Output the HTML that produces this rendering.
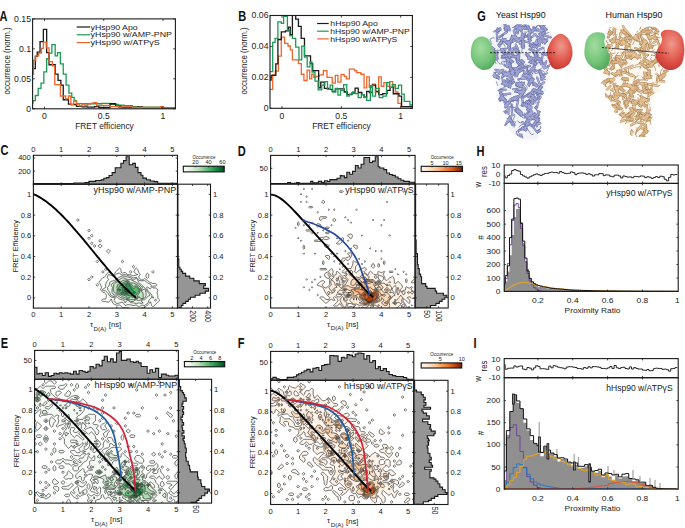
<!DOCTYPE html>
<html><head><meta charset="utf-8"><style>
html,body{margin:0;padding:0;background:#fff;width:685px;height:528px;overflow:hidden}
svg{display:block}
text{font-family:"Liberation Sans", sans-serif}
</style></head><body>
<svg width="685" height="528" viewBox="0 0 685 528">
<rect width="685" height="528" fill="#fff"/>
<text font-size="13.8" fill="#111" font-weight="bold" transform="translate(-0.5 20.8) scale(0.8 1)">A</text>
<text font-size="13.8" fill="#111" font-weight="bold" transform="translate(238.2 20.8) scale(0.8 1)">B</text>
<text font-size="13.8" fill="#111" font-weight="bold" transform="translate(0.6 155.4) scale(0.8 1)">C</text>
<text font-size="13.8" fill="#111" font-weight="bold" transform="translate(237.7 155.6) scale(0.8 1)">D</text>
<text font-size="13.8" fill="#111" font-weight="bold" transform="translate(0.7 347.6) scale(0.8 1)">E</text>
<text font-size="13.8" fill="#111" font-weight="bold" transform="translate(237.7 347.6) scale(0.8 1)">F</text>
<text font-size="13.8" fill="#111" font-weight="bold" transform="translate(477.3 21) scale(0.8 1)">G</text>
<text font-size="13.8" fill="#111" font-weight="bold" transform="translate(476.6 155.6) scale(0.8 1)">H</text>
<text font-size="13.8" fill="#111" font-weight="bold" transform="translate(473.4 347.7) scale(0.8 1)">I</text>
<clipPath id="clA"><rect x="32.6" y="18.9" width="142.8" height="89.9"/></clipPath>
<g clip-path="url(#clA)">
<path d="M32.6 103H32.95V100.72H35.31V95.51H38.16V88.41H41V83.2H43.84V71.84H46.67V58.76H49.03V53.08H51.87V44.56H55.19V55.92H57.55V52.6H60.39V63.96H63.25V74.2H66.09V85.09H68.93V93.14H71.77V97.41H74.14V100.72H76.51V103.56H82V103.74H101.62V103.31H110.03V104.3H118.44V105.14H124.05V105.7H132.46V106.54H138.06V107.1H160.49V107.94H175.9" fill="none" stroke="#1c9a55" stroke-width="1.3"/>
<path d="M33 74H33.4V68.7H35.31V56.39H37.2V52.13H40.04V41.72H43.36V29.42H46.67V52.6H49.05V64.73H55.2V74.2H58.04V80.36H60.88V85.09H63.25V99.77H68.46V104.03H70.83V104.51H76.51V106.4H82V106.82H87.61V107.1H94.61V106.54H98.82V107.52H110.03V103.74H115.64V106.12H121.24V107.52H138.06V106.82H142.27V107.94H175.9" fill="none" stroke="#1a1a1a" stroke-width="1.3"/>
<path d="M32 74.37H33.42V60.18H35.79V55.92H38.62V53.08H41.46V48.35H43.36V42.2H46.2V47.87H49.03V61.6H52.35V65.85H54.73V84.62H60.41V95.98H65.62V98.83H68.46V95.98H70.83V104.51H73.67V101.19H76.51V104.03H79.35V105.93H82V104.02H84.8V105.42H87.61V104.02H90.41V103.31H93.21V102.61H96.72V105.7H100.22V105.42H110.03V106.54H118.44V107.52H121.24V106.82H132.46V107.52H135.26V107.52H160.49V106.54H163.29V107.94H175.9" fill="none" stroke="#f0652a" stroke-width="1.3"/>
</g>
<line x1="44.5" y1="108.8" x2="44.5" y2="106.6" stroke="#1a1a1a" stroke-width="0.8"/>
<line x1="44.5" y1="18.9" x2="44.5" y2="21.1" stroke="#1a1a1a" stroke-width="0.8"/>
<text font-size="8.2" fill="#1a1a1a" text-anchor="middle" transform="translate(44.5 118.8) scale(1.06 1)">0</text>
<line x1="103.75" y1="108.8" x2="103.75" y2="106.6" stroke="#1a1a1a" stroke-width="0.8"/>
<line x1="103.75" y1="18.9" x2="103.75" y2="21.1" stroke="#1a1a1a" stroke-width="0.8"/>
<text font-size="8.2" fill="#1a1a1a" text-anchor="middle" transform="translate(103.75 118.8) scale(1.06 1)">0.5</text>
<line x1="163" y1="108.8" x2="163" y2="106.6" stroke="#1a1a1a" stroke-width="0.8"/>
<line x1="163" y1="18.9" x2="163" y2="21.1" stroke="#1a1a1a" stroke-width="0.8"/>
<text font-size="8.2" fill="#1a1a1a" text-anchor="middle" transform="translate(163 118.8) scale(1.06 1)">1</text>
<line x1="32.6" y1="108.8" x2="34.8" y2="108.8" stroke="#1a1a1a" stroke-width="0.8"/>
<line x1="175.4" y1="108.8" x2="173.2" y2="108.8" stroke="#1a1a1a" stroke-width="0.8"/>
<text font-size="8.2" fill="#1a1a1a" text-anchor="end" transform="translate(31 111.75) scale(1.06 1)">0</text>
<line x1="32.6" y1="78.8" x2="34.8" y2="78.8" stroke="#1a1a1a" stroke-width="0.8"/>
<line x1="175.4" y1="78.8" x2="173.2" y2="78.8" stroke="#1a1a1a" stroke-width="0.8"/>
<text font-size="8.2" fill="#1a1a1a" text-anchor="end" transform="translate(31 81.75) scale(1.06 1)">0.05</text>
<line x1="32.6" y1="48.8" x2="34.8" y2="48.8" stroke="#1a1a1a" stroke-width="0.8"/>
<line x1="175.4" y1="48.8" x2="173.2" y2="48.8" stroke="#1a1a1a" stroke-width="0.8"/>
<text font-size="8.2" fill="#1a1a1a" text-anchor="end" transform="translate(31 51.75) scale(1.06 1)">0.1</text>
<line x1="32.6" y1="18.8" x2="34.8" y2="18.8" stroke="#1a1a1a" stroke-width="0.8"/>
<line x1="175.4" y1="18.8" x2="173.2" y2="18.8" stroke="#1a1a1a" stroke-width="0.8"/>
<text font-size="8.2" fill="#1a1a1a" text-anchor="end" transform="translate(31 21.75) scale(1.06 1)">0.15</text>
<rect x="32.6" y="18.9" width="142.8" height="89.9" fill="none" stroke="#1a1a1a" stroke-width="1.1"/>
<text font-size="8.4" fill="#1a1a1a" text-anchor="middle" textLength="58.5" lengthAdjust="spacingAndGlyphs" transform="translate(104.5 128.6)">FRET efficiency</text>
<text font-size="8.2" fill="#1a1a1a" text-anchor="middle" textLength="67.2" lengthAdjust="spacingAndGlyphs" transform="translate(10.3 60.9) rotate(-90)">occurrence (norm.)</text>
<line x1="76.7" y1="27" x2="90" y2="27" stroke="#1a1a1a" stroke-width="1.2"/>
<line x1="76.7" y1="34.8" x2="90" y2="34.8" stroke="#1c9a55" stroke-width="1.2"/>
<line x1="76.7" y1="42.6" x2="90" y2="42.6" stroke="#f0652a" stroke-width="1.2"/>
<text font-size="7.4" fill="#1a1a1a" transform="translate(90.6 29.6) scale(1.18 1)">yHsp90 Apo</text>
<text font-size="7.4" fill="#1a1a1a" textLength="81.4" lengthAdjust="spacingAndGlyphs" transform="translate(90.6 37.4)">yHsp90 w/AMP-PNP</text>
<text font-size="7.4" fill="#1a1a1a" textLength="69" lengthAdjust="spacingAndGlyphs" transform="translate(90.6 45.2)">yHsp90 w/ATP&#947;S</text>
<clipPath id="clB"><rect x="270.0" y="15.5" width="142.39999999999998" height="92.8"/></clipPath>
<g clip-path="url(#clB)">
<path d="M270.08 89.38H272.69V74.79H275.29V71.15H278.42V56.04H281.3V37.1H284.6V43.3H288V46H290.3V49.9H292.4V59.8H298.44V63.65H301.33V74.27H303.94V80.52H307.06V70.1H309.67V78.96H311.75V74.27H313.83V77.4H315V76.88H316.56V76.35H319.17V74.79H323.33V70.62H326.98V77.4H332.19V83.12H335.31V75.31H337.92V82.08H341.04V74.58H344.17V76.35H346.25V78.96H349.38V69.06H354.58V70.62H356.67V72.71H360.83V74.27H362V74.27H364.08V87.81H366.69V76.88H369.29V87.29H372.42V84.17H375.54V91.98H378.67V76.88H381.27V86.25H383.88V82.6H387V86.25H389.6V81.56H392.73V86.25H395.33V91.98H397.94V103.44H401.06V106.56H412.21" fill="none" stroke="#f0652a" stroke-width="1.3"/>
<path d="M270 80H271.12V75.31H275.81V63.85H277.9V39.5H281.3V31.9H285.5V30.9H288.4V27.2H290.3V34.7H292.4V15.3H295.69V19.14H298.44V26.29H301.19V38.37H304.48V55.96H310.53V63.65H312.7V71.1H313.8V70.6H315V70.62H318.65V87.81H320.73V82.08H324.38V88.33H328.54V89.38H332.19V91.46H335.31V88.85H344.17V91.98H347.29V94.58H351.98V93.02H355.1V88.12H358.23V92.5H361.88V94.58H364.08V97.19H366.69V91.46H369.29V92.5H372.42V85.21H375.54V91.46H378.67V94.58H382.83V93.54H387V90.42H390.12V87.29H393.25V93.75H398.98V96.15H401.58V106.56H412" fill="none" stroke="#1a1a1a" stroke-width="1.3"/>
<path d="M270.08 71.67H272.7V42.3H275.1V38.3H277.9V21.9H281.3V23.4H283.6V16.3H287.4V30H289.65V35.63H292.4V38.37H295.69V47.16H298.99V59.8H301.74V46.07H304.48V57.05H307.23V66.95H310V62H312V72H315V81.04H318.12V89.9H321.77V85.21H324.9V81.56H327.5V89.38H330.1V85.21H332.71V91.98H335.83V88.33H337.92V95.1H340.52V90.42H343.65V84.69H346.77V96.15H349.38V94.06H352.5V91.98H355.1V93.54H358.23V97.71H361.35V94.58H362V94.58H363.96V97.71H364.08V97.19H366.69V100.31H370.33V85.73H372.42V96.15H375.54V88.33H379.19V97.71H382.83V96.15H386.48V82.6H389.6V87.29H392.21V84.69H395.33V88.33H398.46V85.21H401.58V94.06H404.19V101.35H409.92V105H412.21" fill="none" stroke="#1c9a55" stroke-width="1.3"/>
</g>
<line x1="282" y1="108.3" x2="282" y2="106.1" stroke="#1a1a1a" stroke-width="0.8"/>
<line x1="282" y1="15.5" x2="282" y2="17.7" stroke="#1a1a1a" stroke-width="0.8"/>
<text font-size="8.2" fill="#1a1a1a" text-anchor="middle" transform="translate(282 118.5) scale(1.06 1)">0</text>
<line x1="341.35" y1="108.3" x2="341.35" y2="106.1" stroke="#1a1a1a" stroke-width="0.8"/>
<line x1="341.35" y1="15.5" x2="341.35" y2="17.7" stroke="#1a1a1a" stroke-width="0.8"/>
<text font-size="8.2" fill="#1a1a1a" text-anchor="middle" transform="translate(341.35 118.5) scale(1.06 1)">0.5</text>
<line x1="400.7" y1="108.3" x2="400.7" y2="106.1" stroke="#1a1a1a" stroke-width="0.8"/>
<line x1="400.7" y1="15.5" x2="400.7" y2="17.7" stroke="#1a1a1a" stroke-width="0.8"/>
<text font-size="8.2" fill="#1a1a1a" text-anchor="middle" transform="translate(400.7 118.5) scale(1.06 1)">1</text>
<line x1="270" y1="108.3" x2="272.2" y2="108.3" stroke="#1a1a1a" stroke-width="0.8"/>
<line x1="412.4" y1="108.3" x2="410.2" y2="108.3" stroke="#1a1a1a" stroke-width="0.8"/>
<text font-size="8.2" fill="#1a1a1a" text-anchor="end" transform="translate(268.5 111.25) scale(1.06 1)">0</text>
<line x1="270" y1="77.37" x2="272.2" y2="77.37" stroke="#1a1a1a" stroke-width="0.8"/>
<line x1="412.4" y1="77.37" x2="410.2" y2="77.37" stroke="#1a1a1a" stroke-width="0.8"/>
<text font-size="8.2" fill="#1a1a1a" text-anchor="end" transform="translate(268.5 80.32) scale(1.06 1)">0.02</text>
<line x1="270" y1="46.43" x2="272.2" y2="46.43" stroke="#1a1a1a" stroke-width="0.8"/>
<line x1="412.4" y1="46.43" x2="410.2" y2="46.43" stroke="#1a1a1a" stroke-width="0.8"/>
<text font-size="8.2" fill="#1a1a1a" text-anchor="end" transform="translate(268.5 49.38) scale(1.06 1)">0.04</text>
<line x1="270" y1="15.5" x2="272.2" y2="15.5" stroke="#1a1a1a" stroke-width="0.8"/>
<line x1="412.4" y1="15.5" x2="410.2" y2="15.5" stroke="#1a1a1a" stroke-width="0.8"/>
<text font-size="8.2" fill="#1a1a1a" text-anchor="end" transform="translate(268.5 18.45) scale(1.06 1)">0.06</text>
<rect x="270" y="15.5" width="142.4" height="92.8" fill="none" stroke="#1a1a1a" stroke-width="1.1"/>
<text font-size="8.4" fill="#1a1a1a" text-anchor="middle" textLength="58.5" lengthAdjust="spacingAndGlyphs" transform="translate(341.5 128.6)">FRET efficiency</text>
<text font-size="8.2" fill="#1a1a1a" text-anchor="middle" textLength="67.2" lengthAdjust="spacingAndGlyphs" transform="translate(246.8 60.9) rotate(-90)">occurrence (norm.)</text>
<line x1="317.1" y1="23.5" x2="328.7" y2="23.5" stroke="#1a1a1a" stroke-width="1.2"/>
<line x1="317.1" y1="31.2" x2="328.7" y2="31.2" stroke="#1c9a55" stroke-width="1.2"/>
<line x1="317.1" y1="38.9" x2="328.7" y2="38.9" stroke="#f0652a" stroke-width="1.2"/>
<text font-size="7.4" fill="#1a1a1a" transform="translate(330.3 26.1) scale(1.18 1)">hHsp90 Apo</text>
<text font-size="7.4" fill="#1a1a1a" textLength="79.4" lengthAdjust="spacingAndGlyphs" transform="translate(330.3 33.8)">hHsp90 w/AMP-PNP</text>
<text font-size="7.4" fill="#1a1a1a" textLength="67" lengthAdjust="spacingAndGlyphs" transform="translate(330.3 41.5)">hHsp90 w/ATP&#947;S</text>
<clipPath id="clC"><rect x="33.4" y="184.2" width="144.1" height="123.9"/></clipPath>
<g clip-path="url(#clC)">
<path d="M122.4 307.5L125.1 307.7L127.9 307.5L129.3 308.1L130.7 308.1L133.5 308.1L136.3 308.1L139 308.1L141.1 308.1L141.8 307.5L144.6 307.7L146.9 305.5L147.4 305.2L149.8 302.9L150.2 301.6L150.9 302.9L151.6 305.5L152.9 306.8L154.3 305.5L155.7 304.2L157.1 302.9L158.5 301.6L159.9 300.3L158.5 299L157.8 297.8L157.8 295.2L157.1 292.6L158 290L155.7 287.8L152.9 288L152.7 287.4L152.9 286.1L155.7 286.1L157.1 284.8L155.7 283.5L152.9 283.5L150.2 282.5L149.5 282.2L147.4 280.3L146 279.6L144.6 278.3L143.2 279.6L141.8 279.9L141.1 279.6L139 277.7L138.6 277.1L139 275.8L140.4 274.5L139 273.2L138.6 271.9L137.7 269.3L136.3 268L134.9 269.3L133.9 271.9L136.3 274L137.7 274.5L136.3 274.9L133.5 275.8L130.7 274.8L127.9 274.6L127.5 274.5L125.1 272.3L122.4 273.2L121 271.9L121 269.3L119.6 268L118.2 269.3L116.8 270.6L115.4 271.9L114.4 274.5L114 274.8L112.6 274.5L111.2 273.2L108.5 272.3L106.1 274.5L105.7 275.8L104.3 277.1L102.9 277.7L100.8 279.6L100.1 280.9L98.7 282.2L100.1 283.5L100.6 284.8L101.5 287.4L100.5 290L102.9 292.3L104.3 292.6L105.7 293.9L106.4 295.2L106.1 297.8L105.7 299L102.9 299L101.5 300.3L102.9 301.6L105.7 301.6L108.5 302.3L110.5 300.3L111.2 299L111.7 300.3L112.6 302.9L114 304.2L116.8 305.2L119.6 305.1L120.3 305.5ZM137.2 305.5L136.3 305.1L133.5 305.5L130.7 304.9L127.9 304.7L125.1 305.5L122.9 302.9L122.4 302.1L119.6 302.9L119.6 302.9L116.8 303.6L115.9 302.9L114 300.3L115.4 297.8L114 297.5L111.2 297L108.9 295.2L108.5 293.9L107.5 292.6L105.7 290.9L102.9 290.6L102.2 290L102.9 289.1L105.7 287.4L105.7 287.4L105.7 284.8L106.4 282.2L108.5 279.6L108.5 279.6L108.5 279.6L107.1 277.1L108.5 274.5L111.2 275.3L114 276.4L116.1 274.5L116.8 273.6L119.6 273.2L121 274.5L122.4 275L125.1 274.5L127.9 275.6L130.7 276.4L131.6 277.1L133.5 278.1L136.3 277.1L138.7 279.6L139 280.3L141.8 280.9L144.6 280.5L146.8 282.2L147.4 282.7L150.2 284.2L151.1 284.8L151.3 287.4L150.2 289.1L148.3 287.4L147.4 286.9L146.7 287.4L147.4 290L147.4 290L149.8 292.6L150.2 293.1L152 295.2L151.3 297.8L150.2 299L148.8 300.3L148.1 302.9L147.4 303.6L144.6 305.5L141.8 305.1L140.9 305.5L139 307.2ZM154.3 300.3L155.7 299L156.6 300.3L155.7 301.2ZM152.7 297.8L152.9 296.5L153.6 297.8L152.9 298.4ZM97.3 286.1L98.7 284.8L97.3 283.5L96 284.8ZM89 280.9L90.4 279.6L89 278.3L87.6 279.6ZM91.8 278.3L93.2 277.1L91.8 275.8L90.4 277.1ZM147.4 278.3L148.8 277.1L148.8 274.5L147.4 273.2L146 274.5L146 277.1ZM102.9 273.2L104.3 271.9L102.9 270.6L101.5 271.9ZM130.7 273.2L132.1 271.9L130.7 270.6L129.3 271.9ZM152.9 273.2L154.3 271.9L152.9 270.6L151.6 271.9ZM105.7 270.6L107.1 269.3L105.7 268L104.3 269.3ZM133.5 268L134.9 266.7L133.5 265.4L132.1 266.7ZM97.3 262.8L98.7 261.5L97.3 260.2L96 261.5ZM122.4 262.8L123.8 261.5L122.4 260.2L121 261.5ZM108.5 253.1L110.5 251.2L108.5 249.2L106.4 251.2ZM94.6 247.3L96 246L94.6 244.7L93.2 246ZM100.1 247.9L102.2 246L100.1 244.1L98 246ZM91.8 244.7L93.2 243.4L91.8 242.1L90.4 243.4ZM100.1 242.1L101.5 240.8L100.1 239.5L98.7 240.8ZM89 239.5L90.4 238.2L89 236.9L87.6 238.2ZM91.8 236.9L93.2 235.7L91.8 234.4L90.4 235.7ZM89 231.8L90.4 230.5L89 229.2L87.6 230.5ZM77.9 221.4L79.3 220.1L77.9 218.8L76.5 220.1Z" fill="#f9fdf8" stroke="none" fill-rule="evenodd"/>
<path d="M139 307.2L140.9 305.5L141.8 305.1L144.6 305.5L147.4 303.6L148.1 302.9L148.8 300.3L150.2 299L151.3 297.8L152 295.2L150.2 293.1L149.8 292.6L147.4 290L147.4 290L146.7 287.4L147.4 286.9L148.3 287.4L150.2 289.1L151.3 287.4L151.1 284.8L150.2 284.2L147.4 282.7L146.8 282.2L144.6 280.5L141.8 280.9L139 280.3L138.7 279.6L136.3 277.1L133.5 278.1L131.6 277.1L130.7 276.4L127.9 275.6L125.1 274.5L122.4 275L121 274.5L119.6 273.2L116.8 273.6L116.1 274.5L114 276.4L111.2 275.3L108.5 274.5L107.1 277.1L108.5 279.6L108.5 279.6L108.5 279.6L106.4 282.2L105.7 284.8L105.7 287.4L105.7 287.4L102.9 289.1L102.2 290L102.9 290.6L105.7 290.9L107.5 292.6L108.5 293.9L108.9 295.2L111.2 297L114 297.5L115.4 297.8L114 300.3L115.9 302.9L116.8 303.6L119.6 302.9L119.6 302.9L122.4 302.1L122.9 302.9L125.1 305.5L127.9 304.7L130.7 304.9L133.5 305.5L136.3 305.1L137.2 305.5ZM133.5 302.9L133.5 302.9L130.7 302.7L128.1 300.3L127.9 300.2L127 300.3L125.1 302.9L123.8 300.3L122.4 299.8L119.6 299.2L118 297.8L116.8 296.8L114 296.6L111.2 295.5L110.8 295.2L109.7 292.6L108.5 290.6L107.8 290L107.5 287.4L108.5 286.4L109.3 284.8L109.9 282.2L111.2 281.4L114 280.6L116.1 279.6L116.8 278.8L119.6 277.1L119.6 277.1L122.4 276L125.1 276.2L127.9 277.1L127.9 277.1L130.7 277.8L133.1 279.6L133.5 279.9L134 279.6L136.3 278.3L137.5 279.6L138.6 282.2L139 282.5L141.3 284.8L141.8 285.3L144.3 287.4L144.6 287.6L146.6 290L147.4 291.7L148.2 292.6L150.2 295.2L147.4 296.7L146.8 297.8L144.6 299.8L141.8 300.1L141.3 300.3L141.8 302.1L143.2 302.9L141.8 303.4L139 302.9L139 302.9L139 302.9L136.3 303.7ZM136.3 300.3L136.3 300.3L136.3 300.3L136.3 300.3ZM155.7 301.2L156.6 300.3L155.7 299L154.3 300.3ZM111.2 287.4L111.2 287.4L111.2 287.4L111.2 287.4Z" fill="#f5faf4" stroke="none" fill-rule="evenodd"/>
<path d="M136.3 303.7L139 302.9L139 302.9L139 302.9L141.8 303.4L143.2 302.9L141.8 302.1L141.3 300.3L141.8 300.1L144.6 299.8L146.8 297.8L147.4 296.7L150.2 295.2L148.2 292.6L147.4 291.7L146.6 290L144.6 287.6L144.3 287.4L141.8 285.3L141.3 284.8L139 282.5L138.6 282.2L137.5 279.6L136.3 278.3L134 279.6L133.5 279.9L133.1 279.6L130.7 277.8L127.9 277.1L127.9 277.1L125.1 276.2L122.4 276L119.6 277.1L119.6 277.1L116.8 278.8L116.1 279.6L114 280.6L111.2 281.4L109.9 282.2L109.3 284.8L108.5 286.4L107.5 287.4L107.8 290L108.5 290.6L109.7 292.6L110.8 295.2L111.2 295.5L114 296.6L116.8 296.8L118 297.8L119.6 299.2L122.4 299.8L123.8 300.3L125.1 302.9L127 300.3L127.9 300.2L128.1 300.3L130.7 302.7L133.5 302.9L133.5 302.9ZM129.4 300.3L127.9 299.6L125.1 299.4L122.4 298.3L121 297.8L119.6 297L117.3 295.2L116.8 295L114 295.2L112 292.6L112 290L112.4 287.4L111.2 285.2L111 284.8L111.2 284.4L114 282.5L114.3 282.2L116.8 280.6L119.1 279.6L119.6 279.3L122.4 277.9L125.1 278.1L127.5 279.6L127.9 279.8L129.3 279.6L130.7 279.4L131 279.6L133.5 281.1L135.8 282.2L136.3 282.5L139 284.2L139.6 284.8L141.8 286.7L142.7 287.4L141.8 289L141.6 290L141.8 290.5L142.6 290L144.6 288.9L145.5 290L146 292.6L146.2 295.2L144.9 297.8L144.6 298L141.8 299.4L139.6 300.3L139 301L138.3 300.3L136.3 299.8L134.7 300.3L133.5 301.5L130.7 301.5ZM136.3 300.3L136.3 300.3L136.3 300.3L136.3 300.3ZM111.2 287.4L111.2 287.4L111.2 287.4L111.2 287.4Z" fill="#eef7ec" stroke="none" fill-rule="evenodd"/>
<path d="M130.7 301.5L133.5 301.5L134.7 300.3L136.3 299.8L138.3 300.3L139 301L139.6 300.3L141.8 299.4L144.6 298L144.9 297.8L146.2 295.2L146 292.6L145.5 290L144.6 288.9L142.6 290L141.8 290.5L141.6 290L141.8 289L142.7 287.4L141.8 286.7L139.6 284.8L139 284.2L136.3 282.5L135.8 282.2L133.5 281.1L131 279.6L130.7 279.4L129.3 279.6L127.9 279.8L127.5 279.6L125.1 278.1L122.4 277.9L119.6 279.3L119.1 279.6L116.8 280.6L114.3 282.2L114 282.5L111.2 284.4L111 284.8L111.2 285.2L112.4 287.4L112 290L112 292.6L114 295.2L116.8 295L117.3 295.2L119.6 297L121 297.8L122.4 298.3L125.1 299.4L127.9 299.6L129.4 300.3ZM125.1 297.8L125.1 297.8L122.4 296.7L120.2 295.2L119.6 294.9L116.8 293.9L114.6 292.6L114 291.9L113.1 290L113.6 287.4L113.6 284.8L114 284.5L116.2 282.2L116.8 281.9L118.7 282.2L119.6 282.4L120.1 282.2L122.4 280.7L125.1 279.9L127.9 280.5L130 282.2L130.7 283.1L133.5 283L136.3 284.3L137.1 284.8L139 286.1L140.6 287.4L141 290L141.8 292.1L142.9 292.6L143.2 295.2L143.3 297.8L141.8 298.6L139.7 297.8L139 296.5L138.7 297.8L136.3 299.1L133.5 299.7L130.7 299.5L127.9 298.8ZM116.8 290.3L116.9 290L116.8 289.7L116.4 290Z" fill="#daeed9" stroke="none" fill-rule="evenodd"/>
<path d="M127.9 298.8L130.7 299.5L133.5 299.7L136.3 299.1L138.7 297.8L139 296.5L139.7 297.8L141.8 298.6L143.3 297.8L143.2 295.2L142.9 292.6L141.8 292.1L141 290L140.6 287.4L139 286.1L137.1 284.8L136.3 284.3L133.5 283L130.7 283.1L130 282.2L127.9 280.5L125.1 279.9L122.4 280.7L120.1 282.2L119.6 282.4L118.7 282.2L116.8 281.9L116.2 282.2L114 284.5L113.6 284.8L113.6 287.4L113.1 290L114 291.9L114.6 292.6L116.8 293.9L119.6 294.9L120.2 295.2L122.4 296.7L125.1 297.8L125.1 297.8ZM127.4 297.8L125.1 295.7L123.3 295.2L122.4 295L119.6 293.6L116.8 292.6L117.7 290L116.8 287.4L117.6 284.8L119.6 283.9L122.4 283.1L123.9 282.2L125.1 281.6L127.9 281.4L128.9 282.2L130.7 284.5L131.8 284.8L133.5 286.4L136.3 285.7L138.4 287.4L139 287.9L140.2 290L139.7 292.6L139 293.2L137.8 295.2L137.4 297.8L136.3 298.4L134.1 297.8L133.5 297.4L130.7 296.7L128.6 297.8L127.9 298ZM116.4 290L116.8 289.7L116.9 290L116.8 290.3Z" fill="#c1e3c1" stroke="none" fill-rule="evenodd"/>
<path d="M127.9 298L128.6 297.8L130.7 296.7L133.5 297.4L134.1 297.8L136.3 298.4L137.4 297.8L137.8 295.2L139 293.2L139.7 292.6L140.2 290L139 287.9L138.4 287.4L136.3 285.7L133.5 286.4L131.8 284.8L130.7 284.5L128.9 282.2L127.9 281.4L125.1 281.6L123.9 282.2L122.4 283.1L119.6 283.9L117.6 284.8L116.8 287.4L117.7 290L116.8 292.6L119.6 293.6L122.4 295L123.3 295.2L125.1 295.7L127.4 297.8ZM127.5 295.2L125.1 294.5L122.4 294.1L119.8 292.6L119.6 292.4L118.4 290L118.7 287.4L119.6 285.9L122.4 284.8L122.4 284.8L125.1 283.3L127.9 282.4L130 284.8L130.7 285.8L132.4 287.4L133.5 289L135.3 287.4L136.3 286.9L136.9 287.4L139 289.3L139.4 290L139 291L137.8 292.6L136.3 294.8L135.9 295.2L133.5 296.1L130.7 295.3L127.9 295.5Z" fill="#8fce9b" stroke="none" fill-rule="evenodd"/>
<path d="M127.9 295.5L130.7 295.3L133.5 296.1L135.9 295.2L136.3 294.8L137.8 292.6L139 291L139.4 290L139 289.3L136.9 287.4L136.3 286.9L135.3 287.4L133.5 289L132.4 287.4L130.7 285.8L130 284.8L127.9 282.4L125.1 283.3L122.4 284.8L122.4 284.8L119.6 285.9L118.7 287.4L118.4 290L119.6 292.4L119.8 292.6L122.4 294.1L125.1 294.5L127.5 295.2ZM121.7 292.6L122.4 291L122.6 290L122.4 288.7L121.6 287.4L122.4 286.9L123.3 287.4L125.1 287.9L126.2 287.4L125.6 284.8L127.9 283.6L129 284.8L130.7 287.2L130.9 287.4L132.1 290L133.5 290.8L135.8 292.6L133.5 294.6L130.7 292.6L130.7 292.6L130.7 292.6L127.9 294.1L125.1 293.4L122.4 292.9ZM119.3 290L119.6 289L121.2 290L119.6 290.6Z" fill="#5ab973" stroke="none" fill-rule="evenodd"/>
<path d="M122.4 292.9L125.1 293.4L127.9 294.1L130.7 292.6L130.7 292.6L130.7 292.6L133.5 294.6L135.8 292.6L133.5 290.8L132.1 290L130.9 287.4L130.7 287.2L129 284.8L127.9 283.6L125.6 284.8L126.2 287.4L125.1 287.9L123.3 287.4L122.4 286.9L121.6 287.4L122.4 288.7L122.6 290L122.4 291L121.7 292.6ZM126.8 292.6L125.1 291.9L124 290L125.1 289L127.9 288.4L129.3 290L128.4 292.6L127.9 292.8ZM133.2 292.6L133.5 292.4L133.7 292.6L133.5 292.8ZM119.6 290.6L121.2 290L119.6 289L119.3 290Z" fill="#299751" stroke="none" fill-rule="evenodd"/>
<path d="M127.9 292.8L128.4 292.6L129.3 290L127.9 288.4L125.1 289L124 290L125.1 291.9L126.8 292.6ZM133.5 292.8L133.7 292.6L133.5 292.4L133.2 292.6Z" fill="#0a6632" stroke="none" fill-rule="evenodd"/>
<path d="M141.1 308.1L141.8 307.5L144.6 307.7L146.9 305.5L147.4 305.2L149.8 302.9L150.2 301.6L150.9 302.9L151.6 305.5L152.9 306.8L154.3 305.5L155.7 304.2L157.1 302.9L158.5 301.6L159.9 300.3L158.5 299L157.8 297.8L157.8 295.2L157.1 292.6L158 290L155.7 287.8L152.9 288L152.7 287.4L152.9 286.1L155.7 286.1L157.1 284.8L155.7 283.5L152.9 283.5L150.2 282.5L149.5 282.2L147.4 280.3L146 279.6L144.6 278.3L143.2 279.6L141.8 279.9L141.1 279.6L139 277.7L138.6 277.1L139 275.8L140.4 274.5L139 273.2L138.6 271.9L137.7 269.3L136.3 268L134.9 269.3L133.9 271.9L136.3 274L137.7 274.5L136.3 274.9L133.5 275.8L130.7 274.8L127.9 274.6L127.5 274.5L125.1 272.3L122.4 273.2L121 271.9L121 269.3L119.6 268L118.2 269.3L116.8 270.6L115.4 271.9L114.4 274.5L114 274.8L112.6 274.5L111.2 273.2L108.5 272.3L106.1 274.5L105.7 275.8L104.3 277.1L102.9 277.7L100.8 279.6L100.1 280.9L98.7 282.2L100.1 283.5L100.6 284.8L101.5 287.4L100.5 290L102.9 292.3L104.3 292.6L105.7 293.9L106.4 295.2L106.1 297.8L105.7 299L102.9 299L101.5 300.3L102.9 301.6L105.7 301.6L108.5 302.3L110.5 300.3L111.2 299L111.7 300.3L112.6 302.9L114 304.2L116.8 305.2L119.6 305.1L120.3 305.5L122.4 307.5L125.1 307.7L127.9 307.5L129.3 308.1M152.9 298.4L152.7 297.8L152.9 296.5L153.6 297.8ZM97.3 286.1L98.7 284.8L97.3 283.5L96 284.8ZM89 280.9L90.4 279.6L89 278.3L87.6 279.6ZM91.8 278.3L93.2 277.1L91.8 275.8L90.4 277.1ZM147.4 278.3L148.8 277.1L148.8 274.5L147.4 273.2L146 274.5L146 277.1ZM102.9 273.2L104.3 271.9L102.9 270.6L101.5 271.9ZM130.7 273.2L132.1 271.9L130.7 270.6L129.3 271.9ZM152.9 273.2L154.3 271.9L152.9 270.6L151.6 271.9ZM105.7 270.6L107.1 269.3L105.7 268L104.3 269.3ZM133.5 268L134.9 266.7L133.5 265.4L132.1 266.7ZM97.3 262.8L98.7 261.5L97.3 260.2L96 261.5ZM122.4 262.8L123.8 261.5L122.4 260.2L121 261.5ZM108.5 253.1L110.5 251.2L108.5 249.2L106.4 251.2ZM94.6 247.3L96 246L94.6 244.7L93.2 246ZM100.1 247.9L102.2 246L100.1 244.1L98 246ZM91.8 244.7L93.2 243.4L91.8 242.1L90.4 243.4ZM100.1 242.1L101.5 240.8L100.1 239.5L98.7 240.8ZM89 239.5L90.4 238.2L89 236.9L87.6 238.2ZM91.8 236.9L93.2 235.7L91.8 234.4L90.4 235.7ZM89 231.8L90.4 230.5L89 229.2L87.6 230.5ZM77.9 221.4L79.3 220.1L77.9 218.8L76.5 220.1ZM139 307.2L140.9 305.5L141.8 305.1L144.6 305.5L147.4 303.6L148.1 302.9L148.8 300.3L150.2 299L151.3 297.8L152 295.2L150.2 293.1L149.8 292.6L147.4 290L147.4 290L146.7 287.4L147.4 286.9L148.3 287.4L150.2 289.1L151.3 287.4L151.1 284.8L150.2 284.2L147.4 282.7L146.8 282.2L144.6 280.5L141.8 280.9L139 280.3L138.7 279.6L136.3 277.1L133.5 278.1L131.6 277.1L130.7 276.4L127.9 275.6L125.1 274.5L122.4 275L121 274.5L119.6 273.2L116.8 273.6L116.1 274.5L114 276.4L111.2 275.3L108.5 274.5L107.1 277.1L108.5 279.6L108.5 279.6L108.5 279.6L106.4 282.2L105.7 284.8L105.7 287.4L105.7 287.4L102.9 289.1L102.2 290L102.9 290.6L105.7 290.9L107.5 292.6L108.5 293.9L108.9 295.2L111.2 297L114 297.5L115.4 297.8L114 300.3L115.9 302.9L116.8 303.6L119.6 302.9L119.6 302.9L122.4 302.1L122.9 302.9L125.1 305.5L127.9 304.7L130.7 304.9L133.5 305.5L136.3 305.1L137.2 305.5ZM155.7 301.2L156.6 300.3L155.7 299L154.3 300.3ZM136.3 303.7L139 302.9L139 302.9L139 302.9L141.8 303.4L143.2 302.9L141.8 302.1L141.3 300.3L141.8 300.1L144.6 299.8L146.8 297.8L147.4 296.7L150.2 295.2L148.2 292.6L147.4 291.7L146.6 290L144.6 287.6L144.3 287.4L141.8 285.3L141.3 284.8L139 282.5L138.6 282.2L137.5 279.6L136.3 278.3L134 279.6L133.5 279.9L133.1 279.6L130.7 277.8L127.9 277.1L127.9 277.1L125.1 276.2L122.4 276L119.6 277.1L119.6 277.1L116.8 278.8L116.1 279.6L114 280.6L111.2 281.4L109.9 282.2L109.3 284.8L108.5 286.4L107.5 287.4L107.8 290L108.5 290.6L109.7 292.6L110.8 295.2L111.2 295.5L114 296.6L116.8 296.8L118 297.8L119.6 299.2L122.4 299.8L123.8 300.3L125.1 302.9L127 300.3L127.9 300.2L128.1 300.3L130.7 302.7L133.5 302.9L133.5 302.9ZM136.3 300.3L136.3 300.3L136.3 300.3L136.3 300.3ZM111.2 287.4L111.2 287.4L111.2 287.4L111.2 287.4ZM130.7 301.5L133.5 301.5L134.7 300.3L136.3 299.8L138.3 300.3L139 301L139.6 300.3L141.8 299.4L144.6 298L144.9 297.8L146.2 295.2L146 292.6L145.5 290L144.6 288.9L142.6 290L141.8 290.5L141.6 290L141.8 289L142.7 287.4L141.8 286.7L139.6 284.8L139 284.2L136.3 282.5L135.8 282.2L133.5 281.1L131 279.6L130.7 279.4L129.3 279.6L127.9 279.8L127.5 279.6L125.1 278.1L122.4 277.9L119.6 279.3L119.1 279.6L116.8 280.6L114.3 282.2L114 282.5L111.2 284.4L111 284.8L111.2 285.2L112.4 287.4L112 290L112 292.6L114 295.2L116.8 295L117.3 295.2L119.6 297L121 297.8L122.4 298.3L125.1 299.4L127.9 299.6L129.4 300.3ZM127.9 298.8L130.7 299.5L133.5 299.7L136.3 299.1L138.7 297.8L139 296.5L139.7 297.8L141.8 298.6L143.3 297.8L143.2 295.2L142.9 292.6L141.8 292.1L141 290L140.6 287.4L139 286.1L137.1 284.8L136.3 284.3L133.5 283L130.7 283.1L130 282.2L127.9 280.5L125.1 279.9L122.4 280.7L120.1 282.2L119.6 282.4L118.7 282.2L116.8 281.9L116.2 282.2L114 284.5L113.6 284.8L113.6 287.4L113.1 290L114 291.9L114.6 292.6L116.8 293.9L119.6 294.9L120.2 295.2L122.4 296.7L125.1 297.8L125.1 297.8ZM116.8 290.3L116.4 290L116.8 289.7L116.9 290ZM127.9 298L128.6 297.8L130.7 296.7L133.5 297.4L134.1 297.8L136.3 298.4L137.4 297.8L137.8 295.2L139 293.2L139.7 292.6L140.2 290L139 287.9L138.4 287.4L136.3 285.7L133.5 286.4L131.8 284.8L130.7 284.5L128.9 282.2L127.9 281.4L125.1 281.6L123.9 282.2L122.4 283.1L119.6 283.9L117.6 284.8L116.8 287.4L117.7 290L116.8 292.6L119.6 293.6L122.4 295L123.3 295.2L125.1 295.7L127.4 297.8ZM127.9 295.5L130.7 295.3L133.5 296.1L135.9 295.2L136.3 294.8L137.8 292.6L139 291L139.4 290L139 289.3L136.9 287.4L136.3 286.9L135.3 287.4L133.5 289L132.4 287.4L130.7 285.8L130 284.8L127.9 282.4L125.1 283.3L122.4 284.8L122.4 284.8L119.6 285.9L118.7 287.4L118.4 290L119.6 292.4L119.8 292.6L122.4 294.1L125.1 294.5L127.5 295.2ZM122.4 292.9L125.1 293.4L127.9 294.1L130.7 292.6L130.7 292.6L130.7 292.6L133.5 294.6L135.8 292.6L133.5 290.8L132.1 290L130.9 287.4L130.7 287.2L129 284.8L127.9 283.6L125.6 284.8L126.2 287.4L125.1 287.9L123.3 287.4L122.4 286.9L121.6 287.4L122.4 288.7L122.6 290L122.4 291L121.7 292.6ZM119.6 290.6L121.2 290L119.6 289L119.3 290ZM127.9 292.8L128.4 292.6L129.3 290L127.9 288.4L125.1 289L124 290L125.1 291.9L126.8 292.6ZM133.5 292.8L133.7 292.6L133.5 292.4L133.2 292.6Z" fill="none" stroke="#1c1c1c" stroke-width="0.6" stroke-linejoin="round"/>
<path d="M33.4 194.08 L35.13 194.85 L36.86 195.71 L38.59 196.63 L40.32 197.64 L42.05 198.71 L43.78 199.85 L45.5 201.06 L47.23 202.33 L48.96 203.67 L50.69 205.06 L52.42 206.51 L54.15 208.02 L55.88 209.57 L57.61 211.18 L59.34 212.84 L61.07 214.54 L62.8 216.29 L64.53 218.07 L66.26 219.89 L67.99 221.75 L69.71 223.65 L71.44 225.57 L73.17 227.53 L74.9 229.51 L76.63 231.51 L78.36 233.54 L80.09 235.58 L81.82 237.64 L83.55 239.72 L85.28 241.81 L87.01 243.91 L88.74 246.02 L90.47 248.13 L92.19 250.25 L93.92 252.37 L95.65 254.48 L97.38 256.6 L99.11 258.7 L100.84 260.8 L102.57 262.88 L104.3 264.96 L106.03 267.01 L107.76 269.05 L109.49 271.07 L111.22 273.07 L112.95 275.04 L114.67 276.98 L116.4 278.89 L118.13 280.77 L119.86 282.62 L121.59 284.43 L123.32 286.2 L125.05 287.93 L126.78 289.61 L128.51 291.25 L130.24 292.84 L131.97 294.38 L133.7 295.87 L135.43 297.3" fill="none" stroke="#000" stroke-width="1.9" stroke-linecap="round"/>
</g>
<text font-size="8.2" fill="#1a1a1a" text-anchor="end" textLength="82.7" lengthAdjust="spacingAndGlyphs" transform="translate(176.2 193.2)">yHsp90 w/AMP-PNP</text>
<clipPath id="ctC"><rect x="33.4" y="155.3" width="144.1" height="28.9"/></clipPath>
<g clip-path="url(#ctC)">
<path d="M33.4 185.2V183.6H73.8V183H85V182.66H88.94V181.34H95.51V180.47H101.2V179.85H103.83V178.28H106.46V177.58H109.09V175.47H112.15V172.58H115.22V167.77H120.91V163.21H123.54V160.58H126.17V156.82H129.23V164.7H132.74V163.39H135.36V167.33H137.99V172.58H140V172.61H140.97V175.19H142.9V178.09H146.44V179.7H150.31V180.99H154.17V181.63H157.71V183.24H177.36V185.2Z" fill="#959595" stroke="#1a1a1a" stroke-width="1.1"/>
</g>
<clipPath id="crC"><rect x="177.5" y="184.2" width="33" height="123.9"/></clipPath>
<g clip-path="url(#crC)">
<path d="M176.5 184.2H177.86V240H178.14V259.09H178.82V267.27H179.91V269.32H181.27V271.37H182.64V273.41H185.64V276.14H189.73V278.18H193.82V280.91H199.27V283.64H205.41V285.68H203.64V288.41H208.55V291.14H205.41V293.18H199.96V295.23H195.18V297.28H190.41V299.32H188.36V301.37H185.64V303.41H182.91V305.46H181.27V307.78H176.5Z" fill="#959595" stroke="#1a1a1a" stroke-width="1.1"/>
</g>
<line x1="33.4" y1="308.1" x2="33.4" y2="306.3" stroke="#1a1a1a" stroke-width="0.8"/>
<line x1="33.4" y1="184.2" x2="33.4" y2="186" stroke="#1a1a1a" stroke-width="0.8"/>
<line x1="33.4" y1="184.2" x2="33.4" y2="182.4" stroke="#1a1a1a" stroke-width="0.8"/>
<line x1="33.4" y1="155.3" x2="33.4" y2="157.1" stroke="#1a1a1a" stroke-width="0.8"/>
<text font-size="6.9" fill="#1a1a1a" text-anchor="middle" transform="translate(33.4 317.3) scale(1.1 1)">0</text>
<text font-size="6.9" fill="#1a1a1a" text-anchor="middle" transform="translate(33.4 151.9) scale(1.1 1)">0</text>
<line x1="61.2" y1="308.1" x2="61.2" y2="306.3" stroke="#1a1a1a" stroke-width="0.8"/>
<line x1="61.2" y1="184.2" x2="61.2" y2="186" stroke="#1a1a1a" stroke-width="0.8"/>
<line x1="61.2" y1="184.2" x2="61.2" y2="182.4" stroke="#1a1a1a" stroke-width="0.8"/>
<line x1="61.2" y1="155.3" x2="61.2" y2="157.1" stroke="#1a1a1a" stroke-width="0.8"/>
<text font-size="6.9" fill="#1a1a1a" text-anchor="middle" transform="translate(61.2 317.3) scale(1.1 1)">1</text>
<text font-size="6.9" fill="#1a1a1a" text-anchor="middle" transform="translate(61.2 151.9) scale(1.1 1)">1</text>
<line x1="89" y1="308.1" x2="89" y2="306.3" stroke="#1a1a1a" stroke-width="0.8"/>
<line x1="89" y1="184.2" x2="89" y2="186" stroke="#1a1a1a" stroke-width="0.8"/>
<line x1="89" y1="184.2" x2="89" y2="182.4" stroke="#1a1a1a" stroke-width="0.8"/>
<line x1="89" y1="155.3" x2="89" y2="157.1" stroke="#1a1a1a" stroke-width="0.8"/>
<text font-size="6.9" fill="#1a1a1a" text-anchor="middle" transform="translate(89 317.3) scale(1.1 1)">2</text>
<text font-size="6.9" fill="#1a1a1a" text-anchor="middle" transform="translate(89 151.9) scale(1.1 1)">2</text>
<line x1="116.8" y1="308.1" x2="116.8" y2="306.3" stroke="#1a1a1a" stroke-width="0.8"/>
<line x1="116.8" y1="184.2" x2="116.8" y2="186" stroke="#1a1a1a" stroke-width="0.8"/>
<line x1="116.8" y1="184.2" x2="116.8" y2="182.4" stroke="#1a1a1a" stroke-width="0.8"/>
<line x1="116.8" y1="155.3" x2="116.8" y2="157.1" stroke="#1a1a1a" stroke-width="0.8"/>
<text font-size="6.9" fill="#1a1a1a" text-anchor="middle" transform="translate(116.8 317.3) scale(1.1 1)">3</text>
<text font-size="6.9" fill="#1a1a1a" text-anchor="middle" transform="translate(116.8 151.9) scale(1.1 1)">3</text>
<line x1="144.6" y1="308.1" x2="144.6" y2="306.3" stroke="#1a1a1a" stroke-width="0.8"/>
<line x1="144.6" y1="184.2" x2="144.6" y2="186" stroke="#1a1a1a" stroke-width="0.8"/>
<line x1="144.6" y1="184.2" x2="144.6" y2="182.4" stroke="#1a1a1a" stroke-width="0.8"/>
<line x1="144.6" y1="155.3" x2="144.6" y2="157.1" stroke="#1a1a1a" stroke-width="0.8"/>
<text font-size="6.9" fill="#1a1a1a" text-anchor="middle" transform="translate(144.6 317.3) scale(1.1 1)">4</text>
<text font-size="6.9" fill="#1a1a1a" text-anchor="middle" transform="translate(144.6 151.9) scale(1.1 1)">4</text>
<line x1="172.4" y1="308.1" x2="172.4" y2="306.3" stroke="#1a1a1a" stroke-width="0.8"/>
<line x1="172.4" y1="184.2" x2="172.4" y2="186" stroke="#1a1a1a" stroke-width="0.8"/>
<line x1="172.4" y1="184.2" x2="172.4" y2="182.4" stroke="#1a1a1a" stroke-width="0.8"/>
<line x1="172.4" y1="155.3" x2="172.4" y2="157.1" stroke="#1a1a1a" stroke-width="0.8"/>
<text font-size="6.9" fill="#1a1a1a" text-anchor="middle" transform="translate(172.4 317.3) scale(1.1 1)">5</text>
<text font-size="6.9" fill="#1a1a1a" text-anchor="middle" transform="translate(172.4 151.9) scale(1.1 1)">5</text>
<line x1="33.4" y1="297.9" x2="35.2" y2="297.9" stroke="#1a1a1a" stroke-width="0.8"/>
<line x1="177.5" y1="297.9" x2="175.7" y2="297.9" stroke="#1a1a1a" stroke-width="0.8"/>
<line x1="177.5" y1="297.9" x2="179.3" y2="297.9" stroke="#1a1a1a" stroke-width="0.8"/>
<line x1="210.5" y1="297.9" x2="208.7" y2="297.9" stroke="#1a1a1a" stroke-width="0.8"/>
<text font-size="6.9" fill="#1a1a1a" text-anchor="end" transform="translate(31.2 300.3) scale(1.1 1)">0</text>
<text font-size="6.9" fill="#1a1a1a" transform="translate(212.9 300.3) scale(1.1 1)">0</text>
<line x1="33.4" y1="277.2" x2="35.2" y2="277.2" stroke="#1a1a1a" stroke-width="0.8"/>
<line x1="177.5" y1="277.2" x2="175.7" y2="277.2" stroke="#1a1a1a" stroke-width="0.8"/>
<line x1="177.5" y1="277.2" x2="179.3" y2="277.2" stroke="#1a1a1a" stroke-width="0.8"/>
<line x1="210.5" y1="277.2" x2="208.7" y2="277.2" stroke="#1a1a1a" stroke-width="0.8"/>
<text font-size="6.9" fill="#1a1a1a" text-anchor="end" transform="translate(31.2 279.6) scale(1.1 1)">0.2</text>
<text font-size="6.9" fill="#1a1a1a" transform="translate(212.9 279.6) scale(1.1 1)">0.2</text>
<line x1="33.4" y1="256.5" x2="35.2" y2="256.5" stroke="#1a1a1a" stroke-width="0.8"/>
<line x1="177.5" y1="256.5" x2="175.7" y2="256.5" stroke="#1a1a1a" stroke-width="0.8"/>
<line x1="177.5" y1="256.5" x2="179.3" y2="256.5" stroke="#1a1a1a" stroke-width="0.8"/>
<line x1="210.5" y1="256.5" x2="208.7" y2="256.5" stroke="#1a1a1a" stroke-width="0.8"/>
<text font-size="6.9" fill="#1a1a1a" text-anchor="end" transform="translate(31.2 258.9) scale(1.1 1)">0.4</text>
<text font-size="6.9" fill="#1a1a1a" transform="translate(212.9 258.9) scale(1.1 1)">0.4</text>
<line x1="33.4" y1="235.8" x2="35.2" y2="235.8" stroke="#1a1a1a" stroke-width="0.8"/>
<line x1="177.5" y1="235.8" x2="175.7" y2="235.8" stroke="#1a1a1a" stroke-width="0.8"/>
<line x1="177.5" y1="235.8" x2="179.3" y2="235.8" stroke="#1a1a1a" stroke-width="0.8"/>
<line x1="210.5" y1="235.8" x2="208.7" y2="235.8" stroke="#1a1a1a" stroke-width="0.8"/>
<text font-size="6.9" fill="#1a1a1a" text-anchor="end" transform="translate(31.2 238.2) scale(1.1 1)">0.6</text>
<text font-size="6.9" fill="#1a1a1a" transform="translate(212.9 238.2) scale(1.1 1)">0.6</text>
<line x1="33.4" y1="215.1" x2="35.2" y2="215.1" stroke="#1a1a1a" stroke-width="0.8"/>
<line x1="177.5" y1="215.1" x2="175.7" y2="215.1" stroke="#1a1a1a" stroke-width="0.8"/>
<line x1="177.5" y1="215.1" x2="179.3" y2="215.1" stroke="#1a1a1a" stroke-width="0.8"/>
<line x1="210.5" y1="215.1" x2="208.7" y2="215.1" stroke="#1a1a1a" stroke-width="0.8"/>
<text font-size="6.9" fill="#1a1a1a" text-anchor="end" transform="translate(31.2 217.5) scale(1.1 1)">0.8</text>
<text font-size="6.9" fill="#1a1a1a" transform="translate(212.9 217.5) scale(1.1 1)">0.8</text>
<line x1="33.4" y1="194.4" x2="35.2" y2="194.4" stroke="#1a1a1a" stroke-width="0.8"/>
<line x1="177.5" y1="194.4" x2="175.7" y2="194.4" stroke="#1a1a1a" stroke-width="0.8"/>
<line x1="177.5" y1="194.4" x2="179.3" y2="194.4" stroke="#1a1a1a" stroke-width="0.8"/>
<line x1="210.5" y1="194.4" x2="208.7" y2="194.4" stroke="#1a1a1a" stroke-width="0.8"/>
<text font-size="6.9" fill="#1a1a1a" text-anchor="end" transform="translate(31.2 196.8) scale(1.1 1)">1</text>
<text font-size="6.9" fill="#1a1a1a" transform="translate(212.9 196.8) scale(1.1 1)">1</text>
<line x1="33.4" y1="171.1" x2="35.2" y2="171.1" stroke="#1a1a1a" stroke-width="0.8"/>
<line x1="177.5" y1="171.1" x2="175.7" y2="171.1" stroke="#1a1a1a" stroke-width="0.8"/>
<text font-size="6.9" fill="#1a1a1a" text-anchor="end" transform="translate(30.8 173.5) scale(1.1 1)">200</text>
<line x1="33.4" y1="158" x2="35.2" y2="158" stroke="#1a1a1a" stroke-width="0.8"/>
<line x1="177.5" y1="158" x2="175.7" y2="158" stroke="#1a1a1a" stroke-width="0.8"/>
<text font-size="6.9" fill="#1a1a1a" text-anchor="end" transform="translate(30.8 160.4) scale(1.1 1)">400</text>
<line x1="192.5" y1="308.1" x2="192.5" y2="306.3" stroke="#1a1a1a" stroke-width="0.8"/>
<line x1="192.5" y1="184.2" x2="192.5" y2="186" stroke="#1a1a1a" stroke-width="0.8"/>
<text font-size="6.9" fill="#1a1a1a" transform="translate(189.9 310.3) scale(1.2 1) rotate(90)">200</text>
<line x1="207.7" y1="308.1" x2="207.7" y2="306.3" stroke="#1a1a1a" stroke-width="0.8"/>
<line x1="207.7" y1="184.2" x2="207.7" y2="186" stroke="#1a1a1a" stroke-width="0.8"/>
<text font-size="6.9" fill="#1a1a1a" transform="translate(205.1 310.3) scale(1.2 1) rotate(90)">400</text>
<rect x="33.4" y="155.3" width="144.1" height="28.9" fill="none" stroke="#1a1a1a" stroke-width="1.1"/>
<rect x="33.4" y="184.2" width="144.1" height="123.9" fill="none" stroke="#1a1a1a" stroke-width="1.1"/>
<rect x="177.5" y="184.2" width="33" height="123.9" fill="none" stroke="#1a1a1a" stroke-width="1.1"/>
<text font-size="7.6" fill="#1a1a1a" text-anchor="middle" textLength="52.1" lengthAdjust="spacingAndGlyphs" transform="translate(17.9 246.15) rotate(-90)">FRET Efficiency</text>
<text font-size="7.0" fill="#1a1a1a" transform="translate(89.9 326.7) scale(1.1 1)">&#964;</text>
<text font-size="5.6" fill="#1a1a1a" textLength="12.8" lengthAdjust="spacingAndGlyphs" transform="translate(93.5 330.5)">D(A)</text>
<text font-size="7.6" fill="#1a1a1a" textLength="12.4" lengthAdjust="spacingAndGlyphs" transform="translate(108.8 327.1)">[ns]</text>
<linearGradient id="gC" x1="0" x2="1" y1="0" y2="0"><stop offset="0.0" stop-color="#fafdf9"/><stop offset="0.125" stop-color="#edf7eb"/><stop offset="0.25" stop-color="#d3ebd2"/><stop offset="0.375" stop-color="#b4ddb6"/><stop offset="0.5" stop-color="#82c991"/><stop offset="0.625" stop-color="#52b36d"/><stop offset="0.75" stop-color="#299751"/><stop offset="0.875" stop-color="#107439"/><stop offset="1.0" stop-color="#004b23"/></linearGradient>
<rect x="183.3" y="166.2" width="40.9" height="5.7" fill="url(#gC)" stroke="#111" stroke-width="1.1"/>
<line x1="195.4" y1="166.2" x2="195.4" y2="167.4" stroke="#1a1a1a" stroke-width="0.6"/>
<text font-size="4.8" fill="#1a1a1a" text-anchor="middle" transform="translate(195.4 164.4) scale(1.15 1)">20</text>
<line x1="208.6" y1="166.2" x2="208.6" y2="167.4" stroke="#1a1a1a" stroke-width="0.6"/>
<text font-size="4.8" fill="#1a1a1a" text-anchor="middle" transform="translate(208.6 164.4) scale(1.15 1)">40</text>
<line x1="222.4" y1="166.2" x2="222.4" y2="167.4" stroke="#1a1a1a" stroke-width="0.6"/>
<text font-size="4.8" fill="#1a1a1a" text-anchor="middle" transform="translate(222.4 164.4) scale(1.15 1)">60</text>
<text font-size="5.0" fill="#1a1a1a" text-anchor="middle" textLength="23" lengthAdjust="spacingAndGlyphs" transform="translate(204.05 158.9)">Occurrence</text>
<clipPath id="clD"><rect x="270.6" y="184" width="144.5" height="124"/></clipPath>
<g clip-path="url(#clD)">
<path d="M334.3 306.1L337.1 306.1L337.9 305.4L339.9 303.5L340.8 305.4L342.6 307.1L343.6 308L345.4 308L348.2 308L350.9 308L353.7 308L356.5 308L358.2 308L359.2 307.1L359.9 308L361.1 308L362 306.7L364.8 308L364.8 308L364.8 308L367.6 306.7L368.5 305.4L367.6 305L364.8 305.4L362 304.8L359.2 305.4L356.5 304.1L353.7 304.1L351.9 302.8L350.9 301.5L349.5 300.2L350.9 298.9L351.6 297.6L350.9 296.8L348.2 297.6L345.4 296.4L343.5 295.1L342.6 294.2L339.9 293.8L337.1 292.5L339.9 289.9L342.6 290.8L345.4 290.9L346.8 289.9L345.4 289L342.6 289.2L339.9 287.3L339.9 287.3L338.2 284.7L339.9 282.1L339.9 282.1L339.9 282.1L338.5 279.5L338.5 276.9L339.9 275.7L341.2 276.9L341.2 279.5L342.6 280.6L344.7 282.1L342.6 284.1L341.9 284.7L342.6 285.4L345.4 284.7L345.4 284.7L346.8 282.1L348.2 279.5L348.2 279.5L348.2 279.5L345.4 276.9L347.2 274.4L345.4 271.8L348.2 270.5L349.1 271.8L349.1 274.4L350.9 275.7L352.3 276.9L353.7 278L356.5 276.9L359.2 277.8L360.2 276.9L362 274.4L362 274.4L364.8 273.5L365.7 274.4L367.6 275.7L369.4 276.9L367.6 279.5L364.8 276.9L364.8 276.9L364.8 276.9L364.8 279.5L364.8 279.5L367.6 279.5L370.3 279.5L373.1 279.5L375.9 282.1L375.2 284.7L375.9 286L376.3 284.7L375.9 282.1L378.6 280L380.9 282.1L381.4 283.4L384.2 283L385.6 284.7L386.9 286L389.7 284.7L391.6 287.3L391.1 289.9L389.7 292.5L389.7 292.5L389.7 292.5L392.5 292.5L395.2 295.1L392.5 296.4L392.1 297.6L389.7 299.9L389 300.2L389.2 302.8L389.7 305.4L388.8 308L389.7 308L392.5 308L395.2 308L396 308L398 307.1L399.8 305.4L400.8 304.8L401.3 305.4L401.8 308L403.6 308L406.3 308L409.1 308L409.9 308L409.1 307.3L406.3 307.3L405.8 305.4L404.3 302.8L403.6 302.1L402.9 300.2L403.6 298.4L405.6 300.2L406.3 301L408.3 302.8L409.1 303.5L409.9 302.8L409.9 300.2L409.1 299.5L407.1 297.6L409.1 296.7L411.1 297.6L411.9 298.4L414.6 298.4L415.4 297.6L415.4 295.1L417.4 294.1L417.4 292.5L417.4 289.9L417.4 289.2L416.6 289.9L414.6 291.8L411.9 290.4L410.9 289.9L411.9 288L412.6 287.3L411.9 286.6L411.1 287.3L409.1 288.2L407.1 287.3L406.3 286.6L405.6 287.3L405.6 289.9L403.6 290.4L400.8 291.8L400.1 289.9L400.8 289L402.6 287.3L401.6 284.7L400.8 284L398.8 282.1L398 281.4L397.2 282.1L395.2 284L394.3 282.1L394.3 279.5L393.3 276.9L392.5 276.2L391.7 276.9L389.7 277.9L387.9 279.5L386.9 280.5L384.9 279.5L384.9 276.9L384.2 276.2L383.2 274.4L384.2 272.5L384.9 271.8L384.2 271.1L383.4 271.8L381.4 272.7L379.4 271.8L378.6 271.1L377.9 271.8L377.9 274.4L375.9 274.8L373.9 274.4L373.1 273.6L371.1 271.8L370.3 271.1L369.5 271.8L368.5 274.4L367.6 274.8L366.9 274.4L364.8 272.4L363.8 271.8L364.8 270.8L366.6 269.2L364.8 267.5L362 268.5L361.2 269.2L359.2 270.1L357.5 271.8L356.5 272.7L354.5 271.8L355.5 269.2L355.5 266.6L356.5 265.7L358.2 264L356.5 262.4L354.5 261.4L353.7 260.7L352.9 261.4L352.9 264L351.9 266.6L350.9 268.5L348.2 268.5L345.4 268.5L344.6 269.2L342.6 271.1L341.8 271.8L342.6 272.5L345.4 273.4L346.1 274.4L345.4 275.3L342.6 276.2L340.6 274.4L339.9 273.6L337.9 271.8L337.1 271.1L336.3 271.8L336.3 274.4L334.3 275.3L332.3 274.4L333.3 271.8L332.3 269.2L331.5 268.5L330.8 269.2L328.8 271.1L328 271.8L326 272.7L324.2 274.4L325.2 276.9L326 277.7L328.8 278.6L329.8 279.5L329.4 282.1L329.8 284.7L328.8 285.6L327 287.3L326 288.2L324 287.3L323.2 286.6L322.2 284.7L323.2 283.8L325 282.1L323.2 280.5L320.5 281.4L319.7 282.1L317.7 284L316.9 284.7L317.7 285.4L320.5 286.4L322.5 287.3L323.2 288L324.2 289.9L325.2 292.5L326 293.2L327 295.1L328.8 296.7L329.8 297.6L328.8 299.5L326 299.5L324 297.6L323.2 296.9L320.5 296.9L319.7 297.6L320.5 298.4L322.5 300.2L323.2 301L325.2 302.8L326 303.5L326.8 302.8L328.8 301L329.5 300.2L331.5 299.3L333.5 300.2L334.3 301L335.1 300.2L334.3 299.5L333.3 297.6L334.3 296.7L336.3 297.6L337.1 298.4L338.1 300.2L337.1 302.1L336.3 302.8L334.3 304.7L333.5 305.4ZM342.6 305.4L342.6 305.4L341.2 302.8L339.9 300.2L341.2 297.6L342.6 296.4L343.5 297.6L343.5 300.2L345.4 301.5L347.2 302.8L346.3 305.4L345.4 308ZM347.5 305.4L348.2 303.5L350.9 303.5L353.7 304.9L355.7 305.4L353.7 307.3L350.9 306.3L348.2 307.3ZM402.2 305.4L403.6 303.7L404.9 305.4L403.6 308ZM392.5 302.8L395.2 301L396.6 300.2L398 298.5L398.9 297.6L400.8 295.1L402.6 297.6L401.7 300.2L402.2 302.8L400.8 303.7L399.4 302.8L398 302L397.6 302.8L395.2 305ZM344.7 300.2L344.7 297.6L345.4 297.2L346.4 297.6L347.4 300.2L345.4 300.7ZM394.3 300.2L395.2 299.3L395.7 300.2L395.2 300.5ZM336.1 295.1L337.1 294.1L339.9 294.6L341.8 295.1L339.9 296.9L337.1 296.9ZM327.4 292.5L328.8 291.2L329.7 292.5L328.8 295.1ZM330.9 292.5L331.5 291.9L333.5 292.5L331.5 293.4ZM394.3 292.5L392.5 290.8L392 289.9L392.5 288L393.3 287.3L395.2 285.4L396.2 287.3L395.9 289.9L395.9 292.5L395.2 293.4ZM397.1 292.5L397.1 289.9L398 287.3L398.9 289.9L399.4 292.5L398 295.1ZM401.7 292.5L403.6 291.2L405.4 292.5L403.6 295.1ZM407.1 292.5L409.1 291.5L409.6 292.5L409.1 293.4ZM410.5 292.5L411.9 291.2L413.7 292.5L411.9 294.2ZM330.2 289.9L328.8 287.3L331.5 284.7L331.5 284.7L331.5 284.7L330.6 282.1L331.5 279.5L334.3 282.1L334.3 282.1L335.2 284.7L337.1 287.3L334.3 288.2L332.5 289.9L331.5 290.8ZM333.6 289.9L334.3 289.3L335.3 289.9L334.3 291.8ZM343.4 289.9L345.4 289.6L345.9 289.9L345.4 290.3ZM336.4 284.7L337.1 282.8L337.5 284.7L337.1 285.6ZM386.4 284.7L386.9 283.8L387.9 284.7L386.9 285.2ZM388.7 282.1L389.7 281.2L390.7 282.1L389.7 283.1ZM336.1 279.5L337.1 277.7L337.6 279.5L337.1 281.4ZM342.1 279.5L342.6 277.7L345.4 278.6L346.4 279.5L345.4 281.4L342.6 279.9ZM379.4 279.5L378.6 278.8L378.1 276.9L378.6 275.1L381.4 276L383.4 276.9L383.4 279.5L381.4 281.4ZM328.8 276.9L331.5 275.7L334.3 276.9L331.5 279.5ZM353.2 276.9L353.7 276L354.7 276.9L353.7 277.3ZM374 276.9L375.9 275.7L377.2 276.9L375.9 278.7ZM327.8 274.4L328.8 272.5L330.8 274.4L328.8 275.3ZM350.3 274.4L350.3 271.8L350.9 269.9L352.9 271.8L351.9 274.4L350.9 274.8ZM370.3 308L373.1 308L375.9 308L378.6 308L380 308L378.6 307.4L375.9 305.4L375.9 305.4L373.1 304.6L371.7 305.4L370.3 308L370.3 308ZM372.6 305.4L373.1 305.1L374.1 305.4L373.1 307.3ZM381.4 305.4L381.4 305.4L381.4 305.4L381.4 305.4ZM411.9 306.1L412.6 305.4L411.9 304.7L411.1 305.4ZM378.6 302.8L378.6 302.8L378.6 302.8L378.6 302.8ZM356.5 300.2L356.5 300.2L356.5 297.6L356.5 297.6L356.5 297.6L356.5 300.2ZM417.4 301L417.4 300.2L417.4 299.5L416.6 300.2ZM317.7 295.8L318.5 295.1L317.7 294.3L316.9 295.1ZM348.2 292.5L350.9 292.5L350.9 292.5L350.9 292.5L348.2 292.5L348.2 292.5ZM309.4 290.6L310.2 289.9L309.4 289.2L308.6 289.9ZM303.8 288L304.6 287.3L303.8 286.6L303.1 287.3ZM312.2 288L312.9 287.3L312.2 286.6L311.4 287.3ZM378.6 288.2L379.2 287.3L378.6 286.9L377.2 287.3ZM356.5 285.4L356.8 284.7L356.5 283.8L355.8 284.7ZM312.2 282.8L312.9 282.1L312.2 281.4L311.4 282.1ZM406.3 282.8L407.1 282.1L407.1 279.5L406.3 278.8L405.6 279.5L405.6 282.1ZM411.9 282.8L414.6 282.8L415.4 282.1L415.4 279.5L414.6 278.8L413.9 279.5L411.9 281.4L411.1 282.1ZM306.6 280.3L307.4 279.5L306.6 278.8L305.8 279.5ZM314.9 280.3L315.7 279.5L314.9 278.8L314.1 279.5ZM320.5 277.7L321.2 276.9L320.5 276.2L319.7 276.9ZM398 275.1L398.8 274.4L398 273.6L397.2 274.4ZM406.3 275.1L407.1 274.4L406.3 273.6L405.6 274.4ZM389.7 272.5L392.5 272.5L393.3 271.8L392.5 271.1L389.7 271.1L388.9 271.8ZM403.6 272.5L404.3 271.8L403.6 271.1L402.8 271.8ZM320.5 269.9L323.2 269.9L326 269.9L326.8 269.2L326 268.5L323.2 268.5L320.5 268.5L319.7 269.2ZM339.9 269.9L340.6 269.2L339.9 268.5L339.1 269.2ZM395.2 269.9L396 269.2L395.2 268.5L394.5 269.2ZM342.6 267.3L343.4 266.6L342.6 265.9L341.8 266.6ZM373.1 268.3L374.9 266.6L373.9 264L373.1 263.3L372.3 264L371.3 266.6ZM378.6 267.3L379.4 266.6L379.4 264L378.6 263.3L377.9 264L377.9 266.6ZM323.2 264.7L324 264L324 261.4L323.2 260.7L322.5 261.4L322.5 264ZM339.9 264.7L340.6 264L339.9 263.3L339.1 264ZM348.2 264.7L348.9 264L348.2 263.3L347.4 264ZM362 264.7L362.8 264L362 263.3L361.2 264ZM384.2 264.7L384.9 264L384.9 261.4L384.2 260.7L383.4 261.4L383.4 264ZM334.3 262.1L335.1 261.4L334.3 260.7L333.5 261.4ZM342.6 262.1L343.4 261.4L345.4 259.6L348.2 260.5L349.9 258.8L350.9 257L351.7 256.2L351.7 253.7L350.9 252.9L348.2 252.9L347.4 253.7L348.2 254.4L350.2 256.2L348.2 257.2L345.4 258.1L342.6 258.1L341.8 258.8L341.8 261.4ZM364.8 262.1L365.6 261.4L364.8 260.7L364 261.4ZM328.8 259.6L329.5 258.8L329.5 256.2L328.8 255.5L326 255.5L325.2 256.2L326 257L328 258.8ZM359.2 259.6L360 258.8L359.2 258.1L358.5 258.8ZM381.4 259.6L382.2 258.8L381.4 258.1L380.6 258.8ZM334.3 257L335.1 256.2L334.3 255.5L333.5 256.2ZM303.8 254.4L304.6 253.7L303.8 252.9L303.1 253.7ZM314.9 254.4L315.7 253.7L314.9 252.9L314.1 253.7ZM331.5 254.4L332.3 253.7L331.5 252.9L330.8 253.7ZM337.1 254.4L337.9 253.7L337.1 252.9L336.3 253.7ZM345.4 251.8L346.2 251.1L345.4 250.4L344.6 251.1ZM375.9 251.8L376.6 251.1L375.9 250.4L375.1 251.1ZM381.4 251.8L382.2 251.1L381.4 250.4L380.6 251.1ZM303.8 249.2L304.6 248.5L304.6 245.9L303.8 245.2L303.1 245.9L303.1 248.5ZM350.9 249.2L351.7 248.5L350.9 247.8L350.2 248.5ZM356.5 249.2L357.2 248.5L357.2 245.9L356.5 245.2L353.7 245.2L352.9 245.9L353.7 246.6L355.7 248.5ZM370.3 249.2L371.1 248.5L370.3 247.8L369.5 248.5ZM326 247.6L328.8 246.6L329.5 245.9L328.8 245.2L326 244.2L324.2 245.9ZM337.1 244L339.9 244L340.6 243.3L342.6 241.4L343.4 240.7L343.4 238.1L342.6 237.4L341.8 238.1L339.9 240L339.1 240.7L337.1 242.6L336.3 243.3ZM301.1 241.4L301.8 240.7L301.1 240L300.3 240.7ZM314.9 241.4L317.7 241.4L320.5 241.4L321.2 240.7L323.2 238.9L326 239.8L328.8 238.9L329.5 238.1L328.8 237.4L326 236.5L323.2 237.4L320.5 237.4L319.7 238.1L317.7 240L314.9 240L314.1 240.7ZM348.2 241.4L348.9 240.7L348.2 240L347.4 240.7ZM298.3 238.9L299.1 238.1L298.3 237.4L297.5 238.1ZM337.1 238.9L337.9 238.1L337.1 237.4L336.3 238.1ZM350.9 238.9L351.7 238.1L352.7 235.5L350.9 233.9L348.2 234.8L347.4 235.5L348.2 236.3L350.2 238.1ZM362 236.3L362.8 235.5L362 234.8L361.2 235.5ZM389.7 236.3L390.5 235.5L389.7 234.8L388.9 235.5ZM312.2 233.7L312.9 233L312.9 230.4L312.2 229.7L309.4 229.7L306.6 229.7L305.8 230.4L306.6 231.1L309.4 231.1L311.4 233ZM317.7 233.7L318.5 233L317.7 232.2L316.9 233ZM326 233.7L328.8 233.7L329.5 233L328.8 232.2L326 232.2L325.2 233ZM323.2 231.1L324 230.4L323.2 229.7L322.5 230.4ZM295.5 228.5L296.3 227.8L295.5 227.1L294.8 227.8ZM326 228.5L328.8 228.5L329.5 227.8L328.8 227.1L326 227.1L325.2 227.8ZM298.3 225.9L299.1 225.2L299.1 222.6L298.3 221.9L297.5 222.6L297.5 225.2ZM303.8 225.9L304.6 225.2L303.8 224.5L303.1 225.2ZM309.4 225.9L310.2 225.2L309.4 224.5L308.6 225.2ZM317.7 226.9L320.5 225.9L321.2 225.2L320.5 224.5L317.7 223.5L315.9 225.2ZM331.5 225.9L332.3 225.2L331.5 224.5L330.8 225.2ZM381.4 225.9L382.2 225.2L381.4 224.5L380.6 225.2ZM312.2 223.3L312.9 222.6L312.2 221.9L311.4 222.6ZM350.9 223.3L351.7 222.6L350.9 221.9L350.2 222.6ZM303.8 220.7L304.6 220L303.8 219.3L303.1 220ZM320.5 220.7L321.2 220L323.2 218.2L326 218.2L326.8 217.4L326 216.7L323.2 216.7L320.5 216.7L319.7 217.4L319.7 220ZM334.3 221.7L336.1 220L334.3 218.4L332.5 220ZM348.2 220.7L348.9 220L348.2 219.3L347.4 220ZM373.1 220.7L373.9 220L373.1 219.3L372.3 220ZM384.2 220.7L384.9 220L384.2 219.3L383.4 220ZM345.4 218.2L346.2 217.4L345.4 216.7L344.6 217.4ZM317.7 213L318.5 212.3L317.7 211.5L316.9 212.3ZM328.8 210.4L329.5 209.7L328.8 209L328 209.7ZM334.3 210.4L335.1 209.7L334.3 209L333.5 209.7ZM356.5 210.4L357.2 209.7L356.5 209L355.7 209.7ZM309.4 207.8L312.2 207.8L312.9 207.1L312.2 206.4L309.4 206.4L308.6 207.1ZM301.1 202.6L301.8 201.9L301.1 201.2L300.3 201.9ZM306.6 202.6L307.4 201.9L306.6 201.2L305.8 201.9ZM323.2 203.6L325 201.9L323.2 200.3L321.5 201.9ZM386.9 202.6L387.7 201.9L386.9 201.2L386.2 201.9ZM306.6 197.5L307.4 196.7L306.6 196L305.8 196.7ZM301.1 194.9L301.8 194.1L301.1 193.4L300.3 194.1ZM339.9 192.3L342.6 192.3L343.4 191.6L342.6 190.8L339.9 190.8L339.1 191.6ZM403.6 192.3L404.3 191.6L403.6 190.8L402.8 191.6ZM303.8 189.7L304.6 189L303.8 188.3L303.1 189ZM312.2 189.7L312.9 189L312.2 188.3L311.4 189Z" fill="#fff3e6" stroke="none" fill-rule="evenodd"/>
<path d="M345.4 308L346.3 305.4L347.2 302.8L345.4 301.5L343.5 300.2L343.5 297.6L342.6 296.4L341.2 297.6L339.9 300.2L341.2 302.8L342.6 305.4L342.6 305.4ZM362 308L364.8 308L362 306.7L361.1 308ZM367.6 308L370.3 308L370.3 308L371.7 305.4L373.1 304.6L375.9 305.4L375.9 305.4L378.6 307.4L380 308L381.4 308L384.2 308L386.9 308L388.8 308L389.7 305.4L389.2 302.8L389 300.2L389.7 299.9L392.1 297.6L392.5 296.4L395.2 295.1L392.5 292.5L389.7 292.5L389.7 292.5L389.7 292.5L391.1 289.9L391.6 287.3L389.7 284.7L386.9 286L385.6 284.7L384.2 283L381.4 283.4L380.9 282.1L378.6 280L375.9 282.1L376.3 284.7L375.9 286L375.2 284.7L375.9 282.1L373.1 279.5L370.3 279.5L367.6 279.5L364.8 279.5L364.8 279.5L364.8 276.9L364.8 276.9L364.8 276.9L367.6 279.5L369.4 276.9L367.6 275.7L365.7 274.4L364.8 273.5L362 274.4L362 274.4L360.2 276.9L359.2 277.8L356.5 276.9L353.7 278L352.3 276.9L350.9 275.7L349.1 274.4L349.1 271.8L348.2 270.5L345.4 271.8L347.2 274.4L345.4 276.9L348.2 279.5L348.2 279.5L348.2 279.5L346.8 282.1L345.4 284.7L345.4 284.7L342.6 285.4L341.9 284.7L342.6 284.1L344.7 282.1L342.6 280.6L341.2 279.5L341.2 276.9L339.9 275.7L338.5 276.9L338.5 279.5L339.9 282.1L339.9 282.1L339.9 282.1L338.2 284.7L339.9 287.3L339.9 287.3L342.6 289.2L345.4 289L346.8 289.9L345.4 290.9L342.6 290.8L339.9 289.9L337.1 292.5L339.9 293.8L342.6 294.2L343.5 295.1L345.4 296.4L348.2 297.6L350.9 296.8L351.6 297.6L350.9 298.9L349.5 300.2L350.9 301.5L351.9 302.8L353.7 304.1L356.5 304.1L359.2 305.4L362 304.8L364.8 305.4L367.6 305L368.5 305.4L367.6 306.7L364.8 308ZM377.7 305.4L378.6 304.6L379.6 305.4L378.6 306.1ZM381.4 305.4L381.4 305.4L381.4 305.4L381.4 305.4ZM359.2 302.8L362 301.5L362.7 300.2L362 299.9L359.2 300.2L357.9 297.6L356.5 296.4L354.6 297.6L353.7 300.2L353 297.6L350.9 295.1L352.3 292.5L350.9 291.2L348.2 289.9L348.2 289.9L345.4 288.2L342.6 287.9L341.7 287.3L342.6 286.7L345.4 286L348.2 285.6L350.9 287.3L350.9 287.3L353.7 287.8L355.1 287.3L356.5 286.7L357.5 284.7L359.2 282.1L362 282.1L362 282.1L362 282.1L359.2 279.5L362 276.9L363.4 279.5L364.8 280.1L367.6 280.4L370.3 280.6L373.1 280.8L374.5 282.1L373.8 284.7L374.9 287.3L375.9 287.7L378.6 289.9L378.6 289.9L381.4 289.9L384.2 292.5L384.2 292.5L386.9 292.5L389.7 295.1L389.7 295.1L391.3 297.6L389.7 299.1L387.6 300.2L388.3 302.8L386.9 305.4L384.2 305.4L381.4 302.8L384.2 300.2L384.2 300.2L384.2 300.2L381.4 297.6L381.4 297.6L381.4 297.6L381.4 300.2L378.6 301.8L375.9 302.8L375.9 302.8L373.1 303.7L370.3 305.4L367.6 304.1L364.8 304.7L362 303.5ZM378.6 302.8L378.6 302.8L378.6 302.8L378.6 302.8ZM356.5 300.2L356.5 297.6L356.5 297.6L356.5 297.6L356.5 300.2L356.5 300.2ZM345.4 295.1L345.4 295.1L342.6 292.5L345.4 292L346.3 292.5L348.2 293.1L350.9 295.1L348.2 297ZM348.2 292.5L348.2 292.5L350.9 292.5L350.9 292.5L350.9 292.5L348.2 292.5ZM384.2 289.9L386.9 287.3L389.7 289.9L386.9 292.5ZM377.2 287.3L378.6 286.9L379.2 287.3L378.6 288.2ZM380.3 287.3L378.6 286L377.2 284.7L377 282.1L378.6 280.8L380 282.1L380.7 284.7L381.4 285.6L383.2 287.3L381.4 289.9ZM339.3 284.7L339.9 283.8L340.5 284.7L339.9 285.6ZM350.9 284.7L350.9 282.1L352.3 279.5L353.7 279L356.5 278.7L359.2 279.5L356.5 282.1L356.5 282.1L354.4 284.7L353.7 286ZM355.8 284.7L356.5 283.8L356.8 284.7L356.5 285.4ZM341.7 282.1L342.6 281.6L343.3 282.1L342.6 282.8ZM403.6 308L404.9 305.4L403.6 303.7L402.2 305.4ZM395.2 305L397.6 302.8L398 302L399.4 302.8L400.8 303.7L402.2 302.8L401.7 300.2L402.6 297.6L400.8 295.1L398.9 297.6L398 298.5L396.6 300.2L395.2 301L392.5 302.8ZM393.6 302.8L395.2 301.7L396.6 302.8L395.2 304.1ZM386.9 297.6L386.9 297.6L386.9 297.6L386.9 297.6ZM359.2 295.1L359.2 295.1L359.2 295.1L359.2 295.1ZM328.8 295.1L329.7 292.5L328.8 291.2L327.4 292.5ZM398 295.1L399.4 292.5L398.9 289.9L398 287.3L397.1 289.9L397.1 292.5ZM403.6 295.1L405.4 292.5L403.6 291.2L401.7 292.5ZM411.9 294.2L413.7 292.5L411.9 291.2L410.5 292.5ZM331.5 290.8L332.5 289.9L334.3 288.2L337.1 287.3L335.2 284.7L334.3 282.1L334.3 282.1L331.5 279.5L330.6 282.1L331.5 284.7L331.5 284.7L331.5 284.7L328.8 287.3L330.2 289.9ZM367.6 287.8L368.5 287.3L367.6 286L367 287.3ZM370.3 284.7L370.3 284.7L370.3 284.7L370.3 284.7ZM331.5 279.5L334.3 276.9L331.5 275.7L328.8 276.9ZM375.9 278.7L377.2 276.9L375.9 275.7L374 276.9Z" fill="#feebd9" stroke="none" fill-rule="evenodd"/>
<path d="M378.6 306.1L379.6 305.4L378.6 304.6L377.7 305.4ZM362 303.5L364.8 304.7L367.6 304.1L370.3 305.4L373.1 303.7L375.9 302.8L375.9 302.8L378.6 301.8L381.4 300.2L381.4 297.6L381.4 297.6L381.4 297.6L384.2 300.2L384.2 300.2L384.2 300.2L381.4 302.8L384.2 305.4L386.9 305.4L388.3 302.8L387.6 300.2L389.7 299.1L391.3 297.6L389.7 295.1L389.7 295.1L386.9 292.5L384.2 292.5L384.2 292.5L381.4 289.9L378.6 289.9L378.6 289.9L375.9 287.7L374.9 287.3L373.8 284.7L374.5 282.1L373.1 280.8L370.3 280.6L367.6 280.4L364.8 280.1L363.4 279.5L362 276.9L359.2 279.5L362 282.1L362 282.1L362 282.1L359.2 282.1L357.5 284.7L356.5 286.7L355.1 287.3L353.7 287.8L350.9 287.3L350.9 287.3L348.2 285.6L345.4 286L342.6 286.7L341.7 287.3L342.6 287.9L345.4 288.2L348.2 289.9L348.2 289.9L350.9 291.2L352.3 292.5L350.9 295.1L353 297.6L353.7 300.2L354.6 297.6L356.5 296.4L357.9 297.6L359.2 300.2L362 299.9L362.7 300.2L362 301.5L359.2 302.8ZM362.7 302.8L364.1 300.2L362 299.1L359.2 297.6L360 295.1L359.2 293.8L356.5 295.1L356.5 295.1L353.7 296.4L352.8 295.1L353.7 292.5L353.7 292.5L353.7 292.5L350.9 289.9L353.7 288.9L356.5 287.8L359.2 287.8L359.9 287.3L359.2 286.7L358.2 284.7L359.2 283.2L362 283.4L362.8 282.1L364.8 280.7L367.6 281.3L370.3 281.6L373.1 282.1L370.3 283L367.6 283.8L366.6 284.7L365.9 287.3L367.6 288.9L370.3 287.3L373.1 289.9L373.1 289.9L373.1 289.9L375.9 288.4L377.7 289.9L378.6 291.6L380 292.5L381.4 295.1L378.6 297.6L378.6 297.6L378.6 297.6L379.6 300.2L378.6 300.8L375.9 301.8L373.1 302.8L373.1 302.8L370.3 303.7L367.6 303.3L364.8 303.9ZM384.2 302.8L386.9 301.5L387.4 302.8L386.9 303.7ZM386.9 297.6L386.9 297.6L386.9 297.6L386.9 297.6ZM388.3 297.6L389.7 296.4L390.5 297.6L389.7 298.4ZM359.2 295.1L359.2 295.1L359.2 295.1L359.2 295.1ZM381.4 295.1L384.2 294.2L385.6 295.1L384.2 296.4ZM367 287.3L367.6 286L368.5 287.3L367.6 287.8ZM370.3 284.7L370.3 284.7L370.3 284.7L370.3 284.7ZM395.2 304.1L396.6 302.8L395.2 301.7L393.6 302.8ZM394.7 302.8L395.2 302.5L395.7 302.8L395.2 303.3ZM348.2 297L350.9 295.1L348.2 293.1L346.3 292.5L345.4 292L342.6 292.5L345.4 295.1L345.4 295.1ZM346.3 295.1L348.2 293.8L350 295.1L348.2 296.4ZM367.6 292.8L368 292.5L367.6 291.6L367.2 292.5ZM386.9 292.5L389.7 289.9L386.9 287.3L384.2 289.9ZM386 289.9L386.9 289L387.9 289.9L386.9 290.8ZM381.4 289.9L383.2 287.3L381.4 285.6L380.7 284.7L380 282.1L378.6 280.8L377 282.1L377.2 284.7L378.6 286L380.3 287.3ZM378.2 284.7L378.1 282.1L378.6 281.7L379.1 282.1L379.3 284.7L378.6 285.1ZM339.9 285.6L340.5 284.7L339.9 283.8L339.3 284.7ZM353.7 286L354.4 284.7L356.5 282.1L356.5 282.1L359.2 279.5L356.5 278.7L353.7 279L352.3 279.5L350.9 282.1L350.9 284.7ZM342.6 282.8L343.3 282.1L342.6 281.6L341.7 282.1Z" fill="#fdd8b6" stroke="none" fill-rule="evenodd"/>
<path d="M364.8 303.9L367.6 303.3L370.3 303.7L373.1 302.8L373.1 302.8L375.9 301.8L378.6 300.8L379.6 300.2L378.6 297.6L378.6 297.6L378.6 297.6L381.4 295.1L380 292.5L378.6 291.6L377.7 289.9L375.9 288.4L373.1 289.9L373.1 289.9L373.1 289.9L370.3 287.3L367.6 288.9L365.9 287.3L366.6 284.7L367.6 283.8L370.3 283L373.1 282.1L370.3 281.6L367.6 281.3L364.8 280.7L362.8 282.1L362 283.4L359.2 283.2L358.2 284.7L359.2 286.7L359.9 287.3L359.2 287.8L356.5 287.8L353.7 288.9L350.9 289.9L353.7 292.5L353.7 292.5L353.7 292.5L352.8 295.1L353.7 296.4L356.5 295.1L356.5 295.1L359.2 293.8L360 295.1L359.2 297.6L362 299.1L364.1 300.2L362.7 302.8ZM364.1 302.8L364.8 301.5L365 300.2L364.8 299.7L362 298.4L360.6 297.6L360.8 295.1L359.2 292.5L359.2 292.5L356.5 291.6L353.7 289.9L356.5 288.9L359.2 288.9L362 289.9L362 289.9L364.8 290.4L366.4 292.5L367.6 293.6L368.9 292.5L370.3 290.5L372.4 292.5L373.1 292.7L373.6 292.5L374.5 289.9L375.9 289.1L376.8 289.9L378.1 292.5L378.6 295.1L377.9 297.6L377.2 300.2L375.9 300.8L373.1 302L370.3 302.7L367.6 302.6L366.2 302.8L364.8 303.2ZM367.2 292.5L367.6 291.6L368 292.5L367.6 292.8ZM361.3 287.3L362 284.7L364.8 287.3L362 289.9ZM358.9 284.7L359.2 284.2L362 284.7L359.2 285.4ZM363.6 282.1L364.8 281.3L367.6 282.1L364.8 284.7ZM386.9 303.7L387.4 302.8L386.9 301.5L384.2 302.8ZM395.2 303.3L395.7 302.8L395.2 302.5L394.7 302.8ZM389.7 298.4L390.5 297.6L389.7 296.4L388.3 297.6ZM348.2 296.4L350 295.1L348.2 293.8L346.3 295.1ZM347.2 295.1L348.2 294.4L349.1 295.1L348.2 295.7ZM384.2 296.4L385.6 295.1L384.2 294.2L381.4 295.1ZM386.9 290.8L387.9 289.9L386.9 289L386 289.9ZM378.6 285.1L379.3 284.7L379.1 282.1L378.6 281.7L378.1 282.1L378.2 284.7Z" fill="#fbc292" stroke="none" fill-rule="evenodd"/>
<path d="M364.8 303.2L366.2 302.8L367.6 302.6L370.3 302.7L373.1 302L375.9 300.8L377.2 300.2L377.9 297.6L378.6 295.1L378.1 292.5L376.8 289.9L375.9 289.1L374.5 289.9L373.6 292.5L373.1 292.7L372.4 292.5L370.3 290.5L368.9 292.5L367.6 293.6L366.4 292.5L364.8 290.4L362 289.9L362 289.9L359.2 288.9L356.5 288.9L353.7 289.9L356.5 291.6L359.2 292.5L359.2 292.5L360.8 295.1L360.6 297.6L362 298.4L364.8 299.7L365 300.2L364.8 301.5L364.1 302.8ZM365.4 300.2L364.8 298.7L362 297.6L362 297.6L361.6 295.1L362 293.8L362.9 292.5L364.8 291.4L365.6 292.5L367.6 294.3L369.9 292.5L370.3 291.8L371 292.5L373.1 293.3L374.8 292.5L375.9 289.9L377 292.5L377.5 295.1L377.2 297.6L375.9 299.7L374.9 300.2L373.1 301.1L370.3 302.3L367.6 302.3ZM348.2 295.7L349.1 295.1L348.2 294.4L347.2 295.1ZM362 289.9L364.8 287.3L362 284.7L361.3 287.3ZM359.2 285.4L362 284.7L359.2 284.2L358.9 284.7ZM364.8 284.7L367.6 282.1L364.8 281.3L363.6 282.1ZM364.4 282.1L364.8 281.8L365.7 282.1L364.8 283Z" fill="#f7a162" stroke="none" fill-rule="evenodd"/>
<path d="M367.6 302.3L370.3 302.3L373.1 301.1L374.9 300.2L375.9 299.7L377.2 297.6L377.5 295.1L377 292.5L375.9 289.9L374.8 292.5L373.1 293.3L371 292.5L370.3 291.8L369.9 292.5L367.6 294.3L365.6 292.5L364.8 291.4L362.9 292.5L362 293.8L361.6 295.1L362 297.6L362 297.6L364.8 298.7L365.4 300.2ZM365.8 300.2L364.8 297.6L364.8 297.6L362.6 295.1L364.8 292.5L367.6 295.1L367.6 295.1L367.6 295.1L370.3 293L373.1 293.8L375.9 292.5L376.4 295.1L376.6 297.6L375.9 298.7L373.1 300.2L373.1 300.2L370.3 302L367.6 301.9ZM364.8 283L365.7 282.1L364.8 281.8L364.4 282.1Z" fill="#ef8037" stroke="none" fill-rule="evenodd"/>
<path d="M367.6 301.9L370.3 302L373.1 300.2L373.1 300.2L375.9 298.7L376.6 297.6L376.4 295.1L375.9 292.5L373.1 293.8L370.3 293L367.6 295.1L367.6 295.1L367.6 295.1L364.8 292.5L362.6 295.1L364.8 297.6L364.8 297.6L365.8 300.2ZM366.2 300.2L367.6 298L368 297.6L368.9 295.1L370.3 294L373.1 294.3L375.2 295.1L373.1 297.6L373.1 297.6L372.5 300.2L370.3 301.6L367.6 301.5ZM363.7 295.1L364.8 293.8L366.2 295.1L364.8 296.4Z" fill="#da5e1e" stroke="none" fill-rule="evenodd"/>
<path d="M367.6 301.5L370.3 301.6L372.5 300.2L373.1 297.6L373.1 297.6L375.2 295.1L373.1 294.3L370.3 294L368.9 295.1L368 297.6L367.6 298L366.2 300.2ZM364.8 296.4L366.2 295.1L364.8 293.8L363.7 295.1Z" fill="#ac3d0e" stroke="none" fill-rule="evenodd"/>
<path d="M358.2 308L359.2 307.1L359.9 308M396 308L398 307.1L399.8 305.4L400.8 304.8L401.3 305.4L401.8 308M409.9 308L409.1 307.3L406.3 307.3L405.8 305.4L404.3 302.8L403.6 302.1L402.9 300.2L403.6 298.4L405.6 300.2L406.3 301L408.3 302.8L409.1 303.5L409.9 302.8L409.9 300.2L409.1 299.5L407.1 297.6L409.1 296.7L411.1 297.6L411.9 298.4L414.6 298.4L415.4 297.6L415.4 295.1L417.4 294.1M417.4 299.5L416.6 300.2L417.4 301M417.4 289.2L416.6 289.9L414.6 291.8L411.9 290.4L410.9 289.9L411.9 288L412.6 287.3L411.9 286.6L411.1 287.3L409.1 288.2L407.1 287.3L406.3 286.6L405.6 287.3L405.6 289.9L403.6 290.4L400.8 291.8L400.1 289.9L400.8 289L402.6 287.3L401.6 284.7L400.8 284L398.8 282.1L398 281.4L397.2 282.1L395.2 284L394.3 282.1L394.3 279.5L393.3 276.9L392.5 276.2L391.7 276.9L389.7 277.9L387.9 279.5L386.9 280.5L384.9 279.5L384.9 276.9L384.2 276.2L383.2 274.4L384.2 272.5L384.9 271.8L384.2 271.1L383.4 271.8L381.4 272.7L379.4 271.8L378.6 271.1L377.9 271.8L377.9 274.4L375.9 274.8L373.9 274.4L373.1 273.6L371.1 271.8L370.3 271.1L369.5 271.8L368.5 274.4L367.6 274.8L366.9 274.4L364.8 272.4L363.8 271.8L364.8 270.8L366.6 269.2L364.8 267.5L362 268.5L361.2 269.2L359.2 270.1L357.5 271.8L356.5 272.7L354.5 271.8L355.5 269.2L355.5 266.6L356.5 265.7L358.2 264L356.5 262.4L354.5 261.4L353.7 260.7L352.9 261.4L352.9 264L351.9 266.6L350.9 268.5L348.2 268.5L345.4 268.5L344.6 269.2L342.6 271.1L341.8 271.8L342.6 272.5L345.4 273.4L346.1 274.4L345.4 275.3L342.6 276.2L340.6 274.4L339.9 273.6L337.9 271.8L337.1 271.1L336.3 271.8L336.3 274.4L334.3 275.3L332.3 274.4L333.3 271.8L332.3 269.2L331.5 268.5L330.8 269.2L328.8 271.1L328 271.8L326 272.7L324.2 274.4L325.2 276.9L326 277.7L328.8 278.6L329.8 279.5L329.4 282.1L329.8 284.7L328.8 285.6L327 287.3L326 288.2L324 287.3L323.2 286.6L322.2 284.7L323.2 283.8L325 282.1L323.2 280.5L320.5 281.4L319.7 282.1L317.7 284L316.9 284.7L317.7 285.4L320.5 286.4L322.5 287.3L323.2 288L324.2 289.9L325.2 292.5L326 293.2L327 295.1L328.8 296.7L329.8 297.6L328.8 299.5L326 299.5L324 297.6L323.2 296.9L320.5 296.9L319.7 297.6L320.5 298.4L322.5 300.2L323.2 301L325.2 302.8L326 303.5L326.8 302.8L328.8 301L329.5 300.2L331.5 299.3L333.5 300.2L334.3 301L335.1 300.2L334.3 299.5L333.3 297.6L334.3 296.7L336.3 297.6L337.1 298.4L338.1 300.2L337.1 302.1L336.3 302.8L334.3 304.7L333.5 305.4L334.3 306.1L337.1 306.1L337.9 305.4L339.9 303.5L340.8 305.4L342.6 307.1L343.6 308M348.2 307.3L347.5 305.4L348.2 303.5L350.9 303.5L353.7 304.9L355.7 305.4L353.7 307.3L350.9 306.3ZM373.1 307.3L372.6 305.4L373.1 305.1L374.1 305.4ZM411.9 306.1L412.6 305.4L411.9 304.7L411.1 305.4ZM345.4 300.7L344.7 300.2L344.7 297.6L345.4 297.2L346.4 297.6L347.4 300.2L345.4 300.7M395.2 300.5L394.3 300.2L395.2 299.3L395.7 300.2ZM317.7 295.8L318.5 295.1L317.7 294.3L316.9 295.1ZM337.1 296.9L336.1 295.1L337.1 294.1L339.9 294.6L341.8 295.1L339.9 296.9ZM331.5 293.4L330.9 292.5L331.5 291.9L333.5 292.5ZM395.2 293.4L394.3 292.5L392.5 290.8L392 289.9L392.5 288L393.3 287.3L395.2 285.4L396.2 287.3L395.9 289.9L395.9 292.5ZM409.1 293.4L407.1 292.5L409.1 291.5L409.6 292.5ZM309.4 290.6L310.2 289.9L309.4 289.2L308.6 289.9ZM334.3 291.8L333.6 289.9L334.3 289.3L335.3 289.9ZM345.4 290.3L343.4 289.9L345.4 289.6L345.9 289.9L345.4 290.3M303.8 288L304.6 287.3L303.8 286.6L303.1 287.3ZM312.2 288L312.9 287.3L312.2 286.6L311.4 287.3ZM337.1 285.6L336.4 284.7L337.1 282.8L337.5 284.7ZM386.9 285.2L386.4 284.7L386.9 283.8L387.9 284.7ZM312.2 282.8L312.9 282.1L312.2 281.4L311.4 282.1ZM389.7 283.1L388.7 282.1L389.7 281.2L390.7 282.1ZM406.3 282.8L407.1 282.1L407.1 279.5L406.3 278.8L405.6 279.5L405.6 282.1ZM411.9 282.8L414.6 282.8L415.4 282.1L415.4 279.5L414.6 278.8L413.9 279.5L411.9 281.4L411.1 282.1ZM306.6 280.3L307.4 279.5L306.6 278.8L305.8 279.5ZM314.9 280.3L315.7 279.5L314.9 278.8L314.1 279.5ZM337.1 281.4L336.1 279.5L337.1 277.7L337.6 279.5ZM342.6 279.9L342.1 279.5L342.6 277.7L345.4 278.6L346.4 279.5L345.4 281.4L342.6 279.9M381.4 281.4L379.4 279.5L378.6 278.8L378.1 276.9L378.6 275.1L381.4 276L383.4 276.9L383.4 279.5ZM320.5 277.7L321.2 276.9L320.5 276.2L319.7 276.9ZM353.7 277.3L353.2 276.9L353.7 276L354.7 276.9L353.7 277.3M328.8 275.3L327.8 274.4L328.8 272.5L330.8 274.4ZM350.9 274.8L350.3 274.4L350.3 271.8L350.9 269.9L352.9 271.8L351.9 274.4L350.9 274.8M398 275.1L398.8 274.4L398 273.6L397.2 274.4ZM406.3 275.1L407.1 274.4L406.3 273.6L405.6 274.4ZM389.7 272.5L392.5 272.5L393.3 271.8L392.5 271.1L389.7 271.1L388.9 271.8ZM403.6 272.5L404.3 271.8L403.6 271.1L402.8 271.8ZM320.5 269.9L323.2 269.9L326 269.9L326.8 269.2L326 268.5L323.2 268.5L320.5 268.5L319.7 269.2ZM339.9 269.9L340.6 269.2L339.9 268.5L339.1 269.2ZM395.2 269.9L396 269.2L395.2 268.5L394.5 269.2ZM342.6 267.3L343.4 266.6L342.6 265.9L341.8 266.6ZM373.1 268.3L374.9 266.6L373.9 264L373.1 263.3L372.3 264L371.3 266.6ZM378.6 267.3L379.4 266.6L379.4 264L378.6 263.3L377.9 264L377.9 266.6ZM323.2 264.7L324 264L324 261.4L323.2 260.7L322.5 261.4L322.5 264ZM339.9 264.7L340.6 264L339.9 263.3L339.1 264ZM348.2 264.7L348.9 264L348.2 263.3L347.4 264ZM362 264.7L362.8 264L362 263.3L361.2 264ZM384.2 264.7L384.9 264L384.9 261.4L384.2 260.7L383.4 261.4L383.4 264ZM334.3 262.1L335.1 261.4L334.3 260.7L333.5 261.4ZM342.6 262.1L343.4 261.4L345.4 259.6L348.2 260.5L349.9 258.8L350.9 257L351.7 256.2L351.7 253.7L350.9 252.9L348.2 252.9L347.4 253.7L348.2 254.4L350.2 256.2L348.2 257.2L345.4 258.1L342.6 258.1L341.8 258.8L341.8 261.4ZM364.8 262.1L365.6 261.4L364.8 260.7L364 261.4ZM328.8 259.6L329.5 258.8L329.5 256.2L328.8 255.5L326 255.5L325.2 256.2L326 257L328 258.8ZM359.2 259.6L360 258.8L359.2 258.1L358.5 258.8ZM381.4 259.6L382.2 258.8L381.4 258.1L380.6 258.8ZM334.3 257L335.1 256.2L334.3 255.5L333.5 256.2ZM303.8 254.4L304.6 253.7L303.8 252.9L303.1 253.7ZM314.9 254.4L315.7 253.7L314.9 252.9L314.1 253.7ZM331.5 254.4L332.3 253.7L331.5 252.9L330.8 253.7ZM337.1 254.4L337.9 253.7L337.1 252.9L336.3 253.7ZM345.4 251.8L346.2 251.1L345.4 250.4L344.6 251.1ZM375.9 251.8L376.6 251.1L375.9 250.4L375.1 251.1ZM381.4 251.8L382.2 251.1L381.4 250.4L380.6 251.1ZM303.8 249.2L304.6 248.5L304.6 245.9L303.8 245.2L303.1 245.9L303.1 248.5ZM350.9 249.2L351.7 248.5L350.9 247.8L350.2 248.5ZM356.5 249.2L357.2 248.5L357.2 245.9L356.5 245.2L353.7 245.2L352.9 245.9L353.7 246.6L355.7 248.5ZM370.3 249.2L371.1 248.5L370.3 247.8L369.5 248.5ZM326 247.6L328.8 246.6L329.5 245.9L328.8 245.2L326 244.2L324.2 245.9ZM337.1 244L339.9 244L340.6 243.3L342.6 241.4L343.4 240.7L343.4 238.1L342.6 237.4L341.8 238.1L339.9 240L339.1 240.7L337.1 242.6L336.3 243.3ZM301.1 241.4L301.8 240.7L301.1 240L300.3 240.7ZM314.9 241.4L317.7 241.4L320.5 241.4L321.2 240.7L323.2 238.9L326 239.8L328.8 238.9L329.5 238.1L328.8 237.4L326 236.5L323.2 237.4L320.5 237.4L319.7 238.1L317.7 240L314.9 240L314.1 240.7ZM348.2 241.4L348.9 240.7L348.2 240L347.4 240.7ZM298.3 238.9L299.1 238.1L298.3 237.4L297.5 238.1ZM337.1 238.9L337.9 238.1L337.1 237.4L336.3 238.1ZM350.9 238.9L351.7 238.1L352.7 235.5L350.9 233.9L348.2 234.8L347.4 235.5L348.2 236.3L350.2 238.1ZM362 236.3L362.8 235.5L362 234.8L361.2 235.5ZM389.7 236.3L390.5 235.5L389.7 234.8L388.9 235.5ZM312.2 233.7L312.9 233L312.9 230.4L312.2 229.7L309.4 229.7L306.6 229.7L305.8 230.4L306.6 231.1L309.4 231.1L311.4 233ZM317.7 233.7L318.5 233L317.7 232.2L316.9 233ZM326 233.7L328.8 233.7L329.5 233L328.8 232.2L326 232.2L325.2 233ZM323.2 231.1L324 230.4L323.2 229.7L322.5 230.4ZM295.5 228.5L296.3 227.8L295.5 227.1L294.8 227.8ZM326 228.5L328.8 228.5L329.5 227.8L328.8 227.1L326 227.1L325.2 227.8ZM298.3 225.9L299.1 225.2L299.1 222.6L298.3 221.9L297.5 222.6L297.5 225.2ZM303.8 225.9L304.6 225.2L303.8 224.5L303.1 225.2ZM309.4 225.9L310.2 225.2L309.4 224.5L308.6 225.2ZM317.7 226.9L320.5 225.9L321.2 225.2L320.5 224.5L317.7 223.5L315.9 225.2ZM331.5 225.9L332.3 225.2L331.5 224.5L330.8 225.2ZM381.4 225.9L382.2 225.2L381.4 224.5L380.6 225.2ZM312.2 223.3L312.9 222.6L312.2 221.9L311.4 222.6ZM350.9 223.3L351.7 222.6L350.9 221.9L350.2 222.6ZM303.8 220.7L304.6 220L303.8 219.3L303.1 220ZM320.5 220.7L321.2 220L323.2 218.2L326 218.2L326.8 217.4L326 216.7L323.2 216.7L320.5 216.7L319.7 217.4L319.7 220ZM334.3 221.7L336.1 220L334.3 218.4L332.5 220ZM348.2 220.7L348.9 220L348.2 219.3L347.4 220ZM373.1 220.7L373.9 220L373.1 219.3L372.3 220ZM384.2 220.7L384.9 220L384.2 219.3L383.4 220ZM345.4 218.2L346.2 217.4L345.4 216.7L344.6 217.4ZM317.7 213L318.5 212.3L317.7 211.5L316.9 212.3ZM328.8 210.4L329.5 209.7L328.8 209L328 209.7ZM334.3 210.4L335.1 209.7L334.3 209L333.5 209.7ZM356.5 210.4L357.2 209.7L356.5 209L355.7 209.7ZM309.4 207.8L312.2 207.8L312.9 207.1L312.2 206.4L309.4 206.4L308.6 207.1ZM301.1 202.6L301.8 201.9L301.1 201.2L300.3 201.9ZM306.6 202.6L307.4 201.9L306.6 201.2L305.8 201.9ZM323.2 203.6L325 201.9L323.2 200.3L321.5 201.9ZM386.9 202.6L387.7 201.9L386.9 201.2L386.2 201.9ZM306.6 197.5L307.4 196.7L306.6 196L305.8 196.7ZM301.1 194.9L301.8 194.1L301.1 193.4L300.3 194.1ZM339.9 192.3L342.6 192.3L343.4 191.6L342.6 190.8L339.9 190.8L339.1 191.6ZM403.6 192.3L404.3 191.6L403.6 190.8L402.8 191.6ZM303.8 189.7L304.6 189L303.8 188.3L303.1 189ZM312.2 189.7L312.9 189L312.2 188.3L311.4 189ZM364.8 308L362 306.7L361.1 308M370.3 308L370.3 308L371.7 305.4L373.1 304.6L375.9 305.4L375.9 305.4L378.6 307.4L380 308M388.8 308L389.7 305.4L389.2 302.8L389 300.2L389.7 299.9L392.1 297.6L392.5 296.4L395.2 295.1L392.5 292.5L389.7 292.5L389.7 292.5L389.7 292.5L391.1 289.9L391.6 287.3L389.7 284.7L386.9 286L385.6 284.7L384.2 283L381.4 283.4L380.9 282.1L378.6 280L375.9 282.1L376.3 284.7L375.9 286L375.2 284.7L375.9 282.1L373.1 279.5L370.3 279.5L367.6 279.5L364.8 279.5L364.8 279.5L364.8 276.9L364.8 276.9L364.8 276.9L367.6 279.5L369.4 276.9L367.6 275.7L365.7 274.4L364.8 273.5L362 274.4L362 274.4L360.2 276.9L359.2 277.8L356.5 276.9L353.7 278L352.3 276.9L350.9 275.7L349.1 274.4L349.1 271.8L348.2 270.5L345.4 271.8L347.2 274.4L345.4 276.9L348.2 279.5L348.2 279.5L348.2 279.5L346.8 282.1L345.4 284.7L345.4 284.7L342.6 285.4L341.9 284.7L342.6 284.1L344.7 282.1L342.6 280.6L341.2 279.5L341.2 276.9L339.9 275.7L338.5 276.9L338.5 279.5L339.9 282.1L339.9 282.1L339.9 282.1L338.2 284.7L339.9 287.3L339.9 287.3L342.6 289.2L345.4 289L346.8 289.9L345.4 290.9L342.6 290.8L339.9 289.9L337.1 292.5L339.9 293.8L342.6 294.2L343.5 295.1L345.4 296.4L348.2 297.6L350.9 296.8L351.6 297.6L350.9 298.9L349.5 300.2L350.9 301.5L351.9 302.8L353.7 304.1L356.5 304.1L359.2 305.4L362 304.8L364.8 305.4L367.6 305L368.5 305.4L367.6 306.7L364.8 308M345.4 308L346.3 305.4L347.2 302.8L345.4 301.5L343.5 300.2L343.5 297.6L342.6 296.4L341.2 297.6L339.9 300.2L341.2 302.8L342.6 305.4L342.6 305.4ZM381.4 305.4L381.4 305.4L381.4 305.4L381.4 305.4ZM403.6 308L404.9 305.4L403.6 303.7L402.2 305.4ZM378.6 302.8L378.6 302.8L378.6 302.8L378.6 302.8ZM395.2 305L397.6 302.8L398 302L399.4 302.8L400.8 303.7L402.2 302.8L401.7 300.2L402.6 297.6L400.8 295.1L398.9 297.6L398 298.5L396.6 300.2L395.2 301L392.5 302.8ZM356.5 300.2L356.5 300.2L356.5 297.6L356.5 297.6L356.5 297.6L356.5 300.2ZM328.8 295.1L329.7 292.5L328.8 291.2L327.4 292.5ZM348.2 292.5L348.2 292.5L348.2 292.5L350.9 292.5L350.9 292.5L350.9 292.5ZM398 295.1L399.4 292.5L398.9 289.9L398 287.3L397.1 289.9L397.1 292.5ZM403.6 295.1L405.4 292.5L403.6 291.2L401.7 292.5ZM411.9 294.2L413.7 292.5L411.9 291.2L410.5 292.5ZM331.5 290.8L332.5 289.9L334.3 288.2L337.1 287.3L335.2 284.7L334.3 282.1L334.3 282.1L331.5 279.5L330.6 282.1L331.5 284.7L331.5 284.7L331.5 284.7L328.8 287.3L330.2 289.9ZM378.6 288.2L377.2 287.3L378.6 286.9L379.2 287.3L378.6 288.2M356.5 285.4L355.8 284.7L356.5 283.8L356.8 284.7ZM331.5 279.5L334.3 276.9L331.5 275.7L328.8 276.9ZM375.9 278.7L377.2 276.9L375.9 275.7L374 276.9ZM378.6 306.1L379.6 305.4L378.6 304.6L377.7 305.4ZM362 303.5L364.8 304.7L367.6 304.1L370.3 305.4L373.1 303.7L375.9 302.8L375.9 302.8L378.6 301.8L381.4 300.2L381.4 297.6L381.4 297.6L381.4 297.6L384.2 300.2L384.2 300.2L384.2 300.2L381.4 302.8L384.2 305.4L386.9 305.4L388.3 302.8L387.6 300.2L389.7 299.1L391.3 297.6L389.7 295.1L389.7 295.1L386.9 292.5L384.2 292.5L384.2 292.5L381.4 289.9L378.6 289.9L378.6 289.9L375.9 287.7L374.9 287.3L373.8 284.7L374.5 282.1L373.1 280.8L370.3 280.6L367.6 280.4L364.8 280.1L363.4 279.5L362 276.9L359.2 279.5L362 282.1L362 282.1L362 282.1L359.2 282.1L357.5 284.7L356.5 286.7L355.1 287.3L353.7 287.8L350.9 287.3L350.9 287.3L348.2 285.6L345.4 286L342.6 286.7L341.7 287.3L342.6 287.9L345.4 288.2L348.2 289.9L348.2 289.9L350.9 291.2L352.3 292.5L350.9 295.1L353 297.6L353.7 300.2L354.6 297.6L356.5 296.4L357.9 297.6L359.2 300.2L362 299.9L362.7 300.2L362 301.5L359.2 302.8ZM395.2 304.1L396.6 302.8L395.2 301.7L393.6 302.8ZM386.9 297.6L386.9 297.6L386.9 297.6L386.9 297.6ZM348.2 297L350.9 295.1L348.2 293.1L346.3 292.5L345.4 292L342.6 292.5L345.4 295.1L345.4 295.1ZM359.2 295.1L359.2 295.1L359.2 295.1L359.2 295.1ZM386.9 292.5L389.7 289.9L386.9 287.3L384.2 289.9ZM367.6 287.8L367 287.3L367.6 286L368.5 287.3L367.6 287.8M381.4 289.9L383.2 287.3L381.4 285.6L380.7 284.7L380 282.1L378.6 280.8L377 282.1L377.2 284.7L378.6 286L380.3 287.3ZM339.9 285.6L340.5 284.7L339.9 283.8L339.3 284.7ZM353.7 286L354.4 284.7L356.5 282.1L356.5 282.1L359.2 279.5L356.5 278.7L353.7 279L352.3 279.5L350.9 282.1L350.9 284.7ZM370.3 284.7L370.3 284.7L370.3 284.7L370.3 284.7ZM342.6 282.8L343.3 282.1L342.6 281.6L341.7 282.1ZM364.8 303.9L367.6 303.3L370.3 303.7L373.1 302.8L373.1 302.8L375.9 301.8L378.6 300.8L379.6 300.2L378.6 297.6L378.6 297.6L378.6 297.6L381.4 295.1L380 292.5L378.6 291.6L377.7 289.9L375.9 288.4L373.1 289.9L373.1 289.9L373.1 289.9L370.3 287.3L367.6 288.9L365.9 287.3L366.6 284.7L367.6 283.8L370.3 283L373.1 282.1L370.3 281.6L367.6 281.3L364.8 280.7L362.8 282.1L362 283.4L359.2 283.2L358.2 284.7L359.2 286.7L359.9 287.3L359.2 287.8L356.5 287.8L353.7 288.9L350.9 289.9L353.7 292.5L353.7 292.5L353.7 292.5L352.8 295.1L353.7 296.4L356.5 295.1L356.5 295.1L359.2 293.8L360 295.1L359.2 297.6L362 299.1L364.1 300.2L362.7 302.8ZM386.9 303.7L387.4 302.8L386.9 301.5L384.2 302.8ZM395.2 303.3L395.7 302.8L395.2 302.5L394.7 302.8ZM389.7 298.4L390.5 297.6L389.7 296.4L388.3 297.6ZM348.2 296.4L350 295.1L348.2 293.8L346.3 295.1ZM384.2 296.4L385.6 295.1L384.2 294.2L381.4 295.1ZM367.6 292.8L367.2 292.5L367.6 291.6L368 292.5L367.6 292.8M386.9 290.8L387.9 289.9L386.9 289L386 289.9ZM378.6 285.1L379.3 284.7L379.1 282.1L378.6 281.7L378.1 282.1L378.2 284.7ZM364.8 303.2L366.2 302.8L367.6 302.6L370.3 302.7L373.1 302L375.9 300.8L377.2 300.2L377.9 297.6L378.6 295.1L378.1 292.5L376.8 289.9L375.9 289.1L374.5 289.9L373.6 292.5L373.1 292.7L372.4 292.5L370.3 290.5L368.9 292.5L367.6 293.6L366.4 292.5L364.8 290.4L362 289.9L362 289.9L359.2 288.9L356.5 288.9L353.7 289.9L356.5 291.6L359.2 292.5L359.2 292.5L360.8 295.1L360.6 297.6L362 298.4L364.8 299.7L365 300.2L364.8 301.5L364.1 302.8ZM348.2 295.7L349.1 295.1L348.2 294.4L347.2 295.1ZM362 289.9L364.8 287.3L362 284.7L361.3 287.3ZM359.2 285.4L362 284.7L359.2 284.2L358.9 284.7ZM364.8 284.7L367.6 282.1L364.8 281.3L363.6 282.1ZM367.6 302.3L370.3 302.3L373.1 301.1L374.9 300.2L375.9 299.7L377.2 297.6L377.5 295.1L377 292.5L375.9 289.9L374.8 292.5L373.1 293.3L371 292.5L370.3 291.8L369.9 292.5L367.6 294.3L365.6 292.5L364.8 291.4L362.9 292.5L362 293.8L361.6 295.1L362 297.6L362 297.6L364.8 298.7L365.4 300.2ZM364.8 283L365.7 282.1L364.8 281.8L364.4 282.1ZM367.6 301.9L370.3 302L373.1 300.2L373.1 300.2L375.9 298.7L376.6 297.6L376.4 295.1L375.9 292.5L373.1 293.8L370.3 293L367.6 295.1L367.6 295.1L367.6 295.1L364.8 292.5L362.6 295.1L364.8 297.6L364.8 297.6L365.8 300.2ZM367.6 301.5L370.3 301.6L372.5 300.2L373.1 297.6L373.1 297.6L375.2 295.1L373.1 294.3L370.3 294L368.9 295.1L368 297.6L367.6 298L366.2 300.2ZM364.8 296.4L366.2 295.1L364.8 293.8L363.7 295.1Z" fill="none" stroke="#1c1c1c" stroke-width="0.6" stroke-linejoin="round"/>
<path d="M270.8 194.63 L272.88 194.87 L274.96 195.45 L277.03 196.34 L279.11 197.5 L281.19 198.88 L283.27 200.46 L285.34 202.2 L287.42 204.08 L289.5 206.07 L291.58 208.14 L293.65 210.29 L295.73 212.49 L297.81 214.74 L299.89 217.01 L301.96 219.29 L304.04 221.59 L306.12 223.89 L308.2 226.19 L310.27 228.48 L312.35 230.77 L314.43 233.04 L316.51 235.31 L318.58 237.57 L320.66 239.83 L322.74 242.08 L324.82 244.33 L326.89 246.59 L328.97 248.85 L331.05 251.12 L333.13 253.4 L335.2 255.7 L337.28 258.01 L339.36 260.34 L341.44 262.69 L343.51 265.06 L345.59 267.44 L347.67 269.84 L349.75 272.25 L351.82 274.67 L353.9 277.09 L355.98 279.5 L358.06 281.88 L360.13 284.24 L362.21 286.55 L364.29 288.79 L366.37 290.95 L368.44 293 L370.52 294.92 L372.6 296.68" fill="none" stroke="#000" stroke-width="1.9" stroke-linecap="round"/>
<path d="M303.2 220.5C304.55 220.92 308.53 222.02 311.3 223C314.07 223.98 316.95 225.12 319.8 226.4C322.65 227.68 325.87 229.35 328.4 230.7C330.93 232.05 332.9 233.03 335 234.5C337.1 235.97 339 237.67 341 239.5C343 241.33 344.85 242.95 347 245.5C349.15 248.05 352.05 251.97 353.9 254.8C355.75 257.63 356.95 260.13 358.1 262.5C359.25 264.87 360 266.88 360.8 269C361.6 271.12 362.07 272.92 362.9 275.2C363.73 277.48 364.95 280.32 365.8 282.7C366.65 285.08 367.38 287.6 368 289.5C368.62 291.4 369.25 293.33 369.5 294.1" fill="none" stroke="#2a4aa0" stroke-width="1.7" stroke-linecap="round"/>
</g>
<text font-size="8.2" fill="#1a1a1a" text-anchor="end" textLength="68.5" lengthAdjust="spacingAndGlyphs" transform="translate(413.8 193.2)">yHsp90 w/ATP&#947;S</text>
<clipPath id="ctD"><rect x="270.6" y="155.4" width="144.5" height="28.6"/></clipPath>
<g clip-path="url(#ctD)">
<path d="M270.7 185V183.5H287.71V182.44H290.45V183.21H296.47V182.44H299.21V183.21H310.7V181.34H312.89V182.88H318.37V181.34H321.65V182.66H324.39V180.69H327.67V181.56H329.86V179.59H336.98V178.28H340V178.19H340.27V175.54H341.71V175.91H344.55V177.62H346.83V172.27H349.68V174.2H352.53V171.36H355.37V165.44H358.22V167.94H361.07V164.3H363.91V157.47H369.61V162.48H372.45V161.11H375.3V156.78H378.15V166.8H379.85V167.94H383.84V169.65H386.69V173.07H389.53V174.55H392.38V175.34H395.23V177.05H398.07V178.76H400.92V180.24H403.77V181.38H409.46V182.18H414.81V185Z" fill="#959595" stroke="#1a1a1a" stroke-width="1.1"/>
</g>
<clipPath id="crD"><rect x="415.1" y="184" width="33.1" height="124"/></clipPath>
<g clip-path="url(#crD)">
<path d="M414.1 184H415.6V240H416.14V253.64H417.5V264.55H418.18V268.64H419.27V274.09H420.64V276.82H421.59V283.64H425.68V286.37H427.05V288.41H435.23V291.14H436.59V293.18H443.41V295.23H446.82V297.28H444.77V299.32H442.05V301.37H439.32V303.41H435.91V305.46H430.46V307.78H414.1Z" fill="#959595" stroke="#1a1a1a" stroke-width="1.1"/>
</g>
<line x1="270.6" y1="308" x2="270.6" y2="306.2" stroke="#1a1a1a" stroke-width="0.8"/>
<line x1="270.6" y1="184" x2="270.6" y2="185.8" stroke="#1a1a1a" stroke-width="0.8"/>
<line x1="270.6" y1="184" x2="270.6" y2="182.2" stroke="#1a1a1a" stroke-width="0.8"/>
<line x1="270.6" y1="155.4" x2="270.6" y2="157.2" stroke="#1a1a1a" stroke-width="0.8"/>
<text font-size="6.9" fill="#1a1a1a" text-anchor="middle" transform="translate(270.6 317.2) scale(1.1 1)">0</text>
<text font-size="6.9" fill="#1a1a1a" text-anchor="middle" transform="translate(270.6 152) scale(1.1 1)">0</text>
<line x1="298.3" y1="308" x2="298.3" y2="306.2" stroke="#1a1a1a" stroke-width="0.8"/>
<line x1="298.3" y1="184" x2="298.3" y2="185.8" stroke="#1a1a1a" stroke-width="0.8"/>
<line x1="298.3" y1="184" x2="298.3" y2="182.2" stroke="#1a1a1a" stroke-width="0.8"/>
<line x1="298.3" y1="155.4" x2="298.3" y2="157.2" stroke="#1a1a1a" stroke-width="0.8"/>
<text font-size="6.9" fill="#1a1a1a" text-anchor="middle" transform="translate(298.3 317.2) scale(1.1 1)">1</text>
<text font-size="6.9" fill="#1a1a1a" text-anchor="middle" transform="translate(298.3 152) scale(1.1 1)">1</text>
<line x1="326" y1="308" x2="326" y2="306.2" stroke="#1a1a1a" stroke-width="0.8"/>
<line x1="326" y1="184" x2="326" y2="185.8" stroke="#1a1a1a" stroke-width="0.8"/>
<line x1="326" y1="184" x2="326" y2="182.2" stroke="#1a1a1a" stroke-width="0.8"/>
<line x1="326" y1="155.4" x2="326" y2="157.2" stroke="#1a1a1a" stroke-width="0.8"/>
<text font-size="6.9" fill="#1a1a1a" text-anchor="middle" transform="translate(326 317.2) scale(1.1 1)">2</text>
<text font-size="6.9" fill="#1a1a1a" text-anchor="middle" transform="translate(326 152) scale(1.1 1)">2</text>
<line x1="353.7" y1="308" x2="353.7" y2="306.2" stroke="#1a1a1a" stroke-width="0.8"/>
<line x1="353.7" y1="184" x2="353.7" y2="185.8" stroke="#1a1a1a" stroke-width="0.8"/>
<line x1="353.7" y1="184" x2="353.7" y2="182.2" stroke="#1a1a1a" stroke-width="0.8"/>
<line x1="353.7" y1="155.4" x2="353.7" y2="157.2" stroke="#1a1a1a" stroke-width="0.8"/>
<text font-size="6.9" fill="#1a1a1a" text-anchor="middle" transform="translate(353.7 317.2) scale(1.1 1)">3</text>
<text font-size="6.9" fill="#1a1a1a" text-anchor="middle" transform="translate(353.7 152) scale(1.1 1)">3</text>
<line x1="381.4" y1="308" x2="381.4" y2="306.2" stroke="#1a1a1a" stroke-width="0.8"/>
<line x1="381.4" y1="184" x2="381.4" y2="185.8" stroke="#1a1a1a" stroke-width="0.8"/>
<line x1="381.4" y1="184" x2="381.4" y2="182.2" stroke="#1a1a1a" stroke-width="0.8"/>
<line x1="381.4" y1="155.4" x2="381.4" y2="157.2" stroke="#1a1a1a" stroke-width="0.8"/>
<text font-size="6.9" fill="#1a1a1a" text-anchor="middle" transform="translate(381.4 317.2) scale(1.1 1)">4</text>
<text font-size="6.9" fill="#1a1a1a" text-anchor="middle" transform="translate(381.4 152) scale(1.1 1)">4</text>
<line x1="409.1" y1="308" x2="409.1" y2="306.2" stroke="#1a1a1a" stroke-width="0.8"/>
<line x1="409.1" y1="184" x2="409.1" y2="185.8" stroke="#1a1a1a" stroke-width="0.8"/>
<line x1="409.1" y1="184" x2="409.1" y2="182.2" stroke="#1a1a1a" stroke-width="0.8"/>
<line x1="409.1" y1="155.4" x2="409.1" y2="157.2" stroke="#1a1a1a" stroke-width="0.8"/>
<text font-size="6.9" fill="#1a1a1a" text-anchor="middle" transform="translate(409.1 317.2) scale(1.1 1)">5</text>
<text font-size="6.9" fill="#1a1a1a" text-anchor="middle" transform="translate(409.1 152) scale(1.1 1)">5</text>
<line x1="270.6" y1="297.9" x2="272.4" y2="297.9" stroke="#1a1a1a" stroke-width="0.8"/>
<line x1="415.1" y1="297.9" x2="413.3" y2="297.9" stroke="#1a1a1a" stroke-width="0.8"/>
<line x1="415.1" y1="297.9" x2="416.9" y2="297.9" stroke="#1a1a1a" stroke-width="0.8"/>
<line x1="448.2" y1="297.9" x2="446.4" y2="297.9" stroke="#1a1a1a" stroke-width="0.8"/>
<text font-size="6.9" fill="#1a1a1a" text-anchor="end" transform="translate(268.4 300.3) scale(1.1 1)">0</text>
<text font-size="6.9" fill="#1a1a1a" transform="translate(450.6 300.3) scale(1.1 1)">0</text>
<line x1="270.6" y1="277.2" x2="272.4" y2="277.2" stroke="#1a1a1a" stroke-width="0.8"/>
<line x1="415.1" y1="277.2" x2="413.3" y2="277.2" stroke="#1a1a1a" stroke-width="0.8"/>
<line x1="415.1" y1="277.2" x2="416.9" y2="277.2" stroke="#1a1a1a" stroke-width="0.8"/>
<line x1="448.2" y1="277.2" x2="446.4" y2="277.2" stroke="#1a1a1a" stroke-width="0.8"/>
<text font-size="6.9" fill="#1a1a1a" text-anchor="end" transform="translate(268.4 279.6) scale(1.1 1)">0.2</text>
<text font-size="6.9" fill="#1a1a1a" transform="translate(450.6 279.6) scale(1.1 1)">0.2</text>
<line x1="270.6" y1="256.5" x2="272.4" y2="256.5" stroke="#1a1a1a" stroke-width="0.8"/>
<line x1="415.1" y1="256.5" x2="413.3" y2="256.5" stroke="#1a1a1a" stroke-width="0.8"/>
<line x1="415.1" y1="256.5" x2="416.9" y2="256.5" stroke="#1a1a1a" stroke-width="0.8"/>
<line x1="448.2" y1="256.5" x2="446.4" y2="256.5" stroke="#1a1a1a" stroke-width="0.8"/>
<text font-size="6.9" fill="#1a1a1a" text-anchor="end" transform="translate(268.4 258.9) scale(1.1 1)">0.4</text>
<text font-size="6.9" fill="#1a1a1a" transform="translate(450.6 258.9) scale(1.1 1)">0.4</text>
<line x1="270.6" y1="235.8" x2="272.4" y2="235.8" stroke="#1a1a1a" stroke-width="0.8"/>
<line x1="415.1" y1="235.8" x2="413.3" y2="235.8" stroke="#1a1a1a" stroke-width="0.8"/>
<line x1="415.1" y1="235.8" x2="416.9" y2="235.8" stroke="#1a1a1a" stroke-width="0.8"/>
<line x1="448.2" y1="235.8" x2="446.4" y2="235.8" stroke="#1a1a1a" stroke-width="0.8"/>
<text font-size="6.9" fill="#1a1a1a" text-anchor="end" transform="translate(268.4 238.2) scale(1.1 1)">0.6</text>
<text font-size="6.9" fill="#1a1a1a" transform="translate(450.6 238.2) scale(1.1 1)">0.6</text>
<line x1="270.6" y1="215.1" x2="272.4" y2="215.1" stroke="#1a1a1a" stroke-width="0.8"/>
<line x1="415.1" y1="215.1" x2="413.3" y2="215.1" stroke="#1a1a1a" stroke-width="0.8"/>
<line x1="415.1" y1="215.1" x2="416.9" y2="215.1" stroke="#1a1a1a" stroke-width="0.8"/>
<line x1="448.2" y1="215.1" x2="446.4" y2="215.1" stroke="#1a1a1a" stroke-width="0.8"/>
<text font-size="6.9" fill="#1a1a1a" text-anchor="end" transform="translate(268.4 217.5) scale(1.1 1)">0.8</text>
<text font-size="6.9" fill="#1a1a1a" transform="translate(450.6 217.5) scale(1.1 1)">0.8</text>
<line x1="270.6" y1="194.4" x2="272.4" y2="194.4" stroke="#1a1a1a" stroke-width="0.8"/>
<line x1="415.1" y1="194.4" x2="413.3" y2="194.4" stroke="#1a1a1a" stroke-width="0.8"/>
<line x1="415.1" y1="194.4" x2="416.9" y2="194.4" stroke="#1a1a1a" stroke-width="0.8"/>
<line x1="448.2" y1="194.4" x2="446.4" y2="194.4" stroke="#1a1a1a" stroke-width="0.8"/>
<text font-size="6.9" fill="#1a1a1a" text-anchor="end" transform="translate(268.4 196.8) scale(1.1 1)">1</text>
<text font-size="6.9" fill="#1a1a1a" transform="translate(450.6 196.8) scale(1.1 1)">1</text>
<line x1="270.6" y1="168.3" x2="272.4" y2="168.3" stroke="#1a1a1a" stroke-width="0.8"/>
<line x1="415.1" y1="168.3" x2="413.3" y2="168.3" stroke="#1a1a1a" stroke-width="0.8"/>
<text font-size="6.9" fill="#1a1a1a" text-anchor="end" transform="translate(268 170.7) scale(1.1 1)">50</text>
<line x1="426.6" y1="308" x2="426.6" y2="306.2" stroke="#1a1a1a" stroke-width="0.8"/>
<line x1="426.6" y1="184" x2="426.6" y2="185.8" stroke="#1a1a1a" stroke-width="0.8"/>
<text font-size="6.9" fill="#1a1a1a" transform="translate(424 310.2) scale(1.2 1) rotate(90)">50</text>
<line x1="438.6" y1="308" x2="438.6" y2="306.2" stroke="#1a1a1a" stroke-width="0.8"/>
<line x1="438.6" y1="184" x2="438.6" y2="185.8" stroke="#1a1a1a" stroke-width="0.8"/>
<text font-size="6.9" fill="#1a1a1a" transform="translate(436 310.2) scale(1.2 1) rotate(90)">100</text>
<rect x="270.6" y="155.4" width="144.5" height="28.6" fill="none" stroke="#1a1a1a" stroke-width="1.1"/>
<rect x="270.6" y="184" width="144.5" height="124" fill="none" stroke="#1a1a1a" stroke-width="1.1"/>
<rect x="415.1" y="184" width="33.1" height="124" fill="none" stroke="#1a1a1a" stroke-width="1.1"/>
<text font-size="7.6" fill="#1a1a1a" text-anchor="middle" textLength="52.1" lengthAdjust="spacingAndGlyphs" transform="translate(255.1 246) rotate(-90)">FRET Efficiency</text>
<text font-size="7.0" fill="#1a1a1a" transform="translate(327.1 326.6) scale(1.1 1)">&#964;</text>
<text font-size="5.6" fill="#1a1a1a" textLength="12.8" lengthAdjust="spacingAndGlyphs" transform="translate(330.7 330.4)">D(A)</text>
<text font-size="7.6" fill="#1a1a1a" textLength="12.4" lengthAdjust="spacingAndGlyphs" transform="translate(346 327)">[ns]</text>
<linearGradient id="gD" x1="0" x2="1" y1="0" y2="0"><stop offset="0.0" stop-color="#fff7ee"/><stop offset="0.125" stop-color="#feebd9"/><stop offset="0.25" stop-color="#fdd8b6"/><stop offset="0.375" stop-color="#fbc292"/><stop offset="0.5" stop-color="#f7a162"/><stop offset="0.625" stop-color="#ef8037"/><stop offset="0.75" stop-color="#da5e1e"/><stop offset="0.875" stop-color="#ac3d0e"/><stop offset="1.0" stop-color="#6e1e05"/></linearGradient>
<rect x="421.2" y="166.3" width="41.3" height="5.2" fill="url(#gD)" stroke="#111" stroke-width="1.1"/>
<line x1="432" y1="166.3" x2="432" y2="167.5" stroke="#1a1a1a" stroke-width="0.6"/>
<text font-size="4.8" fill="#1a1a1a" text-anchor="middle" transform="translate(432 164.5) scale(1.15 1)">5</text>
<line x1="445.5" y1="166.3" x2="445.5" y2="167.5" stroke="#1a1a1a" stroke-width="0.6"/>
<text font-size="4.8" fill="#1a1a1a" text-anchor="middle" transform="translate(445.5 164.5) scale(1.15 1)">10</text>
<line x1="458.7" y1="166.3" x2="458.7" y2="167.5" stroke="#1a1a1a" stroke-width="0.6"/>
<text font-size="4.8" fill="#1a1a1a" text-anchor="middle" transform="translate(458.7 164.5) scale(1.15 1)">15</text>
<text font-size="5.0" fill="#1a1a1a" text-anchor="middle" textLength="23" lengthAdjust="spacingAndGlyphs" transform="translate(442.15 159)">Occurrence</text>
<clipPath id="clE"><rect x="34.6" y="379.3" width="143.8" height="123.8"/></clipPath>
<g clip-path="url(#clE)">
<path d="M37.4 501.8L38.9 500.5L37.4 499.2L36 500.5ZM68.6 503.1L70.7 503.1L70 500.5L68.6 499.2L67.2 500.5L66.5 503.1ZM77.1 503.1L78.5 503.1L77.1 501.8L75.7 503.1ZM88.5 501.8L89.9 500.5L91.3 499.9L92.7 500.5L91.3 501.8L89.9 503.1L91.3 503.1L94.1 503.1L95.6 503.1L95.6 500.5L97 499.9L99.8 499.2L101.2 498L101.2 495.4L102.6 494.7L103.3 495.4L104.1 498L105.5 499.2L106.9 498L108.3 497.3L109.7 498L111.1 499.2L111.9 500.5L112.6 503.1L114 503.1L116.8 503.1L118.9 503.1L119.7 502.7L122.5 502.5L125.3 501.8L126.7 503.1L128.2 503.1L131 503.1L133.8 503.1L133.8 503.1L133.8 500.5L133.8 500.5L133.8 500.5L131 502.5L128.2 502.2L126.3 500.5L125.3 499.2L122.5 498L123.2 495.4L122.5 494.7L119.7 495.4L116.8 494.5L115.4 492.8L115.4 490.2L114 489.6L111.1 489.4L108.3 489.4L105.5 489L102.6 487.7L105.5 485.1L108.3 485.9L109 485.1L108.3 484.4L105.5 485.1L102.6 482.5L104.1 479.9L102.6 478.7L99.8 477.4L102.6 476.1L105.5 474.8L106.4 477.4L106.9 479.9L108.3 480.6L109 479.9L109.7 477.4L111.1 475.7L114 476.5L116.8 477.4L116.8 479.9L114.9 482.5L114 485.1L114 485.1L114 485.1L116.8 486.4L117.5 485.1L118.7 482.5L116.8 479.9L119.7 477.4L122.5 477.4L122.5 477.4L125.3 474.8L125.3 474.8L126.3 472.2L125.3 470.5L122.5 469.7L122.5 469.7L120.6 467.1L121.1 464.5L122.5 461.9L122.5 461.9L125.3 459.9L127.2 461.9L125.3 463.7L123.4 464.5L125.3 466.2L128.2 467.1L128.2 467.1L131 468.8L132.4 469.7L133.8 472.2L133.8 472.2L133.8 472.2L134.4 469.7L136.7 467.9L138.9 469.7L139.5 472.2L138.8 474.8L136.7 476.3L134.8 477.4L136.7 478.7L139.5 477.4L139.5 477.4L140.9 474.8L142.3 473.9L143.3 474.8L143.7 477.4L142.3 479.9L142.3 479.9L142.3 479.9L145.2 480.8L147.1 482.5L148 482.9L150 485.1L150.8 486.8L151.8 487.7L153.7 489.4L155.1 490.2L156.5 492.8L153.7 494.1L150.8 494.7L150.1 495.4L150.8 496.2L152.3 498L150.8 499.7L148 500.5L145.2 500.5L142.3 500.5L139.5 499.7L138.6 500.5L137.6 503.1L139 503.1L139.5 501.8L140 503.1L141.4 503.1L142.3 500.5L145.2 503.1L145.2 503.1L147.3 503.1L148 502.5L148.7 503.1L150.8 503.1L153.7 503.1L156.5 503.1L159.3 503.1L160.8 503.1L162.2 501.8L163.6 503.1L165 503.1L167.8 503.1L170.7 503.1L173.5 503.1L174.9 503.1L174.9 500.5L173.5 499.2L172.1 500.5L170.7 501.8L167.8 501.2L167.1 500.5L167.1 498L167.4 495.4L167.1 492.8L165 490.9L164.3 490.2L162.2 488.3L159.3 488.1L158.6 487.7L158.6 485.1L156.5 483.2L155.8 482.5L155.1 479.9L153.7 478.7L150.8 478L149.4 477.4L150.8 476.1L153.7 476.1L155.1 477.4L156.5 478.7L157.9 477.4L159.3 476.1L160 477.4L162.2 479.3L164.3 477.4L163.6 474.8L162.2 473.5L160.8 472.2L160.8 469.7L159.3 468.4L157.9 469.7L157.9 472.2L156.5 473.5L153.7 473.5L152.3 472.2L153.7 471.9L156.2 469.7L156.5 468.4L157.9 467.1L157.9 464.5L156.5 463.2L155.1 464.5L153.7 465.8L150.8 465.8L148 465.8L146.6 467.1L146.6 469.7L148 470.9L149.4 469.7L150.8 468.4L151.2 469.7L150.8 470.9L149.4 472.2L148 473.5L146.6 474.8L146.6 477.4L145.2 478.7L144.8 477.4L144.7 474.8L142.3 472.7L141.6 472.2L142.3 470.9L143.7 469.7L144.7 467.1L142.3 464.9L140 467.1L139.5 468.4L136.7 467.3L133.8 468.4L131 467.5L130.3 467.1L131 465.8L133.8 465.8L136.7 465.8L138.1 464.5L136.7 463.2L133.8 463.2L132.4 461.9L131 460.7L129.6 461.9L128.2 462.6L127.9 461.9L128.2 460.7L129.6 459.4L128.2 458.1L126.7 456.8L125.3 455.5L123.9 454.2L122.5 452.9L121.1 454.2L121.1 456.8L119.7 457.4L119.2 456.8L118.2 454.2L118.2 451.6L119.7 451L121.8 449.1L119.7 447.1L116.8 447.8L114 447.1L111.1 447.8L109.7 449.1L108.3 449.7L106.2 451.6L105.8 454.2L108.3 456.5L108.8 456.8L109.7 459.4L111.1 460.7L112.6 459.4L114 458.9L116.8 458.9L117.5 459.4L116.8 460.7L114 460.7L112.6 461.9L111.9 464.5L111.1 465.2L110.7 464.5L109.7 461.9L108.3 460.7L108 459.4L105.5 457.1L104.1 456.8L104.8 454.2L102.6 452.3L101.9 451.6L102.6 450.4L104.1 449.1L105.5 448.4L108.3 447.8L109.7 446.5L109.7 443.9L111.1 443.3L111.9 443.9L114 445.9L116.1 443.9L114 442L113.3 441.4L112.6 438.8L111.1 437.5L108.3 437.5L106.9 438.8L108.3 440.1L109 441.4L108.3 442.6L106.9 441.4L105.5 440.1L104.1 441.4L103.3 443.9L103.3 446.5L102.6 447.8L101.2 449.1L99.8 449.7L97 450.4L95.6 451.6L94.1 452.9L92.7 451.6L93.7 449.1L94.1 447.8L97 448.6L99.3 446.5L99.8 445.2L101.2 443.9L99.8 442.6L99.3 441.4L97 439.2L95.6 438.8L95.6 436.2L94.1 434.9L93.4 433.6L91.3 431.7L89.2 433.6L88.5 434.3L87.8 433.6L85.6 431.7L84.2 431.1L82.8 429.8L81.4 431.1L80 432.4L78.5 433.6L80 434.9L81.4 436.2L82.8 437.5L84.2 438.8L82.8 440.1L81.4 438.8L80 437.5L78.5 436.2L77.1 434.9L75.7 436.2L74.3 437.5L72.9 436.2L71.5 434.9L70.7 433.6L70 431.1L70.7 428.5L71.5 427.2L74.3 427.9L75 428.5L74.3 429.8L72.9 431.1L74.3 432.4L77.1 432.4L78.5 431.1L80 429.8L81.4 428.5L81.4 425.9L82.3 423.4L82.8 422.1L83.3 423.4L85.6 425.5L86.3 425.9L85.6 427.2L84.2 428.5L85.6 429.8L87 428.5L88.5 427.9L91.3 427.2L92 428.5L94.1 430.4L94.8 431.1L95.6 433.6L97 434.9L98.4 433.6L99.1 431.1L97 429.1L96.3 428.5L97 427.2L98.4 425.9L97 424.6L94.1 424.6L92.7 423.4L94.1 422.1L95.6 420.8L95.6 418.2L95.6 415.6L94.1 414.3L91.3 414.3L88.5 414.3L87 415.6L85.6 416.1L83.3 418.2L82.8 419.5L80 419.5L77.1 418.5L76.4 418.2L77.1 416.9L78.5 415.6L80 415L82.1 413.1L82.8 411.8L84.2 410.5L84.2 407.9L85.6 406.6L87 405.3L87 402.8L85.6 401.5L84.2 400.2L82.8 398.9L81.4 400.2L80 401.5L77.1 400.8L75 402.8L74.3 404.1L72.9 402.8L71.5 401.5L70.7 400.2L71.5 398.9L74.3 399.6L77.1 399.8L79.5 397.6L77.1 395.5L74.3 395.7L71.5 396.3L70 397.6L68.6 398.3L66.5 400.2L65.8 400.8L63 401.5L61.5 400.2L60.1 398.9L57.3 398.1L55.9 397.6L54.4 396.3L53 395.1L51.6 393.8L50.9 392.5L50.2 389.9L51.6 388.6L54.4 388.6L55.9 387.3L54.4 386.1L51.6 386.1L48.8 386.1L45.9 386.1L44.5 387.3L43.1 388.6L41.7 387.3L40.3 386.1L38.9 387.3L37.4 388.6L34.6 388.6L34.6 389.9L34.6 392.5L34.6 395.1L34.6 396.3L34.8 397.6L34.6 398.3L34.6 400.2L34.6 402.8L34.6 404.7L36 405.3L34.6 406.6L34.6 407.9L34.6 410.5L34.6 413.1L34.6 414.3L36 413.1L37.4 411.8L38.9 410.5L40.3 409.2L41 410.5L40.7 413.1L40.3 414.3L38.9 415.6L40.3 416.9L41.7 415.6L43.1 415.2L45.9 415.2L48.8 414.3L51.6 414.3L53 415.6L54.4 416.9L55.9 415.6L57.3 415L58.7 415.6L58 418.2L58.7 420.8L58 423.4L57.3 424.6L55.9 425.9L57.3 427.2L58.7 425.9L60.1 425.3L63 424.6L64.4 423.4L65.8 422.7L66.1 423.4L65.8 424.6L64.4 425.9L65.8 427.2L66.5 428.5L65.8 429.8L64.4 431.1L63.4 433.6L63 434.9L61.5 436.2L63 437.5L64.4 438.8L64.4 441.4L64.4 443.9L65.8 445.2L66.5 446.5L68.6 448.4L70.7 446.5L71.5 445.2L71.9 446.5L74.3 448.6L76.7 446.5L77.1 446.1L80 445.2L81.4 443.9L82.8 442.6L83.3 443.9L82.8 445.2L81.4 446.5L80 447.8L78.5 449.1L80 450.4L80.4 451.6L80 452.3L77.1 452.9L75.7 451.6L74.3 450.4L71.5 450.4L70 451.6L71.5 452.9L72.9 454.2L74.3 455.5L77.1 455.5L80 456.2L82.1 454.2L82.8 453.8L85.6 453.6L86.1 454.2L85.6 454.9L83.5 456.8L82.8 458.1L80 458.1L78.5 459.4L80 460.7L81.4 461.9L80 462.6L78.5 461.9L77.1 460.7L75.7 459.4L74.3 458.1L72.9 459.4L71.5 460.7L68.6 460L65.8 460L64.4 459.4L63 458.1L61.5 459.4L60.1 460L57.3 460L55.2 461.9L57.3 463.9L60.1 463.9L62.2 461.9L63 460.7L63.7 461.9L65.8 463.9L68.6 463.9L70 464.5L71.5 465.8L72.9 464.5L74.3 464.1L77.1 463.2L77.8 464.5L77.1 465.8L74.3 465.8L72.9 467.1L72.9 469.7L74.3 470.9L77.1 470.9L78.5 469.7L78.5 467.1L80 466.4L82.1 464.5L82.8 463.2L84.2 461.9L85.6 461.3L87.8 459.4L87.8 456.8L88.5 456.4L89.2 456.8L91.3 458.7L93.4 456.8L94.1 455.5L94.8 456.8L94.8 459.4L94.1 460.7L91.3 460L89.2 461.9L89.9 464.5L88.5 465.8L87 467.1L88.5 468.4L91.3 469.2L92.7 469.7L91.3 470.3L88.5 470.3L86.3 472.2L85.6 472.7L84.2 472.2L84.2 469.7L82.8 468.4L81.4 469.7L80 470.9L78.5 472.2L77.1 473.5L75.7 474.8L75.7 477.4L77.1 478.7L78.5 477.4L80 476.1L81.4 477.4L81.4 479.9L82.8 481.2L84.2 479.9L84.2 477.4L85.6 476.9L88 474.8L88.5 474.2L91.3 474.2L92.7 474.8L91.8 477.4L91.3 478.7L89.9 479.9L91.3 481.2L91.8 482.5L92.7 485.1L91.8 487.7L91.3 489L89.9 490.2L91.3 491.5L94.1 492.2L95.6 492.8L97 494.1L98.4 492.8L97 491.5L96.3 490.2L97 489.6L99.1 487.7L99.8 487L100.5 487.7L100.5 490.2L100.5 492.8L99.8 494.1L98.4 495.4L97 496L95.6 495.4L94.1 494.1L92.7 495.4L91.3 496L89.9 495.4L88.5 494.1L87 495.4L88.5 496.7L89.2 498L88.5 499.2L87 500.5ZM116.1 500.5L116.8 499.9L117.3 500.5L116.8 501.2ZM118.7 500.5L119.7 499.7L122.5 500.5L119.7 501.4ZM152.3 500.5L153.7 499.7L156.5 500.5L153.7 501.8ZM93.4 498L94.1 496.7L94.8 498L94.1 499.2ZM112.6 498L114 497.1L116.8 498L114 500.5ZM118.9 498L119.7 497.3L120.4 498L119.7 498.4ZM153.3 498L152.3 495.4L153.7 495.1L156.5 494.7L157.2 495.4L156.5 496L154.4 498L153.7 498.4ZM110.4 495.4L111.1 495.1L113.6 492.8L114 491.5L114.3 492.8L115.4 495.4L114 495.8L111.1 496.7ZM162.2 495.4L165 492.8L166 495.4L165 498ZM104.8 492.8L104.8 490.2L105.5 489.9L106.9 490.2L105.9 492.8L105.5 493.5ZM107.4 492.8L108.3 491.5L111.1 491.1L112.6 492.8L111.1 494.1L108.3 495.4ZM158.6 492.8L159.3 492.4L160.8 492.8L159.3 493.5ZM157.9 490.2L159.3 489.4L162.2 490.2L159.3 491.1ZM93.2 487.7L94.1 486.4L97 487.7L94.1 490.2ZM153.2 487.7L150.8 485.5L150.6 485.1L149.4 482.5L150.8 481.9L151.5 482.5L153.7 484.4L154.4 485.1L154.4 487.7L153.7 488.1ZM93.2 482.5L94.1 481.7L95.1 482.5L94.1 483.8ZM96.5 482.5L94.1 480.4L92.7 479.9L94.1 479.5L97 479.5L97.7 479.9L98.4 482.5L97 483.8ZM116.3 482.5L116.8 481.9L117.3 482.5L116.8 483.8ZM93.2 477.4L94.1 476.1L97 476.1L99.8 477.4L97 478.2L94.1 478.2ZM107.8 477.4L108.3 476.7L108.7 477.4L108.3 478.7ZM136.2 477.4L136.7 477.1L137.4 477.4L136.7 477.7ZM84.2 474.8L85.6 473.9L86.6 474.8L85.6 475.7ZM112.6 474.8L114 474.5L115.4 474.8L114 475.2ZM117.8 474.8L116.8 474.4L114 473.5L112.1 472.2L114 469.7L114 469.7L116.8 467.1L118.2 469.7L119.7 470.9L122.5 472.2L121.5 474.8L119.7 477.4ZM95.1 472.2L97 470.5L99.8 469.7L102.6 472.2L99.8 474.3L97 473.9ZM124.6 472.2L125.3 471.8L125.6 472.2L125.3 472.9ZM104.1 469.7L105.5 468.4L106.2 469.7L105.5 470.3ZM152.3 469.7L153.7 467.9L155.1 469.7L153.7 470.9ZM89.9 467.1L91.3 465.8L94.1 467.1L91.3 467.9ZM101.2 467.1L102.6 465.8L104.1 467.1L102.6 468.4ZM141.4 467.1L142.3 466.2L143.3 467.1L142.3 468.4ZM106.9 464.5L108.3 463.2L109.3 464.5L108.3 465.8ZM124.8 464.5L125.3 464.3L126 464.5L125.3 464.9ZM72.9 461.9L74.3 460.7L75.7 461.9L74.3 462.8ZM98.4 461.9L99.8 460.7L101.2 461.9L99.8 463.2ZM101.2 459.4L102.6 458.1L103 459.4L102.6 460.7ZM104.1 459.4L105.5 458.1L106.9 459.4L105.5 461.9ZM97 456.8L99.8 454.2L101.2 456.8L99.8 458.1ZM110.2 456.8L108.3 455.5L106.9 454.2L108.3 451.6L111.1 453.4L112.6 454.2L114 455.5L116.8 455.5L117.8 456.8L116.8 457.7L114 457.7L111.1 458.1ZM87.5 454.2L88.5 452.9L89.9 454.2L88.5 455.1ZM81.9 451.6L82.8 450.4L85.6 451.6L82.8 452.5ZM110.4 451.6L111.1 450.4L112.6 451.6L111.1 452.1ZM84.2 449.1L84.2 446.5L85.6 446.1L88 443.9L87 441.4L88.5 440.1L89.2 441.4L89.9 443.9L89.2 446.5L88.5 447.8L87 449.1L85.6 449.7ZM89.9 449.1L91.3 446.5L92.2 449.1L91.3 450.4ZM73.3 446.5L74.3 445.2L75.2 446.5L74.3 447.4ZM95.6 446.5L97 445.6L97.9 446.5L97 447.4ZM75.7 443.9L77.1 443.1L78.5 443.9L77.1 444.8ZM84.7 443.9L85.6 442.6L86.6 443.9L85.6 444.8ZM92.7 443.9L94.1 443.3L97 443.5L98.4 443.9L97 444.4L94.1 445.2ZM70 441.4L71.5 440.1L74.3 440.1L77.1 440.7L77.8 441.4L77.1 441.8L74.3 442.6L71.5 442.6ZM94.1 441.4L97 440.5L97.9 441.4L97 442.2ZM64.8 433.6L65.8 432.4L68.6 433.6L65.8 436.2ZM81.4 433.6L82.8 432.4L85.6 433.6L82.8 434.9ZM67.2 425.9L67.2 423.4L68.6 422.1L70.5 423.4L70 425.9L68.6 428.5ZM76.4 425.9L75.7 423.4L77.1 423L77.6 423.4L78.5 425.9L77.1 426.6ZM79 423.4L80 422.1L80.9 423.4L80 424.6ZM84.7 423.4L85.6 422.5L86.6 423.4L85.6 424.2ZM88 423.4L88.5 422.7L89.9 423.4L88.5 424ZM61.5 420.8L63 419.5L65.8 420.8L63 422.1ZM67.9 420.8L65.8 418.9L64.4 418.2L65.8 417.6L67.9 415.6L68.6 414.3L69.3 415.6L69.3 418.2L71.5 420.1L72.2 420.8L71.5 422.1L68.6 421.1ZM74.3 420.8L77.1 419.5L79 420.8L77.1 422.1ZM84.2 420.8L85.6 420.4L86.3 420.8L85.6 421.2ZM84.7 418.2L85.6 417.3L88.5 416.9L89.9 418.2L88.5 420.8L85.6 419.1ZM61.5 415.6L61.5 413.1L60.1 411.8L58.7 410.5L60.1 409.8L61.5 410.5L63 411.8L64.4 413.1L63.7 415.6L63 416.9ZM42.2 413.1L43.1 410.5L45.9 410.5L47.4 413.1L45.9 413.9L43.1 413.9ZM76.4 413.1L77.1 412.4L77.8 413.1L77.1 414.3ZM73.6 410.5L74.3 409.2L75 410.5L74.3 411.1ZM79.3 410.5L80 410.1L81.4 410.5L80 411.1ZM36 407.9L37.4 406.6L38.9 407.9L37.4 409.2ZM45.2 407.9L45.9 406.6L48.8 406.6L50.2 405.3L51.6 404.1L53 405.3L51.6 406.6L50.2 407.9L48.8 409.2L45.9 408.6ZM56.6 407.9L57.3 407.3L58 407.9L57.3 409.2ZM62.2 407.9L63 406.6L63.4 407.9L63 409.2ZM64.8 407.9L65.8 407.1L67.2 407.9L65.8 409.2ZM78.5 407.9L80 407.1L81.4 407.9L80 408.8ZM38.9 405.3L40.3 402.8L41.2 405.3L40.3 406.6ZM42.6 405.3L43.1 404.1L44.5 402.8L45.9 401.5L47.4 402.8L45.9 404.1L44.5 405.3L43.1 406ZM59.4 405.3L60.1 404.7L61.5 405.3L60.1 406ZM64.4 405.3L65.8 404.7L67.9 402.8L68.6 402.1L70 402.8L70 405.3L68.6 406.6L65.8 405.8ZM75.7 405.3L77.1 404.7L80 404.1L81.4 405.3L80 405.8L77.1 406.6ZM55.9 402.8L57.3 402.3L58 402.8L57.3 403.4ZM34.6 400.2L35.5 397.6L37.4 395.9L38.6 395.1L38.6 392.5L40.3 390.6L43.1 390.8L45.9 392.5L43.1 395.1L43.1 395.1L40.3 397L39.7 397.6L40.3 400.2L37.4 402.1ZM47.4 400.2L48.8 398.9L49.7 400.2L48.8 401.5ZM51.1 400.2L51.6 399.6L52.3 400.2L51.6 401.5ZM54.4 400.2L57.3 399.3L58.7 400.2L57.3 401.1ZM74.3 397.6L77.1 396.8L78.1 397.6L77.1 398.5ZM36 395.1L36.7 392.5L37.4 391.2L37.7 392.5L37.7 395.1L37.4 395.3ZM45.9 395.1L48.8 392.5L50.2 395.1L48.8 396.3ZM179.2 503.1L179.2 500.5L179.2 499.2L177.8 500.5L177.8 503.1ZM45.9 499.2L47.4 498L48.8 497.3L50.9 495.4L48.8 493.5L46.6 495.4L45.9 496.7L45.5 495.4L43.1 493.2L40.3 493.5L38.9 492.8L37.4 491.5L36 492.8L37.4 494.1L38.1 495.4L40.3 497.3L43.1 497.5L44.5 498ZM40.3 495.4L43.1 494.5L44.1 495.4L43.1 496.2ZM77.1 499.2L78.5 498L77.1 496.7L76.4 495.4L77.1 494.7L78.5 495.4L80 496.7L81.4 495.4L82.8 495L85.6 494.1L87 492.8L87 490.2L85.6 489L84.2 490.2L82.8 490.7L80.4 492.8L80 494.1L79.3 492.8L78.5 490.2L78.5 487.7L77.1 486.4L75.7 487.7L74.3 489L72.9 490.2L74.3 491.5L75 492.8L74.3 493.5L72.9 492.8L71.5 491.5L70 492.8L71.5 494.1L72.2 495.4L74.3 497.3L75.7 498ZM81.9 492.8L82.8 492L84.2 492.8L82.8 493.7ZM128.2 498L131 499L132.1 498L131 497.1L128.2 498L128.2 498ZM130.3 498L131 497.7L131.3 498L131 498.2ZM170.7 499.2L172.1 498L170.7 496.7L169.3 498ZM36 495.4L34.6 494.1L34.6 495.4L34.6 496.7ZM65.8 496.7L68.6 496.7L70 495.4L68.6 494.1L65.8 494.1L64.4 495.4ZM173.5 496.7L176.3 496.7L177.8 495.4L179.2 494.7L179.2 492.8L179.2 490.2L179.2 489L177.8 490.2L176.3 491.5L174.9 492.8L173.5 494.1L172.8 492.8L170.7 490.9L168.6 492.8L170.7 494.7L172.1 495.4ZM54.4 494.1L55.9 492.8L54.4 491.5L53 492.8ZM145.2 492.8L145.2 492.8L145.2 492.8L145.2 492.8ZM43.1 491.5L44.5 490.2L43.1 489L41.7 490.2ZM57.3 491.5L58.7 490.2L58.7 487.7L57.3 486.4L54.4 486.4L53 487.7L54.4 489L55.9 490.2ZM45.9 489L47.4 487.7L45.9 486.4L44.5 487.7ZM63 489L65.8 489L68.6 489.6L70.7 487.7L71.5 487L73.6 485.1L71.5 483.2L69.3 485.1L68.6 485.7L65.8 486.4L63 486.4L61.5 487.7ZM88.5 489L89.9 487.7L89.9 485.1L88.5 483.8L87 485.1L87 487.7ZM119.7 489L122.5 488.5L123.1 487.7L122.5 487L119.7 486.6L117.8 487.7ZM119.2 487.7L119.7 487.4L121.1 487.7L119.7 488ZM139.5 487.7L139.5 487.7L139.5 487.7L139.5 487.7ZM170.7 489.6L172.8 487.7L173.5 486.4L174.9 485.1L176.3 483.8L177.8 482.5L176.3 481.2L173.5 481.2L170.7 481.2L167.8 481.2L166.4 482.5L167.8 483.8L170.7 483.8L172.1 485.1L170.7 485.7L168.6 487.7ZM48.8 486.4L50.2 485.1L48.8 483.8L47.4 485.1ZM80 486.4L82.8 487L84.9 485.1L85.6 483.8L87 482.5L85.6 481.2L84.2 482.5L82.8 483.2L81.4 482.5L80 481.2L77.1 480.3L74.6 482.5L77.1 484.8L78.5 485.1ZM75.7 482.5L77.1 481.2L79 482.5L77.1 483.8ZM145.2 485.1L145.2 485.1L145.2 485.1L145.2 485.1ZM162.2 487L164.3 485.1L163.6 482.5L162.2 481.2L160.8 482.5L160 485.1ZM40.3 483.8L41.7 482.5L40.3 481.2L38.9 482.5ZM45.9 483.8L47.4 482.5L45.9 481.2L44.5 482.5ZM54.4 484.4L57.3 483.8L58.7 482.5L57.3 481.2L55.9 479.9L54.4 478.7L53 479.9L52.3 482.5ZM63 484.4L65.1 482.5L63 480.6L60.8 482.5ZM111.1 483.2L112.6 482.5L111.1 481.9L110.4 482.5ZM122.5 482.5L122.5 482.5L122.5 482.5L122.5 482.5ZM139.5 482.5L139.5 482.5L139.5 482.5L139.5 482.5ZM65.8 479.3L68.6 478.7L71.5 478.7L72.9 477.4L72.9 474.8L71.5 473.5L70 472.2L68.6 470.9L67.2 472.2L67.2 474.8L65.8 475.4L63.7 477.4ZM167.8 479.3L170 477.4L167.8 475.4L165.7 477.4ZM176.3 478.7L177.8 477.4L177.8 474.8L176.3 473.5L174.9 474.8L174.9 477.4ZM45.9 473.5L47.4 472.2L45.9 470.9L44.5 472.2ZM63 473.5L64.4 472.2L63 470.9L61.5 472.2ZM48.8 470.9L50.2 469.7L48.8 468.4L47.4 469.7ZM54.4 470.9L55.9 469.7L55.9 467.1L54.4 465.8L53 467.1L53 469.7ZM167.8 470.9L169.3 469.7L167.8 468.4L166.4 469.7ZM43.1 468.4L45.9 468.4L47.4 467.1L45.9 465.8L43.1 465.8L41.7 467.1ZM60.1 468.4L63 468.4L64.4 467.1L63 465.8L60.1 465.8L58.7 467.1ZM162.2 468.4L163.6 467.1L162.2 465.8L160.8 467.1ZM176.3 465.8L177.8 464.5L179.2 463.2L179.2 461.9L179.2 459.4L179.2 458.1L177.8 459.4L176.3 460.7L174.9 461.9L174.9 464.5ZM51.6 463.2L53 461.9L51.6 460.7L50.2 461.9ZM139.5 463.2L142.3 463.2L143.7 461.9L143.7 459.4L142.3 458.1L140.9 456.8L139.5 455.5L136.7 455.5L135.2 456.8L134.5 459.4L136.7 461.3L138.1 461.9ZM150.8 463.2L153.7 463.2L155.1 461.9L153.7 460.7L150.8 460.7L149.4 461.9ZM71.5 458.1L72.9 456.8L71.5 455.5L70 456.8ZM162.2 458.1L163.6 456.8L162.2 455.5L160.8 456.8ZM173.5 458.1L176.3 458.1L177.8 456.8L176.3 455.5L173.5 455.5L172.1 456.8ZM51.6 455.5L53 454.2L51.6 452.9L50.2 454.2ZM142.3 455.5L143.7 454.2L142.3 452.9L140.9 454.2ZM153.7 456.2L155.8 454.2L153.7 452.3L151.5 454.2ZM159.3 455.5L160.8 454.2L159.3 452.9L157.9 454.2ZM170.7 455.5L172.1 454.2L170.7 452.9L169.3 454.2ZM37.4 452.9L38.9 451.6L37.4 450.4L36 451.6ZM54.4 452.9L55.9 451.6L55.9 449.1L54.4 447.8L53 449.1L53 451.6ZM60.1 452.9L63 452.9L64.4 451.6L63 450.4L60.1 450.4L58.7 451.6ZM125.3 452.9L126.7 451.6L125.3 450.4L123.9 451.6ZM131 452.9L132.4 451.6L131 450.4L129.6 451.6ZM136.7 452.9L138.1 451.6L136.7 450.4L135.2 451.6ZM165 452.9L166.4 451.6L165 450.4L163.6 451.6ZM45.9 450.4L47.4 449.1L45.9 447.8L44.5 449.1ZM128.2 447.8L129.6 446.5L128.2 445.2L126.7 446.5ZM133.8 447.8L135.2 446.5L133.8 445.2L132.4 446.5ZM36.7 443.9L34.6 442L34.6 443.9L34.6 445.9ZM40.3 445.9L42.4 443.9L40.3 442L38.1 443.9ZM54.4 445.2L55.9 443.9L54.4 442.6L53 443.9ZM119.7 445.2L121.1 443.9L119.7 442.6L118.2 443.9ZM162.2 445.2L163.6 443.9L162.2 442.6L160.8 443.9ZM45.9 442.6L47.4 441.4L48.4 438.8L47.4 436.2L45.9 434.9L44.5 436.2L43.5 438.8L44.5 441.4ZM44.5 438.8L45.9 437.1L47.4 438.8L45.9 440.5ZM36 438.8L34.6 437.5L34.6 438.8L34.6 440.1ZM60.1 440.1L61.5 438.8L60.1 437.5L58.7 438.8ZM102.6 440.1L104.1 438.8L102.6 437.5L101.2 438.8ZM122.5 440.1L123.9 438.8L123.9 436.2L122.5 434.9L121.1 436.2L121.1 438.8ZM37.4 437.5L40.3 437.5L41.7 436.2L40.3 434.9L37.4 434.9L36 436.2ZM105.5 437.5L106.9 436.2L107.6 433.6L108.3 432.4L109.7 431.1L108.3 429.8L106.9 431.1L105.5 431.7L103.3 433.6L104.1 436.2ZM131 437.5L133.8 437.5L135.2 436.2L133.8 434.9L131 434.9L129.6 436.2ZM176.3 437.5L177.8 436.2L176.3 434.9L174.9 436.2ZM60.1 434.9L61.5 433.6L60.1 432.4L58.7 433.6ZM153.7 434.9L155.1 433.6L153.7 432.4L152.3 433.6ZM167.8 434.9L169.3 433.6L167.8 432.4L166.4 433.6ZM54.4 432.4L55.9 431.1L54.4 429.8L53 431.1ZM114 432.4L115.4 431.1L114 429.8L112.6 431.1ZM128.2 433L130.3 431.1L128.2 429.1L126 431.1ZM148 432.4L149.4 431.1L148 429.8L146.6 431.1ZM159.3 432.4L160.8 431.1L159.3 429.8L157.9 431.1ZM37.4 430.4L39.6 428.5L40.3 427.2L41.7 425.9L40.3 424.6L38.9 423.4L37.4 422.1L36 423.4L36 425.9L35.3 428.5ZM45.9 430.6L48.3 428.5L45.9 426.4L43.6 428.5ZM45 428.5L45.9 427.6L46.9 428.5L45.9 429.4ZM63 429.8L64.4 428.5L63 427.2L61.5 428.5ZM102.6 429.8L105.5 429.8L106.9 428.5L105.5 427.2L104.8 425.9L105.5 424.6L106.9 423.4L105.5 422.1L104.1 423.4L102.6 424L100.5 425.9L101.2 428.5ZM51.6 427.2L53 425.9L53.7 423.4L54.4 422.1L55.9 420.8L54.4 419.5L53 418.2L51.6 416.9L50.2 418.2L49.5 420.8L49.5 423.4L50.2 425.9ZM111.1 427.2L112.6 425.9L111.1 424.6L109.7 425.9ZM125.3 427.2L126.7 425.9L125.3 424.6L123.9 425.9ZM116.8 424.6L118.2 423.4L116.8 422.1L115.4 423.4ZM36 420.8L34.6 419.5L34.6 420.8L34.6 422.1ZM45.9 422.9L48.3 420.8L45.9 418.6L43.6 420.8ZM45 420.8L45.9 419.9L46.9 420.8L45.9 421.6ZM99.8 422.1L101.2 420.8L99.8 419.5L98.4 420.8ZM173.5 422.1L174.9 420.8L173.5 419.5L172.1 420.8ZM179.2 422.1L179.2 420.8L179.2 419.5L177.8 420.8ZM102.6 419.5L104.1 418.2L102.6 416.9L101.2 418.2ZM125.3 419.5L126.7 418.2L125.3 416.9L123.9 418.2ZM156.5 419.5L157.9 418.2L156.5 416.9L155.1 418.2ZM136.7 416.9L139.5 416.9L140.9 415.6L139.5 414.3L136.7 414.3L135.2 415.6ZM170.7 417.6L172.8 415.6L170.7 413.7L169.3 413.1L167.8 411.8L166.4 413.1L167.8 414.3L168.6 415.6ZM102.6 414.3L104.1 413.1L102.6 411.8L101.2 413.1ZM128.2 414.3L129.6 413.1L128.2 411.8L126.7 413.1ZM133.8 414.3L135.2 413.1L133.8 411.8L132.4 413.1ZM97 411.8L98.4 410.5L97 409.2L95.6 410.5ZM88.5 409.2L89.9 407.9L88.5 406.6L87 407.9ZM94.1 409.2L95.6 407.9L94.1 406.6L92.7 407.9ZM102.6 409.2L104.1 407.9L102.6 406.6L101.2 407.9ZM114 409.2L115.4 407.9L114 406.6L112.6 407.9ZM142.3 409.2L143.7 407.9L142.3 406.6L140.9 407.9ZM170.7 409.2L172.1 407.9L170.7 406.6L169.3 407.9ZM102.6 401.5L104.1 400.2L102.6 398.9L101.2 400.2ZM57.3 396.3L58.7 395.1L60.1 393.8L61.5 392.5L60.1 391.2L57.3 391.2L55.9 392.5L55.9 395.1ZM65.8 396.3L68.6 396.3L70 395.1L70.7 392.5L68.6 390.6L66.5 392.5L65.8 393.8L64.4 395.1ZM105.5 396.3L106.9 395.1L105.5 393.8L104.1 395.1ZM156.5 396.3L157.9 395.1L156.5 393.8L155.1 395.1ZM165 396.3L166.4 395.1L165 393.8L163.6 395.1ZM88.5 393.8L89.9 392.5L88.5 391.2L87 392.5ZM170.7 393.8L172.1 392.5L170.7 391.2L169.3 392.5ZM74.3 391.2L75.7 389.9L74.3 388.6L72.9 389.9ZM136.7 391.2L138.1 389.9L136.7 388.6L135.2 389.9ZM60.1 389.3L63 389.3L65.1 387.3L65.8 386.1L67.2 384.8L65.8 383.5L64.4 384.8L63 385.4L60.1 385.4L58 387.3ZM77.1 388.6L78.5 387.3L78.5 384.8L77.1 383.5L75.7 384.8L75.7 387.3ZM85.6 388.6L87 387.3L85.6 386.1L84.2 387.3ZM43.1 386.1L44.5 384.8L43.1 383.5L41.7 384.8ZM71.5 386.1L72.9 384.8L71.5 383.5L70 384.8ZM88.5 386.1L89.9 384.8L88.5 383.5L87 384.8ZM131 386.1L132.4 384.8L131 383.5L129.6 384.8ZM45.9 383.5L47.4 382.2L48.8 380.9L51.6 380.9L52.3 382.2L54.4 384.1L56.6 382.2L54.4 380.3L53 379.6L51.6 378.3L48.8 378.3L45.9 378.3L44.5 379.6L44.5 382.2ZM159.3 383.5L160.8 382.2L159.3 380.9L157.9 382.2ZM68.6 380.9L70 379.6L68.6 378.3L67.2 379.6ZM43.1 378.3L44.5 377L43.1 377L41.7 377ZM60.1 378.3L61.5 377L60.1 377L58.7 377Z" fill="#f4faf3" stroke="none" fill-rule="evenodd"/>
<path d="M119.7 501.4L122.5 500.5L119.7 499.7L118.7 500.5ZM128.2 502.2L131 502.5L133.8 500.5L133.8 500.5L133.8 500.5L133.8 503.1L136.7 503.1L137.6 503.1L138.6 500.5L139.5 499.7L142.3 500.5L145.2 500.5L148 500.5L150.8 499.7L152.3 498L150.8 496.2L150.1 495.4L150.8 494.7L153.7 494.1L156.5 492.8L155.1 490.2L153.7 489.4L151.8 487.7L150.8 486.8L150 485.1L148 482.9L147.1 482.5L145.2 480.8L142.3 479.9L142.3 479.9L142.3 479.9L143.7 477.4L143.3 474.8L142.3 473.9L140.9 474.8L139.5 477.4L139.5 477.4L136.7 478.7L134.8 477.4L136.7 476.3L138.8 474.8L139.5 472.2L138.9 469.7L136.7 467.9L134.4 469.7L133.8 472.2L133.8 472.2L133.8 472.2L132.4 469.7L131 468.8L128.2 467.1L128.2 467.1L125.3 466.2L123.4 464.5L125.3 463.7L127.2 461.9L125.3 459.9L122.5 461.9L122.5 461.9L121.1 464.5L120.6 467.1L122.5 469.7L122.5 469.7L125.3 470.5L126.3 472.2L125.3 474.8L125.3 474.8L122.5 477.4L122.5 477.4L119.7 477.4L116.8 479.9L118.7 482.5L117.5 485.1L116.8 486.4L114 485.1L114 485.1L114 485.1L114.9 482.5L116.8 479.9L116.8 477.4L114 476.5L111.1 475.7L109.7 477.4L109 479.9L108.3 480.6L106.9 479.9L106.4 477.4L105.5 474.8L102.6 476.1L99.8 477.4L102.6 478.7L104.1 479.9L102.6 482.5L105.5 485.1L108.3 484.4L109 485.1L108.3 485.9L105.5 485.1L102.6 487.7L105.5 489L108.3 489.4L111.1 489.4L114 489.6L115.4 490.2L115.4 492.8L116.8 494.5L119.7 495.4L122.5 494.7L123.2 495.4L122.5 498L125.3 499.2L126.3 500.5ZM127.7 500.5L128.2 499.9L131 499.8L132.4 500.5L131 501.5L128.2 501ZM136 500.5L133.8 499.2L133 498L131 496.5L128.2 497L125.3 497.3L124.3 495.4L122.5 493.8L119.7 494.7L116.8 493.2L116.5 492.8L116.8 491.5L118.2 490.2L119.7 489.9L122.5 489.8L123.9 487.7L122.5 486.1L119.7 485.9L118.6 485.1L119.7 483.2L122.5 483.8L124.6 482.5L123.2 479.9L123.5 477.4L125.3 475.8L126.4 474.8L127 472.2L126 469.7L128.2 468.4L130.3 469.7L131 470.9L131.7 472.2L131 473.5L130.5 474.8L131 475.1L131.7 474.8L133.8 473.5L136 472.2L135.2 469.7L136.7 468.6L138.1 469.7L137.4 472.2L137.7 474.8L136.7 475.6L133.8 476.7L133.5 477.4L131 479.6L128.2 478.7L127.4 479.9L128.2 480.3L131 481.2L133.8 480.3L135.2 479.9L136.7 479.6L139.5 479.3L140.2 479.9L139.5 480.6L138.1 482.5L139.5 483.3L141.6 482.5L142.3 481.9L145.2 482.1L145.6 482.5L145.2 483.2L144.5 485.1L145.2 486.4L146 485.1L148 483.6L149.4 485.1L148 487.3L147.3 487.7L148 488.3L150.1 490.2L150.8 490.9L153.7 491.5L154.4 492.8L153.7 493.1L150.8 493.8L148.7 492.8L148 492.2L145.2 491.5L144.1 492.8L145.2 494.1L148 493.5L149.1 495.4L150.8 497.5L151.2 498L150.8 498.4L148 498.6L145.2 499.2L143 498L143 495.4L142.3 495L139.5 495.3L139.3 495.4L139.5 496.7L140.9 498L139.5 498.4L137.1 500.5L136.7 501.8ZM128.2 498L128.2 498L131 497.1L132.1 498L131 499L128.2 498ZM145.2 492.8L145.2 492.8L145.2 492.8L145.2 492.8ZM104.8 487.7L105.5 487L108.3 487.2L110.1 485.1L111.1 484.1L112.6 485.1L114 486.4L116.1 487.7L114 488.6L111.1 488.1L108.3 488.1L105.5 488ZM117.8 487.7L119.7 486.6L122.5 487L123.1 487.7L122.5 488.5L119.7 489ZM145.2 485.1L145.2 485.1L145.2 485.1L145.2 485.1ZM104.8 482.5L105.5 481.2L108.3 481.6L109.4 482.5L108.3 483.5L105.5 483.2ZM110.4 482.5L111.1 481.9L112.6 482.5L111.1 483.2ZM122.5 482.5L122.5 482.5L122.5 482.5L122.5 482.5ZM139.5 482.5L139.5 482.5L139.5 482.5L139.5 482.5ZM110.1 479.9L110.8 477.4L111.1 476.9L112.6 477.4L113.3 479.9L111.1 480.9ZM117.7 479.9L119.7 478.1L122.1 479.9L119.7 482.2ZM141.6 477.4L142.3 476.1L142.7 477.4L142.3 478ZM122 467.1L122.5 465.8L123.9 467.1L122.5 467.7ZM123.5 461.9L125.3 460.7L126.5 461.9L125.3 463ZM142.3 503.1L145.2 503.1L142.3 500.5L141.4 503.1ZM153.7 501.8L156.5 500.5L153.7 499.7L152.3 500.5ZM114 500.5L116.8 498L114 497.1L112.6 498ZM43.1 496.2L44.1 495.4L43.1 494.5L40.3 495.4ZM165 498L166 495.4L165 492.8L162.2 495.4ZM82.8 493.7L84.2 492.8L82.8 492L81.9 492.8ZM108.3 495.4L111.1 494.1L112.6 492.8L111.1 491.1L108.3 491.5L107.4 492.8ZM109.7 492.8L111.1 492.4L111.5 492.8L111.1 493.1ZM159.3 491.1L162.2 490.2L159.3 489.4L157.9 490.2ZM94.1 490.2L97 487.7L94.1 486.4L93.2 487.7ZM128.2 488.3L128.4 487.7L128.2 487.5L127.7 487.7ZM136.7 487.8L139.5 488.3L140.6 487.7L139.5 486.9L136.7 487.5L136 487.7ZM139.5 487.7L139.5 487.7L139.5 487.7L139.5 487.7ZM77.1 483.8L79 482.5L77.1 481.2L75.7 482.5ZM76.8 482.5L77.1 482.2L77.6 482.5L77.1 482.8ZM94.1 483.8L95.1 482.5L94.1 481.7L93.2 482.5ZM94.1 478.2L97 478.2L99.8 477.4L97 476.1L94.1 476.1L93.2 477.4ZM85.6 475.7L86.6 474.8L85.6 473.9L84.2 474.8ZM119.7 477.4L121.5 474.8L122.5 472.2L119.7 470.9L118.2 469.7L116.8 467.1L114 469.7L114 469.7L112.1 472.2L114 473.5L116.8 474.4L117.8 474.8ZM119.2 474.8L116.8 473.9L114 472.6L113.5 472.2L114 471.6L116.8 469.9L119.4 472.2L119.7 473.5L120.1 474.8L119.7 475.4ZM97 473.9L99.8 474.3L102.6 472.2L99.8 469.7L97 470.5L95.1 472.2ZM96.5 472.2L97 471.8L99.8 470.6L101.6 472.2L99.8 473.5L97 472.7ZM153.7 470.9L155.1 469.7L153.7 467.9L152.3 469.7ZM153.3 469.7L153.7 469.2L154 469.7L153.7 470ZM91.3 467.9L94.1 467.1L91.3 465.8L89.9 467.1ZM102.6 468.4L104.1 467.1L102.6 465.8L101.2 467.1ZM142.3 468.4L143.3 467.1L142.3 466.2L141.4 467.1ZM108.3 465.8L109.3 464.5L108.3 463.2L106.9 464.5ZM74.3 462.8L75.7 461.9L74.3 460.7L72.9 461.9ZM99.8 463.2L101.2 461.9L99.8 460.7L98.4 461.9ZM105.5 461.9L106.9 459.4L105.5 458.1L104.1 459.4ZM105.1 459.4L105.5 459L105.8 459.4L105.5 460ZM99.8 458.1L101.2 456.8L99.8 454.2L97 456.8ZM111.1 458.1L114 457.7L116.8 457.7L117.8 456.8L116.8 455.5L114 455.5L112.6 454.2L111.1 453.4L108.3 451.6L106.9 454.2L108.3 455.5L110.2 456.8ZM108 454.2L108.3 453.6L109.7 454.2L108.3 454.5ZM88.5 455.1L89.9 454.2L88.5 452.9L87.5 454.2ZM82.8 452.5L85.6 451.6L82.8 450.4L81.9 451.6ZM91.3 450.4L92.2 449.1L91.3 446.5L89.9 449.1ZM74.3 447.4L75.2 446.5L74.3 445.2L73.3 446.5ZM97 447.4L97.9 446.5L97 445.6L95.6 446.5ZM77.1 444.8L78.5 443.9L77.1 443.1L75.7 443.9ZM85.6 444.8L86.6 443.9L85.6 442.6L84.7 443.9ZM97 442.2L97.9 441.4L97 440.5L94.1 441.4ZM45.9 440.5L47.4 438.8L45.9 437.1L44.5 438.8ZM45.6 438.8L45.9 438.4L46.3 438.8L45.9 439.2ZM65.8 436.2L68.6 433.6L65.8 432.4L64.8 433.6ZM82.8 434.9L85.6 433.6L82.8 432.4L81.4 433.6ZM45.9 429.4L46.9 428.5L45.9 427.6L45 428.5ZM68.6 428.5L70 425.9L70.5 423.4L68.6 422.1L67.2 423.4L67.2 425.9ZM68.3 423.4L68.6 423L69.1 423.4L68.6 424.6ZM80 424.6L80.9 423.4L80 422.1L79 423.4ZM85.6 424.2L86.6 423.4L85.6 422.5L84.7 423.4ZM45.9 421.6L46.9 420.8L45.9 419.9L45 420.8ZM63 422.1L65.8 420.8L63 419.5L61.5 420.8ZM77.1 422.1L79 420.8L77.1 419.5L74.3 420.8ZM76.4 420.8L77.1 420.5L77.6 420.8L77.1 421.1ZM85.6 419.1L88.5 420.8L89.9 418.2L88.5 416.9L85.6 417.3L84.7 418.2ZM43.1 413.9L45.9 413.9L47.4 413.1L45.9 410.5L43.1 410.5L42.2 413.1ZM37.4 409.2L38.9 407.9L37.4 406.6L36 407.9ZM65.8 409.2L67.2 407.9L65.8 407.1L64.8 407.9ZM80 408.8L81.4 407.9L80 407.1L78.5 407.9ZM40.3 406.6L41.2 405.3L40.3 402.8L38.9 405.3ZM37.4 402.1L40.3 400.2L39.7 397.6L40.3 397L43.1 395.1L43.1 395.1L45.9 392.5L43.1 390.8L40.3 390.6L38.6 392.5L38.6 395.1L37.4 395.9L35.5 397.6L34.6 400.2ZM36 400.2L36.3 397.6L37.4 396.6L38.9 397.6L38.9 400.2L37.4 401.2ZM39.4 395.1L39.4 392.5L40.3 391.5L43.1 392.1L43.8 392.5L43.1 393.1L41.7 395.1L40.3 396ZM48.8 401.5L49.7 400.2L48.8 398.9L47.4 400.2ZM57.3 401.1L58.7 400.2L57.3 399.3L54.4 400.2ZM77.1 398.5L78.1 397.6L77.1 396.8L74.3 397.6ZM48.8 396.3L50.2 395.1L48.8 392.5L45.9 395.1Z" fill="#d9edd8" stroke="none" fill-rule="evenodd"/>
<path d="M128.2 501L131 501.5L132.4 500.5L131 499.8L128.2 499.9L127.7 500.5ZM136.7 501.8L137.1 500.5L139.5 498.4L140.9 498L139.5 496.7L139.3 495.4L139.5 495.3L142.3 495L143 495.4L143 498L145.2 499.2L148 498.6L150.8 498.4L151.2 498L150.8 497.5L149.1 495.4L148 493.5L145.2 494.1L144.1 492.8L145.2 491.5L148 492.2L148.7 492.8L150.8 493.8L153.7 493.1L154.4 492.8L153.7 491.5L150.8 490.9L150.1 490.2L148 488.3L147.3 487.7L148 487.3L149.4 485.1L148 483.6L146 485.1L145.2 486.4L144.5 485.1L145.2 483.2L145.6 482.5L145.2 482.1L142.3 481.9L141.6 482.5L139.5 483.3L138.1 482.5L139.5 480.6L140.2 479.9L139.5 479.3L136.7 479.6L135.2 479.9L133.8 480.3L131 481.2L128.2 480.3L127.4 479.9L128.2 478.7L131 479.6L133.5 477.4L133.8 476.7L136.7 475.6L137.7 474.8L137.4 472.2L138.1 469.7L136.7 468.6L135.2 469.7L136 472.2L133.8 473.5L131.7 474.8L131 475.1L130.5 474.8L131 473.5L131.7 472.2L131 470.9L130.3 469.7L128.2 468.4L126 469.7L127 472.2L126.4 474.8L125.3 475.8L123.5 477.4L123.2 479.9L124.6 482.5L122.5 483.8L119.7 483.2L118.6 485.1L119.7 485.9L122.5 486.1L123.9 487.7L122.5 489.8L119.7 489.9L118.2 490.2L116.8 491.5L116.5 492.8L116.8 493.2L119.7 494.7L122.5 493.8L124.3 495.4L125.3 497.3L128.2 497L131 496.5L133 498L133.8 499.2L136 500.5ZM125.3 495.4L125.3 492.8L128.2 490.2L131 492.8L131 492.8L131 492.8L131 490.2L131 490.2L129 487.7L128.2 486.8L126.3 487.7L125.3 490.2L124.8 487.7L122.5 485.1L125.3 483.4L126.3 482.5L128.2 481.2L130 482.5L130.4 485.1L131 485.5L133.8 487.7L133.8 487.7L136.7 488.1L139.5 489L141.6 487.7L139.5 486.1L136.7 487.2L134.1 485.1L133.8 484.2L131.9 482.5L133.8 481.2L136.7 482.5L136.7 482.5L139.5 484.1L142.3 483.2L143.7 485.1L145.2 487.7L145.2 490.2L143 492.8L142.3 493.7L139.5 494.9L138.7 495.4L136.7 498L133.8 498L131 495.8L128.2 496ZM117.5 492.8L119.7 490.9L122.5 492.8L119.7 494.1ZM127.7 487.7L128.2 487.5L128.4 487.7L128.2 488.3ZM136 487.7L136.7 487.5L139.5 486.9L140.6 487.7L139.5 488.3L136.7 487.8ZM146.9 485.1L148 484.2L148.8 485.1L148 486.4ZM124.6 477.4L125.3 476.7L126.7 477.4L125.3 479.9ZM129.1 477.4L131 476.1L132.4 477.4L131 478.7ZM127.4 474.8L127.7 472.2L128.2 469.7L129.6 472.2L129.1 474.8L128.2 476.1ZM136.1 469.7L136.7 469.2L137.2 469.7L136.7 470.9ZM111.1 493.1L111.5 492.8L111.1 492.4L109.7 492.8ZM136.7 492.8L136.7 492.8L136.7 492.8L136.7 492.8ZM105.5 488L108.3 488.1L111.1 488.1L114 488.6L116.1 487.7L114 486.4L112.6 485.1L111.1 484.1L110.1 485.1L108.3 487.2L105.5 487L104.8 487.7ZM77.1 482.8L77.6 482.5L77.1 482.2L76.8 482.5ZM105.5 483.2L108.3 483.5L109.4 482.5L108.3 481.6L105.5 481.2L104.8 482.5ZM111.1 480.9L113.3 479.9L112.6 477.4L111.1 476.9L110.8 477.4L110.1 479.9ZM119.7 482.2L122.1 479.9L119.7 478.1L117.7 479.9ZM118.5 479.9L119.7 478.9L121.1 479.9L119.7 481.2ZM142.3 478L142.7 477.4L142.3 476.1L141.6 477.4ZM119.7 475.4L120.1 474.8L119.7 473.5L119.4 472.2L116.8 469.9L114 471.6L113.5 472.2L114 472.6L116.8 473.9L119.2 474.8ZM114.7 472.2L116.8 470.7L118.5 472.2L116.8 473.3ZM97 472.7L99.8 473.5L101.6 472.2L99.8 470.6L97 471.8L96.5 472.2ZM98.4 472.2L99.8 471.6L100.5 472.2L99.8 472.7ZM153.7 470L154 469.7L153.7 469.2L153.3 469.7ZM122.5 467.7L123.9 467.1L122.5 465.8L122 467.1ZM125.3 463L126.5 461.9L125.3 460.7L123.5 461.9ZM124.6 461.9L125.3 461.4L125.8 461.9L125.3 462.4ZM105.5 460L105.8 459.4L105.5 459L105.1 459.4ZM108.3 454.5L109.7 454.2L108.3 453.6L108 454.2ZM45.9 439.2L46.3 438.8L45.9 438.4L45.6 438.8ZM68.6 424.6L69.1 423.4L68.6 423L68.3 423.4ZM77.1 421.1L77.6 420.8L77.1 420.5L76.4 420.8ZM37.4 401.2L38.9 400.2L38.9 397.6L37.4 396.6L36.3 397.6L36 400.2ZM37 397.6L37.4 397.2L38 397.6L37.4 400.2ZM40.3 396L41.7 395.1L43.1 393.1L43.8 392.5L43.1 392.1L40.3 391.5L39.4 392.5L39.4 395.1Z" fill="#aedbb2" stroke="none" fill-rule="evenodd"/>
<path d="M128.2 496L131 495.8L133.8 498L136.7 498L138.7 495.4L139.5 494.9L142.3 493.7L143 492.8L145.2 490.2L145.2 487.7L143.7 485.1L142.3 483.2L139.5 484.1L136.7 482.5L136.7 482.5L133.8 481.2L131.9 482.5L133.8 484.2L134.1 485.1L136.7 487.2L139.5 486.1L141.6 487.7L139.5 489L136.7 488.1L133.8 487.7L133.8 487.7L131 485.5L130.4 485.1L130 482.5L128.2 481.2L126.3 482.5L125.3 483.4L122.5 485.1L124.8 487.7L125.3 490.2L126.3 487.7L128.2 486.8L129 487.7L131 490.2L131 490.2L131 492.8L131 492.8L131 492.8L128.2 490.2L125.3 492.8L125.3 495.4ZM131.5 495.4L133.8 493.2L136.7 493.6L137.2 492.8L136.7 492.5L133.8 492.7L131.3 490.2L131 489.5L129.6 487.7L131 486.2L133 487.7L133.8 488L136.7 488.4L139.5 489.6L142.3 489L143 490.2L142.3 491.5L142.1 492.8L139.5 494.5L138.1 495.4L136.7 497.2L133.8 497ZM127.4 492.8L128.2 492.2L128.9 492.8L128.2 494.1ZM136.7 492.8L136.7 492.8L136.7 492.8L136.7 492.8ZM124.6 485.1L125.3 484.7L127.7 482.5L128.2 482.2L128.6 482.5L129.6 485.1L128.2 486.2L125.3 486.4ZM134.6 485.1L133.8 482.9L133.4 482.5L133.8 482.2L134.5 482.5L136.7 483L139.5 484.8L142.3 484.1L143 485.1L142.3 487L139.5 485.3L136.7 486.8ZM119.7 494.1L122.5 492.8L119.7 490.9L117.5 492.8ZM118.6 492.8L119.7 491.8L121.1 492.8L119.7 493.5ZM148 486.4L148.8 485.1L148 484.2L146.9 485.1ZM147.7 485.1L148 484.9L148.2 485.1L148 485.4ZM119.7 481.2L121.1 479.9L119.7 478.9L118.5 479.9ZM119.4 479.9L119.7 479.7L120 479.9L119.7 480.3ZM125.3 479.9L126.7 477.4L125.3 476.7L124.6 477.4ZM131 478.7L132.4 477.4L131 476.1L129.1 477.4ZM130.5 477.4L131 477.1L131.3 477.4L131 477.7ZM128.2 476.1L129.1 474.8L129.6 472.2L128.2 469.7L127.7 472.2L127.4 474.8ZM99.8 472.7L100.5 472.2L99.8 471.6L98.4 472.2ZM116.8 473.3L118.5 472.2L116.8 470.7L114.7 472.2ZM115.8 472.2L116.8 471.5L117.7 472.2L116.8 472.8ZM136.7 470.9L137.2 469.7L136.7 469.2L136.1 469.7ZM125.3 462.4L125.8 461.9L125.3 461.4L124.6 461.9ZM37.4 400.2L38 397.6L37.4 397.2L37 397.6Z" fill="#6cc080" stroke="none" fill-rule="evenodd"/>
<path d="M133.8 497L136.7 497.2L138.1 495.4L139.5 494.5L142.1 492.8L142.3 491.5L143 490.2L142.3 489L139.5 489.6L136.7 488.4L133.8 488L133 487.7L131 486.2L129.6 487.7L131 489.5L131.3 490.2L133.8 492.7L136.7 492.5L137.2 492.8L136.7 493.6L133.8 493.2L131.5 495.4ZM132.9 495.4L133.8 494.5L136.7 494.4L137.5 495.4L136.7 496.4L133.8 496ZM137.7 492.8L136.7 492.1L133.8 492.3L131.7 490.2L131 488.7L130.2 487.7L131 486.8L132.1 487.7L133.8 488.3L136.7 488.7L139.5 490.2L139.5 490.2L141.5 492.8L139.5 494.1ZM119.7 493.5L121.1 492.8L119.7 491.8L118.6 492.8ZM128.2 494.1L128.9 492.8L128.2 492.2L127.4 492.8ZM125.3 486.4L128.2 486.2L129.6 485.1L128.6 482.5L128.2 482.2L127.7 482.5L125.3 484.7L124.6 485.1ZM126.7 485.1L128.2 483.8L128.7 485.1L128.2 485.5ZM136.7 486.8L139.5 485.3L142.3 487L143 485.1L142.3 484.1L139.5 484.8L136.7 483L134.5 482.5L133.8 482.2L133.4 482.5L133.8 482.9L134.6 485.1ZM135.1 485.1L136.7 483.5L139 485.1L136.7 486.4ZM148 485.4L148.2 485.1L148 484.9L147.7 485.1ZM119.7 480.3L120 479.9L119.7 479.7L119.4 479.9ZM131 477.7L131.3 477.4L131 477.1L130.5 477.4ZM116.8 472.8L117.7 472.2L116.8 471.5L115.8 472.2Z" fill="#329e58" stroke="none" fill-rule="evenodd"/>
<path d="M133.8 496L136.7 496.4L137.5 495.4L136.7 494.4L133.8 494.5L132.9 495.4ZM139.5 494.1L141.5 492.8L139.5 490.2L139.5 490.2L136.7 488.7L133.8 488.3L132.1 487.7L131 486.8L130.2 487.7L131 488.7L131.7 490.2L133.8 492.3L136.7 492.1L137.7 492.8ZM128.2 485.5L128.7 485.1L128.2 483.8L126.7 485.1ZM136.7 486.4L139 485.1L136.7 483.5L135.1 485.1Z" fill="#0e6f36" stroke="none" fill-rule="evenodd"/>
<path d="M70.7 503.1L70 500.5L68.6 499.2L67.2 500.5L66.5 503.1M78.5 503.1L77.1 501.8L75.7 503.1M95.6 503.1L95.6 500.5L97 499.9L99.8 499.2L101.2 498L101.2 495.4L102.6 494.7L103.3 495.4L104.1 498L105.5 499.2L106.9 498L108.3 497.3L109.7 498L111.1 499.2L111.9 500.5L112.6 503.1M118.9 503.1L119.7 502.7L122.5 502.5L125.3 501.8L126.7 503.1M139 503.1L139.5 501.8L140 503.1M147.3 503.1L148 502.5L148.7 503.1M160.8 503.1L162.2 501.8L163.6 503.1M174.9 503.1L174.9 500.5L173.5 499.2L172.1 500.5L170.7 501.8L167.8 501.2L167.1 500.5L167.1 498L167.4 495.4L167.1 492.8L165 490.9L164.3 490.2L162.2 488.3L159.3 488.1L158.6 487.7L158.6 485.1L156.5 483.2L155.8 482.5L155.1 479.9L153.7 478.7L150.8 478L149.4 477.4L150.8 476.1L153.7 476.1L155.1 477.4L156.5 478.7L157.9 477.4L159.3 476.1L160 477.4L162.2 479.3L164.3 477.4L163.6 474.8L162.2 473.5L160.8 472.2L160.8 469.7L159.3 468.4L157.9 469.7L157.9 472.2L156.5 473.5L153.7 473.5L152.3 472.2L153.7 471.9L156.2 469.7L156.5 468.4L157.9 467.1L157.9 464.5L156.5 463.2L155.1 464.5L153.7 465.8L150.8 465.8L148 465.8L146.6 467.1L146.6 469.7L148 470.9L149.4 469.7L150.8 468.4L151.2 469.7L150.8 470.9L149.4 472.2L148 473.5L146.6 474.8L146.6 477.4L145.2 478.7L144.8 477.4L144.7 474.8L142.3 472.7L141.6 472.2L142.3 470.9L143.7 469.7L144.7 467.1L142.3 464.9L140 467.1L139.5 468.4L136.7 467.3L133.8 468.4L131 467.5L130.3 467.1L131 465.8L133.8 465.8L136.7 465.8L138.1 464.5L136.7 463.2L133.8 463.2L132.4 461.9L131 460.7L129.6 461.9L128.2 462.6L127.9 461.9L128.2 460.7L129.6 459.4L128.2 458.1L126.7 456.8L125.3 455.5L123.9 454.2L122.5 452.9L121.1 454.2L121.1 456.8L119.7 457.4L119.2 456.8L118.2 454.2L118.2 451.6L119.7 451L121.8 449.1L119.7 447.1L116.8 447.8L114 447.1L111.1 447.8L109.7 449.1L108.3 449.7L106.2 451.6L105.8 454.2L108.3 456.5L108.8 456.8L109.7 459.4L111.1 460.7L112.6 459.4L114 458.9L116.8 458.9L117.5 459.4L116.8 460.7L114 460.7L112.6 461.9L111.9 464.5L111.1 465.2L110.7 464.5L109.7 461.9L108.3 460.7L108 459.4L105.5 457.1L104.1 456.8L104.8 454.2L102.6 452.3L101.9 451.6L102.6 450.4L104.1 449.1L105.5 448.4L108.3 447.8L109.7 446.5L109.7 443.9L111.1 443.3L111.9 443.9L114 445.9L116.1 443.9L114 442L113.3 441.4L112.6 438.8L111.1 437.5L108.3 437.5L106.9 438.8L108.3 440.1L109 441.4L108.3 442.6L106.9 441.4L105.5 440.1L104.1 441.4L103.3 443.9L103.3 446.5L102.6 447.8L101.2 449.1L99.8 449.7L97 450.4L95.6 451.6L94.1 452.9L92.7 451.6L93.7 449.1L94.1 447.8L97 448.6L99.3 446.5L99.8 445.2L101.2 443.9L99.8 442.6L99.3 441.4L97 439.2L95.6 438.8L95.6 436.2L94.1 434.9L93.4 433.6L91.3 431.7L89.2 433.6L88.5 434.3L87.8 433.6L85.6 431.7L84.2 431.1L82.8 429.8L81.4 431.1L80 432.4L78.5 433.6L80 434.9L81.4 436.2L82.8 437.5L84.2 438.8L82.8 440.1L81.4 438.8L80 437.5L78.5 436.2L77.1 434.9L75.7 436.2L74.3 437.5L72.9 436.2L71.5 434.9L70.7 433.6L70 431.1L70.7 428.5L71.5 427.2L74.3 427.9L75 428.5L74.3 429.8L72.9 431.1L74.3 432.4L77.1 432.4L78.5 431.1L80 429.8L81.4 428.5L81.4 425.9L82.3 423.4L82.8 422.1L83.3 423.4L85.6 425.5L86.3 425.9L85.6 427.2L84.2 428.5L85.6 429.8L87 428.5L88.5 427.9L91.3 427.2L92 428.5L94.1 430.4L94.8 431.1L95.6 433.6L97 434.9L98.4 433.6L99.1 431.1L97 429.1L96.3 428.5L97 427.2L98.4 425.9L97 424.6L94.1 424.6L92.7 423.4L94.1 422.1L95.6 420.8L95.6 418.2L95.6 415.6L94.1 414.3L91.3 414.3L88.5 414.3L87 415.6L85.6 416.1L83.3 418.2L82.8 419.5L80 419.5L77.1 418.5L76.4 418.2L77.1 416.9L78.5 415.6L80 415L82.1 413.1L82.8 411.8L84.2 410.5L84.2 407.9L85.6 406.6L87 405.3L87 402.8L85.6 401.5L84.2 400.2L82.8 398.9L81.4 400.2L80 401.5L77.1 400.8L75 402.8L74.3 404.1L72.9 402.8L71.5 401.5L70.7 400.2L71.5 398.9L74.3 399.6L77.1 399.8L79.5 397.6L77.1 395.5L74.3 395.7L71.5 396.3L70 397.6L68.6 398.3L66.5 400.2L65.8 400.8L63 401.5L61.5 400.2L60.1 398.9L57.3 398.1L55.9 397.6L54.4 396.3L53 395.1L51.6 393.8L50.9 392.5L50.2 389.9L51.6 388.6L54.4 388.6L55.9 387.3L54.4 386.1L51.6 386.1L48.8 386.1L45.9 386.1L44.5 387.3L43.1 388.6L41.7 387.3L40.3 386.1L38.9 387.3L37.4 388.6L34.6 388.6M179.2 499.2L177.8 500.5L177.8 503.1M34.6 496.7L36 495.4L34.6 494.1M179.2 489L177.8 490.2L176.3 491.5L174.9 492.8L173.5 494.1L172.8 492.8L170.7 490.9L168.6 492.8L170.7 494.7L172.1 495.4L173.5 496.7L176.3 496.7L177.8 495.4L179.2 494.7M179.2 458.1L177.8 459.4L176.3 460.7L174.9 461.9L174.9 464.5L176.3 465.8L177.8 464.5L179.2 463.2M34.6 445.9L36.7 443.9L34.6 442M34.6 440.1L36 438.8L34.6 437.5M34.6 422.1L36 420.8L34.6 419.5M179.2 419.5L177.8 420.8L179.2 422.1M34.6 414.3L36 413.1L37.4 411.8L38.9 410.5L40.3 409.2L41 410.5L40.7 413.1L40.3 414.3L38.9 415.6L40.3 416.9L41.7 415.6L43.1 415.2L45.9 415.2L48.8 414.3L51.6 414.3L53 415.6L54.4 416.9L55.9 415.6L57.3 415L58.7 415.6L58 418.2L58.7 420.8L58 423.4L57.3 424.6L55.9 425.9L57.3 427.2L58.7 425.9L60.1 425.3L63 424.6L64.4 423.4L65.8 422.7L66.1 423.4L65.8 424.6L64.4 425.9L65.8 427.2L66.5 428.5L65.8 429.8L64.4 431.1L63.4 433.6L63 434.9L61.5 436.2L63 437.5L64.4 438.8L64.4 441.4L64.4 443.9L65.8 445.2L66.5 446.5L68.6 448.4L70.7 446.5L71.5 445.2L71.9 446.5L74.3 448.6L76.7 446.5L77.1 446.1L80 445.2L81.4 443.9L82.8 442.6L83.3 443.9L82.8 445.2L81.4 446.5L80 447.8L78.5 449.1L80 450.4L80.4 451.6L80 452.3L77.1 452.9L75.7 451.6L74.3 450.4L71.5 450.4L70 451.6L71.5 452.9L72.9 454.2L74.3 455.5L77.1 455.5L80 456.2L82.1 454.2L82.8 453.8L85.6 453.6L86.1 454.2L85.6 454.9L83.5 456.8L82.8 458.1L80 458.1L78.5 459.4L80 460.7L81.4 461.9L80 462.6L78.5 461.9L77.1 460.7L75.7 459.4L74.3 458.1L72.9 459.4L71.5 460.7L68.6 460L65.8 460L64.4 459.4L63 458.1L61.5 459.4L60.1 460L57.3 460L55.2 461.9L57.3 463.9L60.1 463.9L62.2 461.9L63 460.7L63.7 461.9L65.8 463.9L68.6 463.9L70 464.5L71.5 465.8L72.9 464.5L74.3 464.1L77.1 463.2L77.8 464.5L77.1 465.8L74.3 465.8L72.9 467.1L72.9 469.7L74.3 470.9L77.1 470.9L78.5 469.7L78.5 467.1L80 466.4L82.1 464.5L82.8 463.2L84.2 461.9L85.6 461.3L87.8 459.4L87.8 456.8L88.5 456.4L89.2 456.8L91.3 458.7L93.4 456.8L94.1 455.5L94.8 456.8L94.8 459.4L94.1 460.7L91.3 460L89.2 461.9L89.9 464.5L88.5 465.8L87 467.1L88.5 468.4L91.3 469.2L92.7 469.7L91.3 470.3L88.5 470.3L86.3 472.2L85.6 472.7L84.2 472.2L84.2 469.7L82.8 468.4L81.4 469.7L80 470.9L78.5 472.2L77.1 473.5L75.7 474.8L75.7 477.4L77.1 478.7L78.5 477.4L80 476.1L81.4 477.4L81.4 479.9L82.8 481.2L84.2 479.9L84.2 477.4L85.6 476.9L88 474.8L88.5 474.2L91.3 474.2L92.7 474.8L91.8 477.4L91.3 478.7L89.9 479.9L91.3 481.2L91.8 482.5L92.7 485.1L91.8 487.7L91.3 489L89.9 490.2L91.3 491.5L94.1 492.2L95.6 492.8L97 494.1L98.4 492.8L97 491.5L96.3 490.2L97 489.6L99.1 487.7L99.8 487L100.5 487.7L100.5 490.2L100.5 492.8L99.8 494.1L98.4 495.4L97 496L95.6 495.4L94.1 494.1L92.7 495.4L91.3 496L89.9 495.4L88.5 494.1L87 495.4L88.5 496.7L89.2 498L88.5 499.2L87 500.5L88.5 501.8L89.9 500.5L91.3 499.9L92.7 500.5L91.3 501.8L89.9 503.1M34.6 404.7L36 405.3L34.6 406.6M34.6 396.3L34.8 397.6L34.6 398.3M41.7 377L43.1 378.3L44.5 377M58.7 377L60.1 378.3L61.5 377M37.4 501.8L38.9 500.5L37.4 499.2L36 500.5ZM116.8 501.2L116.1 500.5L116.8 499.9L117.3 500.5ZM45.9 499.2L47.4 498L48.8 497.3L50.9 495.4L48.8 493.5L46.6 495.4L45.9 496.7L45.5 495.4L43.1 493.2L40.3 493.5L38.9 492.8L37.4 491.5L36 492.8L37.4 494.1L38.1 495.4L40.3 497.3L43.1 497.5L44.5 498ZM77.1 499.2L78.5 498L77.1 496.7L76.4 495.4L77.1 494.7L78.5 495.4L80 496.7L81.4 495.4L82.8 495L85.6 494.1L87 492.8L87 490.2L85.6 489L84.2 490.2L82.8 490.7L80.4 492.8L80 494.1L79.3 492.8L78.5 490.2L78.5 487.7L77.1 486.4L75.7 487.7L74.3 489L72.9 490.2L74.3 491.5L75 492.8L74.3 493.5L72.9 492.8L71.5 491.5L70 492.8L71.5 494.1L72.2 495.4L74.3 497.3L75.7 498ZM94.1 499.2L93.4 498L94.1 496.7L94.8 498ZM119.7 498.4L118.9 498L119.7 497.3L120.4 498ZM131 498.2L130.3 498L131 497.7L131.3 498ZM153.7 498.4L153.3 498L152.3 495.4L153.7 495.1L156.5 494.7L157.2 495.4L156.5 496L154.4 498ZM170.7 499.2L172.1 498L170.7 496.7L169.3 498ZM65.8 496.7L68.6 496.7L70 495.4L68.6 494.1L65.8 494.1L64.4 495.4ZM111.1 496.7L110.4 495.4L111.1 495.1L113.6 492.8L114 491.5L114.3 492.8L115.4 495.4L114 495.8ZM54.4 494.1L55.9 492.8L54.4 491.5L53 492.8ZM105.5 493.5L104.8 492.8L104.8 490.2L105.5 489.9L106.9 490.2L105.9 492.8ZM159.3 493.5L158.6 492.8L159.3 492.4L160.8 492.8ZM43.1 491.5L44.5 490.2L43.1 489L41.7 490.2ZM57.3 491.5L58.7 490.2L58.7 487.7L57.3 486.4L54.4 486.4L53 487.7L54.4 489L55.9 490.2ZM45.9 489L47.4 487.7L45.9 486.4L44.5 487.7ZM63 489L65.8 489L68.6 489.6L70.7 487.7L71.5 487L73.6 485.1L71.5 483.2L69.3 485.1L68.6 485.7L65.8 486.4L63 486.4L61.5 487.7ZM88.5 489L89.9 487.7L89.9 485.1L88.5 483.8L87 485.1L87 487.7ZM119.7 488L119.2 487.7L119.7 487.4L121.1 487.7ZM153.7 488.1L153.2 487.7L150.8 485.5L150.6 485.1L149.4 482.5L150.8 481.9L151.5 482.5L153.7 484.4L154.4 485.1L154.4 487.7ZM170.7 489.6L172.8 487.7L173.5 486.4L174.9 485.1L176.3 483.8L177.8 482.5L176.3 481.2L173.5 481.2L170.7 481.2L167.8 481.2L166.4 482.5L167.8 483.8L170.7 483.8L172.1 485.1L170.7 485.7L168.6 487.7ZM48.8 486.4L50.2 485.1L48.8 483.8L47.4 485.1ZM80 486.4L82.8 487L84.9 485.1L85.6 483.8L87 482.5L85.6 481.2L84.2 482.5L82.8 483.2L81.4 482.5L80 481.2L77.1 480.3L74.6 482.5L77.1 484.8L78.5 485.1ZM162.2 487L164.3 485.1L163.6 482.5L162.2 481.2L160.8 482.5L160 485.1ZM40.3 483.8L41.7 482.5L40.3 481.2L38.9 482.5ZM45.9 483.8L47.4 482.5L45.9 481.2L44.5 482.5ZM54.4 484.4L57.3 483.8L58.7 482.5L57.3 481.2L55.9 479.9L54.4 478.7L53 479.9L52.3 482.5ZM63 484.4L65.1 482.5L63 480.6L60.8 482.5ZM97 483.8L96.5 482.5L94.1 480.4L92.7 479.9L94.1 479.5L97 479.5L97.7 479.9L98.4 482.5ZM116.8 483.8L116.3 482.5L116.8 481.9L117.3 482.5ZM65.8 479.3L68.6 478.7L71.5 478.7L72.9 477.4L72.9 474.8L71.5 473.5L70 472.2L68.6 470.9L67.2 472.2L67.2 474.8L65.8 475.4L63.7 477.4ZM108.3 478.7L107.8 477.4L108.3 476.7L108.7 477.4ZM136.7 477.7L136.2 477.4L136.7 477.1L137.4 477.4ZM167.8 479.3L170 477.4L167.8 475.4L165.7 477.4ZM176.3 478.7L177.8 477.4L177.8 474.8L176.3 473.5L174.9 474.8L174.9 477.4ZM114 475.2L112.6 474.8L114 474.5L115.4 474.8ZM45.9 473.5L47.4 472.2L45.9 470.9L44.5 472.2ZM63 473.5L64.4 472.2L63 470.9L61.5 472.2ZM125.3 472.9L124.6 472.2L125.3 471.8L125.6 472.2ZM48.8 470.9L50.2 469.7L48.8 468.4L47.4 469.7ZM54.4 470.9L55.9 469.7L55.9 467.1L54.4 465.8L53 467.1L53 469.7ZM105.5 470.3L104.1 469.7L105.5 468.4L106.2 469.7ZM167.8 470.9L169.3 469.7L167.8 468.4L166.4 469.7ZM43.1 468.4L45.9 468.4L47.4 467.1L45.9 465.8L43.1 465.8L41.7 467.1ZM60.1 468.4L63 468.4L64.4 467.1L63 465.8L60.1 465.8L58.7 467.1ZM162.2 468.4L163.6 467.1L162.2 465.8L160.8 467.1ZM125.3 464.9L124.8 464.5L125.3 464.3L126 464.5ZM51.6 463.2L53 461.9L51.6 460.7L50.2 461.9ZM139.5 463.2L142.3 463.2L143.7 461.9L143.7 459.4L142.3 458.1L140.9 456.8L139.5 455.5L136.7 455.5L135.2 456.8L134.5 459.4L136.7 461.3L138.1 461.9ZM150.8 463.2L153.7 463.2L155.1 461.9L153.7 460.7L150.8 460.7L149.4 461.9ZM102.6 460.7L101.2 459.4L102.6 458.1L103 459.4ZM71.5 458.1L72.9 456.8L71.5 455.5L70 456.8ZM162.2 458.1L163.6 456.8L162.2 455.5L160.8 456.8ZM173.5 458.1L176.3 458.1L177.8 456.8L176.3 455.5L173.5 455.5L172.1 456.8ZM51.6 455.5L53 454.2L51.6 452.9L50.2 454.2ZM142.3 455.5L143.7 454.2L142.3 452.9L140.9 454.2ZM153.7 456.2L155.8 454.2L153.7 452.3L151.5 454.2ZM159.3 455.5L160.8 454.2L159.3 452.9L157.9 454.2ZM170.7 455.5L172.1 454.2L170.7 452.9L169.3 454.2ZM37.4 452.9L38.9 451.6L37.4 450.4L36 451.6ZM54.4 452.9L55.9 451.6L55.9 449.1L54.4 447.8L53 449.1L53 451.6ZM60.1 452.9L63 452.9L64.4 451.6L63 450.4L60.1 450.4L58.7 451.6ZM111.1 452.1L110.4 451.6L111.1 450.4L112.6 451.6L111.1 452.1M125.3 452.9L126.7 451.6L125.3 450.4L123.9 451.6ZM131 452.9L132.4 451.6L131 450.4L129.6 451.6ZM136.7 452.9L138.1 451.6L136.7 450.4L135.2 451.6ZM165 452.9L166.4 451.6L165 450.4L163.6 451.6ZM45.9 450.4L47.4 449.1L45.9 447.8L44.5 449.1ZM85.6 449.7L84.2 449.1L84.2 446.5L85.6 446.1L88 443.9L87 441.4L88.5 440.1L89.2 441.4L89.9 443.9L89.2 446.5L88.5 447.8L87 449.1ZM128.2 447.8L129.6 446.5L128.2 445.2L126.7 446.5ZM133.8 447.8L135.2 446.5L133.8 445.2L132.4 446.5ZM40.3 445.9L42.4 443.9L40.3 442L38.1 443.9ZM54.4 445.2L55.9 443.9L54.4 442.6L53 443.9ZM94.1 445.2L92.7 443.9L94.1 443.3L97 443.5L98.4 443.9L97 444.4ZM119.7 445.2L121.1 443.9L119.7 442.6L118.2 443.9ZM162.2 445.2L163.6 443.9L162.2 442.6L160.8 443.9ZM45.9 442.6L47.4 441.4L48.4 438.8L47.4 436.2L45.9 434.9L44.5 436.2L43.5 438.8L44.5 441.4ZM71.5 442.6L70 441.4L71.5 440.1L74.3 440.1L77.1 440.7L77.8 441.4L77.1 441.8L74.3 442.6ZM60.1 440.1L61.5 438.8L60.1 437.5L58.7 438.8ZM102.6 440.1L104.1 438.8L102.6 437.5L101.2 438.8ZM122.5 440.1L123.9 438.8L123.9 436.2L122.5 434.9L121.1 436.2L121.1 438.8ZM37.4 437.5L40.3 437.5L41.7 436.2L40.3 434.9L37.4 434.9L36 436.2ZM105.5 437.5L106.9 436.2L107.6 433.6L108.3 432.4L109.7 431.1L108.3 429.8L106.9 431.1L105.5 431.7L103.3 433.6L104.1 436.2ZM131 437.5L133.8 437.5L135.2 436.2L133.8 434.9L131 434.9L129.6 436.2ZM176.3 437.5L177.8 436.2L176.3 434.9L174.9 436.2ZM60.1 434.9L61.5 433.6L60.1 432.4L58.7 433.6ZM153.7 434.9L155.1 433.6L153.7 432.4L152.3 433.6ZM167.8 434.9L169.3 433.6L167.8 432.4L166.4 433.6ZM54.4 432.4L55.9 431.1L54.4 429.8L53 431.1ZM114 432.4L115.4 431.1L114 429.8L112.6 431.1ZM128.2 433L130.3 431.1L128.2 429.1L126 431.1ZM148 432.4L149.4 431.1L148 429.8L146.6 431.1ZM159.3 432.4L160.8 431.1L159.3 429.8L157.9 431.1ZM37.4 430.4L39.6 428.5L40.3 427.2L41.7 425.9L40.3 424.6L38.9 423.4L37.4 422.1L36 423.4L36 425.9L35.3 428.5ZM45.9 430.6L48.3 428.5L45.9 426.4L43.6 428.5ZM63 429.8L64.4 428.5L63 427.2L61.5 428.5ZM102.6 429.8L105.5 429.8L106.9 428.5L105.5 427.2L104.8 425.9L105.5 424.6L106.9 423.4L105.5 422.1L104.1 423.4L102.6 424L100.5 425.9L101.2 428.5ZM51.6 427.2L53 425.9L53.7 423.4L54.4 422.1L55.9 420.8L54.4 419.5L53 418.2L51.6 416.9L50.2 418.2L49.5 420.8L49.5 423.4L50.2 425.9ZM77.1 426.6L76.4 425.9L75.7 423.4L77.1 423L77.6 423.4L78.5 425.9ZM111.1 427.2L112.6 425.9L111.1 424.6L109.7 425.9ZM125.3 427.2L126.7 425.9L125.3 424.6L123.9 425.9ZM88.5 424L88 423.4L88.5 422.7L89.9 423.4ZM116.8 424.6L118.2 423.4L116.8 422.1L115.4 423.4ZM45.9 422.9L48.3 420.8L45.9 418.6L43.6 420.8ZM68.6 421.1L67.9 420.8L65.8 418.9L64.4 418.2L65.8 417.6L67.9 415.6L68.6 414.3L69.3 415.6L69.3 418.2L71.5 420.1L72.2 420.8L71.5 422.1ZM85.6 421.2L84.2 420.8L85.6 420.4L86.3 420.8L85.6 421.2M99.8 422.1L101.2 420.8L99.8 419.5L98.4 420.8ZM173.5 422.1L174.9 420.8L173.5 419.5L172.1 420.8ZM102.6 419.5L104.1 418.2L102.6 416.9L101.2 418.2ZM125.3 419.5L126.7 418.2L125.3 416.9L123.9 418.2ZM156.5 419.5L157.9 418.2L156.5 416.9L155.1 418.2ZM63 416.9L61.5 415.6L61.5 413.1L60.1 411.8L58.7 410.5L60.1 409.8L61.5 410.5L63 411.8L64.4 413.1L63.7 415.6ZM136.7 416.9L139.5 416.9L140.9 415.6L139.5 414.3L136.7 414.3L135.2 415.6ZM170.7 417.6L172.8 415.6L170.7 413.7L169.3 413.1L167.8 411.8L166.4 413.1L167.8 414.3L168.6 415.6ZM77.1 414.3L76.4 413.1L77.1 412.4L77.8 413.1ZM102.6 414.3L104.1 413.1L102.6 411.8L101.2 413.1ZM128.2 414.3L129.6 413.1L128.2 411.8L126.7 413.1ZM133.8 414.3L135.2 413.1L133.8 411.8L132.4 413.1ZM74.3 411.1L73.6 410.5L74.3 409.2L75 410.5ZM80 411.1L79.3 410.5L80 410.1L81.4 410.5ZM97 411.8L98.4 410.5L97 409.2L95.6 410.5ZM45.9 408.6L45.2 407.9L45.9 406.6L48.8 406.6L50.2 405.3L51.6 404.1L53 405.3L51.6 406.6L50.2 407.9L48.8 409.2ZM57.3 409.2L56.6 407.9L57.3 407.3L58 407.9ZM63 409.2L62.2 407.9L63 406.6L63.4 407.9ZM88.5 409.2L89.9 407.9L88.5 406.6L87 407.9ZM94.1 409.2L95.6 407.9L94.1 406.6L92.7 407.9ZM102.6 409.2L104.1 407.9L102.6 406.6L101.2 407.9ZM114 409.2L115.4 407.9L114 406.6L112.6 407.9ZM142.3 409.2L143.7 407.9L142.3 406.6L140.9 407.9ZM170.7 409.2L172.1 407.9L170.7 406.6L169.3 407.9ZM43.1 406L42.6 405.3L43.1 404.1L44.5 402.8L45.9 401.5L47.4 402.8L45.9 404.1L44.5 405.3ZM60.1 406L59.4 405.3L60.1 404.7L61.5 405.3ZM65.8 405.8L64.4 405.3L65.8 404.7L67.9 402.8L68.6 402.1L70 402.8L70 405.3L68.6 406.6ZM77.1 406.6L75.7 405.3L77.1 404.7L80 404.1L81.4 405.3L80 405.8ZM57.3 403.4L55.9 402.8L57.3 402.3L58 402.8ZM51.6 401.5L51.1 400.2L51.6 399.6L52.3 400.2ZM102.6 401.5L104.1 400.2L102.6 398.9L101.2 400.2ZM37.4 395.3L36 395.1L36.7 392.5L37.4 391.2L37.7 392.5L37.7 395.1ZM57.3 396.3L58.7 395.1L60.1 393.8L61.5 392.5L60.1 391.2L57.3 391.2L55.9 392.5L55.9 395.1ZM65.8 396.3L68.6 396.3L70 395.1L70.7 392.5L68.6 390.6L66.5 392.5L65.8 393.8L64.4 395.1ZM105.5 396.3L106.9 395.1L105.5 393.8L104.1 395.1ZM156.5 396.3L157.9 395.1L156.5 393.8L155.1 395.1ZM165 396.3L166.4 395.1L165 393.8L163.6 395.1ZM88.5 393.8L89.9 392.5L88.5 391.2L87 392.5ZM170.7 393.8L172.1 392.5L170.7 391.2L169.3 392.5ZM74.3 391.2L75.7 389.9L74.3 388.6L72.9 389.9ZM136.7 391.2L138.1 389.9L136.7 388.6L135.2 389.9ZM60.1 389.3L63 389.3L65.1 387.3L65.8 386.1L67.2 384.8L65.8 383.5L64.4 384.8L63 385.4L60.1 385.4L58 387.3ZM77.1 388.6L78.5 387.3L78.5 384.8L77.1 383.5L75.7 384.8L75.7 387.3ZM85.6 388.6L87 387.3L85.6 386.1L84.2 387.3ZM43.1 386.1L44.5 384.8L43.1 383.5L41.7 384.8ZM71.5 386.1L72.9 384.8L71.5 383.5L70 384.8ZM88.5 386.1L89.9 384.8L88.5 383.5L87 384.8ZM131 386.1L132.4 384.8L131 383.5L129.6 384.8ZM45.9 383.5L47.4 382.2L48.8 380.9L51.6 380.9L52.3 382.2L54.4 384.1L56.6 382.2L54.4 380.3L53 379.6L51.6 378.3L48.8 378.3L45.9 378.3L44.5 379.6L44.5 382.2ZM159.3 383.5L160.8 382.2L159.3 380.9L157.9 382.2ZM68.6 380.9L70 379.6L68.6 378.3L67.2 379.6ZM137.6 503.1L138.6 500.5L139.5 499.7L142.3 500.5L145.2 500.5L148 500.5L150.8 499.7L152.3 498L150.8 496.2L150.1 495.4L150.8 494.7L153.7 494.1L156.5 492.8L155.1 490.2L153.7 489.4L151.8 487.7L150.8 486.8L150 485.1L148 482.9L147.1 482.5L145.2 480.8L142.3 479.9L142.3 479.9L142.3 479.9L143.7 477.4L143.3 474.8L142.3 473.9L140.9 474.8L139.5 477.4L139.5 477.4L136.7 478.7L134.8 477.4L136.7 476.3L138.8 474.8L139.5 472.2L138.9 469.7L136.7 467.9L134.4 469.7L133.8 472.2L133.8 472.2L133.8 472.2L132.4 469.7L131 468.8L128.2 467.1L128.2 467.1L125.3 466.2L123.4 464.5L125.3 463.7L127.2 461.9L125.3 459.9L122.5 461.9L122.5 461.9L121.1 464.5L120.6 467.1L122.5 469.7L122.5 469.7L125.3 470.5L126.3 472.2L125.3 474.8L125.3 474.8L122.5 477.4L122.5 477.4L119.7 477.4L116.8 479.9L118.7 482.5L117.5 485.1L116.8 486.4L114 485.1L114 485.1L114 485.1L114.9 482.5L116.8 479.9L116.8 477.4L114 476.5L111.1 475.7L109.7 477.4L109 479.9L108.3 480.6L106.9 479.9L106.4 477.4L105.5 474.8L102.6 476.1L99.8 477.4L102.6 478.7L104.1 479.9L102.6 482.5L105.5 485.1L108.3 484.4L109 485.1L108.3 485.9L105.5 485.1L102.6 487.7L105.5 489L108.3 489.4L111.1 489.4L114 489.6L115.4 490.2L115.4 492.8L116.8 494.5L119.7 495.4L122.5 494.7L123.2 495.4L122.5 498L125.3 499.2L126.3 500.5L128.2 502.2L131 502.5L133.8 500.5L133.8 500.5L133.8 500.5L133.8 503.1M145.2 503.1L142.3 500.5L141.4 503.1M119.7 501.4L122.5 500.5L119.7 499.7L118.7 500.5ZM153.7 501.8L156.5 500.5L153.7 499.7L152.3 500.5ZM114 500.5L116.8 498L114 497.1L112.6 498ZM128.2 498L128.2 498L128.2 498L131 497.1L132.1 498L131 499ZM43.1 496.2L44.1 495.4L43.1 494.5L40.3 495.4ZM165 498L166 495.4L165 492.8L162.2 495.4ZM82.8 493.7L84.2 492.8L82.8 492L81.9 492.8ZM108.3 495.4L111.1 494.1L112.6 492.8L111.1 491.1L108.3 491.5L107.4 492.8ZM145.2 492.8L145.2 492.8L145.2 492.8L145.2 492.8ZM159.3 491.1L162.2 490.2L159.3 489.4L157.9 490.2ZM94.1 490.2L97 487.7L94.1 486.4L93.2 487.7ZM119.7 489L117.8 487.7L119.7 486.6L122.5 487L123.1 487.7L122.5 488.5ZM139.5 487.7L139.5 487.7L139.5 487.7L139.5 487.7ZM145.2 485.1L145.2 485.1L145.2 485.1L145.2 485.1ZM77.1 483.8L79 482.5L77.1 481.2L75.7 482.5ZM94.1 483.8L95.1 482.5L94.1 481.7L93.2 482.5ZM111.1 483.2L110.4 482.5L111.1 481.9L112.6 482.5ZM122.5 482.5L122.5 482.5L122.5 482.5L122.5 482.5ZM139.5 482.5L139.5 482.5L139.5 482.5L139.5 482.5ZM94.1 478.2L97 478.2L99.8 477.4L97 476.1L94.1 476.1L93.2 477.4ZM85.6 475.7L86.6 474.8L85.6 473.9L84.2 474.8ZM119.7 477.4L121.5 474.8L122.5 472.2L119.7 470.9L118.2 469.7L116.8 467.1L114 469.7L114 469.7L112.1 472.2L114 473.5L116.8 474.4L117.8 474.8ZM97 473.9L99.8 474.3L102.6 472.2L99.8 469.7L97 470.5L95.1 472.2ZM153.7 470.9L155.1 469.7L153.7 467.9L152.3 469.7ZM91.3 467.9L94.1 467.1L91.3 465.8L89.9 467.1ZM102.6 468.4L104.1 467.1L102.6 465.8L101.2 467.1ZM142.3 468.4L143.3 467.1L142.3 466.2L141.4 467.1ZM108.3 465.8L109.3 464.5L108.3 463.2L106.9 464.5ZM74.3 462.8L75.7 461.9L74.3 460.7L72.9 461.9ZM99.8 463.2L101.2 461.9L99.8 460.7L98.4 461.9ZM105.5 461.9L106.9 459.4L105.5 458.1L104.1 459.4ZM99.8 458.1L101.2 456.8L99.8 454.2L97 456.8ZM111.1 458.1L114 457.7L116.8 457.7L117.8 456.8L116.8 455.5L114 455.5L112.6 454.2L111.1 453.4L108.3 451.6L106.9 454.2L108.3 455.5L110.2 456.8ZM88.5 455.1L89.9 454.2L88.5 452.9L87.5 454.2ZM82.8 452.5L85.6 451.6L82.8 450.4L81.9 451.6ZM91.3 450.4L92.2 449.1L91.3 446.5L89.9 449.1ZM74.3 447.4L75.2 446.5L74.3 445.2L73.3 446.5ZM97 447.4L97.9 446.5L97 445.6L95.6 446.5ZM77.1 444.8L78.5 443.9L77.1 443.1L75.7 443.9ZM85.6 444.8L86.6 443.9L85.6 442.6L84.7 443.9ZM97 442.2L97.9 441.4L97 440.5L94.1 441.4ZM45.9 440.5L47.4 438.8L45.9 437.1L44.5 438.8ZM65.8 436.2L68.6 433.6L65.8 432.4L64.8 433.6ZM82.8 434.9L85.6 433.6L82.8 432.4L81.4 433.6ZM45.9 429.4L46.9 428.5L45.9 427.6L45 428.5ZM68.6 428.5L70 425.9L70.5 423.4L68.6 422.1L67.2 423.4L67.2 425.9ZM80 424.6L80.9 423.4L80 422.1L79 423.4ZM85.6 424.2L86.6 423.4L85.6 422.5L84.7 423.4ZM45.9 421.6L46.9 420.8L45.9 419.9L45 420.8ZM63 422.1L65.8 420.8L63 419.5L61.5 420.8ZM77.1 422.1L79 420.8L77.1 419.5L74.3 420.8ZM85.6 419.1L88.5 420.8L89.9 418.2L88.5 416.9L85.6 417.3L84.7 418.2ZM43.1 413.9L45.9 413.9L47.4 413.1L45.9 410.5L43.1 410.5L42.2 413.1ZM37.4 409.2L38.9 407.9L37.4 406.6L36 407.9ZM65.8 409.2L67.2 407.9L65.8 407.1L64.8 407.9ZM80 408.8L81.4 407.9L80 407.1L78.5 407.9ZM40.3 406.6L41.2 405.3L40.3 402.8L38.9 405.3ZM37.4 402.1L40.3 400.2L39.7 397.6L40.3 397L43.1 395.1L43.1 395.1L45.9 392.5L43.1 390.8L40.3 390.6L38.6 392.5L38.6 395.1L37.4 395.9L35.5 397.6L34.6 400.2ZM48.8 401.5L49.7 400.2L48.8 398.9L47.4 400.2ZM57.3 401.1L58.7 400.2L57.3 399.3L54.4 400.2ZM77.1 398.5L78.1 397.6L77.1 396.8L74.3 397.6ZM48.8 396.3L50.2 395.1L48.8 392.5L45.9 395.1ZM128.2 501L131 501.5L132.4 500.5L131 499.8L128.2 499.9L127.7 500.5ZM136.7 501.8L137.1 500.5L139.5 498.4L140.9 498L139.5 496.7L139.3 495.4L139.5 495.3L142.3 495L143 495.4L143 498L145.2 499.2L148 498.6L150.8 498.4L151.2 498L150.8 497.5L149.1 495.4L148 493.5L145.2 494.1L144.1 492.8L145.2 491.5L148 492.2L148.7 492.8L150.8 493.8L153.7 493.1L154.4 492.8L153.7 491.5L150.8 490.9L150.1 490.2L148 488.3L147.3 487.7L148 487.3L149.4 485.1L148 483.6L146 485.1L145.2 486.4L144.5 485.1L145.2 483.2L145.6 482.5L145.2 482.1L142.3 481.9L141.6 482.5L139.5 483.3L138.1 482.5L139.5 480.6L140.2 479.9L139.5 479.3L136.7 479.6L135.2 479.9L133.8 480.3L131 481.2L128.2 480.3L127.4 479.9L128.2 478.7L131 479.6L133.5 477.4L133.8 476.7L136.7 475.6L137.7 474.8L137.4 472.2L138.1 469.7L136.7 468.6L135.2 469.7L136 472.2L133.8 473.5L131.7 474.8L131 475.1L130.5 474.8L131 473.5L131.7 472.2L131 470.9L130.3 469.7L128.2 468.4L126 469.7L127 472.2L126.4 474.8L125.3 475.8L123.5 477.4L123.2 479.9L124.6 482.5L122.5 483.8L119.7 483.2L118.6 485.1L119.7 485.9L122.5 486.1L123.9 487.7L122.5 489.8L119.7 489.9L118.2 490.2L116.8 491.5L116.5 492.8L116.8 493.2L119.7 494.7L122.5 493.8L124.3 495.4L125.3 497.3L128.2 497L131 496.5L133 498L133.8 499.2L136 500.5ZM111.1 493.1L111.5 492.8L111.1 492.4L109.7 492.8ZM105.5 488L108.3 488.1L111.1 488.1L114 488.6L116.1 487.7L114 486.4L112.6 485.1L111.1 484.1L110.1 485.1L108.3 487.2L105.5 487L104.8 487.7ZM128.2 488.3L127.7 487.7L128.2 487.5L128.4 487.7ZM136.7 487.8L136 487.7L136.7 487.5L139.5 486.9L140.6 487.7L139.5 488.3ZM77.1 482.8L77.6 482.5L77.1 482.2L76.8 482.5ZM105.5 483.2L108.3 483.5L109.4 482.5L108.3 481.6L105.5 481.2L104.8 482.5ZM111.1 480.9L113.3 479.9L112.6 477.4L111.1 476.9L110.8 477.4L110.1 479.9ZM119.7 482.2L122.1 479.9L119.7 478.1L117.7 479.9ZM142.3 478L142.7 477.4L142.3 476.1L141.6 477.4ZM119.7 475.4L120.1 474.8L119.7 473.5L119.4 472.2L116.8 469.9L114 471.6L113.5 472.2L114 472.6L116.8 473.9L119.2 474.8ZM97 472.7L99.8 473.5L101.6 472.2L99.8 470.6L97 471.8L96.5 472.2ZM153.7 470L154 469.7L153.7 469.2L153.3 469.7ZM122.5 467.7L123.9 467.1L122.5 465.8L122 467.1ZM125.3 463L126.5 461.9L125.3 460.7L123.5 461.9ZM105.5 460L105.8 459.4L105.5 459L105.1 459.4ZM108.3 454.5L109.7 454.2L108.3 453.6L108 454.2ZM45.9 439.2L46.3 438.8L45.9 438.4L45.6 438.8ZM68.6 424.6L69.1 423.4L68.6 423L68.3 423.4ZM77.1 421.1L77.6 420.8L77.1 420.5L76.4 420.8ZM37.4 401.2L38.9 400.2L38.9 397.6L37.4 396.6L36.3 397.6L36 400.2ZM40.3 396L41.7 395.1L43.1 393.1L43.8 392.5L43.1 392.1L40.3 391.5L39.4 392.5L39.4 395.1ZM128.2 496L131 495.8L133.8 498L136.7 498L138.7 495.4L139.5 494.9L142.3 493.7L143 492.8L145.2 490.2L145.2 487.7L143.7 485.1L142.3 483.2L139.5 484.1L136.7 482.5L136.7 482.5L133.8 481.2L131.9 482.5L133.8 484.2L134.1 485.1L136.7 487.2L139.5 486.1L141.6 487.7L139.5 489L136.7 488.1L133.8 487.7L133.8 487.7L131 485.5L130.4 485.1L130 482.5L128.2 481.2L126.3 482.5L125.3 483.4L122.5 485.1L124.8 487.7L125.3 490.2L126.3 487.7L128.2 486.8L129 487.7L131 490.2L131 490.2L131 492.8L131 492.8L131 492.8L128.2 490.2L125.3 492.8L125.3 495.4ZM119.7 494.1L122.5 492.8L119.7 490.9L117.5 492.8ZM136.7 492.8L136.7 492.8L136.7 492.8L136.7 492.8ZM148 486.4L148.8 485.1L148 484.2L146.9 485.1ZM119.7 481.2L121.1 479.9L119.7 478.9L118.5 479.9ZM125.3 479.9L126.7 477.4L125.3 476.7L124.6 477.4ZM131 478.7L132.4 477.4L131 476.1L129.1 477.4ZM128.2 476.1L129.1 474.8L129.6 472.2L128.2 469.7L127.7 472.2L127.4 474.8ZM99.8 472.7L100.5 472.2L99.8 471.6L98.4 472.2ZM116.8 473.3L118.5 472.2L116.8 470.7L114.7 472.2ZM136.7 470.9L137.2 469.7L136.7 469.2L136.1 469.7ZM125.3 462.4L125.8 461.9L125.3 461.4L124.6 461.9ZM37.4 400.2L38 397.6L37.4 397.2L37 397.6ZM133.8 497L136.7 497.2L138.1 495.4L139.5 494.5L142.1 492.8L142.3 491.5L143 490.2L142.3 489L139.5 489.6L136.7 488.4L133.8 488L133 487.7L131 486.2L129.6 487.7L131 489.5L131.3 490.2L133.8 492.7L136.7 492.5L137.2 492.8L136.7 493.6L133.8 493.2L131.5 495.4ZM119.7 493.5L121.1 492.8L119.7 491.8L118.6 492.8ZM128.2 494.1L128.9 492.8L128.2 492.2L127.4 492.8ZM125.3 486.4L128.2 486.2L129.6 485.1L128.6 482.5L128.2 482.2L127.7 482.5L125.3 484.7L124.6 485.1ZM136.7 486.8L139.5 485.3L142.3 487L143 485.1L142.3 484.1L139.5 484.8L136.7 483L134.5 482.5L133.8 482.2L133.4 482.5L133.8 482.9L134.6 485.1ZM148 485.4L148.2 485.1L148 484.9L147.7 485.1ZM119.7 480.3L120 479.9L119.7 479.7L119.4 479.9ZM131 477.7L131.3 477.4L131 477.1L130.5 477.4ZM116.8 472.8L117.7 472.2L116.8 471.5L115.8 472.2ZM133.8 496L136.7 496.4L137.5 495.4L136.7 494.4L133.8 494.5L132.9 495.4ZM139.5 494.1L141.5 492.8L139.5 490.2L139.5 490.2L136.7 488.7L133.8 488.3L132.1 487.7L131 486.8L130.2 487.7L131 488.7L131.7 490.2L133.8 492.3L136.7 492.1L137.7 492.8ZM128.2 485.5L128.7 485.1L128.2 483.8L126.7 485.1ZM136.7 486.4L139 485.1L136.7 483.5L135.1 485.1Z" fill="none" stroke="#1c1c1c" stroke-width="0.6" stroke-linejoin="round"/>
<path d="M34.6 388.79 L36.65 390.06 L38.71 391.41 L40.76 392.83 L42.81 394.31 L44.87 395.86 L46.92 397.48 L48.97 399.16 L51.02 400.89 L53.08 402.68 L55.13 404.53 L57.18 406.42 L59.24 408.37 L61.29 410.36 L63.34 412.39 L65.4 414.46 L67.45 416.57 L69.5 418.72 L71.56 420.9 L73.61 423.1 L75.66 425.34 L77.71 427.6 L79.77 429.88 L81.82 432.19 L83.87 434.51 L85.93 436.84 L87.98 439.19 L90.03 441.54 L92.09 443.9 L94.14 446.27 L96.19 448.64 L98.24 451.01 L100.3 453.37 L102.35 455.73 L104.4 458.08 L106.46 460.41 L108.51 462.74 L110.56 465.04 L112.62 467.33 L114.67 469.6 L116.72 471.84 L118.78 474.05 L120.83 476.24 L122.88 478.39 L124.93 480.51 L126.99 482.59 L129.04 484.63 L131.09 486.63 L133.15 488.59 L135.2 490.49" fill="none" stroke="#000" stroke-width="1.9" stroke-linecap="round"/>
<path d="M49.1 399C51.08 399.23 57.27 399.8 61 400.4C64.73 401 68 401.7 71.5 402.6C75 403.5 78.33 404.53 82 405.8C85.67 407.07 90.17 408.47 93.5 410.2C96.83 411.93 99.58 414.07 102 416.2C104.42 418.33 106.28 420.58 108 423C109.72 425.42 111.17 428.13 112.3 430.7C113.43 433.27 114.02 435.12 114.8 438.4C115.58 441.68 116.28 446.67 117 450.4C117.72 454.13 118.5 457.32 119.1 460.8C119.7 464.28 120.27 468.6 120.6 471.3C120.93 474 121.02 476.05 121.1 477" fill="none" stroke="#1f5c9e" stroke-width="1.7" stroke-linecap="round"/>
<path d="M49.1 399C51.08 399.13 57.27 399.37 61 399.8C64.73 400.23 68 400.95 71.5 401.6C75 402.25 78.33 402.83 82 403.7C85.67 404.57 90.17 405.63 93.5 406.8C96.83 407.97 99.15 409.13 102 410.7C104.85 412.27 108.03 414.28 110.6 416.2C113.17 418.12 115.42 419.93 117.4 422.2C119.38 424.47 121 426.83 122.5 429.8C124 432.77 125.15 435.7 126.4 440C127.65 444.3 128.97 451.27 130 455.6C131.03 459.93 131.9 462.52 132.6 466C133.3 469.48 133.73 472.33 134.2 476.5C134.67 480.67 135.2 488.58 135.4 491" fill="none" stroke="#d6203a" stroke-width="1.7" stroke-linecap="round"/>
</g>
<text font-size="8.2" fill="#1a1a1a" text-anchor="end" textLength="82.7" lengthAdjust="spacingAndGlyphs" transform="translate(177.2 388.2)">hHsp90 w/AMP-PNP</text>
<clipPath id="ctE"><rect x="34.6" y="350.4" width="143.8" height="28.9"/></clipPath>
<g clip-path="url(#ctE)">
<path d="M34.41 380.3V367.26H36.93V373.83H39.66V373.28H42.4V375.47H45.14V372.73H48.42V376.34H51.16V375.47H53.9V373.28H56.64V373.83H59.37V372.73H62.11V373.28H64.85V372.73H67.59V373.28H70.32V374.15H73.61V371.31H76.34V374.15H79.08V370.54H82.37V371.31H85.1V372.4H87.84V371.31H90.03V366.49H93.32V368.02H96.05V364.3H99.34V365.83H102.08V360.36H104.27V356.31H107.41V361.78H110.47V358.83H113.21V362.11H116.5V353.02H119.23V351.38H121.42V360.36H126.9V359.04H130.18V361.78H133.47V362.33H136.21V361.23H138.4V362.88H141.13V366.49H147.15V373.28H149.89V369.77H152.63V372.18H155.37V368.35H158.65V377.66H161.39V374.15H166.32V375.25H168.51V376.02H175.08V375.25H178.14V380.3Z" fill="#959595" stroke="#1a1a1a" stroke-width="1.1"/>
</g>
<clipPath id="crE"><rect x="178.4" y="379.3" width="33.2" height="123.8"/></clipPath>
<g clip-path="url(#crE)">
<path d="M177.4 379.32H179.37V386.62H180.7V390.6H182.29V392.59H183.62V394.58H184.68V397.9H186.27V401.22H182.96V403.88H182.03V406.53H183.62V409.19H182.56V411.84H183.62V414.5H182.56V417.15H180.96V419.81H182.29V422.46H183.62V425.12H182.03V427.77H182.56V430.43H183.89V433.08H182.03V435.74H184.28V438.39H182.96V440H183.62V441.05H184.28V443.7H185.21V443.98H185.21V447.96H186.27V452.61H185.61V457.26H186.27V461.24H188.27V465.22H189.59V469.2H190.26V471.86H197.56V477.17H198.22V479.82H200.88V483.81H201.54V486.46H204.86V489.12H209.51V491.11H207.51V493.1H204.86V495.75H201.54V498.41H198.89V500.4H196.89V502.39H190.92V503.45H177.4Z" fill="#959595" stroke="#1a1a1a" stroke-width="1.1"/>
</g>
<line x1="34.6" y1="503.1" x2="34.6" y2="501.3" stroke="#1a1a1a" stroke-width="0.8"/>
<line x1="34.6" y1="379.3" x2="34.6" y2="381.1" stroke="#1a1a1a" stroke-width="0.8"/>
<line x1="34.6" y1="379.3" x2="34.6" y2="377.5" stroke="#1a1a1a" stroke-width="0.8"/>
<line x1="34.6" y1="350.4" x2="34.6" y2="352.2" stroke="#1a1a1a" stroke-width="0.8"/>
<text font-size="6.9" fill="#1a1a1a" text-anchor="middle" transform="translate(34.6 512.3) scale(1.1 1)">0</text>
<text font-size="6.9" fill="#1a1a1a" text-anchor="middle" transform="translate(34.6 347) scale(1.1 1)">0</text>
<line x1="62.95" y1="503.1" x2="62.95" y2="501.3" stroke="#1a1a1a" stroke-width="0.8"/>
<line x1="62.95" y1="379.3" x2="62.95" y2="381.1" stroke="#1a1a1a" stroke-width="0.8"/>
<line x1="62.95" y1="379.3" x2="62.95" y2="377.5" stroke="#1a1a1a" stroke-width="0.8"/>
<line x1="62.95" y1="350.4" x2="62.95" y2="352.2" stroke="#1a1a1a" stroke-width="0.8"/>
<text font-size="6.9" fill="#1a1a1a" text-anchor="middle" transform="translate(62.95 512.3) scale(1.1 1)">1</text>
<text font-size="6.9" fill="#1a1a1a" text-anchor="middle" transform="translate(62.95 347) scale(1.1 1)">1</text>
<line x1="91.3" y1="503.1" x2="91.3" y2="501.3" stroke="#1a1a1a" stroke-width="0.8"/>
<line x1="91.3" y1="379.3" x2="91.3" y2="381.1" stroke="#1a1a1a" stroke-width="0.8"/>
<line x1="91.3" y1="379.3" x2="91.3" y2="377.5" stroke="#1a1a1a" stroke-width="0.8"/>
<line x1="91.3" y1="350.4" x2="91.3" y2="352.2" stroke="#1a1a1a" stroke-width="0.8"/>
<text font-size="6.9" fill="#1a1a1a" text-anchor="middle" transform="translate(91.3 512.3) scale(1.1 1)">2</text>
<text font-size="6.9" fill="#1a1a1a" text-anchor="middle" transform="translate(91.3 347) scale(1.1 1)">2</text>
<line x1="119.65" y1="503.1" x2="119.65" y2="501.3" stroke="#1a1a1a" stroke-width="0.8"/>
<line x1="119.65" y1="379.3" x2="119.65" y2="381.1" stroke="#1a1a1a" stroke-width="0.8"/>
<line x1="119.65" y1="379.3" x2="119.65" y2="377.5" stroke="#1a1a1a" stroke-width="0.8"/>
<line x1="119.65" y1="350.4" x2="119.65" y2="352.2" stroke="#1a1a1a" stroke-width="0.8"/>
<text font-size="6.9" fill="#1a1a1a" text-anchor="middle" transform="translate(119.65 512.3) scale(1.1 1)">3</text>
<text font-size="6.9" fill="#1a1a1a" text-anchor="middle" transform="translate(119.65 347) scale(1.1 1)">3</text>
<line x1="148" y1="503.1" x2="148" y2="501.3" stroke="#1a1a1a" stroke-width="0.8"/>
<line x1="148" y1="379.3" x2="148" y2="381.1" stroke="#1a1a1a" stroke-width="0.8"/>
<line x1="148" y1="379.3" x2="148" y2="377.5" stroke="#1a1a1a" stroke-width="0.8"/>
<line x1="148" y1="350.4" x2="148" y2="352.2" stroke="#1a1a1a" stroke-width="0.8"/>
<text font-size="6.9" fill="#1a1a1a" text-anchor="middle" transform="translate(148 512.3) scale(1.1 1)">4</text>
<text font-size="6.9" fill="#1a1a1a" text-anchor="middle" transform="translate(148 347) scale(1.1 1)">4</text>
<line x1="176.35" y1="503.1" x2="176.35" y2="501.3" stroke="#1a1a1a" stroke-width="0.8"/>
<line x1="176.35" y1="379.3" x2="176.35" y2="381.1" stroke="#1a1a1a" stroke-width="0.8"/>
<line x1="176.35" y1="379.3" x2="176.35" y2="377.5" stroke="#1a1a1a" stroke-width="0.8"/>
<line x1="176.35" y1="350.4" x2="176.35" y2="352.2" stroke="#1a1a1a" stroke-width="0.8"/>
<text font-size="6.9" fill="#1a1a1a" text-anchor="middle" transform="translate(176.35 512.3) scale(1.1 1)">5</text>
<text font-size="6.9" fill="#1a1a1a" text-anchor="middle" transform="translate(176.35 347) scale(1.1 1)">5</text>
<line x1="34.6" y1="492.8" x2="36.4" y2="492.8" stroke="#1a1a1a" stroke-width="0.8"/>
<line x1="178.4" y1="492.8" x2="176.6" y2="492.8" stroke="#1a1a1a" stroke-width="0.8"/>
<line x1="178.4" y1="492.8" x2="180.2" y2="492.8" stroke="#1a1a1a" stroke-width="0.8"/>
<line x1="211.6" y1="492.8" x2="209.8" y2="492.8" stroke="#1a1a1a" stroke-width="0.8"/>
<text font-size="6.9" fill="#1a1a1a" text-anchor="end" transform="translate(32.4 495.2) scale(1.1 1)">0</text>
<text font-size="6.9" fill="#1a1a1a" transform="translate(214 495.2) scale(1.1 1)">0</text>
<line x1="34.6" y1="472.22" x2="36.4" y2="472.22" stroke="#1a1a1a" stroke-width="0.8"/>
<line x1="178.4" y1="472.22" x2="176.6" y2="472.22" stroke="#1a1a1a" stroke-width="0.8"/>
<line x1="178.4" y1="472.22" x2="180.2" y2="472.22" stroke="#1a1a1a" stroke-width="0.8"/>
<line x1="211.6" y1="472.22" x2="209.8" y2="472.22" stroke="#1a1a1a" stroke-width="0.8"/>
<text font-size="6.9" fill="#1a1a1a" text-anchor="end" transform="translate(32.4 474.62) scale(1.1 1)">0.2</text>
<text font-size="6.9" fill="#1a1a1a" transform="translate(214 474.62) scale(1.1 1)">0.2</text>
<line x1="34.6" y1="451.64" x2="36.4" y2="451.64" stroke="#1a1a1a" stroke-width="0.8"/>
<line x1="178.4" y1="451.64" x2="176.6" y2="451.64" stroke="#1a1a1a" stroke-width="0.8"/>
<line x1="178.4" y1="451.64" x2="180.2" y2="451.64" stroke="#1a1a1a" stroke-width="0.8"/>
<line x1="211.6" y1="451.64" x2="209.8" y2="451.64" stroke="#1a1a1a" stroke-width="0.8"/>
<text font-size="6.9" fill="#1a1a1a" text-anchor="end" transform="translate(32.4 454.04) scale(1.1 1)">0.4</text>
<text font-size="6.9" fill="#1a1a1a" transform="translate(214 454.04) scale(1.1 1)">0.4</text>
<line x1="34.6" y1="431.06" x2="36.4" y2="431.06" stroke="#1a1a1a" stroke-width="0.8"/>
<line x1="178.4" y1="431.06" x2="176.6" y2="431.06" stroke="#1a1a1a" stroke-width="0.8"/>
<line x1="178.4" y1="431.06" x2="180.2" y2="431.06" stroke="#1a1a1a" stroke-width="0.8"/>
<line x1="211.6" y1="431.06" x2="209.8" y2="431.06" stroke="#1a1a1a" stroke-width="0.8"/>
<text font-size="6.9" fill="#1a1a1a" text-anchor="end" transform="translate(32.4 433.46) scale(1.1 1)">0.6</text>
<text font-size="6.9" fill="#1a1a1a" transform="translate(214 433.46) scale(1.1 1)">0.6</text>
<line x1="34.6" y1="410.48" x2="36.4" y2="410.48" stroke="#1a1a1a" stroke-width="0.8"/>
<line x1="178.4" y1="410.48" x2="176.6" y2="410.48" stroke="#1a1a1a" stroke-width="0.8"/>
<line x1="178.4" y1="410.48" x2="180.2" y2="410.48" stroke="#1a1a1a" stroke-width="0.8"/>
<line x1="211.6" y1="410.48" x2="209.8" y2="410.48" stroke="#1a1a1a" stroke-width="0.8"/>
<text font-size="6.9" fill="#1a1a1a" text-anchor="end" transform="translate(32.4 412.88) scale(1.1 1)">0.8</text>
<text font-size="6.9" fill="#1a1a1a" transform="translate(214 412.88) scale(1.1 1)">0.8</text>
<line x1="34.6" y1="389.9" x2="36.4" y2="389.9" stroke="#1a1a1a" stroke-width="0.8"/>
<line x1="178.4" y1="389.9" x2="176.6" y2="389.9" stroke="#1a1a1a" stroke-width="0.8"/>
<line x1="178.4" y1="389.9" x2="180.2" y2="389.9" stroke="#1a1a1a" stroke-width="0.8"/>
<line x1="211.6" y1="389.9" x2="209.8" y2="389.9" stroke="#1a1a1a" stroke-width="0.8"/>
<text font-size="6.9" fill="#1a1a1a" text-anchor="end" transform="translate(32.4 392.3) scale(1.1 1)">1</text>
<text font-size="6.9" fill="#1a1a1a" transform="translate(214 392.3) scale(1.1 1)">1</text>
<line x1="34.6" y1="360.5" x2="36.4" y2="360.5" stroke="#1a1a1a" stroke-width="0.8"/>
<line x1="178.4" y1="360.5" x2="176.6" y2="360.5" stroke="#1a1a1a" stroke-width="0.8"/>
<text font-size="6.9" fill="#1a1a1a" text-anchor="end" transform="translate(32 362.9) scale(1.1 1)">50</text>
<line x1="195.6" y1="503.1" x2="195.6" y2="501.3" stroke="#1a1a1a" stroke-width="0.8"/>
<line x1="195.6" y1="379.3" x2="195.6" y2="381.1" stroke="#1a1a1a" stroke-width="0.8"/>
<text font-size="6.9" fill="#1a1a1a" transform="translate(193 505.3) scale(1.2 1) rotate(90)">50</text>
<rect x="34.6" y="350.4" width="143.8" height="28.9" fill="none" stroke="#1a1a1a" stroke-width="1.1"/>
<rect x="34.6" y="379.3" width="143.8" height="123.8" fill="none" stroke="#1a1a1a" stroke-width="1.1"/>
<rect x="178.4" y="379.3" width="33.2" height="123.8" fill="none" stroke="#1a1a1a" stroke-width="1.1"/>
<text font-size="7.6" fill="#1a1a1a" text-anchor="middle" textLength="52.1" lengthAdjust="spacingAndGlyphs" transform="translate(19.1 441.2) rotate(-90)">FRET Efficiency</text>
<text font-size="7.0" fill="#1a1a1a" transform="translate(91.1 521.7) scale(1.1 1)">&#964;</text>
<text font-size="5.6" fill="#1a1a1a" textLength="12.8" lengthAdjust="spacingAndGlyphs" transform="translate(94.7 525.5)">D(A)</text>
<text font-size="7.6" fill="#1a1a1a" textLength="12.4" lengthAdjust="spacingAndGlyphs" transform="translate(110 522.1)">[ns]</text>
<linearGradient id="gE" x1="0" x2="1" y1="0" y2="0"><stop offset="0.0" stop-color="#fafdf9"/><stop offset="0.125" stop-color="#edf7eb"/><stop offset="0.25" stop-color="#d3ebd2"/><stop offset="0.375" stop-color="#b4ddb6"/><stop offset="0.5" stop-color="#82c991"/><stop offset="0.625" stop-color="#52b36d"/><stop offset="0.75" stop-color="#299751"/><stop offset="0.875" stop-color="#107439"/><stop offset="1.0" stop-color="#004b23"/></linearGradient>
<rect x="184.4" y="361.5" width="40.3" height="5.3" fill="url(#gE)" stroke="#111" stroke-width="1.1"/>
<line x1="191.9" y1="361.5" x2="191.9" y2="362.7" stroke="#1a1a1a" stroke-width="0.6"/>
<text font-size="4.8" fill="#1a1a1a" text-anchor="middle" transform="translate(191.9 359.7) scale(1.15 1)">2</text>
<line x1="201.1" y1="361.5" x2="201.1" y2="362.7" stroke="#1a1a1a" stroke-width="0.6"/>
<text font-size="4.8" fill="#1a1a1a" text-anchor="middle" transform="translate(201.1 359.7) scale(1.15 1)">4</text>
<line x1="210.6" y1="361.5" x2="210.6" y2="362.7" stroke="#1a1a1a" stroke-width="0.6"/>
<text font-size="4.8" fill="#1a1a1a" text-anchor="middle" transform="translate(210.6 359.7) scale(1.15 1)">6</text>
<line x1="219.9" y1="361.5" x2="219.9" y2="362.7" stroke="#1a1a1a" stroke-width="0.6"/>
<text font-size="4.8" fill="#1a1a1a" text-anchor="middle" transform="translate(219.9 359.7) scale(1.15 1)">8</text>
<text font-size="5.0" fill="#1a1a1a" text-anchor="middle" textLength="23" lengthAdjust="spacingAndGlyphs" transform="translate(204.85 354.2)">Occurrence</text>
<clipPath id="clF"><rect x="270.6" y="380.3" width="143.2" height="124.2"/></clipPath>
<g clip-path="url(#clF)">
<path d="M344.9 503.2L346.2 501.9L344.9 500.7L343.5 501.9ZM358.6 503.2L360 501.9L358.6 500.7L357.2 501.9ZM375.1 503.2L376.5 501.9L376.5 499.4L377.4 496.8L377.9 495.5L378.5 496.8L380.6 498.7L381.3 499.4L382 501.9L383.4 503.2L384.7 501.9L385.4 499.4L384.7 496.8L383.4 495.5L382 494.3L382 491.7L383.4 490.4L384.7 491.7L386.1 493L387.5 494.3L388.9 495.5L390.2 494.3L391.6 493.6L392.3 494.3L393 496.8L394.4 498.1L395.7 496.8L396.4 494.3L397.1 493L398.5 491.7L397.1 490.4L395.7 491.7L394.4 492.4L393.7 491.7L393 489.2L393.9 486.6L393 484L394.4 483.4L395.7 484L397.1 485.3L398.5 484L398.5 481.5L397.1 480.2L394.4 479.6L391.6 479.2L389.2 481.5L388.9 481.9L386.1 482.8L383.4 482.1L382.7 481.5L383.4 480.2L386.1 481.1L388.4 478.9L388.5 476.4L388.4 473.8L388.9 472.5L389.5 473.8L391.6 475.7L394.4 475.1L395.7 473.8L394.4 472.5L393 471.3L391.6 470L388.9 470L387.5 471.3L386.1 471.7L384.7 471.3L383.4 470L382.7 468.7L383.4 468.1L385.4 466.1L386.1 464.9L387.5 466.1L388.9 467.4L390.2 466.1L390.2 463.6L390.2 461L388.9 459.7L386.1 459.7L384.7 461L384.7 463.6L383.4 464.2L380.6 464.9L379.2 463.6L379.2 461L380.6 459.7L383.4 459.7L384.7 458.5L383.4 457.2L380.6 457.2L380.1 455.9L377.9 453.8L376.5 453.4L375.1 452.1L373.7 453.4L372.4 454L370.3 455.9L369.6 457.2L369.1 455.9L366.9 453.8L365.5 453.4L364.1 452.1L363.4 450.8L364.1 449.5L365.5 448.2L366.9 447L368.2 445.7L366.9 444.4L365.5 443.1L366.9 442.5L369.6 441.8L371 440.6L369.6 439.3L366.9 438.6L366.4 438L366.9 436.7L368.2 435.4L366.9 434.2L365.5 435.4L364.1 435.9L361.4 436.7L360.9 435.4L361.4 434.2L364.1 434.2L365.5 432.9L364.1 431.6L361.4 431.6L360 430.3L360 427.8L358.6 426.5L355.9 426.5L354.5 425.2L353.1 423.9L351.7 425.2L351.7 427.8L353.1 429.1L354.5 430.3L353.1 430.8L351.7 430.3L350.4 429.1L349 427.8L347.6 426.5L344.9 426.5L342.1 425.9L341.8 425.2L342.1 424.6L344.9 423.9L346.2 422.7L347.6 421.4L350.4 422L353.1 421.4L355.9 421.4L357.2 420.1L355.9 418.8L353.1 418.8L350.4 418.2L347.6 418.8L346.2 417.5L347.6 416.9L349.7 415L347.6 413.1L344.9 413.7L343.5 415L342.1 416.3L339.4 415.6L336.6 415.6L334.5 417.5L336.6 419.5L339.4 419.5L339.8 420.1L339.4 420.5L336.6 420.4L333.9 420.5L333.4 420.1L331.1 418L330.6 417.5L331.1 416.3L332.5 415L333.9 413.7L336.6 414.3L338.7 412.4L339.4 411.2L340.7 409.9L339.4 408.6L338 409.9L336.6 410.5L333.9 411.2L331.1 411.2L330.4 409.9L331.1 409.2L333.2 407.3L333.9 406L336.6 406L338 404.8L336.6 403.5L333.9 403.5L332.5 402.2L331.1 400.9L330.6 399.6L328.4 397.5L326.1 399.6L325.6 400.3L322.9 400.9L321.5 399.6L320.1 398.4L319.4 397.1L317.4 395.2L315.3 397.1L314.6 398.4L313.9 397.1L313.2 394.5L313.2 392L313.2 389.4L311.9 388.1L310.5 389.4L309.1 390.7L306.4 390.7L305 392L304.3 394.5L303.6 395.2L302.9 394.5L300.9 392.6L299.5 392L300.9 391.5L303.1 389.4L303.6 388.8L305.7 386.9L303.6 384.9L302.2 384.3L300.9 383L299.5 384.3L300.9 385.6L301.5 386.9L300.9 387.3L299.5 386.9L298.1 385.6L296.7 386.9L295.4 388.1L292.6 387.5L291.2 386.9L289.9 385.6L288.5 386.9L288.5 389.4L287.1 389.8L284.8 392L287.1 394.1L289.4 392L289.9 390.7L291.2 392L291.2 394.5L289.9 395.8L287.1 395.2L284.4 395L283.7 394.5L283.7 392L281.6 390.1L280.2 389.4L278.9 388.1L277.5 389.4L278.9 390.7L279.5 392L278.9 393.2L277.5 394.5L276.1 395.8L274.7 394.5L273.4 393.2L272 394.5L270.6 395.8L270.6 397.1L270.6 399.6L270.6 402.2L270.6 403.5L273.4 403.5L274.7 402.2L276.1 401.8L277.5 402.2L276.4 404.8L276.1 405.4L273.4 406L270.6 406L270.6 407.3L270.6 409.9L270.6 411.8L272 412.4L273.4 413.7L274.7 412.4L275.4 409.9L276.1 409.2L276.8 409.9L278.9 411.8L279.3 412.4L278.9 413.7L277.5 415L278.9 416.3L280.2 415L281.6 414.6L284.4 414.3L287.1 413.7L288.5 415L289.9 416.3L292.6 416.9L293.3 417.5L294 420.1L295.4 421.4L295.8 422.7L298.1 424.8L300.4 422.7L300.9 422.3L301.3 422.7L301.5 425.2L300.9 425.6L298.1 426.5L295.4 426.5L294.7 425.2L294 422.7L292.6 421.4L291.2 420.1L289.9 418.8L287.1 418.8L284.4 418.8L283 417.5L281.6 416.3L280.2 417.5L280.2 420.1L279.5 422.7L281.6 424.6L283 425.2L284.4 426.5L285.7 425.2L284.4 423.9L283.7 422.7L284.4 421.4L287.1 421.4L288.5 422.7L288.5 425.2L289.9 426.5L292.6 427.1L294 427.8L295.4 429.1L298.1 429.1L298.8 430.3L298.8 432.9L298.1 434.2L296.7 435.4L298.1 436.7L299.5 435.4L300.9 434.8L302.9 432.9L303.6 431.6L305 432.9L305 435.4L306.4 436.7L309.1 436.7L311.9 437.7L312.3 438L311.9 439.3L309.1 439.3L306.4 439.3L303.6 439.3L302.2 440.6L300.9 441.8L299.5 443.1L300.9 444.4L303.6 444.4L305 443.1L306.4 441.8L307.7 443.1L309.1 444.4L311.9 444.4L313.2 443.1L314.6 442.8L317.4 441.8L318.7 443.1L320.1 444.4L321.5 443.1L322.9 442.7L323.2 443.1L323.2 445.7L322.9 447L320.1 447L317.4 446.1L316 445.7L314.6 444.4L313.2 445.7L313.2 448.2L313.2 450.8L314.6 452.1L316 453.4L317.4 454.6L318.7 453.4L320.1 452.7L322.9 452.1L324.2 453.4L322.9 454L320.8 455.9L320.1 457.2L318.7 458.5L317.4 459.7L316 458.5L314.6 457.2L313.2 458.5L313.2 461L314.6 462.3L315.3 463.6L317.4 465.5L318.7 466.1L320.1 467.4L321.5 468.7L322.9 470L325.6 470L328.4 470L328.8 471.3L329.7 473.8L331.1 475.1L332.5 473.8L333.4 471.3L332.5 468.7L331.1 467.4L328.4 467.4L325.6 467.4L324.2 466.1L322.9 464.9L320.1 464.9L319.4 463.6L320.1 463.2L322.9 462.3L324.2 463.6L325.6 464.9L327 463.6L327 461L325.6 459.7L322.9 459.7L321.5 458.5L322.9 457.8L325.6 457.8L328.4 458.1L329 458.5L331.1 460.4L331.4 461L331.1 462.3L329.7 463.6L331.1 464.9L333.9 465.5L334.5 466.1L334.5 468.7L335.2 471.3L334.5 473.8L333.9 475.1L332.5 476.4L331.6 478.9L331.1 480.2L329.7 481.5L331.1 482.8L332.5 484L333.9 485.3L336.6 485.3L338 484L339.4 482.8L340.7 484L342.1 485.3L343.5 486.6L344.9 487.9L346.2 489.2L344.9 489.8L343.5 489.2L342.1 487.9L339.4 487.9L338 489.2L339.4 490.4L342.1 490.4L342.8 491.7L342.1 493L340.7 494.3L342.1 495.5L343.5 494.3L344.9 493.6L346.9 491.7L347.6 490.4L349 489.2L350.4 488.5L350.8 489.2L351 491.7L353.1 493.6L355.9 493.6L356.5 494.3L357.2 496.8L358.6 498.1L360 496.8L361.4 496.2L362 496.8L364.1 498.7L366.9 499.1L369.3 496.8L369.6 496.5L370.1 496.8L371 499.4L372.4 500.7L373.7 501.9ZM364.1 496.8L364.1 496.8L361.4 494.3L361.4 494.3L358.6 494.3L355.9 491.7L358.6 489.2L358.6 489.2L358.6 489.2L355.9 486.6L358.6 484.9L359 484L361.4 481.8L364.1 482.8L365 484L366.9 485.7L367.6 484L368.2 481.5L366.9 480.6L364.1 480.6L361.4 480.2L358.6 481.5L355.9 481.5L353.1 480.2L350.4 478.9L350.4 478.9L348.2 476.4L350.4 473.8L352.6 476.4L353.1 477.6L353.8 476.4L353.1 473.8L355.9 471.3L355.9 471.3L355.9 468.7L355.9 468.7L355.9 468.7L353.1 470.4L350.4 471.3L350.4 471.3L347.6 473.2L344.9 472.5L342.1 471.3L344.9 470.4L347.6 468.7L347.6 468.7L347.6 468.7L346.2 466.1L344.9 463.6L347.6 461L350.4 462L353.1 461L353.1 461L355.9 460.2L357.2 461L357.2 463.6L358.6 464.6L360.4 463.6L359.3 461L358.6 460.2L357.2 458.5L355.9 455.9L358.6 454.6L361.4 454.6L364.1 455.9L362.3 458.5L364.1 461L364.1 461L365.5 463.6L366.9 464.9L368.2 463.6L367.8 461L369.6 459.3L371 461L372.4 463.6L371.8 466.1L372.4 468.7L372.4 468.7L374.2 471.3L375.1 473.8L375.1 473.8L376.9 476.4L377.9 477.2L379.2 478.9L377.9 481.5L377.9 481.5L377.9 484L377.9 484L377.9 484L380.6 481.5L383.4 484L383.4 484L384.7 486.6L383.4 487.9L380.6 486.6L380.6 486.6L380.6 486.6L377.9 489.2L377.9 489.2L377.9 491.7L376.5 494.3L376 496.8L375.1 498.1L372.4 498.1L371.4 496.8L369.6 495.5L368.2 496.8L366.9 498.1ZM352.2 489.2L353.1 486.6L354.5 489.2L353.1 491.7ZM388.2 489.2L388.9 487.9L390.2 489.2L388.9 489.8ZM346.2 486.6L344.9 484L344.9 481.5L347.6 480.6L350.4 481.5L350.4 481.5L352.2 484L350.4 486.6L350.4 486.6L347.6 487.9ZM390.2 486.6L391.6 485.3L392.5 486.6L391.6 487.9ZM366.4 484L366.9 482.8L367 484L366.9 484.5ZM387.5 484L388.9 483.2L390.2 484L388.9 485.3ZM335.2 481.5L336.6 480.2L338 481.5L336.6 482.8ZM390.2 481.5L391.6 480.2L394.4 481.5L391.6 483.2ZM332.9 478.9L333.9 477.6L335.2 478.9L333.9 480.2ZM338 478.9L338 476.4L339.4 475.1L340.7 473.8L342.1 473.2L343.5 473.8L342.1 475.1L340.7 476.4L342.1 477.6L342.6 478.9L342.1 479.6L339.4 480.2ZM343.9 478.9L344.9 477.6L345.8 478.9L344.9 481.5ZM347.1 478.9L347.6 477.6L348.3 478.9L347.6 479.4ZM380.3 478.9L380.6 478.5L382 478.9L380.6 479.6ZM384.7 478.9L384.7 476.4L383.4 473.8L386.1 473L387 473.8L387.5 476.4L387 478.9L386.1 479.8ZM379.2 476.4L380.6 475.5L381.5 476.4L380.6 477.2ZM382.9 476.4L383.4 475.7L383.7 476.4L383.4 477.6ZM379.9 473.8L380.6 473.4L381.3 473.8L380.6 474.2ZM330.2 471.3L331.1 470L332 471.3L331.1 472.5ZM338 471.3L339.4 470L342.1 471.3L339.4 472.5ZM377.9 471.3L380.6 468.7L382 471.3L380.6 472.1ZM344.2 468.7L344.9 467.4L345.5 468.7L344.9 469.1ZM374.4 468.7L373.7 466.1L375.1 464.9L375.6 466.1L377.9 468.3L378.5 468.7L377.9 469.3L375.1 470ZM338.7 466.1L339.4 465.5L340 466.1L339.4 467.4ZM376.9 466.1L377.9 464.9L379.2 466.1L377.9 467ZM339.4 463.6L339.4 463.6L336.6 461L339.4 458.5L339.4 458.5L342.1 457.2L342.6 455.9L344.9 453.4L347.1 455.9L347.6 457.2L349 458.5L347.6 461L344.9 459.7L342.1 459.7L341.6 461L342.1 462.3L344.9 463.6L342.1 466.1ZM358.3 463.6L358.6 462.3L359.1 463.6L358.6 463.8ZM318.7 461L320.1 459.7L321.5 461L320.1 461.9ZM332.5 461L331.1 458.5L333.9 457.2L336.6 458.5L336.6 461L333.9 463.6ZM349.7 461L350.4 459.7L351 461L350.4 461.3ZM372 461L372.4 460.4L373.7 461L372.4 461.7ZM351.7 458.5L350.4 457.2L349 455.9L347.6 453.4L350.4 451.4L353.1 451.8L355.9 453.4L355.9 455.9L354 458.5L353.1 461ZM355.4 458.5L355.9 457.8L356.2 458.5L355.9 458.9ZM363.6 458.5L364.1 457.8L364.8 458.5L364.1 459.1ZM325.6 455.9L327 453.4L325.6 452.1L324.2 450.8L323.8 448.2L324.2 445.7L324.2 443.1L325.6 441.4L327 443.1L328.4 444.8L331.1 445.7L328.4 447L327.4 448.2L328.4 449.1L329.7 450.8L331.1 451.4L333.9 450.8L335.7 453.4L333.9 455.1L331.1 455.9L331.1 455.9L328.4 457.2ZM364.1 455.9L366.9 455.1L367.8 455.9L366.9 458.5ZM376.5 455.9L377.9 455.1L378.8 455.9L377.9 457.2ZM338 453.4L339.4 452.5L342.1 453.4L339.4 455.9ZM330.8 450.8L331.1 450.2L331.8 450.8L331.1 451ZM338.7 450.8L339.4 449.5L339.8 450.8L339.4 451.2ZM341.2 450.8L342.1 448.2L344.9 448.2L347.6 450.8L344.9 453.4L342.1 453.4ZM351.7 450.8L353.1 450.4L354.5 450.8L353.1 451ZM356.4 450.8L357.2 448.2L355.9 447L354.9 445.7L355.9 443.1L358.6 445.7L358.6 445.7L361.4 448.2L361.4 450.8L358.6 452.8ZM316 448.2L317.4 447.4L318.7 448.2L317.4 449.5ZM346.9 448.2L347.6 447.6L349 448.2L347.6 448.9ZM351.7 448.2L353.1 447.4L354.5 448.2L353.1 449.1ZM331.1 445.7L333.9 444.4L335.2 445.7L333.9 448.2ZM338 445.7L339.4 444.8L340.7 443.1L342.1 440.6L343.9 443.1L344.9 444.4L347.6 445.7L344.9 448.2L342.1 448.2L339.4 447ZM347.6 445.7L347.6 443.1L350.4 442.3L351.7 443.1L351.7 445.7L350.4 447.4ZM352.8 445.7L353.1 444.4L353.6 445.7L353.1 446.1ZM328 443.1L328.4 442.7L331.1 442.5L332.5 443.1L331.1 443.8L328.4 443.5ZM338.7 443.1L338.9 440.6L339.2 438L339.4 436.7L340 438L340 440.6L339.7 443.1L339.4 443.5ZM312.8 440.6L313.7 438L311.9 437L309.8 435.4L309.1 434.2L307.7 432.9L309.1 430.3L309.1 430.3L310.5 427.8L311.9 425.2L313.7 427.8L314.6 429.1L316 427.8L317.4 425.2L320.1 425.2L322.9 427.8L321.5 430.3L322.9 431.6L323.5 430.3L325.6 427.8L325.6 427.8L328.4 425.2L329.3 427.8L331.1 429.5L332.5 430.3L331.1 432.9L331.1 432.9L331.1 432.9L333.9 432.9L336.6 433.7L338.4 435.4L338.6 438L337.5 440.6L336.6 443.1L333.9 441.8L331.1 440.6L333.9 438L333.9 438L333.9 438L331.1 438L328.4 435.4L328.4 435.4L326.5 432.9L325.6 432.3L324.2 432.9L322.9 433.7L320.1 432.9L320.1 432.9L317.4 430.3L317.4 430.3L317.4 430.3L314.6 432.9L311.9 431.6L310.5 432.9L311.9 433.5L314.6 435.4L314.6 435.4L315.5 438L316.4 440.6L314.6 441.8ZM321.5 440.6L320.1 438L322.9 437.2L325.6 438L324.2 440.6L322.9 441.4ZM327 440.6L328.4 439.3L331.1 440.6L328.4 441.4ZM349.7 440.6L350.4 439.3L351.7 438L353.1 437.4L353.6 438L353.1 439.3L351.7 440.6L350.4 441ZM356.8 440.6L355.9 439.3L354.9 438L355.9 436.7L357.2 438L358.6 438.9L360 440.6L358.6 442.3ZM361 440.6L361.4 439.3L361.8 440.6L361.4 441.2ZM363.2 440.6L362.7 438L364.1 437.2L365 438L366.9 440.6L364.1 441.8ZM316.9 438L317.4 436.7L318 438L317.4 439.3ZM342.1 438L342.1 438L340 435.4L342.1 432.9L344.9 432.9L347.6 435.4L347.6 435.4L347.6 435.4L350.4 434.2L352.2 432.9L353.1 432L354 432.9L353.1 435.4L353.1 435.4L350.4 437.2L350 438L347.6 440.6L344.9 440.6ZM322.2 435.4L322.9 435L324.2 435.4L322.9 435.9ZM357.2 435.4L358.6 434.2L359.5 435.4L358.6 436.7ZM349 432.9L350.4 431.6L350.8 432.9L350.4 433.2ZM355.4 432.9L355.9 431.6L357.2 432.9L355.9 434.2ZM335.2 430.3L336.6 429.5L337.5 430.3L336.6 431.6ZM338.9 430.3L339.4 430.1L340.7 430.3L339.4 431.6ZM344.9 430.3L347.6 428.3L349.8 430.3L347.6 432.4ZM299.5 427.8L300.9 426.9L301.8 427.8L300.9 430.3ZM303.1 427.8L303.6 427.1L305 427.8L303.6 429.1ZM307.7 427.8L306.4 426.5L305.7 425.2L306.4 424.6L309.1 424.6L309.8 425.2L309.4 427.8L309.1 428.4ZM330.6 427.8L331.1 427.3L332.5 427.8L331.1 428.2ZM335.2 427.8L336.6 427.6L336.9 427.8L336.6 428.2ZM337.7 427.8L336.6 426.9L334.4 425.2L333.9 423.9L332.5 425.2L331.1 426.1L328.4 425.2L328.4 425.2L325.6 425.2L323.8 422.7L325.6 420.1L325.6 420.1L325.6 417.5L328.4 416.7L329.3 417.5L331.1 419.2L332 420.1L331.1 422.7L331.1 422.7L331.1 422.7L331.1 422.7L333.9 421.8L336.6 421.4L339.4 421.8L342.1 422.7L341 425.2L342.1 427.8L339.4 429.3ZM297.2 422.7L298.1 421.8L299 422.7L298.1 423.5ZM302.7 422.7L300.9 421.4L299.5 420.1L300.9 418.8L303.6 418.6L305.2 420.1L306.4 422.7L303.6 425.2ZM311.2 422.7L311.9 422.2L312.5 422.7L311.9 423.3ZM296.7 420.1L298.1 419.5L298.4 420.1L298.1 420.5ZM306.1 420.1L306.4 418.8L306.7 420.1L306.4 420.7ZM307.7 420.1L307.3 417.5L306.4 415L307.7 412.4L309.1 411.2L310 412.4L311.9 414.1L313.2 415L311.9 417.5L311.9 417.5L311.9 417.5L313.2 420.1L311.9 421L309.1 422.7ZM322.2 420.1L322.9 418.8L323.5 420.1L322.9 421.4ZM341.2 420.1L342.1 418.8L343.5 420.1L342.1 422.7ZM300.2 417.5L300.9 417.2L303.3 415L303.6 413.7L304.3 415L305 417.5L303.6 417.8L300.9 417.9ZM318.3 417.5L318.7 415L320.1 414.1L321.5 415L321.9 417.5L320.1 420.1ZM292.6 415L292.6 415L291.2 412.4L292.6 411.2L294 412.4L295.4 413.7L298.1 413.7L300.9 413.3L302.2 415L300.9 416.3L298.1 417.5L295.4 417.5ZM324.2 415L324.2 412.4L325.6 411.6L327 412.4L326.5 415L325.6 417.5ZM327.9 415L328.4 413.7L329.7 415L328.4 415.4ZM280.7 412.4L281.6 411.6L284.4 412.4L281.6 413.3ZM311.4 412.4L311.9 411.8L312.5 412.4L311.9 412.9ZM314.6 412.4L317.4 409.9L318.3 412.4L317.4 413.7ZM319.6 412.4L320.1 411.2L321.5 412.4L320.1 412.9ZM280.9 409.9L281.6 408.6L282.1 409.9L281.6 410.3ZM283.4 409.9L284.4 408.6L285.7 409.9L284.4 412.4ZM294 409.9L295.4 409.2L295.8 409.9L295.4 411.2ZM297.2 409.9L298.1 409L299 409.9L298.1 411.2ZM300.4 409.9L300.9 409.2L301.5 409.9L300.9 411.2ZM305.7 409.9L306.4 409.2L307.7 409.9L306.4 411.2ZM324.2 409.9L325.6 409.2L326.3 409.9L325.6 410.3ZM297.4 407.3L298.1 406.9L298.8 407.3L298.1 407.7ZM310.5 407.3L311.9 406.7L312.3 407.3L311.9 408ZM313.7 407.3L314.6 406L316 407.3L314.6 409.9ZM277.5 404.8L278.9 403.1L280.2 404.8L278.9 406.5ZM281.3 404.8L281.6 403.5L283 404.8L281.6 406ZM288 404.8L289.9 403.1L292.6 404.8L289.9 407.3ZM292.6 404.8L295.4 403.5L296.7 402.2L298.1 400.9L298.8 399.6L300.9 397.7L302.5 399.6L303.6 401.3L305 402.2L303.6 403.5L302.7 404.8L300.9 407.3L298.1 405.6L295.4 407.3ZM305 404.8L306.4 403.5L306.8 404.8L306.4 405.4ZM308.2 404.8L309.1 403.5L311.9 404.8L309.1 406ZM316 404.8L317.4 403.9L318.7 404.8L317.4 406ZM324.2 404.8L325.6 404.1L327 404.8L325.6 405.4ZM285.7 402.2L284.4 400.9L281.6 400.9L281.3 399.6L281.6 398.4L284.4 399.2L287.1 399L287.8 399.6L288.5 402.2L287.1 403.5ZM291.2 402.2L292.6 401.9L294 402.2L292.6 402.8ZM310.5 402.2L311.9 400.9L314.6 400.9L316 399.6L317.4 399L318.7 399.6L318.7 402.2L317.4 402.6L314.6 403.5L311.9 402.8ZM327.7 402.2L328.4 401.8L329.7 402.2L328.4 403.5ZM272 399.6L273.4 397.1L276.1 398.4L278.9 397.1L280.2 399.6L278.9 401.3L276.1 400.5L273.4 400.9ZM289.9 399.6L292.6 397.9L295.4 399.6L292.6 400.9ZM303.3 399.6L303.6 399L304.3 399.6L303.6 400.1ZM306.4 399.6L309.1 398.4L310.9 399.6L309.1 401.3ZM327.4 399.6L328.4 398.8L329.3 399.6L328.4 400.5ZM283 397.1L284.4 396.2L287.1 397.1L284.4 397.9ZM305.7 397.1L306.4 396.4L308.4 394.5L309.1 393.2L310.5 394.5L309.8 397.1L309.1 397.4L306.4 397.7ZM294 394.5L294 392L295.4 390.7L296.7 392L298.1 393.2L298.8 394.5L298.1 395.8L295.4 395.8ZM286.2 392L287.1 391.1L288 392L287.1 392.8ZM299.5 389.4L300.9 388.6L301.8 389.4L300.9 390.3ZM391.6 503.2L393 501.9L391.6 500.7L390.2 501.9ZM405.4 503.2L406.7 501.9L408.1 501.3L410.2 499.4L408.1 497.5L406 499.4L405.4 500.7L404 501.9ZM287.1 500.7L288.5 499.4L287.1 498.1L285.7 499.4ZM292.6 500.7L294 499.4L292.6 498.1L291.2 499.4ZM309.1 500.7L310.5 499.4L309.1 498.1L307.7 499.4ZM322.9 500.7L324.2 499.4L322.9 498.1L321.5 499.4ZM328.4 500.7L329.7 499.4L328.4 498.1L327 499.4ZM339.4 500.7L340.7 499.4L340.7 496.8L339.4 495.5L338.7 494.3L336.6 492.4L335.2 491.7L333.9 490.4L332.5 491.7L333.9 493L334.5 494.3L336.6 496.2L338 496.8L338 499.4ZM350.4 500.7L353.1 500.7L354.5 499.4L354.5 496.8L353.1 495.5L350.4 495.5L349 496.8L349 499.4ZM413.6 500.7L415 499.4L413.6 498.1L412.2 499.4ZM273.4 498.1L274.7 496.8L273.4 495.5L272 496.8ZM298.1 498.1L299.5 496.8L298.1 495.5L296.7 496.8ZM306.4 498.1L307.7 496.8L306.4 495.5L305 496.8ZM325.6 498.1L327 496.8L325.6 495.5L324.2 496.8ZM289.9 495.5L292.6 495.5L294 494.3L292.6 493L289.9 493L288.5 494.3ZM300.9 495.5L302.2 494.3L300.9 493L299.5 494.3ZM309.1 495.5L310.5 494.3L309.1 493L307.7 494.3ZM399.9 495.5L401.2 494.3L399.9 493L398.5 494.3ZM405.4 495.5L408.1 495.5L409.5 494.3L408.1 493L405.4 493L404 494.3ZM278.9 493L280.2 491.7L278.9 490.4L277.5 491.7ZM281.6 490.4L283 489.2L281.6 487.9L280.2 489.2ZM303.6 490.4L306.4 490.4L307.7 489.2L306.4 487.9L303.6 487.9L302.2 489.2ZM325.6 491.1L328.4 490.4L331.1 490.4L332.5 489.2L332.5 486.6L331.1 485.3L329.7 486.6L328.4 487.9L325.6 487.2L323.5 489.2ZM278.9 487.9L280.2 486.6L280.2 484L278.9 482.8L277.5 484L277.5 486.6ZM298.1 487.9L299.5 486.6L298.1 485.3L296.7 486.6ZM311.9 487.9L313.2 486.6L311.9 485.3L310.5 486.6ZM375.1 486.6L375.1 486.6L375.1 486.6L375.1 486.6ZM399.9 487.9L401.2 486.6L402.6 486L404.7 484L402.6 482.1L400.5 484L399.9 485.3L398.5 486.6ZM284.4 485.3L285.7 484L284.4 482.8L283 484ZM325.6 485.3L327 484L327 481.5L327.7 478.9L327.7 476.4L325.6 474.4L324.9 473.8L322.9 471.9L320.8 473.8L322.9 475.7L323.5 476.4L323.5 478.9L324.2 481.5L324.2 484ZM306.4 482.8L307.7 481.5L306.4 480.2L305 481.5ZM408.1 482.8L409.5 481.5L408.1 480.2L406.7 481.5ZM289.9 480.2L291.2 478.9L291.2 476.4L289.9 475.1L288.5 476.4L288.5 478.9ZM303.6 480.2L305 478.9L303.6 477.6L302.2 478.9ZM317.4 480.2L318.7 478.9L317.4 477.6L316 478.9ZM369.6 478.9L372.4 480.2L375.1 480.6L376.5 478.9L375.1 477.6L372.4 476.4L372.4 476.4L369.6 473.8L369.6 471.3L369.6 471.3L369.6 471.3L369.6 473.8L366.9 476.4L366.9 476.4L366.9 476.4L369.6 478.9ZM373.7 478.9L375.1 478.6L375.4 478.9L375.1 479.4ZM399.9 480.2L401.2 478.9L399.9 477.6L398.5 478.9ZM284.4 477.6L285.7 476.4L284.4 475.1L283 476.4ZM311.9 477.6L313.2 476.4L311.9 475.1L310.5 476.4ZM361.4 478.1L363.2 476.4L361.4 473.8L361.4 473.8L358.6 472.1L357.2 473.8L358.6 475.5L359.5 476.4ZM360.9 476.4L361.4 475.7L361.8 476.4L361.4 476.8ZM358.3 473.8L358.6 473.4L359.3 473.8L358.6 474.2ZM402.6 477.6L404 476.4L402.6 475.1L401.2 476.4ZM413.6 477.6L415 476.4L413.6 475.1L412.2 476.4ZM272 473.8L272 471.3L270.6 470L270.6 471.3L270.6 473.8L270.6 475.1ZM298.1 475.1L299.5 473.8L298.1 472.5L297.4 471.3L295.4 469.3L292.6 470L291.2 471.3L292.6 472.5L295.4 473.2L296.7 473.8ZM303.6 475.1L305 473.8L303.6 472.5L302.2 473.8ZM314.6 472.5L316 471.3L314.6 470L313.2 471.3ZM364.1 472.5L365.5 471.3L365.5 468.7L364.1 468.1L363.6 468.7L363.2 471.3ZM363.9 471.3L364.1 470L364.4 471.3L364.1 471.6ZM278.9 470L280.2 468.7L281.6 468.1L283.7 466.1L281.6 464.2L279.5 466.1L278.9 467.4L277.5 468.7ZM311.9 467.4L313.2 466.1L311.9 464.9L311.2 463.6L309.1 461.7L307 463.6L309.1 465.5L310.5 466.1ZM353.1 467L354 466.1L353.1 464.9L352.2 466.1ZM394.4 467.4L395.7 466.1L394.4 464.9L393 466.1ZM410.9 467.4L412.2 466.1L410.9 464.9L409.5 466.1ZM287.1 464.9L288.5 463.6L287.1 462.3L285.7 463.6ZM292.6 464.9L294 463.6L292.6 462.3L291.2 463.6ZM397.1 464.9L399.9 464.9L401.2 463.6L401.2 461L399.9 459.7L398.5 461L397.1 462.3L395.7 463.6ZM413.6 464.9L415 463.6L413.6 462.3L412.2 463.6ZM303.6 462.3L305 461L305 458.5L303.6 457.2L302.2 455.9L303.6 455.3L306.4 455.3L308.4 453.4L306.4 451.4L303.6 451.4L301.5 453.4L300.9 454.6L299.5 455.9L299.5 458.5L300.9 459.7L302.2 461ZM394.4 462.3L395.7 461L394.4 459.7L393 461ZM292.6 459.7L294 458.5L292.6 457.2L291.2 458.5ZM273.4 457.2L274.7 455.9L273.4 454.6L272 455.9ZM287.1 457.8L289.2 455.9L287.1 454L285 455.9ZM388.9 457.8L390.9 455.9L391.6 454.6L393 453.4L391.6 452.1L390.2 453.4L388.9 454L387.5 453.4L386.1 452.1L385.4 450.8L386.1 450.4L388.4 448.2L387.5 445.7L386.1 444.4L383.4 444.4L382 445.7L383.4 447L383.8 448.2L383.4 448.9L380.6 449.5L379.2 450.8L380.6 452.1L383.4 452.7L384.7 453.4L386.1 454.6L386.8 455.9ZM385.2 448.2L386.1 447L387 448.2L386.1 449.1ZM397.1 457.2L398.5 455.9L398.5 453.4L397.1 452.1L395.7 453.4L395.7 455.9ZM276.1 454.6L277.5 453.4L277.5 450.8L276.1 449.5L274.7 450.8L274.7 453.4ZM284.4 452.1L285.7 450.8L284.4 449.5L283 450.8ZM298.1 452.1L299.5 450.8L298.1 449.5L296.7 450.8ZM309.1 449.5L310.5 448.2L309.1 447L307.7 448.2ZM391.6 450.2L393.7 448.2L391.6 446.3L389.5 448.2ZM399.9 449.5L401.2 448.2L399.9 447L398.5 448.2ZM281.6 447L283 445.7L281.6 444.4L280.2 445.7ZM306.4 447L307.7 445.7L306.4 444.4L305 445.7ZM375.1 447L377.9 447L379.2 445.7L377.9 444.4L375.1 444.4L373.7 445.7ZM273.4 444.4L274.7 443.1L273.4 441.8L272 443.1ZM372.4 444.4L373.7 443.1L372.4 441.8L371 443.1ZM295.4 442.5L297.4 440.6L296.7 438L295.4 436.7L294 438L293.3 440.6ZM375.1 441.8L376.5 440.6L375.1 439.3L373.7 440.6ZM380.6 441.8L382 440.6L380.6 439.3L379.2 440.6ZM300.9 439.3L302.2 438L300.9 436.7L299.5 438ZM276.1 436.7L277.5 435.4L276.1 434.2L274.7 435.4ZM372.4 437.4L374.4 435.4L372.4 433.5L371 432.9L369.6 431.6L368.2 432.9L369.6 434.2L370.3 435.4ZM402.6 436.7L404 435.4L402.6 434.2L401.2 435.4ZM380.6 434.2L383.4 434.2L384.7 432.9L383.4 431.6L382 430.3L380.6 429.1L379.2 430.3L379.2 432.9ZM388.9 434.2L390.2 432.9L388.9 431.6L387.5 432.9ZM276.1 431.6L277.5 430.3L276.1 429.1L274.7 430.3ZM289.9 431.6L291.2 430.3L289.9 429.1L288.5 430.3ZM364.1 429.1L365.5 427.8L364.1 426.5L362.7 427.8ZM388.9 429.1L390.2 427.8L388.9 426.5L387.5 427.8ZM273.4 423.9L274.7 422.7L273.4 421.4L272 422.7ZM358.6 423.9L360 422.7L358.6 421.4L357.2 422.7ZM369.6 423.9L371 422.7L369.6 421.4L368.2 422.7ZM272 420.1L270.6 418.8L270.6 420.1L270.6 421.4ZM372.4 421.4L373.7 420.1L372.4 418.8L371 420.1ZM355.9 416.3L357.2 415L355.9 413.7L354.5 415ZM394.4 416.3L395.7 415L394.4 413.7L393 415ZM353.1 413.7L354.5 412.4L353.1 411.2L351.7 412.4ZM366.9 411.2L368.2 409.9L366.9 408.6L365.5 409.9ZM405.4 411.2L406.7 409.9L405.4 408.6L404 409.9ZM342.1 408.6L343.5 407.3L342.1 406L340.7 407.3ZM347.6 408.6L349 407.3L347.6 406L346.2 407.3ZM344.9 406L346.2 404.8L346.2 402.2L344.9 400.9L342.1 400.9L340.7 402.2L342.1 403.5L343.5 404.8ZM355.9 406L357.2 404.8L355.9 403.5L354.5 404.8ZM300.9 403.1L302.2 402.2L300.9 401.6L299.5 402.2ZM333.9 400.9L335.2 399.6L335.2 397.1L333.9 395.8L332.5 397.1L332.5 399.6ZM361.4 400.9L362.7 399.6L361.4 398.4L360 399.6ZM402.6 398.4L404 397.1L402.6 395.8L401.2 397.1ZM350.4 395.8L351.7 394.5L350.4 393.2L349 394.5ZM276.1 393.2L277.5 392L276.1 390.7L274.7 392ZM364.1 393.2L365.5 392L364.1 390.7L362.7 392ZM272.7 389.4L270.6 387.5L270.6 389.4L270.6 391.3ZM284.4 388.1L285.7 386.9L284.4 385.6L283 386.9ZM339.4 388.1L340.7 386.9L339.4 385.6L338 386.9ZM369.6 388.1L371 386.9L369.6 385.6L368.2 386.9ZM278.9 383L280.2 381.7L278.9 380.5L277.5 381.7ZM309.1 383L310.5 381.7L309.1 380.5L307.7 381.7Z" fill="#fff2e6" stroke="none" fill-rule="evenodd"/>
<path d="M366.9 498.1L368.2 496.8L369.6 495.5L371.4 496.8L372.4 498.1L375.1 498.1L376 496.8L376.5 494.3L377.9 491.7L377.9 489.2L377.9 489.2L380.6 486.6L380.6 486.6L380.6 486.6L383.4 487.9L384.7 486.6L383.4 484L383.4 484L380.6 481.5L377.9 484L377.9 484L377.9 484L377.9 481.5L377.9 481.5L379.2 478.9L377.9 477.2L376.9 476.4L375.1 473.8L375.1 473.8L374.2 471.3L372.4 468.7L372.4 468.7L371.8 466.1L372.4 463.6L371 461L369.6 459.3L367.8 461L368.2 463.6L366.9 464.9L365.5 463.6L364.1 461L364.1 461L362.3 458.5L364.1 455.9L361.4 454.6L358.6 454.6L355.9 455.9L357.2 458.5L358.6 460.2L359.3 461L360.4 463.6L358.6 464.6L357.2 463.6L357.2 461L355.9 460.2L353.1 461L353.1 461L350.4 462L347.6 461L344.9 463.6L346.2 466.1L347.6 468.7L347.6 468.7L347.6 468.7L344.9 470.4L342.1 471.3L344.9 472.5L347.6 473.2L350.4 471.3L350.4 471.3L353.1 470.4L355.9 468.7L355.9 468.7L355.9 468.7L355.9 471.3L355.9 471.3L353.1 473.8L353.8 476.4L353.1 477.6L352.6 476.4L350.4 473.8L348.2 476.4L350.4 478.9L350.4 478.9L353.1 480.2L355.9 481.5L358.6 481.5L361.4 480.2L364.1 480.6L366.9 480.6L368.2 481.5L367.6 484L366.9 485.7L365 484L364.1 482.8L361.4 481.8L359 484L358.6 484.9L355.9 486.6L358.6 489.2L358.6 489.2L358.6 489.2L355.9 491.7L358.6 494.3L361.4 494.3L361.4 494.3L364.1 496.8L364.1 496.8ZM366.2 496.8L364.1 496.1L362.2 494.3L364.1 492L364.3 491.7L364.1 491.5L361.4 491.1L360 489.2L358.6 487.2L357.9 486.6L358.6 486.2L359.6 484L361.4 482.4L363.8 484L364.1 484.5L366.4 486.6L366.9 486.8L367.3 486.6L368.2 484L369.6 481.8L372.4 481.9L374.6 484L374.1 486.6L375.1 487.4L377.2 486.6L377.9 486L378.5 486.6L377.9 487.2L377 489.2L376.5 491.7L375.1 493.6L373.7 494.3L372.4 495.5L369.6 494.6L367.2 496.8L366.9 497.1ZM375.1 486.6L375.1 486.6L375.1 486.6L375.1 486.6ZM378.9 484L380.6 482.4L382.3 484L380.6 485.6ZM353.8 478.9L354.8 476.4L355.2 473.8L355.9 473.2L356.2 473.8L357.9 476.4L358.6 477L360.7 478.9L358.6 480.2L355.9 480.2ZM362.7 478.9L364.1 477.6L366.9 478.3L367.5 478.9L366.9 479.4L364.1 479.4ZM369.6 478.9L366.9 476.4L366.9 476.4L366.9 476.4L369.6 473.8L369.6 471.3L369.6 471.3L369.6 471.3L369.6 473.8L372.4 476.4L372.4 476.4L375.1 477.6L376.5 478.9L375.1 480.6L372.4 480.2L369.6 478.9ZM377.5 478.9L377.9 478.5L378.2 478.9L377.9 479.6ZM349 476.4L350.4 474.8L351.7 476.4L350.4 478ZM359.5 476.4L358.6 475.5L357.2 473.8L358.6 472.1L361.4 473.8L361.4 473.8L363.2 476.4L361.4 478.1ZM374.4 476.4L375.1 475.7L375.6 476.4L375.1 476.7ZM363.4 473.8L364.1 473.5L366.5 471.3L366.9 470L367.5 471.3L367.5 473.8L366.9 474.4L364.1 475.1ZM345.5 471.3L347.6 470L349 471.3L347.6 472.2ZM359.1 471.3L358.6 470L357.9 468.7L355.9 466.8L355.4 466.1L354.5 463.6L355.9 462.3L356.2 463.6L358.6 465.4L361.4 464.9L364.1 464.2L366.2 466.1L364.1 467.1L362.7 468.7L362.5 471.3L361.4 472.9ZM363.2 471.3L363.6 468.7L364.1 468.1L365.5 468.7L365.5 471.3L364.1 472.5ZM371.7 471.3L372.4 470.6L372.8 471.3L372.4 472.5ZM349.7 468.7L349 466.1L347.6 464.9L346.9 463.6L347.6 462.9L350.4 462.8L352.4 463.6L350.8 466.1L353.1 468.3L353.8 468.7L353.1 469.1L350.4 469.3ZM352.2 466.1L353.1 464.9L354 466.1L353.1 467ZM367.3 466.1L369.6 464L371 466.1L369.6 468.3ZM360.3 461L361.4 459.1L362.7 461L361.4 462.9ZM369.1 461L369.6 460.6L369.9 461L369.6 462.3ZM358.3 458.5L358.6 457.2L360 458.5L358.6 458.9ZM353.1 491.7L354.5 489.2L353.1 486.6L352.2 489.2ZM347.6 487.9L350.4 486.6L350.4 486.6L352.2 484L350.4 481.5L350.4 481.5L347.6 480.6L344.9 481.5L344.9 484L346.2 486.6ZM346.9 484L347.6 482.8L350.4 483.4L350.8 484L350.4 484.7L347.6 485.3ZM391.6 487.9L392.5 486.6L391.6 485.3L390.2 486.6ZM388.9 485.3L390.2 484L388.9 483.2L387.5 484ZM336.6 482.8L338 481.5L336.6 480.2L335.2 481.5ZM391.6 483.2L394.4 481.5L391.6 480.2L390.2 481.5ZM391.3 481.5L391.6 481.2L392.3 481.5L391.6 481.9ZM333.9 480.2L335.2 478.9L333.9 477.6L332.9 478.9ZM344.9 481.5L345.8 478.9L344.9 477.6L343.9 478.9ZM386.1 479.8L387 478.9L387.5 476.4L387 473.8L386.1 473L383.4 473.8L384.7 476.4L384.7 478.9ZM385.8 476.4L386.1 475.1L386.4 476.4L386.1 477.6ZM380.6 477.2L381.5 476.4L380.6 475.5L379.2 476.4ZM331.1 472.5L332 471.3L331.1 470L330.2 471.3ZM339.4 472.5L342.1 471.3L339.4 470L338 471.3ZM380.6 472.1L382 471.3L380.6 468.7L377.9 471.3ZM377.9 467L379.2 466.1L377.9 464.9L376.9 466.1ZM342.1 466.1L344.9 463.6L342.1 462.3L341.6 461L342.1 459.7L344.9 459.7L347.6 461L349 458.5L347.6 457.2L347.1 455.9L344.9 453.4L342.6 455.9L342.1 457.2L339.4 458.5L339.4 458.5L336.6 461L339.4 463.6L339.4 463.6ZM337.6 461L339.4 459.4L340.7 461L339.4 462.6ZM343.2 455.9L344.9 454.1L346.5 455.9L344.9 458.1ZM320.1 461.9L321.5 461L320.1 459.7L318.7 461ZM333.9 463.6L336.6 461L336.6 458.5L333.9 457.2L331.1 458.5L332.5 461ZM333.5 461L333.9 459.7L334.5 461L333.9 461.7ZM353.1 461L354 458.5L355.9 455.9L355.9 453.4L353.1 451.8L350.4 451.4L347.6 453.4L349 455.9L350.4 457.2L351.7 458.5ZM349 453.4L350.4 452.4L353.1 452.6L354.5 453.4L353.1 455.3L350.4 455.3ZM328.4 457.2L331.1 455.9L331.1 455.9L333.9 455.1L335.7 453.4L333.9 450.8L331.1 451.4L329.7 450.8L328.4 449.1L327.4 448.2L328.4 447L331.1 445.7L328.4 444.8L327 443.1L325.6 441.4L324.2 443.1L324.2 445.7L323.8 448.2L324.2 450.8L325.6 452.1L327 453.4L325.6 455.9ZM327.7 455.9L328.4 454.6L328.6 453.4L328.4 452.1L327 450.8L328.4 450.4L328.7 450.8L331.1 451.9L333.9 452.7L334.3 453.4L333.9 453.8L331.1 455.3L329 455.9L328.4 456.2ZM325.1 448.2L325.3 445.7L325.3 443.1L325.6 442.7L325.9 443.1L327 445.7L326.1 448.2L325.6 449.5ZM366.9 458.5L367.8 455.9L366.9 455.1L364.1 455.9ZM377.9 457.2L378.8 455.9L377.9 455.1L376.5 455.9ZM339.4 455.9L342.1 453.4L339.4 452.5L338 453.4ZM342.1 453.4L344.9 453.4L347.6 450.8L344.9 448.2L342.1 448.2L341.2 450.8ZM343.5 450.8L344.9 450.2L345.5 450.8L344.9 451.4ZM358.6 452.8L361.4 450.8L361.4 448.2L358.6 445.7L358.6 445.7L355.9 443.1L354.9 445.7L355.9 447L357.2 448.2L356.4 450.8ZM357.2 450.8L358.6 448.7L360.3 450.8L358.6 452.1ZM317.4 449.5L318.7 448.2L317.4 447.4L316 448.2ZM353.1 449.1L354.5 448.2L353.1 447.4L351.7 448.2ZM386.1 449.1L387 448.2L386.1 447L385.2 448.2ZM333.9 448.2L335.2 445.7L333.9 444.4L331.1 445.7ZM339.4 447L342.1 448.2L344.9 448.2L347.6 445.7L344.9 444.4L343.9 443.1L342.1 440.6L340.7 443.1L339.4 444.8L338 445.7ZM341.8 443.1L342.1 442.5L342.6 443.1L342.1 444.4ZM350.4 447.4L351.7 445.7L351.7 443.1L350.4 442.3L347.6 443.1L347.6 445.7ZM349.7 445.7L350.4 444.4L350.7 445.7L350.4 446.1ZM314.6 441.8L316.4 440.6L315.5 438L314.6 435.4L314.6 435.4L311.9 433.5L310.5 432.9L311.9 431.6L314.6 432.9L317.4 430.3L317.4 430.3L317.4 430.3L320.1 432.9L320.1 432.9L322.9 433.7L324.2 432.9L325.6 432.3L326.5 432.9L328.4 435.4L328.4 435.4L331.1 438L333.9 438L333.9 438L333.9 438L331.1 440.6L333.9 441.8L336.6 443.1L337.5 440.6L338.6 438L338.4 435.4L336.6 433.7L333.9 432.9L331.1 432.9L331.1 432.9L331.1 432.9L332.5 430.3L331.1 429.5L329.3 427.8L328.4 425.2L325.6 427.8L325.6 427.8L323.5 430.3L322.9 431.6L321.5 430.3L322.9 427.8L320.1 425.2L317.4 425.2L316 427.8L314.6 429.1L313.7 427.8L311.9 425.2L310.5 427.8L309.1 430.3L309.1 430.3L307.7 432.9L309.1 434.2L309.8 435.4L311.9 437L313.7 438L312.8 440.6ZM314.1 440.6L314.6 439.3L315.1 440.6L314.6 440.9ZM334.7 438L335.2 435.4L336.6 435L337.1 435.4L338 438L336.6 440.2ZM310.8 435.4L311.9 434.5L313.2 435.4L311.9 436.2ZM327.9 432.9L325.6 431.3L324.6 430.3L325.6 429.1L328.4 429.1L329.7 430.3L329 432.9L328.4 433.5ZM311.5 427.8L311.9 427.1L312.3 427.8L311.9 429.1ZM318.7 427.8L320.1 427.1L320.8 427.8L320.1 429.1ZM322.9 441.4L324.2 440.6L325.6 438L322.9 437.2L320.1 438L321.5 440.6ZM328.4 441.4L331.1 440.6L328.4 439.3L327 440.6ZM358.6 442.3L360 440.6L358.6 438.9L357.2 438L355.9 436.7L354.9 438L355.9 439.3L356.8 440.6ZM358.1 440.6L358.6 440.1L358.9 440.6L358.6 441ZM364.1 441.8L366.9 440.6L365 438L364.1 437.2L362.7 438L363.2 440.6ZM344.9 440.6L347.6 440.6L350 438L350.4 437.2L353.1 435.4L353.1 435.4L354 432.9L353.1 432L352.2 432.9L350.4 434.2L347.6 435.4L347.6 435.4L347.6 435.4L344.9 432.9L342.1 432.9L340 435.4L342.1 438L342.1 438ZM343.5 438L342.1 436.7L341.1 435.4L342.1 434.2L344.9 434.2L346.2 435.4L347.6 436.1L349.7 435.4L350.4 435.1L351 435.4L350.4 435.9L349.4 438L347.6 439.9L344.9 439.3ZM358.6 436.7L359.5 435.4L358.6 434.2L357.2 435.4ZM336.6 431.6L337.5 430.3L336.6 429.5L335.2 430.3ZM347.6 432.4L349.8 430.3L347.6 428.3L344.9 430.3ZM345.9 430.3L347.6 429.1L349 430.3L347.6 431.6ZM300.9 430.3L301.8 427.8L300.9 426.9L299.5 427.8ZM339.4 429.3L342.1 427.8L341 425.2L342.1 422.7L339.4 421.8L336.6 421.4L333.9 421.8L331.1 422.7L331.1 422.7L331.1 422.7L331.1 422.7L332 420.1L331.1 419.2L329.3 417.5L328.4 416.7L325.6 417.5L325.6 420.1L325.6 420.1L323.8 422.7L325.6 425.2L328.4 425.2L328.4 425.2L331.1 426.1L332.5 425.2L333.9 423.9L334.4 425.2L336.6 426.9L337.7 427.8ZM338.5 427.8L336.6 426.3L335.2 425.2L335.2 422.7L336.6 422.3L338 422.7L339.4 423.3L340.2 425.2L340.7 427.8L339.4 428.5ZM325.1 422.7L325.6 422L327 422.7L325.6 423.3ZM327.7 420.1L328.4 418.8L329.7 420.1L328.4 421.4ZM298.1 423.5L299 422.7L298.1 421.8L297.2 422.7ZM303.6 425.2L306.4 422.7L305.2 420.1L303.6 418.6L300.9 418.8L299.5 420.1L300.9 421.4L302.7 422.7ZM300.5 420.1L300.9 419.8L303.6 419.3L304.4 420.1L303.6 422L300.9 420.4ZM309.1 422.7L311.9 421L313.2 420.1L311.9 417.5L311.9 417.5L311.9 417.5L313.2 415L311.9 414.1L310 412.4L309.1 411.2L307.7 412.4L306.4 415L307.3 417.5L307.7 420.1ZM308.8 420.1L308.6 417.5L309.1 416.3L309.8 417.5L310.5 420.1L309.1 420.7ZM342.1 422.7L343.5 420.1L342.1 418.8L341.2 420.1ZM320.1 420.1L321.9 417.5L321.5 415L320.1 414.1L318.7 415L318.3 417.5ZM319.6 417.5L320.1 416.3L320.6 417.5L320.1 418.2ZM295.4 417.5L298.1 417.5L300.9 416.3L302.2 415L300.9 413.3L298.1 413.7L295.4 413.7L294 412.4L292.6 411.2L291.2 412.4L292.6 415L292.6 415ZM299.5 415L300.9 414.6L301.2 415L300.9 415.3ZM325.6 417.5L326.5 415L327 412.4L325.6 411.6L324.2 412.4L324.2 415ZM281.6 413.3L284.4 412.4L281.6 411.6L280.7 412.4ZM317.4 413.7L318.3 412.4L317.4 409.9L314.6 412.4ZM284.4 412.4L285.7 409.9L284.4 408.6L283.4 409.9ZM298.1 411.2L299 409.9L298.1 409L297.2 409.9ZM314.6 409.9L316 407.3L314.6 406L313.7 407.3ZM278.9 406.5L280.2 404.8L278.9 403.1L277.5 404.8ZM278.5 404.8L278.9 404.3L279.2 404.8L278.9 405.2ZM289.9 407.3L292.6 404.8L289.9 403.1L288 404.8ZM289.4 404.8L289.9 404.3L290.5 404.8L289.9 405.4ZM295.4 407.3L298.1 405.6L300.9 407.3L302.7 404.8L303.6 403.5L305 402.2L303.6 401.3L302.5 399.6L300.9 397.7L298.8 399.6L298.1 400.9L296.7 402.2L295.4 403.5L292.6 404.8ZM299.5 404.8L300.9 404.3L301.3 404.8L300.9 405.4ZM299.5 402.2L300.9 401.6L302.2 402.2L300.9 403.1ZM299.8 399.6L300.9 398.7L301.7 399.6L300.9 400.6ZM309.1 406L311.9 404.8L309.1 403.5L308.2 404.8ZM317.4 406L318.7 404.8L317.4 403.9L316 404.8ZM273.4 400.9L276.1 400.5L278.9 401.3L280.2 399.6L278.9 397.1L276.1 398.4L273.4 397.1L272 399.6ZM277.5 399.6L278.9 399L279.2 399.6L278.9 400.1ZM292.6 400.9L295.4 399.6L292.6 397.9L289.9 399.6ZM291.9 399.6L292.6 399.2L293.3 399.6L292.6 400ZM309.1 401.3L310.9 399.6L309.1 398.4L306.4 399.6ZM308.4 399.6L309.1 399.3L309.6 399.6L309.1 400.1ZM328.4 400.5L329.3 399.6L328.4 398.8L327.4 399.6ZM284.4 397.9L287.1 397.1L284.4 396.2L283 397.1ZM287.1 392.8L288 392L287.1 391.1L286.2 392ZM300.9 390.3L301.8 389.4L300.9 388.6L299.5 389.4Z" fill="#fddfc4" stroke="none" fill-rule="evenodd"/>
<path d="M366.9 497.1L367.2 496.8L369.6 494.6L372.4 495.5L373.7 494.3L375.1 493.6L376.5 491.7L377 489.2L377.9 487.2L378.5 486.6L377.9 486L377.2 486.6L375.1 487.4L374.1 486.6L374.6 484L372.4 481.9L369.6 481.8L368.2 484L367.3 486.6L366.9 486.8L366.4 486.6L364.1 484.5L363.8 484L361.4 482.4L359.6 484L358.6 486.2L357.9 486.6L358.6 487.2L360 489.2L361.4 491.1L364.1 491.5L364.3 491.7L364.1 492L362.2 494.3L364.1 496.1L366.2 496.8ZM363 494.3L364.1 493L365 491.7L364.1 491L361.4 489.2L361.4 486.6L361.4 486.6L360.2 484L361.4 482.9L363 484L364.1 485.7L365 486.6L366.9 487.4L368.7 486.6L368.8 484L369.6 482.8L372.4 483.2L373.3 484L373 486.6L375.1 488.1L376.2 489.2L375.1 491.7L375.1 491.7L372.4 494L369.6 493.4L368.7 494.3L366.9 496L364.1 495.3ZM369.6 490L370.1 489.2L369.6 487.9L369.1 489.2ZM347.6 485.3L350.4 484.7L350.8 484L350.4 483.4L347.6 482.8L346.9 484ZM380.6 485.6L382.3 484L380.6 482.4L378.9 484ZM379.9 484L380.6 483.4L381.3 484L380.6 484.7ZM391.6 481.9L392.3 481.5L391.6 481.2L391.3 481.5ZM355.9 480.2L358.6 480.2L360.7 478.9L358.6 477L357.9 476.4L356.2 473.8L355.9 473.2L355.2 473.8L354.8 476.4L353.8 478.9ZM364.1 479.4L366.9 479.4L367.5 478.9L366.9 478.3L364.1 477.6L362.7 478.9ZM377.9 479.6L378.2 478.9L377.9 478.5L377.5 478.9ZM350.4 478L351.7 476.4L350.4 474.8L349 476.4ZM349.8 476.4L350.4 475.7L350.9 476.4L350.4 477ZM375.1 476.7L375.6 476.4L375.1 475.7L374.4 476.4ZM386.1 477.6L386.4 476.4L386.1 475.1L385.8 476.4ZM364.1 475.1L366.9 474.4L367.5 473.8L367.5 471.3L366.9 470L366.5 471.3L364.1 473.5L363.4 473.8ZM347.6 472.2L349 471.3L347.6 470L345.5 471.3ZM361.4 472.9L362.5 471.3L362.7 468.7L364.1 467.1L366.2 466.1L364.1 464.2L361.4 464.9L358.6 465.4L356.2 463.6L355.9 462.3L354.5 463.6L355.4 466.1L355.9 466.8L357.9 468.7L358.6 470L359.1 471.3ZM360.4 471.3L360 468.7L361.4 467.4L361.9 468.7L361.8 471.3L361.4 471.9ZM372.4 472.5L372.8 471.3L372.4 470.6L371.7 471.3ZM350.4 469.3L353.1 469.1L353.8 468.7L353.1 468.3L350.8 466.1L352.4 463.6L350.4 462.8L347.6 462.9L346.9 463.6L347.6 464.9L349 466.1L349.7 468.7ZM369.6 468.3L371 466.1L369.6 464L367.3 466.1ZM368.7 466.1L369.6 465.3L370.2 466.1L369.6 467ZM333.9 461.7L334.5 461L333.9 459.7L333.5 461ZM339.4 462.6L340.7 461L339.4 459.4L337.6 461ZM338.7 461L339.4 460.4L339.9 461L339.4 461.7ZM361.4 462.9L362.7 461L361.4 459.1L360.3 461ZM369.6 462.3L369.9 461L369.6 460.6L369.1 461ZM358.6 458.9L360 458.5L358.6 457.2L358.3 458.5ZM328.4 456.2L329 455.9L331.1 455.3L333.9 453.8L334.3 453.4L333.9 452.7L331.1 451.9L328.7 450.8L328.4 450.4L327 450.8L328.4 452.1L328.6 453.4L328.4 454.6L327.7 455.9ZM329.5 453.4L331.1 452.4L333.2 453.4L331.1 454.6ZM344.9 458.1L346.5 455.9L344.9 454.1L343.2 455.9ZM343.9 455.9L344.9 454.9L345.8 455.9L344.9 457.2ZM350.4 455.3L353.1 455.3L354.5 453.4L353.1 452.6L350.4 452.4L349 453.4ZM344.9 451.4L345.5 450.8L344.9 450.2L343.5 450.8ZM358.6 452.1L360.3 450.8L358.6 448.7L357.2 450.8ZM358.1 450.8L358.6 449.9L359.3 450.8L358.6 451.3ZM325.6 449.5L326.1 448.2L327 445.7L325.9 443.1L325.6 442.7L325.3 443.1L325.3 445.7L325.1 448.2ZM350.4 446.1L350.7 445.7L350.4 444.4L349.7 445.7ZM342.1 444.4L342.6 443.1L342.1 442.5L341.8 443.1ZM314.6 440.9L315.1 440.6L314.6 439.3L314.1 440.6ZM358.6 441L358.9 440.6L358.6 440.1L358.1 440.6ZM336.6 440.2L338 438L337.1 435.4L336.6 435L335.2 435.4L334.7 438ZM335.5 438L336.6 436.3L337.4 438L336.6 439.3ZM344.9 439.3L347.6 439.9L349.4 438L350.4 435.9L351 435.4L350.4 435.1L349.7 435.4L347.6 436.1L346.2 435.4L344.9 434.2L342.1 434.2L341.1 435.4L342.1 436.7L343.5 438ZM344.9 438L347.6 436.7L348.8 438L347.6 439.3ZM311.9 436.2L313.2 435.4L311.9 434.5L310.8 435.4ZM328.4 433.5L329 432.9L329.7 430.3L328.4 429.1L325.6 429.1L324.6 430.3L325.6 431.3L327.9 432.9ZM347.6 431.6L349 430.3L347.6 429.1L345.9 430.3ZM346.9 430.3L347.6 429.8L348.2 430.3L347.6 430.8ZM311.9 429.1L312.3 427.8L311.9 427.1L311.5 427.8ZM320.1 429.1L320.8 427.8L320.1 427.1L318.7 427.8ZM339.4 428.5L340.7 427.8L340.2 425.2L339.4 423.3L338 422.7L336.6 422.3L335.2 422.7L335.2 425.2L336.6 426.3L338.5 427.8ZM336.1 425.2L336.6 423.9L339.4 425.2L336.6 425.6ZM325.6 423.3L327 422.7L325.6 422L325.1 422.7ZM300.9 420.4L303.6 422L304.4 420.1L303.6 419.3L300.9 419.8L300.5 420.1ZM309.1 420.7L310.5 420.1L309.8 417.5L309.1 416.3L308.6 417.5L308.8 420.1ZM328.4 421.4L329.7 420.1L328.4 418.8L327.7 420.1ZM320.1 418.2L320.6 417.5L320.1 416.3L319.6 417.5ZM300.9 415.3L301.2 415L300.9 414.6L299.5 415ZM278.9 405.2L279.2 404.8L278.9 404.3L278.5 404.8ZM289.9 405.4L290.5 404.8L289.9 404.3L289.4 404.8ZM300.9 405.4L301.3 404.8L300.9 404.3L299.5 404.8ZM278.9 400.1L279.2 399.6L278.9 399L277.5 399.6ZM292.6 400L293.3 399.6L292.6 399.2L291.9 399.6ZM300.9 400.6L301.7 399.6L300.9 398.7L299.8 399.6ZM309.1 400.1L309.6 399.6L309.1 399.3L308.4 399.6Z" fill="#fcc89b" stroke="none" fill-rule="evenodd"/>
<path d="M364.1 495.3L366.9 496L368.7 494.3L369.6 493.4L372.4 494L375.1 491.7L375.1 491.7L376.2 489.2L375.1 488.1L373 486.6L373.3 484L372.4 483.2L369.6 482.8L368.8 484L368.7 486.6L366.9 487.4L365 486.6L364.1 485.7L363 484L361.4 482.9L360.2 484L361.4 486.6L361.4 486.6L361.4 489.2L364.1 491L365 491.7L364.1 493L363 494.3ZM363.8 494.3L364.1 494L365.7 491.7L364.1 490.4L362.2 489.2L364.1 486.9L366.9 488.1L368.2 489.2L369.6 491.3L370.7 489.2L372.4 486.9L375.1 488.9L375.4 489.2L375.1 489.8L374.6 491.7L372.4 493.6L369.6 492.1L367.3 494.3L366.9 494.7L364.1 494.5ZM369.1 489.2L369.6 487.9L370.1 489.2L369.6 490ZM360.8 484L361.4 483.5L362.2 484L361.4 485.3ZM369.4 484L369.6 483.7L371 484L369.6 485.3ZM380.6 484.7L381.3 484L380.6 483.4L379.9 484ZM350.4 477L350.9 476.4L350.4 475.7L349.8 476.4ZM361.4 471.9L361.8 471.3L361.9 468.7L361.4 467.4L360 468.7L360.4 471.3ZM369.6 467L370.2 466.1L369.6 465.3L368.7 466.1ZM339.4 461.7L339.9 461L339.4 460.4L338.7 461ZM344.9 457.2L345.8 455.9L344.9 454.9L343.9 455.9ZM344.6 455.9L344.9 455.7L345.1 455.9L344.9 456.2ZM331.1 454.6L333.2 453.4L331.1 452.4L329.5 453.4ZM330.3 453.4L331.1 452.9L332.1 453.4L331.1 454ZM358.6 451.3L359.3 450.8L358.6 449.9L358.1 450.8ZM336.6 439.3L337.4 438L336.6 436.3L335.5 438ZM336.3 438L336.6 437.6L336.8 438L336.6 438.3ZM347.6 439.3L348.8 438L347.6 436.7L344.9 438ZM346.2 438L347.6 437.4L348.2 438L347.6 438.6ZM347.6 430.8L348.2 430.3L347.6 429.8L346.9 430.3ZM336.6 425.6L339.4 425.2L336.6 423.9L336.1 425.2Z" fill="#f7a162" stroke="none" fill-rule="evenodd"/>
<path d="M364.1 494.5L366.9 494.7L367.3 494.3L369.6 492.1L372.4 493.6L374.6 491.7L375.1 489.8L375.4 489.2L375.1 488.9L372.4 486.9L370.7 489.2L369.6 491.3L368.2 489.2L366.9 488.1L364.1 486.9L362.2 489.2L364.1 490.4L365.7 491.7L364.1 494L363.8 494.3ZM366.4 491.7L364.1 489.9L363 489.2L364.1 487.9L366.9 488.7L367.4 489.2L368.2 491.7L366.9 493ZM370.1 491.7L371.4 489.2L372.4 487.9L374.2 489.2L374.1 491.7L372.4 493.1ZM361.4 485.3L362.2 484L361.4 483.5L360.8 484ZM369.6 485.3L371 484L369.6 483.7L369.4 484ZM344.9 456.2L345.1 455.9L344.9 455.7L344.6 455.9ZM331.1 454L332.1 453.4L331.1 452.9L330.3 453.4ZM336.6 438.3L336.8 438L336.6 437.6L336.3 438ZM347.6 438.6L348.2 438L347.6 437.4L346.2 438Z" fill="#eb7932" stroke="none" fill-rule="evenodd"/>
<path d="M366.9 493L368.2 491.7L367.4 489.2L366.9 488.7L364.1 487.9L363 489.2L364.1 489.9L366.4 491.7ZM372.4 493.1L374.1 491.7L374.2 489.2L372.4 487.9L371.4 489.2L370.1 491.7Z" fill="#d25014" stroke="none" fill-rule="evenodd"/>
<path d="M270.6 475.1L272 473.8L272 471.3L270.6 470M270.6 421.4L272 420.1L270.6 418.8M270.6 411.8L272 412.4L273.4 413.7L274.7 412.4L275.4 409.9L276.1 409.2L276.8 409.9L278.9 411.8L279.3 412.4L278.9 413.7L277.5 415L278.9 416.3L280.2 415L281.6 414.6L284.4 414.3L287.1 413.7L288.5 415L289.9 416.3L292.6 416.9L293.3 417.5L294 420.1L295.4 421.4L295.8 422.7L298.1 424.8L300.4 422.7L300.9 422.3L301.3 422.7L301.5 425.2L300.9 425.6L298.1 426.5L295.4 426.5L294.7 425.2L294 422.7L292.6 421.4L291.2 420.1L289.9 418.8L287.1 418.8L284.4 418.8L283 417.5L281.6 416.3L280.2 417.5L280.2 420.1L279.5 422.7L281.6 424.6L283 425.2L284.4 426.5L285.7 425.2L284.4 423.9L283.7 422.7L284.4 421.4L287.1 421.4L288.5 422.7L288.5 425.2L289.9 426.5L292.6 427.1L294 427.8L295.4 429.1L298.1 429.1L298.8 430.3L298.8 432.9L298.1 434.2L296.7 435.4L298.1 436.7L299.5 435.4L300.9 434.8L302.9 432.9L303.6 431.6L305 432.9L305 435.4L306.4 436.7L309.1 436.7L311.9 437.7L312.3 438L311.9 439.3L309.1 439.3L306.4 439.3L303.6 439.3L302.2 440.6L300.9 441.8L299.5 443.1L300.9 444.4L303.6 444.4L305 443.1L306.4 441.8L307.7 443.1L309.1 444.4L311.9 444.4L313.2 443.1L314.6 442.8L317.4 441.8L318.7 443.1L320.1 444.4L321.5 443.1L322.9 442.7L323.2 443.1L323.2 445.7L322.9 447L320.1 447L317.4 446.1L316 445.7L314.6 444.4L313.2 445.7L313.2 448.2L313.2 450.8L314.6 452.1L316 453.4L317.4 454.6L318.7 453.4L320.1 452.7L322.9 452.1L324.2 453.4L322.9 454L320.8 455.9L320.1 457.2L318.7 458.5L317.4 459.7L316 458.5L314.6 457.2L313.2 458.5L313.2 461L314.6 462.3L315.3 463.6L317.4 465.5L318.7 466.1L320.1 467.4L321.5 468.7L322.9 470L325.6 470L328.4 470L328.8 471.3L329.7 473.8L331.1 475.1L332.5 473.8L333.4 471.3L332.5 468.7L331.1 467.4L328.4 467.4L325.6 467.4L324.2 466.1L322.9 464.9L320.1 464.9L319.4 463.6L320.1 463.2L322.9 462.3L324.2 463.6L325.6 464.9L327 463.6L327 461L325.6 459.7L322.9 459.7L321.5 458.5L322.9 457.8L325.6 457.8L328.4 458.1L329 458.5L331.1 460.4L331.4 461L331.1 462.3L329.7 463.6L331.1 464.9L333.9 465.5L334.5 466.1L334.5 468.7L335.2 471.3L334.5 473.8L333.9 475.1L332.5 476.4L331.6 478.9L331.1 480.2L329.7 481.5L331.1 482.8L332.5 484L333.9 485.3L336.6 485.3L338 484L339.4 482.8L340.7 484L342.1 485.3L343.5 486.6L344.9 487.9L346.2 489.2L344.9 489.8L343.5 489.2L342.1 487.9L339.4 487.9L338 489.2L339.4 490.4L342.1 490.4L342.8 491.7L342.1 493L340.7 494.3L342.1 495.5L343.5 494.3L344.9 493.6L346.9 491.7L347.6 490.4L349 489.2L350.4 488.5L350.8 489.2L351 491.7L353.1 493.6L355.9 493.6L356.5 494.3L357.2 496.8L358.6 498.1L360 496.8L361.4 496.2L362 496.8L364.1 498.7L366.9 499.1L369.3 496.8L369.6 496.5L370.1 496.8L371 499.4L372.4 500.7L373.7 501.9L375.1 503.2L376.5 501.9L376.5 499.4L377.4 496.8L377.9 495.5L378.5 496.8L380.6 498.7L381.3 499.4L382 501.9L383.4 503.2L384.7 501.9L385.4 499.4L384.7 496.8L383.4 495.5L382 494.3L382 491.7L383.4 490.4L384.7 491.7L386.1 493L387.5 494.3L388.9 495.5L390.2 494.3L391.6 493.6L392.3 494.3L393 496.8L394.4 498.1L395.7 496.8L396.4 494.3L397.1 493L398.5 491.7L397.1 490.4L395.7 491.7L394.4 492.4L393.7 491.7L393 489.2L393.9 486.6L393 484L394.4 483.4L395.7 484L397.1 485.3L398.5 484L398.5 481.5L397.1 480.2L394.4 479.6L391.6 479.2L389.2 481.5L388.9 481.9L386.1 482.8L383.4 482.1L382.7 481.5L383.4 480.2L386.1 481.1L388.4 478.9L388.5 476.4L388.4 473.8L388.9 472.5L389.5 473.8L391.6 475.7L394.4 475.1L395.7 473.8L394.4 472.5L393 471.3L391.6 470L388.9 470L387.5 471.3L386.1 471.7L384.7 471.3L383.4 470L382.7 468.7L383.4 468.1L385.4 466.1L386.1 464.9L387.5 466.1L388.9 467.4L390.2 466.1L390.2 463.6L390.2 461L388.9 459.7L386.1 459.7L384.7 461L384.7 463.6L383.4 464.2L380.6 464.9L379.2 463.6L379.2 461L380.6 459.7L383.4 459.7L384.7 458.5L383.4 457.2L380.6 457.2L380.1 455.9L377.9 453.8L376.5 453.4L375.1 452.1L373.7 453.4L372.4 454L370.3 455.9L369.6 457.2L369.1 455.9L366.9 453.8L365.5 453.4L364.1 452.1L363.4 450.8L364.1 449.5L365.5 448.2L366.9 447L368.2 445.7L366.9 444.4L365.5 443.1L366.9 442.5L369.6 441.8L371 440.6L369.6 439.3L366.9 438.6L366.4 438L366.9 436.7L368.2 435.4L366.9 434.2L365.5 435.4L364.1 435.9L361.4 436.7L360.9 435.4L361.4 434.2L364.1 434.2L365.5 432.9L364.1 431.6L361.4 431.6L360 430.3L360 427.8L358.6 426.5L355.9 426.5L354.5 425.2L353.1 423.9L351.7 425.2L351.7 427.8L353.1 429.1L354.5 430.3L353.1 430.8L351.7 430.3L350.4 429.1L349 427.8L347.6 426.5L344.9 426.5L342.1 425.9L341.8 425.2L342.1 424.6L344.9 423.9L346.2 422.7L347.6 421.4L350.4 422L353.1 421.4L355.9 421.4L357.2 420.1L355.9 418.8L353.1 418.8L350.4 418.2L347.6 418.8L346.2 417.5L347.6 416.9L349.7 415L347.6 413.1L344.9 413.7L343.5 415L342.1 416.3L339.4 415.6L336.6 415.6L334.5 417.5L336.6 419.5L339.4 419.5L339.8 420.1L339.4 420.5L336.6 420.4L333.9 420.5L333.4 420.1L331.1 418L330.6 417.5L331.1 416.3L332.5 415L333.9 413.7L336.6 414.3L338.7 412.4L339.4 411.2L340.7 409.9L339.4 408.6L338 409.9L336.6 410.5L333.9 411.2L331.1 411.2L330.4 409.9L331.1 409.2L333.2 407.3L333.9 406L336.6 406L338 404.8L336.6 403.5L333.9 403.5L332.5 402.2L331.1 400.9L330.6 399.6L328.4 397.5L326.1 399.6L325.6 400.3L322.9 400.9L321.5 399.6L320.1 398.4L319.4 397.1L317.4 395.2L315.3 397.1L314.6 398.4L313.9 397.1L313.2 394.5L313.2 392L313.2 389.4L311.9 388.1L310.5 389.4L309.1 390.7L306.4 390.7L305 392L304.3 394.5L303.6 395.2L302.9 394.5L300.9 392.6L299.5 392L300.9 391.5L303.1 389.4L303.6 388.8L305.7 386.9L303.6 384.9L302.2 384.3L300.9 383L299.5 384.3L300.9 385.6L301.5 386.9L300.9 387.3L299.5 386.9L298.1 385.6L296.7 386.9L295.4 388.1L292.6 387.5L291.2 386.9L289.9 385.6L288.5 386.9L288.5 389.4L287.1 389.8L284.8 392L287.1 394.1L289.4 392L289.9 390.7L291.2 392L291.2 394.5L289.9 395.8L287.1 395.2L284.4 395L283.7 394.5L283.7 392L281.6 390.1L280.2 389.4L278.9 388.1L277.5 389.4L278.9 390.7L279.5 392L278.9 393.2L277.5 394.5L276.1 395.8L274.7 394.5L273.4 393.2L272 394.5L270.6 395.8M270.6 403.5L273.4 403.5L274.7 402.2L276.1 401.8L277.5 402.2L276.4 404.8L276.1 405.4L273.4 406L270.6 406M270.6 391.3L272.7 389.4L270.6 387.5M344.9 503.2L346.2 501.9L344.9 500.7L343.5 501.9ZM358.6 503.2L360 501.9L358.6 500.7L357.2 501.9ZM391.6 503.2L393 501.9L391.6 500.7L390.2 501.9ZM405.4 503.2L406.7 501.9L408.1 501.3L410.2 499.4L408.1 497.5L406 499.4L405.4 500.7L404 501.9ZM287.1 500.7L288.5 499.4L287.1 498.1L285.7 499.4ZM292.6 500.7L294 499.4L292.6 498.1L291.2 499.4ZM309.1 500.7L310.5 499.4L309.1 498.1L307.7 499.4ZM322.9 500.7L324.2 499.4L322.9 498.1L321.5 499.4ZM328.4 500.7L329.7 499.4L328.4 498.1L327 499.4ZM339.4 500.7L340.7 499.4L340.7 496.8L339.4 495.5L338.7 494.3L336.6 492.4L335.2 491.7L333.9 490.4L332.5 491.7L333.9 493L334.5 494.3L336.6 496.2L338 496.8L338 499.4ZM350.4 500.7L353.1 500.7L354.5 499.4L354.5 496.8L353.1 495.5L350.4 495.5L349 496.8L349 499.4ZM413.6 500.7L415 499.4L413.6 498.1L412.2 499.4ZM273.4 498.1L274.7 496.8L273.4 495.5L272 496.8ZM298.1 498.1L299.5 496.8L298.1 495.5L296.7 496.8ZM306.4 498.1L307.7 496.8L306.4 495.5L305 496.8ZM325.6 498.1L327 496.8L325.6 495.5L324.2 496.8ZM289.9 495.5L292.6 495.5L294 494.3L292.6 493L289.9 493L288.5 494.3ZM300.9 495.5L302.2 494.3L300.9 493L299.5 494.3ZM309.1 495.5L310.5 494.3L309.1 493L307.7 494.3ZM399.9 495.5L401.2 494.3L399.9 493L398.5 494.3ZM405.4 495.5L408.1 495.5L409.5 494.3L408.1 493L405.4 493L404 494.3ZM278.9 493L280.2 491.7L278.9 490.4L277.5 491.7ZM281.6 490.4L283 489.2L281.6 487.9L280.2 489.2ZM303.6 490.4L306.4 490.4L307.7 489.2L306.4 487.9L303.6 487.9L302.2 489.2ZM325.6 491.1L328.4 490.4L331.1 490.4L332.5 489.2L332.5 486.6L331.1 485.3L329.7 486.6L328.4 487.9L325.6 487.2L323.5 489.2ZM388.9 489.8L388.2 489.2L388.9 487.9L390.2 489.2ZM278.9 487.9L280.2 486.6L280.2 484L278.9 482.8L277.5 484L277.5 486.6ZM298.1 487.9L299.5 486.6L298.1 485.3L296.7 486.6ZM311.9 487.9L313.2 486.6L311.9 485.3L310.5 486.6ZM399.9 487.9L401.2 486.6L402.6 486L404.7 484L402.6 482.1L400.5 484L399.9 485.3L398.5 486.6ZM284.4 485.3L285.7 484L284.4 482.8L283 484ZM325.6 485.3L327 484L327 481.5L327.7 478.9L327.7 476.4L325.6 474.4L324.9 473.8L322.9 471.9L320.8 473.8L322.9 475.7L323.5 476.4L323.5 478.9L324.2 481.5L324.2 484ZM366.9 484.5L366.4 484L366.9 482.8L367 484ZM306.4 482.8L307.7 481.5L306.4 480.2L305 481.5ZM408.1 482.8L409.5 481.5L408.1 480.2L406.7 481.5ZM289.9 480.2L291.2 478.9L291.2 476.4L289.9 475.1L288.5 476.4L288.5 478.9ZM303.6 480.2L305 478.9L303.6 477.6L302.2 478.9ZM317.4 480.2L318.7 478.9L317.4 477.6L316 478.9ZM339.4 480.2L338 478.9L338 476.4L339.4 475.1L340.7 473.8L342.1 473.2L343.5 473.8L342.1 475.1L340.7 476.4L342.1 477.6L342.6 478.9L342.1 479.6ZM347.6 479.4L347.1 478.9L347.6 477.6L348.3 478.9L347.6 479.4M375.1 479.4L373.7 478.9L375.1 478.6L375.4 478.9L375.1 479.4M380.6 479.6L380.3 478.9L380.6 478.5L382 478.9ZM399.9 480.2L401.2 478.9L399.9 477.6L398.5 478.9ZM284.4 477.6L285.7 476.4L284.4 475.1L283 476.4ZM311.9 477.6L313.2 476.4L311.9 475.1L310.5 476.4ZM361.4 476.8L360.9 476.4L361.4 475.7L361.8 476.4ZM383.4 477.6L382.9 476.4L383.4 475.7L383.7 476.4ZM402.6 477.6L404 476.4L402.6 475.1L401.2 476.4ZM413.6 477.6L415 476.4L413.6 475.1L412.2 476.4ZM298.1 475.1L299.5 473.8L298.1 472.5L297.4 471.3L295.4 469.3L292.6 470L291.2 471.3L292.6 472.5L295.4 473.2L296.7 473.8ZM303.6 475.1L305 473.8L303.6 472.5L302.2 473.8ZM358.6 474.2L358.3 473.8L358.6 473.4L359.3 473.8ZM380.6 474.2L379.9 473.8L380.6 473.4L381.3 473.8ZM314.6 472.5L316 471.3L314.6 470L313.2 471.3ZM364.1 471.6L363.9 471.3L364.1 470L364.4 471.3ZM278.9 470L280.2 468.7L281.6 468.1L283.7 466.1L281.6 464.2L279.5 466.1L278.9 467.4L277.5 468.7ZM344.9 469.1L344.2 468.7L344.9 467.4L345.5 468.7L344.9 469.1M375.1 470L374.4 468.7L373.7 466.1L375.1 464.9L375.6 466.1L377.9 468.3L378.5 468.7L377.9 469.3ZM311.9 467.4L313.2 466.1L311.9 464.9L311.2 463.6L309.1 461.7L307 463.6L309.1 465.5L310.5 466.1ZM339.4 467.4L338.7 466.1L339.4 465.5L340 466.1ZM394.4 467.4L395.7 466.1L394.4 464.9L393 466.1ZM410.9 467.4L412.2 466.1L410.9 464.9L409.5 466.1ZM287.1 464.9L288.5 463.6L287.1 462.3L285.7 463.6ZM292.6 464.9L294 463.6L292.6 462.3L291.2 463.6ZM358.6 463.8L358.3 463.6L358.6 462.3L359.1 463.6ZM397.1 464.9L399.9 464.9L401.2 463.6L401.2 461L399.9 459.7L398.5 461L397.1 462.3L395.7 463.6ZM413.6 464.9L415 463.6L413.6 462.3L412.2 463.6ZM303.6 462.3L305 461L305 458.5L303.6 457.2L302.2 455.9L303.6 455.3L306.4 455.3L308.4 453.4L306.4 451.4L303.6 451.4L301.5 453.4L300.9 454.6L299.5 455.9L299.5 458.5L300.9 459.7L302.2 461ZM350.4 461.3L349.7 461L350.4 459.7L351 461ZM372.4 461.7L372 461L372.4 460.4L373.7 461ZM394.4 462.3L395.7 461L394.4 459.7L393 461ZM292.6 459.7L294 458.5L292.6 457.2L291.2 458.5ZM355.9 458.9L355.4 458.5L355.9 457.8L356.2 458.5ZM364.1 459.1L363.6 458.5L364.1 457.8L364.8 458.5ZM273.4 457.2L274.7 455.9L273.4 454.6L272 455.9ZM287.1 457.8L289.2 455.9L287.1 454L285 455.9ZM388.9 457.8L390.9 455.9L391.6 454.6L393 453.4L391.6 452.1L390.2 453.4L388.9 454L387.5 453.4L386.1 452.1L385.4 450.8L386.1 450.4L388.4 448.2L387.5 445.7L386.1 444.4L383.4 444.4L382 445.7L383.4 447L383.8 448.2L383.4 448.9L380.6 449.5L379.2 450.8L380.6 452.1L383.4 452.7L384.7 453.4L386.1 454.6L386.8 455.9ZM397.1 457.2L398.5 455.9L398.5 453.4L397.1 452.1L395.7 453.4L395.7 455.9ZM276.1 454.6L277.5 453.4L277.5 450.8L276.1 449.5L274.7 450.8L274.7 453.4ZM284.4 452.1L285.7 450.8L284.4 449.5L283 450.8ZM298.1 452.1L299.5 450.8L298.1 449.5L296.7 450.8ZM331.1 451L330.8 450.8L331.1 450.2L331.8 450.8ZM339.4 451.2L338.7 450.8L339.4 449.5L339.8 450.8ZM353.1 451L351.7 450.8L353.1 450.4L354.5 450.8ZM309.1 449.5L310.5 448.2L309.1 447L307.7 448.2ZM347.6 448.9L346.9 448.2L347.6 447.6L349 448.2ZM391.6 450.2L393.7 448.2L391.6 446.3L389.5 448.2ZM399.9 449.5L401.2 448.2L399.9 447L398.5 448.2ZM281.6 447L283 445.7L281.6 444.4L280.2 445.7ZM306.4 447L307.7 445.7L306.4 444.4L305 445.7ZM353.1 446.1L352.8 445.7L353.1 444.4L353.6 445.7ZM375.1 447L377.9 447L379.2 445.7L377.9 444.4L375.1 444.4L373.7 445.7ZM273.4 444.4L274.7 443.1L273.4 441.8L272 443.1ZM328.4 443.5L328 443.1L328.4 442.7L331.1 442.5L332.5 443.1L331.1 443.8L328.4 443.5M339.4 443.5L338.7 443.1L338.9 440.6L339.2 438L339.4 436.7L340 438L340 440.6L339.7 443.1L339.4 443.5M372.4 444.4L373.7 443.1L372.4 441.8L371 443.1ZM295.4 442.5L297.4 440.6L296.7 438L295.4 436.7L294 438L293.3 440.6ZM350.4 441L349.7 440.6L350.4 439.3L351.7 438L353.1 437.4L353.6 438L353.1 439.3L351.7 440.6ZM361.4 441.2L361 440.6L361.4 439.3L361.8 440.6ZM375.1 441.8L376.5 440.6L375.1 439.3L373.7 440.6ZM380.6 441.8L382 440.6L380.6 439.3L379.2 440.6ZM300.9 439.3L302.2 438L300.9 436.7L299.5 438ZM317.4 439.3L316.9 438L317.4 436.7L318 438ZM276.1 436.7L277.5 435.4L276.1 434.2L274.7 435.4ZM322.9 435.9L322.2 435.4L322.9 435L324.2 435.4ZM372.4 437.4L374.4 435.4L372.4 433.5L371 432.9L369.6 431.6L368.2 432.9L369.6 434.2L370.3 435.4ZM402.6 436.7L404 435.4L402.6 434.2L401.2 435.4ZM350.4 433.2L349 432.9L350.4 431.6L350.8 432.9ZM355.9 434.2L355.4 432.9L355.9 431.6L357.2 432.9ZM380.6 434.2L383.4 434.2L384.7 432.9L383.4 431.6L382 430.3L380.6 429.1L379.2 430.3L379.2 432.9ZM388.9 434.2L390.2 432.9L388.9 431.6L387.5 432.9ZM276.1 431.6L277.5 430.3L276.1 429.1L274.7 430.3ZM289.9 431.6L291.2 430.3L289.9 429.1L288.5 430.3ZM339.4 431.6L338.9 430.3L339.4 430.1L340.7 430.3ZM303.6 429.1L303.1 427.8L303.6 427.1L305 427.8ZM309.1 428.4L307.7 427.8L306.4 426.5L305.7 425.2L306.4 424.6L309.1 424.6L309.8 425.2L309.4 427.8ZM331.1 428.2L330.6 427.8L331.1 427.3L332.5 427.8ZM336.6 428.2L335.2 427.8L336.6 427.6L336.9 427.8ZM364.1 429.1L365.5 427.8L364.1 426.5L362.7 427.8ZM388.9 429.1L390.2 427.8L388.9 426.5L387.5 427.8ZM273.4 423.9L274.7 422.7L273.4 421.4L272 422.7ZM311.9 423.3L311.2 422.7L311.9 422.2L312.5 422.7ZM358.6 423.9L360 422.7L358.6 421.4L357.2 422.7ZM369.6 423.9L371 422.7L369.6 421.4L368.2 422.7ZM298.1 420.5L296.7 420.1L298.1 419.5L298.4 420.1L298.1 420.5M306.4 420.7L306.1 420.1L306.4 418.8L306.7 420.1ZM322.9 421.4L322.2 420.1L322.9 418.8L323.5 420.1ZM372.4 421.4L373.7 420.1L372.4 418.8L371 420.1ZM300.9 417.9L300.2 417.5L300.9 417.2L303.3 415L303.6 413.7L304.3 415L305 417.5L303.6 417.8ZM328.4 415.4L327.9 415L328.4 413.7L329.7 415ZM355.9 416.3L357.2 415L355.9 413.7L354.5 415ZM394.4 416.3L395.7 415L394.4 413.7L393 415ZM311.9 412.9L311.4 412.4L311.9 411.8L312.5 412.4ZM320.1 412.9L319.6 412.4L320.1 411.2L321.5 412.4L320.1 412.9M353.1 413.7L354.5 412.4L353.1 411.2L351.7 412.4ZM281.6 410.3L280.9 409.9L281.6 408.6L282.1 409.9ZM295.4 411.2L294 409.9L295.4 409.2L295.8 409.9ZM300.9 411.2L300.4 409.9L300.9 409.2L301.5 409.9ZM306.4 411.2L305.7 409.9L306.4 409.2L307.7 409.9ZM325.6 410.3L324.2 409.9L325.6 409.2L326.3 409.9ZM366.9 411.2L368.2 409.9L366.9 408.6L365.5 409.9ZM405.4 411.2L406.7 409.9L405.4 408.6L404 409.9ZM298.1 407.7L297.4 407.3L298.1 406.9L298.8 407.3ZM311.9 408L310.5 407.3L311.9 406.7L312.3 407.3ZM342.1 408.6L343.5 407.3L342.1 406L340.7 407.3ZM347.6 408.6L349 407.3L347.6 406L346.2 407.3ZM281.6 406L281.3 404.8L281.6 403.5L283 404.8ZM306.4 405.4L305 404.8L306.4 403.5L306.8 404.8ZM325.6 405.4L324.2 404.8L325.6 404.1L327 404.8ZM344.9 406L346.2 404.8L346.2 402.2L344.9 400.9L342.1 400.9L340.7 402.2L342.1 403.5L343.5 404.8ZM355.9 406L357.2 404.8L355.9 403.5L354.5 404.8ZM287.1 403.5L285.7 402.2L284.4 400.9L281.6 400.9L281.3 399.6L281.6 398.4L284.4 399.2L287.1 399L287.8 399.6L288.5 402.2ZM292.6 402.8L291.2 402.2L292.6 401.9L294 402.2ZM311.9 402.8L310.5 402.2L311.9 400.9L314.6 400.9L316 399.6L317.4 399L318.7 399.6L318.7 402.2L317.4 402.6L314.6 403.5ZM328.4 403.5L327.7 402.2L328.4 401.8L329.7 402.2ZM303.6 400.1L303.3 399.6L303.6 399L304.3 399.6ZM333.9 400.9L335.2 399.6L335.2 397.1L333.9 395.8L332.5 397.1L332.5 399.6ZM361.4 400.9L362.7 399.6L361.4 398.4L360 399.6ZM306.4 397.7L305.7 397.1L306.4 396.4L308.4 394.5L309.1 393.2L310.5 394.5L309.8 397.1L309.1 397.4ZM402.6 398.4L404 397.1L402.6 395.8L401.2 397.1ZM295.4 395.8L294 394.5L294 392L295.4 390.7L296.7 392L298.1 393.2L298.8 394.5L298.1 395.8ZM350.4 395.8L351.7 394.5L350.4 393.2L349 394.5ZM276.1 393.2L277.5 392L276.1 390.7L274.7 392ZM364.1 393.2L365.5 392L364.1 390.7L362.7 392ZM284.4 388.1L285.7 386.9L284.4 385.6L283 386.9ZM339.4 388.1L340.7 386.9L339.4 385.6L338 386.9ZM369.6 388.1L371 386.9L369.6 385.6L368.2 386.9ZM278.9 383L280.2 381.7L278.9 380.5L277.5 381.7ZM309.1 383L310.5 381.7L309.1 380.5L307.7 381.7ZM366.9 498.1L368.2 496.8L369.6 495.5L371.4 496.8L372.4 498.1L375.1 498.1L376 496.8L376.5 494.3L377.9 491.7L377.9 489.2L377.9 489.2L380.6 486.6L380.6 486.6L380.6 486.6L383.4 487.9L384.7 486.6L383.4 484L383.4 484L380.6 481.5L377.9 484L377.9 484L377.9 484L377.9 481.5L377.9 481.5L379.2 478.9L377.9 477.2L376.9 476.4L375.1 473.8L375.1 473.8L374.2 471.3L372.4 468.7L372.4 468.7L371.8 466.1L372.4 463.6L371 461L369.6 459.3L367.8 461L368.2 463.6L366.9 464.9L365.5 463.6L364.1 461L364.1 461L362.3 458.5L364.1 455.9L361.4 454.6L358.6 454.6L355.9 455.9L357.2 458.5L358.6 460.2L359.3 461L360.4 463.6L358.6 464.6L357.2 463.6L357.2 461L355.9 460.2L353.1 461L353.1 461L350.4 462L347.6 461L344.9 463.6L346.2 466.1L347.6 468.7L347.6 468.7L347.6 468.7L344.9 470.4L342.1 471.3L344.9 472.5L347.6 473.2L350.4 471.3L350.4 471.3L353.1 470.4L355.9 468.7L355.9 468.7L355.9 468.7L355.9 471.3L355.9 471.3L353.1 473.8L353.8 476.4L353.1 477.6L352.6 476.4L350.4 473.8L348.2 476.4L350.4 478.9L350.4 478.9L353.1 480.2L355.9 481.5L358.6 481.5L361.4 480.2L364.1 480.6L366.9 480.6L368.2 481.5L367.6 484L366.9 485.7L365 484L364.1 482.8L361.4 481.8L359 484L358.6 484.9L355.9 486.6L358.6 489.2L358.6 489.2L358.6 489.2L355.9 491.7L358.6 494.3L361.4 494.3L361.4 494.3L364.1 496.8L364.1 496.8ZM353.1 491.7L354.5 489.2L353.1 486.6L352.2 489.2ZM347.6 487.9L350.4 486.6L350.4 486.6L352.2 484L350.4 481.5L350.4 481.5L347.6 480.6L344.9 481.5L344.9 484L346.2 486.6ZM375.1 486.6L375.1 486.6L375.1 486.6L375.1 486.6ZM391.6 487.9L392.5 486.6L391.6 485.3L390.2 486.6ZM388.9 485.3L390.2 484L388.9 483.2L387.5 484ZM336.6 482.8L338 481.5L336.6 480.2L335.2 481.5ZM391.6 483.2L394.4 481.5L391.6 480.2L390.2 481.5ZM333.9 480.2L335.2 478.9L333.9 477.6L332.9 478.9ZM344.9 481.5L345.8 478.9L344.9 477.6L343.9 478.9ZM369.6 478.9L369.6 478.9L366.9 476.4L366.9 476.4L366.9 476.4L369.6 473.8L369.6 471.3L369.6 471.3L369.6 471.3L369.6 473.8L372.4 476.4L372.4 476.4L375.1 477.6L376.5 478.9L375.1 480.6L372.4 480.2ZM386.1 479.8L387 478.9L387.5 476.4L387 473.8L386.1 473L383.4 473.8L384.7 476.4L384.7 478.9ZM361.4 478.1L359.5 476.4L358.6 475.5L357.2 473.8L358.6 472.1L361.4 473.8L361.4 473.8L363.2 476.4L361.4 478.1M380.6 477.2L381.5 476.4L380.6 475.5L379.2 476.4ZM331.1 472.5L332 471.3L331.1 470L330.2 471.3ZM339.4 472.5L342.1 471.3L339.4 470L338 471.3ZM364.1 472.5L363.2 471.3L363.6 468.7L364.1 468.1L365.5 468.7L365.5 471.3ZM380.6 472.1L382 471.3L380.6 468.7L377.9 471.3ZM353.1 467L352.2 466.1L353.1 464.9L354 466.1ZM377.9 467L379.2 466.1L377.9 464.9L376.9 466.1ZM342.1 466.1L344.9 463.6L342.1 462.3L341.6 461L342.1 459.7L344.9 459.7L347.6 461L349 458.5L347.6 457.2L347.1 455.9L344.9 453.4L342.6 455.9L342.1 457.2L339.4 458.5L339.4 458.5L336.6 461L339.4 463.6L339.4 463.6ZM320.1 461.9L321.5 461L320.1 459.7L318.7 461ZM333.9 463.6L336.6 461L336.6 458.5L333.9 457.2L331.1 458.5L332.5 461ZM353.1 461L354 458.5L355.9 455.9L355.9 453.4L353.1 451.8L350.4 451.4L347.6 453.4L349 455.9L350.4 457.2L351.7 458.5ZM328.4 457.2L331.1 455.9L331.1 455.9L333.9 455.1L335.7 453.4L333.9 450.8L331.1 451.4L329.7 450.8L328.4 449.1L327.4 448.2L328.4 447L331.1 445.7L328.4 444.8L327 443.1L325.6 441.4L324.2 443.1L324.2 445.7L323.8 448.2L324.2 450.8L325.6 452.1L327 453.4L325.6 455.9ZM366.9 458.5L367.8 455.9L366.9 455.1L364.1 455.9ZM377.9 457.2L378.8 455.9L377.9 455.1L376.5 455.9ZM339.4 455.9L342.1 453.4L339.4 452.5L338 453.4ZM342.1 453.4L344.9 453.4L347.6 450.8L344.9 448.2L342.1 448.2L341.2 450.8ZM358.6 452.8L361.4 450.8L361.4 448.2L358.6 445.7L358.6 445.7L355.9 443.1L354.9 445.7L355.9 447L357.2 448.2L356.4 450.8ZM317.4 449.5L318.7 448.2L317.4 447.4L316 448.2ZM353.1 449.1L354.5 448.2L353.1 447.4L351.7 448.2ZM386.1 449.1L387 448.2L386.1 447L385.2 448.2ZM333.9 448.2L335.2 445.7L333.9 444.4L331.1 445.7ZM339.4 447L342.1 448.2L344.9 448.2L347.6 445.7L344.9 444.4L343.9 443.1L342.1 440.6L340.7 443.1L339.4 444.8L338 445.7ZM350.4 447.4L351.7 445.7L351.7 443.1L350.4 442.3L347.6 443.1L347.6 445.7ZM314.6 441.8L316.4 440.6L315.5 438L314.6 435.4L314.6 435.4L311.9 433.5L310.5 432.9L311.9 431.6L314.6 432.9L317.4 430.3L317.4 430.3L317.4 430.3L320.1 432.9L320.1 432.9L322.9 433.7L324.2 432.9L325.6 432.3L326.5 432.9L328.4 435.4L328.4 435.4L331.1 438L333.9 438L333.9 438L333.9 438L331.1 440.6L333.9 441.8L336.6 443.1L337.5 440.6L338.6 438L338.4 435.4L336.6 433.7L333.9 432.9L331.1 432.9L331.1 432.9L331.1 432.9L332.5 430.3L331.1 429.5L329.3 427.8L328.4 425.2L325.6 427.8L325.6 427.8L323.5 430.3L322.9 431.6L321.5 430.3L322.9 427.8L320.1 425.2L317.4 425.2L316 427.8L314.6 429.1L313.7 427.8L311.9 425.2L310.5 427.8L309.1 430.3L309.1 430.3L307.7 432.9L309.1 434.2L309.8 435.4L311.9 437L313.7 438L312.8 440.6ZM322.9 441.4L324.2 440.6L325.6 438L322.9 437.2L320.1 438L321.5 440.6ZM328.4 441.4L331.1 440.6L328.4 439.3L327 440.6ZM358.6 442.3L360 440.6L358.6 438.9L357.2 438L355.9 436.7L354.9 438L355.9 439.3L356.8 440.6ZM364.1 441.8L366.9 440.6L365 438L364.1 437.2L362.7 438L363.2 440.6ZM344.9 440.6L347.6 440.6L350 438L350.4 437.2L353.1 435.4L353.1 435.4L354 432.9L353.1 432L352.2 432.9L350.4 434.2L347.6 435.4L347.6 435.4L347.6 435.4L344.9 432.9L342.1 432.9L340 435.4L342.1 438L342.1 438ZM358.6 436.7L359.5 435.4L358.6 434.2L357.2 435.4ZM336.6 431.6L337.5 430.3L336.6 429.5L335.2 430.3ZM347.6 432.4L349.8 430.3L347.6 428.3L344.9 430.3ZM300.9 430.3L301.8 427.8L300.9 426.9L299.5 427.8ZM339.4 429.3L342.1 427.8L341 425.2L342.1 422.7L339.4 421.8L336.6 421.4L333.9 421.8L331.1 422.7L331.1 422.7L331.1 422.7L331.1 422.7L332 420.1L331.1 419.2L329.3 417.5L328.4 416.7L325.6 417.5L325.6 420.1L325.6 420.1L323.8 422.7L325.6 425.2L328.4 425.2L328.4 425.2L331.1 426.1L332.5 425.2L333.9 423.9L334.4 425.2L336.6 426.9L337.7 427.8ZM298.1 423.5L299 422.7L298.1 421.8L297.2 422.7ZM303.6 425.2L306.4 422.7L305.2 420.1L303.6 418.6L300.9 418.8L299.5 420.1L300.9 421.4L302.7 422.7ZM309.1 422.7L311.9 421L313.2 420.1L311.9 417.5L311.9 417.5L311.9 417.5L313.2 415L311.9 414.1L310 412.4L309.1 411.2L307.7 412.4L306.4 415L307.3 417.5L307.7 420.1ZM342.1 422.7L343.5 420.1L342.1 418.8L341.2 420.1ZM320.1 420.1L321.9 417.5L321.5 415L320.1 414.1L318.7 415L318.3 417.5ZM295.4 417.5L298.1 417.5L300.9 416.3L302.2 415L300.9 413.3L298.1 413.7L295.4 413.7L294 412.4L292.6 411.2L291.2 412.4L292.6 415L292.6 415ZM325.6 417.5L326.5 415L327 412.4L325.6 411.6L324.2 412.4L324.2 415ZM281.6 413.3L284.4 412.4L281.6 411.6L280.7 412.4ZM317.4 413.7L318.3 412.4L317.4 409.9L314.6 412.4ZM284.4 412.4L285.7 409.9L284.4 408.6L283.4 409.9ZM298.1 411.2L299 409.9L298.1 409L297.2 409.9ZM314.6 409.9L316 407.3L314.6 406L313.7 407.3ZM278.9 406.5L280.2 404.8L278.9 403.1L277.5 404.8ZM289.9 407.3L292.6 404.8L289.9 403.1L288 404.8ZM295.4 407.3L298.1 405.6L300.9 407.3L302.7 404.8L303.6 403.5L305 402.2L303.6 401.3L302.5 399.6L300.9 397.7L298.8 399.6L298.1 400.9L296.7 402.2L295.4 403.5L292.6 404.8ZM309.1 406L311.9 404.8L309.1 403.5L308.2 404.8ZM317.4 406L318.7 404.8L317.4 403.9L316 404.8ZM300.9 403.1L299.5 402.2L300.9 401.6L302.2 402.2L300.9 403.1M273.4 400.9L276.1 400.5L278.9 401.3L280.2 399.6L278.9 397.1L276.1 398.4L273.4 397.1L272 399.6ZM292.6 400.9L295.4 399.6L292.6 397.9L289.9 399.6ZM309.1 401.3L310.9 399.6L309.1 398.4L306.4 399.6ZM328.4 400.5L329.3 399.6L328.4 398.8L327.4 399.6ZM284.4 397.9L287.1 397.1L284.4 396.2L283 397.1ZM287.1 392.8L288 392L287.1 391.1L286.2 392ZM300.9 390.3L301.8 389.4L300.9 388.6L299.5 389.4ZM366.9 497.1L367.2 496.8L369.6 494.6L372.4 495.5L373.7 494.3L375.1 493.6L376.5 491.7L377 489.2L377.9 487.2L378.5 486.6L377.9 486L377.2 486.6L375.1 487.4L374.1 486.6L374.6 484L372.4 481.9L369.6 481.8L368.2 484L367.3 486.6L366.9 486.8L366.4 486.6L364.1 484.5L363.8 484L361.4 482.4L359.6 484L358.6 486.2L357.9 486.6L358.6 487.2L360 489.2L361.4 491.1L364.1 491.5L364.3 491.7L364.1 492L362.2 494.3L364.1 496.1L366.2 496.8ZM347.6 485.3L350.4 484.7L350.8 484L350.4 483.4L347.6 482.8L346.9 484ZM380.6 485.6L382.3 484L380.6 482.4L378.9 484ZM391.6 481.9L392.3 481.5L391.6 481.2L391.3 481.5ZM355.9 480.2L358.6 480.2L360.7 478.9L358.6 477L357.9 476.4L356.2 473.8L355.9 473.2L355.2 473.8L354.8 476.4L353.8 478.9ZM364.1 479.4L366.9 479.4L367.5 478.9L366.9 478.3L364.1 477.6L362.7 478.9ZM377.9 479.6L378.2 478.9L377.9 478.5L377.5 478.9ZM350.4 478L351.7 476.4L350.4 474.8L349 476.4ZM375.1 476.7L375.6 476.4L375.1 475.7L374.4 476.4ZM386.1 477.6L386.4 476.4L386.1 475.1L385.8 476.4ZM364.1 475.1L366.9 474.4L367.5 473.8L367.5 471.3L366.9 470L366.5 471.3L364.1 473.5L363.4 473.8ZM347.6 472.2L349 471.3L347.6 470L345.5 471.3ZM361.4 472.9L362.5 471.3L362.7 468.7L364.1 467.1L366.2 466.1L364.1 464.2L361.4 464.9L358.6 465.4L356.2 463.6L355.9 462.3L354.5 463.6L355.4 466.1L355.9 466.8L357.9 468.7L358.6 470L359.1 471.3ZM372.4 472.5L372.8 471.3L372.4 470.6L371.7 471.3ZM350.4 469.3L353.1 469.1L353.8 468.7L353.1 468.3L350.8 466.1L352.4 463.6L350.4 462.8L347.6 462.9L346.9 463.6L347.6 464.9L349 466.1L349.7 468.7ZM369.6 468.3L371 466.1L369.6 464L367.3 466.1ZM333.9 461.7L334.5 461L333.9 459.7L333.5 461ZM339.4 462.6L340.7 461L339.4 459.4L337.6 461ZM361.4 462.9L362.7 461L361.4 459.1L360.3 461ZM369.6 462.3L369.9 461L369.6 460.6L369.1 461ZM358.6 458.9L360 458.5L358.6 457.2L358.3 458.5ZM328.4 456.2L329 455.9L331.1 455.3L333.9 453.8L334.3 453.4L333.9 452.7L331.1 451.9L328.7 450.8L328.4 450.4L327 450.8L328.4 452.1L328.6 453.4L328.4 454.6L327.7 455.9ZM344.9 458.1L346.5 455.9L344.9 454.1L343.2 455.9ZM350.4 455.3L353.1 455.3L354.5 453.4L353.1 452.6L350.4 452.4L349 453.4ZM344.9 451.4L345.5 450.8L344.9 450.2L343.5 450.8ZM358.6 452.1L360.3 450.8L358.6 448.7L357.2 450.8ZM325.6 449.5L326.1 448.2L327 445.7L325.9 443.1L325.6 442.7L325.3 443.1L325.3 445.7L325.1 448.2ZM350.4 446.1L350.7 445.7L350.4 444.4L349.7 445.7ZM342.1 444.4L342.6 443.1L342.1 442.5L341.8 443.1ZM314.6 440.9L315.1 440.6L314.6 439.3L314.1 440.6ZM358.6 441L358.9 440.6L358.6 440.1L358.1 440.6ZM336.6 440.2L338 438L337.1 435.4L336.6 435L335.2 435.4L334.7 438ZM344.9 439.3L347.6 439.9L349.4 438L350.4 435.9L351 435.4L350.4 435.1L349.7 435.4L347.6 436.1L346.2 435.4L344.9 434.2L342.1 434.2L341.1 435.4L342.1 436.7L343.5 438ZM311.9 436.2L313.2 435.4L311.9 434.5L310.8 435.4ZM328.4 433.5L329 432.9L329.7 430.3L328.4 429.1L325.6 429.1L324.6 430.3L325.6 431.3L327.9 432.9ZM347.6 431.6L349 430.3L347.6 429.1L345.9 430.3ZM311.9 429.1L312.3 427.8L311.9 427.1L311.5 427.8ZM320.1 429.1L320.8 427.8L320.1 427.1L318.7 427.8ZM339.4 428.5L340.7 427.8L340.2 425.2L339.4 423.3L338 422.7L336.6 422.3L335.2 422.7L335.2 425.2L336.6 426.3L338.5 427.8ZM325.6 423.3L327 422.7L325.6 422L325.1 422.7ZM300.9 420.4L303.6 422L304.4 420.1L303.6 419.3L300.9 419.8L300.5 420.1ZM309.1 420.7L310.5 420.1L309.8 417.5L309.1 416.3L308.6 417.5L308.8 420.1ZM328.4 421.4L329.7 420.1L328.4 418.8L327.7 420.1ZM320.1 418.2L320.6 417.5L320.1 416.3L319.6 417.5ZM300.9 415.3L301.2 415L300.9 414.6L299.5 415ZM278.9 405.2L279.2 404.8L278.9 404.3L278.5 404.8ZM289.9 405.4L290.5 404.8L289.9 404.3L289.4 404.8ZM300.9 405.4L301.3 404.8L300.9 404.3L299.5 404.8ZM278.9 400.1L279.2 399.6L278.9 399L277.5 399.6ZM292.6 400L293.3 399.6L292.6 399.2L291.9 399.6ZM300.9 400.6L301.7 399.6L300.9 398.7L299.8 399.6ZM309.1 400.1L309.6 399.6L309.1 399.3L308.4 399.6ZM364.1 495.3L366.9 496L368.7 494.3L369.6 493.4L372.4 494L375.1 491.7L375.1 491.7L376.2 489.2L375.1 488.1L373 486.6L373.3 484L372.4 483.2L369.6 482.8L368.8 484L368.7 486.6L366.9 487.4L365 486.6L364.1 485.7L363 484L361.4 482.9L360.2 484L361.4 486.6L361.4 486.6L361.4 489.2L364.1 491L365 491.7L364.1 493L363 494.3ZM369.6 490L369.1 489.2L369.6 487.9L370.1 489.2L369.6 490M380.6 484.7L381.3 484L380.6 483.4L379.9 484ZM350.4 477L350.9 476.4L350.4 475.7L349.8 476.4ZM361.4 471.9L361.8 471.3L361.9 468.7L361.4 467.4L360 468.7L360.4 471.3ZM369.6 467L370.2 466.1L369.6 465.3L368.7 466.1ZM339.4 461.7L339.9 461L339.4 460.4L338.7 461ZM344.9 457.2L345.8 455.9L344.9 454.9L343.9 455.9ZM331.1 454.6L333.2 453.4L331.1 452.4L329.5 453.4ZM358.6 451.3L359.3 450.8L358.6 449.9L358.1 450.8ZM336.6 439.3L337.4 438L336.6 436.3L335.5 438ZM347.6 439.3L348.8 438L347.6 436.7L344.9 438ZM347.6 430.8L348.2 430.3L347.6 429.8L346.9 430.3ZM336.6 425.6L339.4 425.2L336.6 423.9L336.1 425.2ZM364.1 494.5L366.9 494.7L367.3 494.3L369.6 492.1L372.4 493.6L374.6 491.7L375.1 489.8L375.4 489.2L375.1 488.9L372.4 486.9L370.7 489.2L369.6 491.3L368.2 489.2L366.9 488.1L364.1 486.9L362.2 489.2L364.1 490.4L365.7 491.7L364.1 494L363.8 494.3ZM361.4 485.3L362.2 484L361.4 483.5L360.8 484ZM369.6 485.3L371 484L369.6 483.7L369.4 484ZM344.9 456.2L345.1 455.9L344.9 455.7L344.6 455.9ZM331.1 454L332.1 453.4L331.1 452.9L330.3 453.4ZM336.6 438.3L336.8 438L336.6 437.6L336.3 438ZM347.6 438.6L348.2 438L347.6 437.4L346.2 438ZM366.9 493L368.2 491.7L367.4 489.2L366.9 488.7L364.1 487.9L363 489.2L364.1 489.9L366.4 491.7ZM372.4 493.1L374.1 491.7L374.2 489.2L372.4 487.9L371.4 489.2L370.1 491.7Z" fill="none" stroke="#1c1c1c" stroke-width="0.6" stroke-linejoin="round"/>
<path d="M271.1 390.55 L273.13 391.14 L275.17 392 L277.2 393.08 L279.23 394.38 L281.26 395.84 L283.3 397.46 L285.33 399.2 L287.36 401.06 L289.39 403 L291.43 405.02 L293.46 407.09 L295.49 409.21 L297.52 411.37 L299.56 413.55 L301.59 415.75 L303.62 417.96 L305.66 420.17 L307.69 422.39 L309.72 424.61 L311.75 426.82 L313.79 429.03 L315.82 431.24 L317.85 433.44 L319.88 435.63 L321.92 437.83 L323.95 440.02 L325.98 442.21 L328.01 444.41 L330.05 446.61 L332.08 448.81 L334.11 451.03 L336.14 453.25 L338.18 455.49 L340.21 457.73 L342.24 459.99 L344.28 462.26 L346.31 464.54 L348.34 466.82 L350.37 469.11 L352.41 471.4 L354.44 473.68 L356.47 475.94 L358.5 478.19 L360.54 480.4 L362.57 482.56 L364.6 484.67 L366.63 486.71 L368.67 488.66 L370.7 490.5" fill="none" stroke="#000" stroke-width="1.9" stroke-linecap="round"/>
<path d="M285.1 399.5C287.58 399.88 294.18 400.7 300 401.8C305.82 402.9 315.25 404.82 320 406.1C324.75 407.38 325.67 407.87 328.5 409.5C331.33 411.13 334.72 413.7 337 415.9C339.28 418.1 340.63 420.28 342.2 422.7C343.77 425.12 345.13 427.02 346.4 430.4C347.67 433.78 348.87 439.4 349.8 443C350.73 446.6 351.45 448.83 352 452C352.55 455.17 352.75 458.42 353.1 462C353.45 465.58 353.93 471.58 354.1 473.5" fill="none" stroke="#1f5c9e" stroke-width="1.7" stroke-linecap="round"/>
<path d="M285.1 399.5C287.58 399.78 294.18 400.32 300 401.2C305.82 402.08 315.25 403.83 320 404.8C324.75 405.77 325.67 405.87 328.5 407C331.33 408.13 334.15 409.77 337 411.6C339.85 413.43 343.03 415.72 345.6 418C348.17 420.28 350.42 422.8 352.4 425.3C354.38 427.8 355.93 430.05 357.5 433C359.07 435.95 360.73 439.83 361.8 443C362.87 446.17 363.32 448.83 363.9 452C364.48 455.17 364.88 458.43 365.3 462C365.72 465.57 366.02 469.62 366.4 473.4C366.78 477.18 367.3 482.12 367.6 484.7C367.9 487.28 368.1 488.2 368.2 488.9" fill="none" stroke="#d6203a" stroke-width="1.7" stroke-linecap="round"/>
</g>
<text font-size="8.2" fill="#1a1a1a" text-anchor="end" textLength="68.5" lengthAdjust="spacingAndGlyphs" transform="translate(412.6 389.2)">hHsp90 w/ATP&#947;S</text>
<clipPath id="ctF"><rect x="270.6" y="351.4" width="143.2" height="28.9"/></clipPath>
<g clip-path="url(#ctF)">
<path d="M270.74 381.3V378.88H272.93V377.34H276.21V378.88H278.95V379.53H287.16V377.34H293.73V376.69H296.47V374.83H298.66V373.73H301.4V372.31H304.13V370.77H306.87V369.35H310.15V371.87H312.89V368.26H316.18V367.49H318.91V370.45H321.65V365.52H324.39V364.64H327.13V364.2H329.86V355.45H333.7V355.88H338.08V361.36H341.36V357.64H342.09V357.31H344.28V358.07H347.02V354.57H349.21V355.12H352.5V356.76H355.23V354.02H357.97V352.93H361.26V353.47H363.99V359.17H366.73V355.45H369.69V362.23H372.75V360.59H375.49V368.8H378.23V366.61H380.42V370.45H383.15V368.58H386.44V371.54H389.18V374.5H392.46V375.59H395.75V376.47H403.41V377.56H406.7V379.21H413.81V381.3Z" fill="#959595" stroke="#1a1a1a" stroke-width="1.1"/>
</g>
<clipPath id="crF"><rect x="413.8" y="380.3" width="34.2" height="124.2"/></clipPath>
<g clip-path="url(#crF)">
<path d="M412.8 380.25H414.65V389.94H416.64V391.93H421.28V394.58H423.27V397.24H425.27V399.89H423.94V402.55H425.93V405.2H423.94V407.2H430.58V409.19H421.95V411.18H423.27V413.17H426.59V415.82H429.25V419.14H422.61V421.8H427.92V424.45H430.58V427.11H429.91V429.1H431.24V431.09H435.22V433.75H433.89V435.74H427.26V438.39H428.58V440H429.25V441.05H427.92V442.65H428.58V445.31H427.26V447.96H427.92V453.27H429.91V457.26H431.24V459.91H429.25V462.57H431.24V465.22H432.57V467.21H424.6V469.2H431.24V471.2H429.91V473.19H429.91V477.83H433.89V479.16H435.89V481.15H437.88V483.81H439.87V487.13H442.52V489.78H445.18V492.44H447.17V494.43H437.88V496.42H434.56V498.41H431.24V500.4H428.58V501.73H423.27V504.38H412.8Z" fill="#959595" stroke="#1a1a1a" stroke-width="1.1"/>
</g>
<line x1="270.6" y1="504.5" x2="270.6" y2="502.7" stroke="#1a1a1a" stroke-width="0.8"/>
<line x1="270.6" y1="380.3" x2="270.6" y2="382.1" stroke="#1a1a1a" stroke-width="0.8"/>
<line x1="270.6" y1="380.3" x2="270.6" y2="378.5" stroke="#1a1a1a" stroke-width="0.8"/>
<line x1="270.6" y1="351.4" x2="270.6" y2="353.2" stroke="#1a1a1a" stroke-width="0.8"/>
<text font-size="6.9" fill="#1a1a1a" text-anchor="middle" transform="translate(270.6 513.7) scale(1.1 1)">0</text>
<text font-size="6.9" fill="#1a1a1a" text-anchor="middle" transform="translate(270.6 348) scale(1.1 1)">0</text>
<line x1="298.1" y1="504.5" x2="298.1" y2="502.7" stroke="#1a1a1a" stroke-width="0.8"/>
<line x1="298.1" y1="380.3" x2="298.1" y2="382.1" stroke="#1a1a1a" stroke-width="0.8"/>
<line x1="298.1" y1="380.3" x2="298.1" y2="378.5" stroke="#1a1a1a" stroke-width="0.8"/>
<line x1="298.1" y1="351.4" x2="298.1" y2="353.2" stroke="#1a1a1a" stroke-width="0.8"/>
<text font-size="6.9" fill="#1a1a1a" text-anchor="middle" transform="translate(298.1 513.7) scale(1.1 1)">1</text>
<text font-size="6.9" fill="#1a1a1a" text-anchor="middle" transform="translate(298.1 348) scale(1.1 1)">1</text>
<line x1="325.6" y1="504.5" x2="325.6" y2="502.7" stroke="#1a1a1a" stroke-width="0.8"/>
<line x1="325.6" y1="380.3" x2="325.6" y2="382.1" stroke="#1a1a1a" stroke-width="0.8"/>
<line x1="325.6" y1="380.3" x2="325.6" y2="378.5" stroke="#1a1a1a" stroke-width="0.8"/>
<line x1="325.6" y1="351.4" x2="325.6" y2="353.2" stroke="#1a1a1a" stroke-width="0.8"/>
<text font-size="6.9" fill="#1a1a1a" text-anchor="middle" transform="translate(325.6 513.7) scale(1.1 1)">2</text>
<text font-size="6.9" fill="#1a1a1a" text-anchor="middle" transform="translate(325.6 348) scale(1.1 1)">2</text>
<line x1="353.1" y1="504.5" x2="353.1" y2="502.7" stroke="#1a1a1a" stroke-width="0.8"/>
<line x1="353.1" y1="380.3" x2="353.1" y2="382.1" stroke="#1a1a1a" stroke-width="0.8"/>
<line x1="353.1" y1="380.3" x2="353.1" y2="378.5" stroke="#1a1a1a" stroke-width="0.8"/>
<line x1="353.1" y1="351.4" x2="353.1" y2="353.2" stroke="#1a1a1a" stroke-width="0.8"/>
<text font-size="6.9" fill="#1a1a1a" text-anchor="middle" transform="translate(353.1 513.7) scale(1.1 1)">3</text>
<text font-size="6.9" fill="#1a1a1a" text-anchor="middle" transform="translate(353.1 348) scale(1.1 1)">3</text>
<line x1="380.6" y1="504.5" x2="380.6" y2="502.7" stroke="#1a1a1a" stroke-width="0.8"/>
<line x1="380.6" y1="380.3" x2="380.6" y2="382.1" stroke="#1a1a1a" stroke-width="0.8"/>
<line x1="380.6" y1="380.3" x2="380.6" y2="378.5" stroke="#1a1a1a" stroke-width="0.8"/>
<line x1="380.6" y1="351.4" x2="380.6" y2="353.2" stroke="#1a1a1a" stroke-width="0.8"/>
<text font-size="6.9" fill="#1a1a1a" text-anchor="middle" transform="translate(380.6 513.7) scale(1.1 1)">4</text>
<text font-size="6.9" fill="#1a1a1a" text-anchor="middle" transform="translate(380.6 348) scale(1.1 1)">4</text>
<line x1="408.1" y1="504.5" x2="408.1" y2="502.7" stroke="#1a1a1a" stroke-width="0.8"/>
<line x1="408.1" y1="380.3" x2="408.1" y2="382.1" stroke="#1a1a1a" stroke-width="0.8"/>
<line x1="408.1" y1="380.3" x2="408.1" y2="378.5" stroke="#1a1a1a" stroke-width="0.8"/>
<line x1="408.1" y1="351.4" x2="408.1" y2="353.2" stroke="#1a1a1a" stroke-width="0.8"/>
<text font-size="6.9" fill="#1a1a1a" text-anchor="middle" transform="translate(408.1 513.7) scale(1.1 1)">5</text>
<text font-size="6.9" fill="#1a1a1a" text-anchor="middle" transform="translate(408.1 348) scale(1.1 1)">5</text>
<line x1="270.6" y1="493.5" x2="272.4" y2="493.5" stroke="#1a1a1a" stroke-width="0.8"/>
<line x1="413.8" y1="493.5" x2="412" y2="493.5" stroke="#1a1a1a" stroke-width="0.8"/>
<line x1="413.8" y1="493.5" x2="415.6" y2="493.5" stroke="#1a1a1a" stroke-width="0.8"/>
<line x1="448" y1="493.5" x2="446.2" y2="493.5" stroke="#1a1a1a" stroke-width="0.8"/>
<text font-size="6.9" fill="#1a1a1a" text-anchor="end" transform="translate(268.4 495.9) scale(1.1 1)">0</text>
<text font-size="6.9" fill="#1a1a1a" transform="translate(450.4 495.9) scale(1.1 1)">0</text>
<line x1="270.6" y1="473.04" x2="272.4" y2="473.04" stroke="#1a1a1a" stroke-width="0.8"/>
<line x1="413.8" y1="473.04" x2="412" y2="473.04" stroke="#1a1a1a" stroke-width="0.8"/>
<line x1="413.8" y1="473.04" x2="415.6" y2="473.04" stroke="#1a1a1a" stroke-width="0.8"/>
<line x1="448" y1="473.04" x2="446.2" y2="473.04" stroke="#1a1a1a" stroke-width="0.8"/>
<text font-size="6.9" fill="#1a1a1a" text-anchor="end" transform="translate(268.4 475.44) scale(1.1 1)">0.2</text>
<text font-size="6.9" fill="#1a1a1a" transform="translate(450.4 475.44) scale(1.1 1)">0.2</text>
<line x1="270.6" y1="452.58" x2="272.4" y2="452.58" stroke="#1a1a1a" stroke-width="0.8"/>
<line x1="413.8" y1="452.58" x2="412" y2="452.58" stroke="#1a1a1a" stroke-width="0.8"/>
<line x1="413.8" y1="452.58" x2="415.6" y2="452.58" stroke="#1a1a1a" stroke-width="0.8"/>
<line x1="448" y1="452.58" x2="446.2" y2="452.58" stroke="#1a1a1a" stroke-width="0.8"/>
<text font-size="6.9" fill="#1a1a1a" text-anchor="end" transform="translate(268.4 454.98) scale(1.1 1)">0.4</text>
<text font-size="6.9" fill="#1a1a1a" transform="translate(450.4 454.98) scale(1.1 1)">0.4</text>
<line x1="270.6" y1="432.12" x2="272.4" y2="432.12" stroke="#1a1a1a" stroke-width="0.8"/>
<line x1="413.8" y1="432.12" x2="412" y2="432.12" stroke="#1a1a1a" stroke-width="0.8"/>
<line x1="413.8" y1="432.12" x2="415.6" y2="432.12" stroke="#1a1a1a" stroke-width="0.8"/>
<line x1="448" y1="432.12" x2="446.2" y2="432.12" stroke="#1a1a1a" stroke-width="0.8"/>
<text font-size="6.9" fill="#1a1a1a" text-anchor="end" transform="translate(268.4 434.52) scale(1.1 1)">0.6</text>
<text font-size="6.9" fill="#1a1a1a" transform="translate(450.4 434.52) scale(1.1 1)">0.6</text>
<line x1="270.6" y1="411.66" x2="272.4" y2="411.66" stroke="#1a1a1a" stroke-width="0.8"/>
<line x1="413.8" y1="411.66" x2="412" y2="411.66" stroke="#1a1a1a" stroke-width="0.8"/>
<line x1="413.8" y1="411.66" x2="415.6" y2="411.66" stroke="#1a1a1a" stroke-width="0.8"/>
<line x1="448" y1="411.66" x2="446.2" y2="411.66" stroke="#1a1a1a" stroke-width="0.8"/>
<text font-size="6.9" fill="#1a1a1a" text-anchor="end" transform="translate(268.4 414.06) scale(1.1 1)">0.8</text>
<text font-size="6.9" fill="#1a1a1a" transform="translate(450.4 414.06) scale(1.1 1)">0.8</text>
<line x1="270.6" y1="391.2" x2="272.4" y2="391.2" stroke="#1a1a1a" stroke-width="0.8"/>
<line x1="413.8" y1="391.2" x2="412" y2="391.2" stroke="#1a1a1a" stroke-width="0.8"/>
<line x1="413.8" y1="391.2" x2="415.6" y2="391.2" stroke="#1a1a1a" stroke-width="0.8"/>
<line x1="448" y1="391.2" x2="446.2" y2="391.2" stroke="#1a1a1a" stroke-width="0.8"/>
<text font-size="6.9" fill="#1a1a1a" text-anchor="end" transform="translate(268.4 393.6) scale(1.1 1)">1</text>
<text font-size="6.9" fill="#1a1a1a" transform="translate(450.4 393.6) scale(1.1 1)">1</text>
<line x1="270.6" y1="362.2" x2="272.4" y2="362.2" stroke="#1a1a1a" stroke-width="0.8"/>
<line x1="413.8" y1="362.2" x2="412" y2="362.2" stroke="#1a1a1a" stroke-width="0.8"/>
<text font-size="6.9" fill="#1a1a1a" text-anchor="end" transform="translate(268 364.6) scale(1.1 1)">50</text>
<line x1="434.2" y1="504.5" x2="434.2" y2="502.7" stroke="#1a1a1a" stroke-width="0.8"/>
<line x1="434.2" y1="380.3" x2="434.2" y2="382.1" stroke="#1a1a1a" stroke-width="0.8"/>
<text font-size="6.9" fill="#1a1a1a" transform="translate(431.6 506.7) scale(1.2 1) rotate(90)">50</text>
<rect x="270.6" y="351.4" width="143.2" height="28.9" fill="none" stroke="#1a1a1a" stroke-width="1.1"/>
<rect x="270.6" y="380.3" width="143.2" height="124.2" fill="none" stroke="#1a1a1a" stroke-width="1.1"/>
<rect x="413.8" y="380.3" width="34.2" height="124.2" fill="none" stroke="#1a1a1a" stroke-width="1.1"/>
<text font-size="7.6" fill="#1a1a1a" text-anchor="middle" textLength="52.1" lengthAdjust="spacingAndGlyphs" transform="translate(255.1 442.4) rotate(-90)">FRET Efficiency</text>
<text font-size="7.0" fill="#1a1a1a" transform="translate(327.1 523.1) scale(1.1 1)">&#964;</text>
<text font-size="5.6" fill="#1a1a1a" textLength="12.8" lengthAdjust="spacingAndGlyphs" transform="translate(330.7 526.9)">D(A)</text>
<text font-size="7.6" fill="#1a1a1a" textLength="12.4" lengthAdjust="spacingAndGlyphs" transform="translate(346 523.5)">[ns]</text>
<linearGradient id="gF" x1="0" x2="1" y1="0" y2="0"><stop offset="0.0" stop-color="#fff7ee"/><stop offset="0.125" stop-color="#feebd9"/><stop offset="0.25" stop-color="#fdd8b6"/><stop offset="0.375" stop-color="#fbc292"/><stop offset="0.5" stop-color="#f7a162"/><stop offset="0.625" stop-color="#ef8037"/><stop offset="0.75" stop-color="#da5e1e"/><stop offset="0.875" stop-color="#ac3d0e"/><stop offset="1.0" stop-color="#6e1e05"/></linearGradient>
<rect x="421.2" y="362.9" width="40.5" height="5.1" fill="url(#gF)" stroke="#111" stroke-width="1.1"/>
<line x1="440.2" y1="362.9" x2="440.2" y2="364.1" stroke="#1a1a1a" stroke-width="0.6"/>
<text font-size="4.8" fill="#1a1a1a" text-anchor="middle" transform="translate(440.2 361.1) scale(1.15 1)">5</text>
<line x1="461.7" y1="362.9" x2="461.7" y2="364.1" stroke="#1a1a1a" stroke-width="0.6"/>
<text font-size="4.8" fill="#1a1a1a" text-anchor="middle" transform="translate(461.7 361.1) scale(1.15 1)">10</text>
<text font-size="5.0" fill="#1a1a1a" text-anchor="middle" textLength="23" lengthAdjust="spacingAndGlyphs" transform="translate(441.75 355.6)">Occurrence</text>
<clipPath id="clH"><rect x="504.2" y="183.4" width="174" height="108"/></clipPath><g clip-path="url(#clH)">
<path d="M504.2 291.4V286.32H505.18V281.44H507.36V271.4H509.54V255.18H511.71V235.01H513.89V217.05H516.07V209H518.25V208.49H520.43V221.94H522.61V243.1H524.79V261.64H526.97V269.03H529.14V277.94H531.32V282.13H533.5V284.32H535.68V285.49H537.86V286.95H540.04V286.98H542.22V287.39H544.4V287.48H546.58V288.44H548.75V288.51H550.93V288.69H553.11V288.63H555.29V288.96H557.47V289.09H559.65V289.32H561.83V289.43H564V289.73H566.18V289.86H568.36V290.05H570.54V290.27H572.72V290.37H574.9V290.37H577.08V290.43H579.26V290.5H581.43V290.53H583.61V290.61H585.79V290.64H587.97V290.7H590.15V290.74H592.33V290.78H594.51V290.85H596.69V290.88H598.87V290.94H601.04V290.95H603.22V290.98H605.4V290.99H607.58V291.01H609.76V291.03H611.94V291.05H614.12V291.06H616.3V291.08H618.47V291.12H620.65V291.12H622.83V291.16H625.01V291.17H627.19V291.17H629.37V291.18H631.55V291.19H633.73V291.2H635.9V291.2H638.08V291.21H640.26V291.22H642.44V291.22H644.62V291.23H646.8V291.24H648.98V291.24H651.15V291.25H653.33V291.26H655.51V291.27H657.69V291.28H659.87V291.28H662.05V291.29H664.23V291.3H666.41V291.3H668.59V291.31H670.76V291.32H672.94V291.33H675.12V291.34H677.3V291.4Z" fill="#8f8f8f" stroke="none" stroke-width="1"/>
<path d="M504.2 291.4V285.35H505.18V278.62H507.36V263.58H509.54V244.83H511.71V220.45H513.89V205.15H516.07V203.47H518.25V207.42H520.43V228.52H522.61V245.84H524.79V261.81H526.97V273.58H529.14V281.02H531.32V284.8H533.5V287.53H535.68V289.21H537.86V290.28H540.04V290.73H542.22V291.14H544.4V291.25H546.58V291.37H548.75V291.4H550.93V291.4H553.11V291.4H555.29V291.4H557.47V291.4H559.65V291.4H561.83V291.4H564V291.4H566.18V291.4H568.36V291.4H570.54V291.4H572.72V291.4H574.9V291.4H577.08V291.4H579.26V291.4H581.43V291.4H583.61V291.4H585.79V291.4H587.97V291.4H590.15V291.4H592.33V291.4H594.51V291.4H596.69V291.4H598.87V291.4H601.04V291.4H603.22V291.4H605.4V291.4H607.58V291.4H609.76V291.4H611.94V291.4H614.12V291.4H616.3V291.4H618.47V291.4H620.65V291.4H622.83V291.4H625.01V291.4H627.19V291.4H629.37V291.4H631.55V291.4H633.73V291.4H635.9V291.4H638.08V291.4H640.26V291.4H642.44V291.4H644.62V291.4H646.8V291.4H648.98V291.4H651.15V291.4H653.33V291.4H655.51V291.4H657.69V291.4H659.87V291.4H662.05V291.4H664.23V291.4H666.41V291.4H668.59V291.4H670.76V291.4H672.94V291.4H675.12V291.4H677.3V291.4" fill="none" stroke="#6a3d9a" stroke-width="0.9"/>
<path d="M504.2 291.4V290.84H505.18V289.72H507.36V288.57H509.54V287.17H511.71V285.77H513.89V284.68H516.07V283.73H518.25V282.96H520.43V282.62H522.61V282.29H524.79V282.56H526.97V282.89H529.14V283.35H531.32V283.92H533.5V284.49H535.68V285.06H537.86V285.54H540.04V285.93H542.22V286.31H544.4V286.7H546.58V287.09H548.75V287.47H550.93V287.86H553.11V288.25H555.29V288.53H557.47V288.69H559.65V288.86H561.83V289.03H564V289.2H566.18V289.37H568.36V289.53H570.54V289.7H572.72V289.84H574.9V289.94H577.08V290.04H579.26V290.14H581.43V290.24H583.61V290.34H585.79V290.44H587.97V290.54H590.15V290.62H592.33V290.67H594.51V290.72H596.69V290.77H598.87V290.82H601.04V290.87H603.22V290.92H605.4V290.97H607.58V291.01H609.76V291.03H611.94V291.05H614.12V291.07H616.3V291.09H618.47V291.11H620.65V291.13H622.83V291.15H625.01V291.18H627.19V291.2H629.37V291.22H631.55V291.24H633.73V291.26H635.9V291.28H638.08V291.3H640.26V291.32H642.44V291.33H644.62V291.34H646.8V291.34H648.98V291.35H651.15V291.35H653.33V291.36H655.51V291.36H657.69V291.36H659.87V291.37H662.05V291.37H664.23V291.38H666.41V291.38H668.59V291.39H670.76V291.39H672.94V291.39H675.12V291.4H677.3V291.4" fill="none" stroke="#e8a325" stroke-width="1.0"/>
<path d="M504.2 291.4V283.25H505.18V275.66H507.36V265.88H509.54V237.47H511.71V219.06H513.89V198.59H516.07V198.06H518.25V199.13H520.43V223.36H522.61V241.09H524.79V258.08H526.97V271.02H529.14V278.33H531.32V281.76H533.5V283.64H535.68V284.87H537.86V285.6H540.04V286.19H542.22V286.9H544.4V287.09H546.58V287.6H548.75V288.05H550.93V288.34H553.11V288.48H555.29V288.69H557.47V288.83H559.65V289.09H561.83V289.22H564V289.54H566.18V289.69H568.36V289.9H570.54V290.15H572.72V290.26H574.9V290.25H577.08V290.32H579.26V290.4H581.43V290.44H583.61V290.52H585.79V290.55H587.97V290.63H590.15V290.66H592.33V290.71H594.51V290.78H596.69V290.82H598.87V290.89H601.04V290.9H603.22V290.93H605.4V290.94H607.58V290.96H609.76V290.99H611.94V291.01H614.12V291.02H616.3V291.04H618.47V291.08H620.65V291.09H622.83V291.13H625.01V291.14H627.19V291.14H629.37V291.15H631.55V291.17H633.73V291.17H635.9V291.18H638.08V291.19H640.26V291.2H642.44V291.2H644.62V291.21H646.8V291.22H648.98V291.23H651.15V291.24H653.33V291.25H655.51V291.25H657.69V291.26H659.87V291.27H662.05V291.28H664.23V291.29H666.41V291.29H668.59V291.3H670.76V291.31H672.94V291.32H675.12V291.33H677.3V291.4" fill="none" stroke="#111" stroke-width="1.0"/>
</g>
<clipPath id="clHr"><rect x="504.2" y="165" width="174" height="18.4"/></clipPath><g clip-path="url(#clHr)">
<path d="M504.2 175.73V175.73H505.18V177.78H507.36V175.5H509.54V174.1H511.71V170.51H513.89V169.54H516.07V170.57H518.25V171.23H520.43V174.45H522.61V175.93H524.79V177.02H526.97V178.17H529.14V176.78H531.32V175.77H533.5V174.74H535.68V173.89H537.86V174.74H540.04V175.46H542.22V174.35H544.4V173.49H546.58V173.35H548.75V172.6H550.93V172.12H553.11V172.6H555.29V172.45H557.47V173.18H559.65V171.5H561.83V172.58H564V173.37H566.18V173.63H568.36V173.28H570.54V171.88H572.72V172.64H574.9V174.68H577.08V173.38H579.26V173.06H581.43V172.88H583.61V173.34H585.79V174.39H587.97V173.74H590.15V174.66H592.33V176.06H594.51V174.79H596.69V174.77H598.87V173.53H601.04V173.67H603.22V175.64H605.4V174.86H607.58V175.05H609.76V176.31H611.94V176.82H614.12V175.2H616.3V175.12H618.47V175.96H620.65V177.94H622.83V175.95H625.01V176.63H627.19V177.12H629.37V176.88H631.55V177.78H633.73V176.38H635.9V176.61H638.08V176.85H640.26V175.92H642.44V176.18H644.62V177.64H646.8V176.73H648.98V177.22H651.15V178.4H653.33V177.5H655.51V176.61H657.69V177.47H659.87V176.18H662.05V176.7H664.23V179.28H666.41V180.87H668.59V177.38H670.76V174.47H672.94V174.94H675.12V174.55H677.3" fill="none" stroke="#111" stroke-width="0.9"/>
</g>
<line x1="537.86" y1="291.4" x2="537.86" y2="289.6" stroke="#1a1a1a" stroke-width="0.8"/>
<line x1="537.86" y1="183.4" x2="537.86" y2="185.2" stroke="#1a1a1a" stroke-width="0.8"/>
<line x1="537.86" y1="183.4" x2="537.86" y2="181.6" stroke="#1a1a1a" stroke-width="0.8"/>
<line x1="537.86" y1="165" x2="537.86" y2="166.8" stroke="#1a1a1a" stroke-width="0.8"/>
<text font-size="7.6" fill="#1a1a1a" text-anchor="middle" transform="translate(537.86 302.6) scale(1.12 1)">0.2</text>
<line x1="572.72" y1="291.4" x2="572.72" y2="289.6" stroke="#1a1a1a" stroke-width="0.8"/>
<line x1="572.72" y1="183.4" x2="572.72" y2="185.2" stroke="#1a1a1a" stroke-width="0.8"/>
<line x1="572.72" y1="183.4" x2="572.72" y2="181.6" stroke="#1a1a1a" stroke-width="0.8"/>
<line x1="572.72" y1="165" x2="572.72" y2="166.8" stroke="#1a1a1a" stroke-width="0.8"/>
<text font-size="7.6" fill="#1a1a1a" text-anchor="middle" transform="translate(572.72 302.6) scale(1.12 1)">0.4</text>
<line x1="607.58" y1="291.4" x2="607.58" y2="289.6" stroke="#1a1a1a" stroke-width="0.8"/>
<line x1="607.58" y1="183.4" x2="607.58" y2="185.2" stroke="#1a1a1a" stroke-width="0.8"/>
<line x1="607.58" y1="183.4" x2="607.58" y2="181.6" stroke="#1a1a1a" stroke-width="0.8"/>
<line x1="607.58" y1="165" x2="607.58" y2="166.8" stroke="#1a1a1a" stroke-width="0.8"/>
<text font-size="7.6" fill="#1a1a1a" text-anchor="middle" transform="translate(607.58 302.6) scale(1.12 1)">0.6</text>
<line x1="642.44" y1="291.4" x2="642.44" y2="289.6" stroke="#1a1a1a" stroke-width="0.8"/>
<line x1="642.44" y1="183.4" x2="642.44" y2="185.2" stroke="#1a1a1a" stroke-width="0.8"/>
<line x1="642.44" y1="183.4" x2="642.44" y2="181.6" stroke="#1a1a1a" stroke-width="0.8"/>
<line x1="642.44" y1="165" x2="642.44" y2="166.8" stroke="#1a1a1a" stroke-width="0.8"/>
<text font-size="7.6" fill="#1a1a1a" text-anchor="middle" transform="translate(642.44 302.6) scale(1.12 1)">0.8</text>
<text font-size="7.6" fill="#1a1a1a" text-anchor="middle" transform="translate(677.3 302.6) scale(1.12 1)">1</text>
<text font-size="8.0" fill="#1a1a1a" text-anchor="middle" textLength="55.8" lengthAdjust="spacingAndGlyphs" transform="translate(592.5 312.6)">Proximity Ratio</text>
<line x1="504.2" y1="291.4" x2="506" y2="291.4" stroke="#1a1a1a" stroke-width="0.8"/>
<line x1="678.2" y1="291.4" x2="676.4" y2="291.4" stroke="#1a1a1a" stroke-width="0.8"/>
<text font-size="7.3" fill="#1a1a1a" text-anchor="end" transform="translate(500.5 294) scale(1.15 1)">0</text>
<line x1="504.2" y1="277.95" x2="506" y2="277.95" stroke="#1a1a1a" stroke-width="0.8"/>
<line x1="678.2" y1="277.95" x2="676.4" y2="277.95" stroke="#1a1a1a" stroke-width="0.8"/>
<text font-size="7.3" fill="#1a1a1a" text-anchor="end" transform="translate(500.5 280.55) scale(1.15 1)">100</text>
<line x1="504.2" y1="264.5" x2="506" y2="264.5" stroke="#1a1a1a" stroke-width="0.8"/>
<line x1="678.2" y1="264.5" x2="676.4" y2="264.5" stroke="#1a1a1a" stroke-width="0.8"/>
<text font-size="7.3" fill="#1a1a1a" text-anchor="end" transform="translate(500.5 267.1) scale(1.15 1)">200</text>
<line x1="504.2" y1="251.05" x2="506" y2="251.05" stroke="#1a1a1a" stroke-width="0.8"/>
<line x1="678.2" y1="251.05" x2="676.4" y2="251.05" stroke="#1a1a1a" stroke-width="0.8"/>
<text font-size="7.3" fill="#1a1a1a" text-anchor="end" transform="translate(500.5 253.65) scale(1.15 1)">300</text>
<line x1="504.2" y1="237.6" x2="506" y2="237.6" stroke="#1a1a1a" stroke-width="0.8"/>
<line x1="678.2" y1="237.6" x2="676.4" y2="237.6" stroke="#1a1a1a" stroke-width="0.8"/>
<text font-size="7.3" fill="#1a1a1a" text-anchor="end" transform="translate(500.5 240.2) scale(1.15 1)">400</text>
<line x1="504.2" y1="224.15" x2="506" y2="224.15" stroke="#1a1a1a" stroke-width="0.8"/>
<line x1="678.2" y1="224.15" x2="676.4" y2="224.15" stroke="#1a1a1a" stroke-width="0.8"/>
<text font-size="7.3" fill="#1a1a1a" text-anchor="end" transform="translate(500.5 226.75) scale(1.15 1)">500</text>
<line x1="504.2" y1="210.7" x2="506" y2="210.7" stroke="#1a1a1a" stroke-width="0.8"/>
<line x1="678.2" y1="210.7" x2="676.4" y2="210.7" stroke="#1a1a1a" stroke-width="0.8"/>
<text font-size="7.3" fill="#1a1a1a" text-anchor="end" transform="translate(500.5 213.3) scale(1.15 1)">600</text>
<text font-size="7.3" fill="#1a1a1a" text-anchor="end" transform="translate(500.5 167.8) scale(1.15 1)">10</text>
<text font-size="7.3" fill="#1a1a1a" text-anchor="end" transform="translate(500.5 176.8) scale(1.15 1)">0</text>
<text font-size="7.3" fill="#1a1a1a" text-anchor="end" transform="translate(500.5 185.8) scale(1.15 1)">-10</text>
<rect x="504.2" y="165" width="174" height="18.4" fill="none" stroke="#1a1a1a" stroke-width="1.1"/>
<rect x="504.2" y="183.4" width="174" height="108" fill="none" stroke="#1a1a1a" stroke-width="1.1"/>
<text font-size="8.2" fill="#1a1a1a" text-anchor="end" textLength="66.4" lengthAdjust="spacingAndGlyphs" transform="translate(672.6 196.4)">yHsp90 w/ATP&#947;S</text>
<text font-size="8.4" fill="#1a1a1a" text-anchor="middle" transform="translate(483.6 237.5) scale(1.1 1) rotate(-90)">#</text>
<text font-size="7.8" fill="#1a1a1a" text-anchor="middle" transform="translate(481.4 184.6) scale(1.1 1) rotate(-90)">w</text>
<text font-size="7.8" fill="#1a1a1a" text-anchor="middle" transform="translate(487.2 171.6) scale(1.1 1) rotate(-90)">res</text>
<clipPath id="clI"><rect x="504.2" y="377.7" width="174" height="111.4"/></clipPath><g clip-path="url(#clI)">
<path d="M504.2 489.1V480.03H506.4V434.63H509.8V411.51H513.2V395.21H516.6V402.98H519.99V408.8H523.39V422.77H526.79V430.6H530.19V440.01H533.59V443.96H536.99V445.95H540.39V456.22H543.79V446.69H547.19V453.29H550.58V453.11H553.98V456.43H557.38V461.38H560.78V459.01H564.18V459.7H567.58V462.56H570.98V466.36H574.38V464.63H577.77V468.82H581.17V467.85H584.57V466.45H587.97V468.25H591.37V471.64H594.77V472.82H598.17V470.86H601.57V477.19H604.97V474.31H608.36V476.51H611.76V479.74H615.16V475.33H618.56V478.39H621.96V476.47H625.36V476.26H628.76V478.67H632.16V481.2H635.56V480.42H638.95V483.39H642.35V482.59H645.75V487.58H649.15V485.95H652.55V489.14H655.95V489.51H659.35V491.59H662.75V493.26H666.14V490.22H669.54V489.08H672.94V490H676.34V489.1Z" fill="#8f8f8f" stroke="none" stroke-width="1"/>
<line x1="539.2" y1="445.73" x2="539.2" y2="422" stroke="#a9a9a9" stroke-width="1.3"/>
<line x1="556.9" y1="456.9" x2="556.9" y2="449" stroke="#a9a9a9" stroke-width="1.3"/>
<line x1="574.2" y1="465.48" x2="574.2" y2="454" stroke="#a9a9a9" stroke-width="1.3"/>
<line x1="578.5" y1="467.3" x2="578.5" y2="457" stroke="#a9a9a9" stroke-width="1.3"/>
<line x1="608" y1="474.21" x2="608" y2="466" stroke="#a9a9a9" stroke-width="1.3"/>
<line x1="614" y1="474.79" x2="614" y2="470" stroke="#a9a9a9" stroke-width="1.3"/>
<line x1="633" y1="478.37" x2="633" y2="470" stroke="#a9a9a9" stroke-width="1.3"/>
<line x1="640" y1="481.07" x2="640" y2="476" stroke="#a9a9a9" stroke-width="1.3"/>
<line x1="650" y1="485.63" x2="650" y2="478" stroke="#a9a9a9" stroke-width="1.3"/>
<line x1="655" y1="487.51" x2="655" y2="480" stroke="#a9a9a9" stroke-width="1.3"/>
<line x1="660" y1="488.54" x2="660" y2="483" stroke="#a9a9a9" stroke-width="1.3"/>
<path d="M504.2 489.1V485.41H506.4V437.86H509.8V427.49H513.2V424.8H516.6V435.78H519.99V451.46H523.39V467.4H526.79V476.58H530.19V481.99H533.59V485.22H536.99V487.59H540.39V489H543.79V489H547.19V489.01H550.58V489.01H553.98V489.01H557.38V489.01H560.78V489.02H564.18V489.02H567.58V489.02H570.98V489.02H574.38V489.03H577.77V489.03H581.17V489.03H584.57V489.03H587.97V489.04H591.37V489.04H594.77V489.04H598.17V489.04H601.57V489.05H604.97V489.05H608.36V489.05H611.76V489.05H615.16V489.06H618.56V489.06H621.96V489.06H625.36V489.06H628.76V489.07H632.16V489.07H635.56V489.07H638.95V489.07H642.35V489.08H645.75V489.08H649.15V489.08H652.55V489.08H655.95V489.09H659.35V489.09H662.75V489.09H666.14V489.09H669.54V489.1H672.94V489.1H676.34V489.1" fill="none" stroke="#6a3d9a" stroke-width="0.9"/>
<path d="M504.2 489.1V488.12H506.4V482.14H509.8V473.72H513.2V467.57H516.6V463.91H519.99V464.63H523.39V467.89H526.79V474.39H530.19V478.79H533.59V481.92H536.99V483.93H540.39V485.06H543.79V485.94H547.19V486.5H550.58V487.09H553.98V487.71H557.38V488.23H560.78V488.67H564.18V489H567.58V489H570.98V489.01H574.38V489.01H577.77V489.01H581.17V489.02H584.57V489.02H587.97V489.02H591.37V489.02H594.77V489.03H598.17V489.03H601.57V489.03H604.97V489.04H608.36V489.04H611.76V489.04H615.16V489.05H618.56V489.05H621.96V489.05H625.36V489.05H628.76V489.06H632.16V489.06H635.56V489.06H638.95V489.07H642.35V489.07H645.75V489.07H649.15V489.08H652.55V489.08H655.95V489.08H659.35V489.08H662.75V489.09H666.14V489.09H669.54V489.09H672.94V489.1H676.34V489.1" fill="none" stroke="#1f78c8" stroke-width="0.9"/>
<path d="M504.2 489.1V489H506.4V485.15H509.8V480.69H513.2V477.21H516.6V472.31H519.99V466.32H523.39V459.33H526.79V456.27H530.19V455.87H533.59V454.59H536.99V453.56H540.39V452.16H543.79V452.16H547.19V455.35H550.58V456.96H553.98V458.94H557.38V458.33H560.78V461.43H564.18V462.98H567.58V464.93H570.98V465.27H574.38V467.48H577.77V468.22H581.17V470.11H584.57V470.44H587.97V470.32H591.37V471.74H594.77V475.12H598.17V474.75H601.57V475.96H604.97V474.66H608.36V479.52H611.76V480.53H615.16V482.12H618.56V481.65H621.96V482.54H625.36V484.58H628.76V483.87H632.16V484.01H635.56V486.91H638.95V486.53H642.35V487.42H645.75V487.83H649.15V488.25H652.55V488.66H655.95V488.87H659.35V488.97H662.75V489.02H666.14V489.04H669.54V489.06H672.94V489.08H676.34V489.1" fill="none" stroke="#e8a325" stroke-width="1.0"/>
<path d="M504.2 489.1V489.1H506.4V489.09H509.8V489.09H513.2V489.08H516.6V489.08H519.99V489.07H523.39V489.07H526.79V489.06H530.19V489.06H533.59V489.05H536.99V489.05H540.39V489.04H543.79V489.04H547.19V489.04H550.58V489.03H553.98V489.03H557.38V489.02H560.78V489.02H564.18V489.01H567.58V489.01H570.98V489H574.38V488.78H577.77V488.54H581.17V488.3H584.57V488.06H587.97V487.82H591.37V487.24H594.77V486.62H598.17V486.12H601.57V485.75H604.97V485.38H608.36V483.59H611.76V483.04H615.16V482.48H618.56V481.97H621.96V481.5H625.36V481.38H628.76V481.86H632.16V482.32H635.56V482.78H638.95V483.86H642.35V484.94H645.75V485.99H649.15V487.02H652.55V487.95H655.95V488.57H659.35V489.01H662.75V489.02H666.14V489.04H669.54V489.06H672.94V489.08H676.34V489.1" fill="none" stroke="#e0502a" stroke-width="1.0"/>
<path d="M504.2 489.1V470.96H506.4V430.58H509.8V411.49H513.2V394.84H516.6V400.98H519.99V408.68H523.39V418.97H526.79V428.92H530.19V435.64H533.59V443.42H536.99V445.6H540.39V452.53H543.79V446.17H547.19V450.05H550.58V453.01H553.98V454.63H557.38V457.99H560.78V457.78H564.18V459H567.58V462.09H570.98V463.01H574.38V462.96H577.77V466.24H581.17V466.37H584.57V464.61H587.97V467.25H591.37V471.17H594.77V470.52H598.17V469.2H601.57V475.02H604.97V472.96H608.36V473.45H611.76V474.98H615.16V474.27H618.56V476.85H621.96V474.15H625.36V473.58H628.76V478.57H632.16V478.96H635.56V479.83H638.95V482.14H642.35V482.2H645.75V485.71H649.15V485.3H652.55V487.27H655.95V488.32H659.35V488.64H662.75V488.95H666.14V489.02H669.54V489.05H672.94V489.07H676.34V489.1" fill="none" stroke="#111" stroke-width="1.0"/>
<rect x="588.8" y="463.8" width="1.8" height="18.2" fill="#8f8f8f" stroke="#111" stroke-width="0.8"/>
<rect x="547" y="443.6" width="1.8" height="15.4" fill="#8f8f8f" stroke="#111" stroke-width="0.8"/>
<rect x="538.6" y="437" width="1.8" height="15" fill="#8f8f8f" stroke="#111" stroke-width="0.8"/>
<rect x="573.5" y="462" width="1.8" height="8" fill="#8f8f8f" stroke="#111" stroke-width="0.8"/>
<rect x="512.5" y="394" width="1.8" height="10" fill="#8f8f8f" stroke="#111" stroke-width="0.8"/>
</g>
<clipPath id="clIr"><rect x="504.2" y="358.6" width="174" height="19.1"/></clipPath><g clip-path="url(#clIr)">
<path d="M504.2 364.6V364.6H505.18V369.24H507.36V368.33H509.54V368.09H511.71V368.08H513.89V365.94H516.07V367.07H518.25V366.21H520.43V365.94H522.61V369.13H524.79V369.65H526.97V367.53H529.14V368.13H531.32V369.85H533.5V367.9H535.68V365.72H537.86V366.42H540.04V368.76H542.22V368.7H544.4V368.94H546.58V369.36H548.75V366.09H550.93V367.8H553.11V365.66H555.29V366.21H557.47V367.22H559.65V367.68H561.83V368.06H564V368.8H566.18V367.1H568.36V366.64H570.54V366.78H572.72V367.16H574.9V367.53H577.08V368.56H579.26V368.58H581.43V369.18H583.61V367.48H585.79V368.3H587.97V366.74H590.15V367.88H592.33V366.53H594.51V366.66H596.69V366.92H598.87V367.33H601.04V368.44H603.22V368.44H605.4V368.76H607.58V367.84H609.76V366.57H611.94V368.44H614.12V365.53H616.3V367.8H618.47V368.5H620.65V367.59H622.83V367.27H625.01V368.48H627.19V368.98H629.37V366.87H631.55V369.04H633.73V367.57H635.9V368.45H638.08V369.08H640.26V369H642.44V370.1H644.62V370.36H646.8V369.51H648.98V370.77H651.15V370.57H653.33V368.65H655.51V368.14H657.69V368.43H659.87V368.47H662.05V369.35H664.23V369.08H666.41V369.71H668.59V371.17H670.76V368.65H672.94V368.39H675.12V367.57H677.3" fill="none" stroke="#111" stroke-width="0.9"/>
</g>
<line x1="537.86" y1="489.1" x2="537.86" y2="487.3" stroke="#1a1a1a" stroke-width="0.8"/>
<line x1="537.86" y1="377.7" x2="537.86" y2="379.5" stroke="#1a1a1a" stroke-width="0.8"/>
<line x1="537.86" y1="377.7" x2="537.86" y2="375.9" stroke="#1a1a1a" stroke-width="0.8"/>
<line x1="537.86" y1="358.6" x2="537.86" y2="360.4" stroke="#1a1a1a" stroke-width="0.8"/>
<text font-size="7.6" fill="#1a1a1a" text-anchor="middle" transform="translate(537.86 500.7) scale(1.12 1)">0.2</text>
<line x1="572.72" y1="489.1" x2="572.72" y2="487.3" stroke="#1a1a1a" stroke-width="0.8"/>
<line x1="572.72" y1="377.7" x2="572.72" y2="379.5" stroke="#1a1a1a" stroke-width="0.8"/>
<line x1="572.72" y1="377.7" x2="572.72" y2="375.9" stroke="#1a1a1a" stroke-width="0.8"/>
<line x1="572.72" y1="358.6" x2="572.72" y2="360.4" stroke="#1a1a1a" stroke-width="0.8"/>
<text font-size="7.6" fill="#1a1a1a" text-anchor="middle" transform="translate(572.72 500.7) scale(1.12 1)">0.4</text>
<line x1="607.58" y1="489.1" x2="607.58" y2="487.3" stroke="#1a1a1a" stroke-width="0.8"/>
<line x1="607.58" y1="377.7" x2="607.58" y2="379.5" stroke="#1a1a1a" stroke-width="0.8"/>
<line x1="607.58" y1="377.7" x2="607.58" y2="375.9" stroke="#1a1a1a" stroke-width="0.8"/>
<line x1="607.58" y1="358.6" x2="607.58" y2="360.4" stroke="#1a1a1a" stroke-width="0.8"/>
<text font-size="7.6" fill="#1a1a1a" text-anchor="middle" transform="translate(607.58 500.7) scale(1.12 1)">0.6</text>
<line x1="642.44" y1="489.1" x2="642.44" y2="487.3" stroke="#1a1a1a" stroke-width="0.8"/>
<line x1="642.44" y1="377.7" x2="642.44" y2="379.5" stroke="#1a1a1a" stroke-width="0.8"/>
<line x1="642.44" y1="377.7" x2="642.44" y2="375.9" stroke="#1a1a1a" stroke-width="0.8"/>
<line x1="642.44" y1="358.6" x2="642.44" y2="360.4" stroke="#1a1a1a" stroke-width="0.8"/>
<text font-size="7.6" fill="#1a1a1a" text-anchor="middle" transform="translate(642.44 500.7) scale(1.12 1)">0.8</text>
<text font-size="7.6" fill="#1a1a1a" text-anchor="middle" transform="translate(677.3 500.7) scale(1.12 1)">1</text>
<text font-size="8.0" fill="#1a1a1a" text-anchor="middle" textLength="55.8" lengthAdjust="spacingAndGlyphs" transform="translate(592.5 511.2)">Proximity Ratio</text>
<line x1="504.2" y1="489.1" x2="506" y2="489.1" stroke="#1a1a1a" stroke-width="0.8"/>
<line x1="678.2" y1="489.1" x2="676.4" y2="489.1" stroke="#1a1a1a" stroke-width="0.8"/>
<text font-size="7.3" fill="#1a1a1a" text-anchor="end" transform="translate(500.5 491.7) scale(1.15 1)">0</text>
<line x1="504.2" y1="466.98" x2="506" y2="466.98" stroke="#1a1a1a" stroke-width="0.8"/>
<line x1="678.2" y1="466.98" x2="676.4" y2="466.98" stroke="#1a1a1a" stroke-width="0.8"/>
<text font-size="7.3" fill="#1a1a1a" text-anchor="end" transform="translate(500.5 469.58) scale(1.15 1)">50</text>
<line x1="504.2" y1="444.85" x2="506" y2="444.85" stroke="#1a1a1a" stroke-width="0.8"/>
<line x1="678.2" y1="444.85" x2="676.4" y2="444.85" stroke="#1a1a1a" stroke-width="0.8"/>
<text font-size="7.3" fill="#1a1a1a" text-anchor="end" transform="translate(500.5 447.45) scale(1.15 1)">100</text>
<line x1="504.2" y1="422.73" x2="506" y2="422.73" stroke="#1a1a1a" stroke-width="0.8"/>
<line x1="678.2" y1="422.73" x2="676.4" y2="422.73" stroke="#1a1a1a" stroke-width="0.8"/>
<text font-size="7.3" fill="#1a1a1a" text-anchor="end" transform="translate(500.5 425.33) scale(1.15 1)">150</text>
<line x1="504.2" y1="400.6" x2="506" y2="400.6" stroke="#1a1a1a" stroke-width="0.8"/>
<line x1="678.2" y1="400.6" x2="676.4" y2="400.6" stroke="#1a1a1a" stroke-width="0.8"/>
<text font-size="7.3" fill="#1a1a1a" text-anchor="end" transform="translate(500.5 403.2) scale(1.15 1)">200</text>
<text font-size="7.3" fill="#1a1a1a" text-anchor="end" transform="translate(500.5 362) scale(1.15 1)">10</text>
<text font-size="7.3" fill="#1a1a1a" text-anchor="end" transform="translate(500.5 371.2) scale(1.15 1)">0</text>
<text font-size="7.3" fill="#1a1a1a" text-anchor="end" transform="translate(500.5 380.4) scale(1.15 1)">-10</text>
<rect x="504.2" y="358.6" width="174" height="19.1" fill="none" stroke="#1a1a1a" stroke-width="1.1"/>
<rect x="504.2" y="377.7" width="174" height="111.4" fill="none" stroke="#1a1a1a" stroke-width="1.1"/>
<text font-size="8.2" fill="#1a1a1a" text-anchor="end" textLength="66.4" lengthAdjust="spacingAndGlyphs" transform="translate(672.6 391)">hHsp90 w/ATP&#947;S</text>
<text font-size="8.4" fill="#1a1a1a" text-anchor="middle" transform="translate(483.6 433) scale(1.1 1) rotate(-90)">#</text>
<text font-size="7.8" fill="#1a1a1a" text-anchor="middle" transform="translate(481.4 379) scale(1.1 1) rotate(-90)">w</text>
<text font-size="7.8" fill="#1a1a1a" text-anchor="middle" transform="translate(487.2 366) scale(1.1 1) rotate(-90)">res</text>
<text font-size="8.4" fill="#111" textLength="49.9" lengthAdjust="spacingAndGlyphs" transform="translate(495.8 17.9)">Yeast Hsp90</text>
<text font-size="8.4" fill="#111" textLength="57" lengthAdjust="spacingAndGlyphs" transform="translate(605.5 17.9)">Human Hsp90</text>
<clipPath id="cpY"><path d="M501.4 23.5 L499.75 25.5 L496.99 27.5 L496.32 29.5 L492.61 31.5 L494.86 33.5 L492.77 35.5 L490.36 37.5 L489.59 39.5 L489.16 41.5 L489.44 43.5 L491.54 45.5 L491.16 47.5 L489.29 49.5 L489.29 51.5 L492.51 53.5 L491.17 55.5 L488.96 57.5 L489.81 59.5 L489.94 61.5 L491.36 63.5 L492.98 65.5 L491.81 67.5 L492.87 69.5 L493.35 71.5 L493.85 73.5 L492.39 75.5 L493.75 77.5 L497.43 79.5 L495.46 81.5 L496.27 83.5 L496.88 85.5 L495.64 87.5 L495.96 89.5 L498.86 91.5 L498.66 93.5 L495.83 95.5 L498.33 97.5 L498.1 99.5 L499.32 101.5 L502.32 103.5 L504.88 105.5 L503.37 107.5 L505.97 109.5 L503.08 111.5 L504.98 113.5 L505.25 115.5 L505.59 117.5 L506.87 119.5 L506.4 121.5 L505.02 123.5 L504.3 125.5 L507.07 127.5 L509.5 129.5 L510.73 131.5 L512.41 133.5 L515.05 135.5 L521.45 137.5 L524.73 139.5 L536.85 139.5 L538.11 137.5 L538.51 135.5 L537.75 133.5 L541.21 131.5 L539.78 129.5 L541.97 127.5 L540.25 125.5 L541.35 123.5 L540.56 121.5 L540.37 119.5 L540.83 117.5 L540.38 115.5 L539.73 113.5 L541.01 111.5 L536.79 109.5 L538.48 107.5 L538.9 105.5 L539.14 103.5 L539.61 101.5 L540.9 99.5 L541.87 97.5 L540.94 95.5 L544.2 93.5 L544.63 91.5 L547.37 89.5 L543.38 87.5 L545.88 85.5 L545.31 83.5 L548.68 81.5 L547.8 79.5 L547.21 77.5 L545.03 75.5 L548.05 73.5 L547.85 71.5 L548.94 69.5 L550.58 67.5 L549.75 65.5 L550.95 63.5 L550.97 61.5 L553.57 59.5 L553.31 57.5 L555.35 55.5 L555.38 53.5 L554.41 51.5 L554.48 49.5 L553.89 47.5 L554.49 45.5 L553.7 43.5 L553.66 41.5 L553.68 39.5 L553.29 37.5 L551.84 35.5 L551.52 33.5 L548.67 31.5 L547.83 29.5 L547.64 27.5 L545.97 25.5 L505.24 23.5Z"/></clipPath>
<path d="M501.4 23.5 L499.75 25.5 L496.99 27.5 L496.32 29.5 L492.61 31.5 L494.86 33.5 L492.77 35.5 L490.36 37.5 L489.59 39.5 L489.16 41.5 L489.44 43.5 L491.54 45.5 L491.16 47.5 L489.29 49.5 L489.29 51.5 L492.51 53.5 L491.17 55.5 L488.96 57.5 L489.81 59.5 L489.94 61.5 L491.36 63.5 L492.98 65.5 L491.81 67.5 L492.87 69.5 L493.35 71.5 L493.85 73.5 L492.39 75.5 L493.75 77.5 L497.43 79.5 L495.46 81.5 L496.27 83.5 L496.88 85.5 L495.64 87.5 L495.96 89.5 L498.86 91.5 L498.66 93.5 L495.83 95.5 L498.33 97.5 L498.1 99.5 L499.32 101.5 L502.32 103.5 L504.88 105.5 L503.37 107.5 L505.97 109.5 L503.08 111.5 L504.98 113.5 L505.25 115.5 L505.59 117.5 L506.87 119.5 L506.4 121.5 L505.02 123.5 L504.3 125.5 L507.07 127.5 L509.5 129.5 L510.73 131.5 L512.41 133.5 L515.05 135.5 L521.45 137.5 L524.73 139.5 L536.85 139.5 L538.11 137.5 L538.51 135.5 L537.75 133.5 L541.21 131.5 L539.78 129.5 L541.97 127.5 L540.25 125.5 L541.35 123.5 L540.56 121.5 L540.37 119.5 L540.83 117.5 L540.38 115.5 L539.73 113.5 L541.01 111.5 L536.79 109.5 L538.48 107.5 L538.9 105.5 L539.14 103.5 L539.61 101.5 L540.9 99.5 L541.87 97.5 L540.94 95.5 L544.2 93.5 L544.63 91.5 L547.37 89.5 L543.38 87.5 L545.88 85.5 L545.31 83.5 L548.68 81.5 L547.8 79.5 L547.21 77.5 L545.03 75.5 L548.05 73.5 L547.85 71.5 L548.94 69.5 L550.58 67.5 L549.75 65.5 L550.95 63.5 L550.97 61.5 L553.57 59.5 L553.31 57.5 L555.35 55.5 L555.38 53.5 L554.41 51.5 L554.48 49.5 L553.89 47.5 L554.49 45.5 L553.7 43.5 L553.66 41.5 L553.68 39.5 L553.29 37.5 L551.84 35.5 L551.52 33.5 L548.67 31.5 L547.83 29.5 L547.64 27.5 L545.97 25.5 L505.24 23.5Z" fill="#f3f4fa" stroke="none"/>
<g clip-path="url(#cpY)" fill="none" stroke-linecap="round" stroke-linejoin="round">
<path d="M546.26 61.37L544.46 66.78M541.95 122.66L537.58 124.25M550.87 64.6L544.27 68.44M495.6 69.86L500.12 70.87M535.35 90.61L529.34 93.28M520 63.89L523.99 67.15M514.75 110.04L520.46 114.65M510.14 106.97L504.89 112.33M530.17 108.17L526.48 114.67M516.15 59.13L518.38 63.66M524.14 72.21L527.68 78.52M504.99 72.72L501.87 78.32M548.54 57.64L553.77 58.11M515.31 40.29L508.17 42.93M524.59 41.25L529.4 42.62M529.31 101.42L522.74 104.86M510.59 57.73L501.8 58.22M517.71 48.02L509.11 49.14M533.45 27.48L537.94 29.26M505.65 89.73L499.42 90.7M529.52 101.81L528.9 106.24M511.65 104.57L512.33 108.68M513.45 48.74L512.19 56.35M528.89 100.39L526.6 106.97M536.67 40.04L535.79 46.9M536.97 93.9L543.5 95.83M510.18 40.6L509.25 49.4M539.99 88.48L533.88 93.84M511.67 67.88L507.45 74.97M527.74 113.21L528.85 119.15M539.28 119.11L536.8 126.39M522.26 122.18L530.22 125.07M501.96 55.94L506.37 56.63M517.97 101.35L516.61 107.53M540.04 38.02L534.7 43.27M526.55 121.7L524.15 128.41M513.84 30.68L515.83 37.45M520.13 43.75L524.22 45.97M544.99 24.55L541.81 27.78M544.08 82.38L538.39 86.66M514.67 38.07L512.84 41.76M530.06 92.79L523.11 97.89M550.3 49.59L554.05 52.5M535.44 34.28L532 36.77M515.86 44.61L519.24 52.37M535.97 35.34L539.94 38.42M542.49 93.72L539.75 98.74M532.81 126.84L536.67 131.64M509.88 51.33L504.98 53.91M510.3 63.09L511.62 69.2M552.3 72.35L543.55 74.46M514.4 40.57L507.65 41.72M497.62 50.73L493.56 51.96M517.22 89.16L513.11 89.23M538.14 55.53L537.91 60.22M521.46 62.61L518.01 67.65M494.97 73.09L492.91 77.64M526.15 78.29L518.48 79.24M542.34 56.7L541.49 63.01M537.1 77.59L539.85 84.55M542.75 34.89L550.75 37.34M508.46 107.69L508.5 113.77M516.84 98.36L512.65 100.72M537.35 52.09L536.49 56.64M527.97 35.83L523.53 37.51M521.67 95.16L522.81 102.75M540.31 93.4L536.73 99.29M507.37 52.42L514.54 55.91M511.76 110.39L512.38 115.27M497.56 28.71L493.46 31.61M525.07 127.49L518.6 130.67M539.54 102.13L535.64 107.9M526.8 69.78L529.61 74.74M543.41 47.86L536.83 50.85M537.92 23.91L544.57 28.88M541.48 27.58L539.84 31.44M506.86 32.03L499.54 37.03M536.68 58.66L534.8 62.63M510.19 93.54L502.24 94.47M523.73 70.82L527.53 76.4M513.31 38.48L509.23 45.07M522.56 38.94L521.81 47.03M514.58 47.67L511.06 50.76M533.27 43.23L529.75 45.31M542.3 30.43L536.62 31.18M496.83 32.29L497.21 41.25M502.35 71.05L498.41 74.43M503.87 53.94L507.85 57.34M529.96 65.9L522.31 68.37M496.32 26.64L498.11 32.55M503.25 69.89L496.72 71.81M502.97 41.28L510.54 43.57M525.28 24.72L519.72 28.68M527.82 123.19L533.39 127.32" stroke="#6269a3" stroke-width="2.2"/>
<path d="M546.26 61.37L544.46 66.78M541.95 122.66L537.58 124.25M550.87 64.6L544.27 68.44M495.6 69.86L500.12 70.87M535.35 90.61L529.34 93.28M520 63.89L523.99 67.15M514.75 110.04L520.46 114.65M510.14 106.97L504.89 112.33M530.17 108.17L526.48 114.67M516.15 59.13L518.38 63.66M524.14 72.21L527.68 78.52M504.99 72.72L501.87 78.32M548.54 57.64L553.77 58.11M515.31 40.29L508.17 42.93M524.59 41.25L529.4 42.62M529.31 101.42L522.74 104.86M510.59 57.73L501.8 58.22M517.71 48.02L509.11 49.14M533.45 27.48L537.94 29.26M505.65 89.73L499.42 90.7M529.52 101.81L528.9 106.24M511.65 104.57L512.33 108.68M513.45 48.74L512.19 56.35M528.89 100.39L526.6 106.97M536.67 40.04L535.79 46.9M536.97 93.9L543.5 95.83M510.18 40.6L509.25 49.4M539.99 88.48L533.88 93.84M511.67 67.88L507.45 74.97M527.74 113.21L528.85 119.15M539.28 119.11L536.8 126.39M522.26 122.18L530.22 125.07M501.96 55.94L506.37 56.63M517.97 101.35L516.61 107.53M540.04 38.02L534.7 43.27M526.55 121.7L524.15 128.41M513.84 30.68L515.83 37.45M520.13 43.75L524.22 45.97M544.99 24.55L541.81 27.78M544.08 82.38L538.39 86.66M514.67 38.07L512.84 41.76M530.06 92.79L523.11 97.89M550.3 49.59L554.05 52.5M535.44 34.28L532 36.77M515.86 44.61L519.24 52.37M535.97 35.34L539.94 38.42M542.49 93.72L539.75 98.74M532.81 126.84L536.67 131.64M509.88 51.33L504.98 53.91M510.3 63.09L511.62 69.2M552.3 72.35L543.55 74.46M514.4 40.57L507.65 41.72M497.62 50.73L493.56 51.96M517.22 89.16L513.11 89.23M538.14 55.53L537.91 60.22M521.46 62.61L518.01 67.65M494.97 73.09L492.91 77.64M526.15 78.29L518.48 79.24M542.34 56.7L541.49 63.01M537.1 77.59L539.85 84.55M542.75 34.89L550.75 37.34M508.46 107.69L508.5 113.77M516.84 98.36L512.65 100.72M537.35 52.09L536.49 56.64M527.97 35.83L523.53 37.51M521.67 95.16L522.81 102.75M540.31 93.4L536.73 99.29M507.37 52.42L514.54 55.91M511.76 110.39L512.38 115.27M497.56 28.71L493.46 31.61M525.07 127.49L518.6 130.67M539.54 102.13L535.64 107.9M526.8 69.78L529.61 74.74M543.41 47.86L536.83 50.85M537.92 23.91L544.57 28.88M541.48 27.58L539.84 31.44M506.86 32.03L499.54 37.03M536.68 58.66L534.8 62.63M510.19 93.54L502.24 94.47M523.73 70.82L527.53 76.4M513.31 38.48L509.23 45.07M522.56 38.94L521.81 47.03M514.58 47.67L511.06 50.76M533.27 43.23L529.75 45.31M542.3 30.43L536.62 31.18M496.83 32.29L497.21 41.25M502.35 71.05L498.41 74.43M503.87 53.94L507.85 57.34M529.96 65.9L522.31 68.37M496.32 26.64L498.11 32.55M503.25 69.89L496.72 71.81M502.97 41.28L510.54 43.57M525.28 24.72L519.72 28.68M527.82 123.19L533.39 127.32" stroke="#a6abd6" stroke-width="1.5"/>
<path d="M529.01 106.22Q528.62 114.26 531.52 110.71M510.66 119.39Q512.19 121.97 513.54 121.9M511.1 103.8Q512.34 110.34 513.56 107.73M489.33 51.74Q494.89 53.59 495.58 53.89M527.3 31.22Q524.56 32.92 523.87 38.18M539.35 42.85Q537.62 46.88 533.18 43.51M544.61 72.21Q538.52 67.02 537.89 72.62M534.27 33.72Q534.77 30.97 529.15 34.44M505.74 70.1Q505.4 75.72 509.67 72.81M525.47 95.3Q524.7 97.16 521.72 97.64M526.52 120.53Q531.79 123.39 529.77 123.88M531.72 123.8Q530 124.49 533.96 126.78M545.7 79.2Q543.98 78.9 542.03 81.15M525.51 85.17Q529.25 87.49 525.42 91.28M502.34 73.72Q505.73 71.93 508.5 74.51M540.41 26.49Q540.15 21.71 533.12 29.71M533.22 103.67Q526.74 107.49 529.53 104.62M532.84 95.91Q531.58 94.53 534.92 99.65M524.96 31.49Q524.65 34.53 526.1 35.58M547.43 25.27Q542.34 24.53 539.76 25.66M507.09 81.31Q510.08 84.36 504.32 83.04M504.12 88.72Q503.02 88.21 497.3 90.77M502.83 35.53Q502.47 33.45 499.8 38.01M528.06 129.7Q532.18 137.6 533.88 133.66M521.52 115.08Q521.19 119.34 526.47 117.8M508.46 61.03Q501.49 59.94 504.73 65.14M538.21 94.63Q537.46 90.69 538.09 100.33M517.21 51.55Q514.68 54.72 520.07 52.87M535.48 116.93Q540.88 117.87 539.69 117.52M538.83 59.59Q547.02 65.72 542.17 64.05M538.42 62.39Q547.21 62.05 544.95 62.46M535.71 59.82Q533.77 60.03 537.49 63.21M525.55 65Q520.85 66.4 528 68.65M524.2 112.88Q524.12 119.04 527.42 116.8M539.22 99.82Q536.39 106.76 531.38 100.33M518.25 83.28Q513.73 84.36 521.78 83.38M503.76 99.87Q502.75 103.81 507.3 106.12M525.35 34.4Q526.74 38.99 529.99 38.79M531.03 93.21Q536.64 96.78 531.3 101.03M514.2 121.57Q512.51 126.34 512.54 126.27M526.1 23.78Q531.33 28.19 526.59 28.76M552.3 53.25Q564.06 53.54 557.13 55.47M544.9 28.12Q541.11 35.82 548.97 32.63M500.05 93.09Q504.55 95.7 500.83 97.12M502.29 43.42Q503.77 42.42 505.11 46.36M526.36 64.57Q528.58 66.26 527.14 72.09M494.4 78.13Q499.03 87.81 497.21 85.02M527.3 25.58Q524.81 25.47 520.61 27.56M504.98 27.21Q501.49 27.61 505.31 30.56M524.23 124.01Q522.13 123.51 518.92 126.95M515.57 121.76Q514.57 122.8 514.12 127.23M503.48 64.92Q508.21 68.16 506.19 67.29M497.37 60.61Q498.29 64.68 501.47 63.99M540.5 126.12Q539.71 130.51 540.42 131.56M535.85 53.88Q533.96 55.49 534.92 57.52M508.5 82Q503.78 87.84 510.24 87.7M523.8 128.92Q516.85 127.14 518.44 132.68M530.64 36.44Q531.32 39.63 527.42 39.4M534.17 94.92Q529.9 95.9 528.68 100.52M525.97 94.08Q526.78 95.8 532.92 94.17M502.3 94.88Q507.02 96.71 507 95.68M494.82 38.18Q494.32 36.04 487.9 40.41M517.64 120.91Q518.58 123.54 521.04 122.96M498.41 29.51Q495.42 27.08 496.23 32.11M530.21 56.68Q532.92 56.08 535.21 62.07M535.78 85.14Q535.01 84.07 532.31 85.59M520.33 88.94Q523.66 87.91 523.82 96.03M538.23 24.62Q536.02 28.22 533.02 30.6M513.62 115.1Q516.52 111.74 512.81 120.79M527.12 102.64Q522.85 101.64 522.02 102.87M519.17 87.18Q518.53 94.85 519.69 90.66M528.39 118.4Q537.76 118.22 528.74 121.68M521.46 77.36Q517.38 79.35 519.07 81.36M532.99 73.82Q526.54 67.91 528.35 74.84M504.53 86.48Q498.57 90.94 500.76 88.26M534.52 99.64Q531.72 99.41 527.89 101.66M537.08 26.78Q536.45 28.43 533.14 27.18M505.41 61.21Q498.58 60.37 503.09 65.04M533.14 72.31Q531.25 74.85 531.61 76M516.18 133.51Q517.59 136.27 521.61 138.09M541.33 64.5Q546.09 67.58 536.61 70.76M547.89 65.54Q549.55 69.07 546.68 71.79M548.8 53.87Q554.49 54.88 552.25 54.79M489.31 37.96Q490 37.87 491.43 44.39M529.44 105.92Q528.59 107.09 527.04 110.07M503.31 33.75Q502.65 35.08 502.23 39.54M510.09 62.38Q512.2 65.47 506.27 65.51M540.05 69.63Q541.21 73.6 534.98 73.51M522.78 48.49Q523 45.01 521.65 51.57M516.64 131.83Q514.9 128.34 517.93 135.57M522.12 25.86Q519.12 25.24 522.69 32.82M491.42 58.04Q493.49 57.87 496.02 63.51M543.97 48.54Q544.18 48.06 544.51 54.05M513.15 107Q518.27 109.61 517.12 108.55M512.52 27.4Q513.79 26.71 519.37 27.65M524.51 103.09Q517.19 105.99 523.65 106.75M496.55 37.68Q496.98 39.94 500.77 39.61M532.74 94.15Q535.65 98.9 536.81 94.95" stroke="#6269a3" stroke-width="0.7"/>
<path d="M539.74 37.68L541.63 39.1L539.28 39.37L541.18 40.79L538.83 41.07L540.72 42.48L538.37 42.76L540.27 44.18L537.91 44.46L539.81 45.87M516.1 109.25L518.32 108.38L517.35 110.56L519.57 109.7L518.6 111.87L520.82 111.01L519.85 113.18L522.07 112.32L521.1 114.49M492.78 75.63L494.64 74.18L494.24 76.51L496.1 75.06L495.7 77.38L497.57 75.93L497.16 78.26L499.03 76.81L498.63 79.13M510.37 99.09L511.42 101.23L509.15 100.49L510.21 102.63L507.94 101.88L509 104.02L506.73 103.27L507.78 105.41L505.52 104.67L506.57 106.81M505.66 58.84L507.63 57.52L507.13 59.84L509.1 58.52L508.61 60.84L510.58 59.52L510.08 61.84L512.05 60.52L511.55 62.84L513.53 61.52M526.98 118.75L528.82 120.22L526.47 120.35L528.31 121.82L525.96 121.95L527.8 123.42L525.44 123.55L527.28 125.02M529.09 49.44L531.09 48.11L530.69 50.47L532.69 49.14L532.29 51.51L534.29 50.17L533.89 52.54L535.89 51.21L535.5 53.57L537.49 52.24M522.42 76.07L523.66 74.07L524.07 76.39L525.32 74.39L525.73 76.71L526.97 74.7L527.38 77.02M502.5 80.41L504.85 80.42L503.1 81.99L505.45 82L503.7 83.57L506.05 83.58L504.3 85.15L506.65 85.16L504.89 86.73M517.64 69.42L519.31 71.15L516.91 71.2L518.57 72.92L516.17 72.97L517.84 74.7L515.44 74.75L517.1 76.47L514.7 76.52M501.66 83.95L503.15 82.07L503.51 84.45L505 82.57L505.36 84.94L506.85 83.06L507.21 85.43L508.7 83.55L509.05 85.92M509.92 72.18L509.72 74.57L508.11 72.79L507.9 75.18L506.3 73.4L506.09 75.8L504.48 74.02L504.28 76.41L502.67 74.63L502.46 77.02M527.75 34.33L530.09 34.81L528.12 36.16L530.47 36.63L528.5 37.99L530.84 38.46L528.87 39.81L531.21 40.29L529.24 41.64M521.66 39.37L523.88 40.26L521.7 41.27L523.93 42.16L521.75 43.17L523.98 44.06L521.8 45.07L524.02 45.96L521.85 46.97L524.07 47.87M529.55 46.38L530.97 44.47L531.31 46.82L532.73 44.91L533.07 47.27L534.49 45.35L534.83 47.71L536.25 45.79L536.6 48.15L538.01 46.24M530.2 93.21L531.01 95.39L529.02 94.18L529.82 96.37L527.83 95.16L528.63 97.35L526.64 96.13M537.19 37.39L539.53 37.7L537.59 39.04L539.93 39.36L537.99 40.7L540.32 41.01M507 101.92L508.17 103.97L505.92 103.25L507.09 105.3L504.84 104.57L506.01 106.63L503.76 105.9L504.93 107.95M513.2 37.03L515.42 36.23L514.34 38.33L516.56 37.52L515.49 39.63L517.71 38.82L516.63 40.92L518.85 40.11L517.78 42.22M529.95 74.49L531.32 76.42L529 75.95L530.37 77.88L528.05 77.41L529.42 79.34L527.1 78.87L528.47 80.8M499.3 91.64L501.67 91.82L499.85 93.34L502.22 93.52L500.4 95.05L502.77 95.23L500.95 96.75L503.32 96.93L501.5 98.46L503.87 98.63L502.05 100.16M537.06 118.6L538.36 120.59L536.04 120.07L537.34 122.06L535.02 121.54L536.31 123.54L534 123.02L535.29 125.01L532.97 124.49L534.27 126.48L531.95 125.96M500.32 110.48L502.35 109.26L501.68 111.53L503.71 110.32L503.04 112.58L505.07 111.37L504.4 113.63L506.43 112.42M528.05 59.06L529.27 57.01L529.89 59.31L531.11 57.26L531.73 59.56L532.95 57.5L533.57 59.81L534.79 57.75L535.41 60.06M500.34 27.88L500.6 30.23L498.79 28.71L499.06 31.06L497.25 29.53L497.51 31.89L495.7 30.36M509.12 75.46L511.49 75.37L509.83 77.07L512.2 76.98L510.55 78.68L512.92 78.59L511.26 80.29L513.63 80.2L511.98 81.89L514.35 81.8L512.69 83.5M548.34 50.35L550.7 50.39L548.95 51.97L551.31 52.01L549.55 53.59L551.91 53.62L550.15 55.2M515 92.08L516.37 90.13L516.8 92.47L518.16 90.52L518.59 92.86L519.96 90.9L520.39 93.25L521.75 91.29L522.19 93.64L523.55 91.68M517.75 27.86L519.96 27.06L518.81 29.12L521.02 28.32L519.88 30.37L522.09 29.58L520.95 31.63M529 62.43L530.64 60.72L530.64 63.09L532.28 61.37L532.29 63.75L533.93 62.03L533.93 64.4L535.57 62.69L535.58 65.06L537.22 63.35M509.86 115.83L511.26 117.74L508.93 117.31L510.33 119.22L508 118.79L509.4 120.7L507.07 120.27L508.47 122.18L506.14 121.74M538.72 71.19L541.1 71.23L539.38 72.87L541.75 72.9L540.04 74.54L542.41 74.58L540.7 76.22L543.07 76.25M521.34 82.1L520.81 84.4L519.67 82.34L519.14 84.63L518 82.57L517.47 84.86L516.33 82.8L515.8 85.09M515.75 111.34L517.86 110.27L517.05 112.5L519.16 111.43L518.35 113.65L520.46 112.58L519.65 114.8L521.76 113.73L520.95 115.95L523.06 114.88M519.61 60.66L521.74 59.69L520.76 61.82L522.9 60.85L521.91 62.98L524.05 62.01L523.06 64.14M547.33 38.76L547.33 41.11L545.77 39.35L545.77 41.71L544.21 39.95L544.22 42.3L542.65 40.54L542.66 42.89M508.71 71.71L508.61 74.08L507.08 72.27L506.98 74.64L505.45 72.83L505.35 75.19L503.82 73.39M520.97 95.02L520.63 97.38L519.2 95.47L518.85 97.83L517.42 95.92L517.08 98.28L515.65 96.37L515.3 98.73L513.87 96.82L513.53 99.18M524.54 87.32L525.3 89.57L523.19 88.5L523.95 90.75L521.83 89.67L522.59 91.92L520.48 90.84L521.24 93.09L519.12 92.02M521.02 128.83L522.59 127.08L522.59 129.43L524.17 127.68L524.17 130.03L525.75 128.28L525.75 130.64L527.32 128.88M531.59 95.58L533.72 96.65L531.46 97.38L533.58 98.45L531.32 99.19L533.45 100.26L531.18 100.99L533.31 102.06L531.05 102.79L533.17 103.86M519.1 28.5L520.24 26.42L520.86 28.71L522 26.64L522.62 28.93L523.76 26.85L524.38 29.14L525.52 27.06L526.14 29.35M506.9 58.48L508.99 59.68L506.69 60.42L508.78 61.62L506.49 62.35L508.57 63.55L506.28 64.29L508.36 65.49L506.07 66.22L508.16 67.43M509.95 81.25L511.81 82.72L509.45 82.98L511.31 84.46L508.95 84.72L510.81 86.2L508.45 86.46L510.31 87.94M531.51 111.6L531.54 113.99L529.81 112.35L529.83 114.74L528.1 113.09L528.12 115.48L526.39 113.84L526.42 116.23L524.68 114.59L524.71 116.97M526.12 25.62L528.51 25.5L526.94 27.3L529.33 27.18L527.75 28.98L530.14 28.86L528.57 30.66L530.95 30.54L529.38 32.34M530.38 69.07L532.3 67.68L531.87 70.01L533.79 68.63L533.36 70.96L535.28 69.57L534.85 71.9L536.77 70.52M520.65 65.19L521 67.53L519.14 66.07L519.49 68.41L517.63 66.95L517.98 69.29L516.12 67.83L516.47 70.17M544.08 74.6L544.97 76.77L542.88 75.71L543.77 77.88L541.68 76.82L542.57 78.99L540.48 77.93L541.38 80.1M508.68 119.29L511.03 118.94L509.59 120.83L511.94 120.48L510.49 122.37L512.84 122.02L511.4 123.91L513.75 123.56L512.31 125.45L514.66 125.1M495.17 52.52L497.45 53.25L495.34 54.37L497.62 55.1L495.51 56.23L497.79 56.96L495.68 58.08L497.95 58.81L495.85 59.94M508.75 62.18L509.62 64.38L507.48 63.38L508.34 65.58L506.2 64.58L507.06 66.79L504.92 65.78M501.98 98.48L504.12 97.57L503.02 99.62L505.16 98.71L504.06 100.76L506.21 99.85L505.1 101.9M541.93 128.26L542.27 130.59L540.44 129.09L540.78 131.43L538.96 129.93L539.29 132.27L537.47 130.77L537.81 133.1M503.31 40.36L505.52 39.5L504.51 41.65L506.72 40.79L505.71 42.94L507.92 42.08L506.92 44.23L509.12 43.37M541.65 54.51L542.91 52.5L543.38 54.83L544.64 52.82L545.11 55.14L546.37 53.14L546.84 55.46L548.1 53.46L548.57 55.78M521.77 105.36L522.78 103.24L523.42 105.5L524.43 103.38L525.07 105.64L526.08 103.52M533.84 65.21L534.96 67.31L532.68 66.61L533.8 68.71L531.53 68.02L532.65 70.12L530.37 69.42L531.49 71.52L529.22 70.82L530.34 72.92M534.77 27.64L535.35 29.93L533.37 28.64L533.94 30.93L531.96 29.65L532.54 31.94L530.56 30.65L531.13 32.94L529.15 31.65L529.73 33.94M532.06 90.57L533.5 88.71L533.67 91.06L535.11 89.19L535.28 91.54L536.72 89.67L536.9 92.02L538.33 90.15L538.51 92.5M502.08 73.04L503.98 71.63L503.6 73.97L505.5 72.55L505.12 74.89L507.02 73.48L506.64 75.82L508.55 74.4L508.17 76.74L510.07 75.33L509.69 77.67M523.59 89.72L524.79 91.76L522.52 91.08L523.71 93.12L521.45 92.44L522.64 94.48L520.38 93.8L521.57 95.85L519.31 95.17L520.5 97.21M524.86 105.74L526.57 104.09L526.53 106.47L528.25 104.82L528.21 107.2L529.92 105.55L529.88 107.93L531.6 106.28L531.55 108.66M491.94 46.93L493.68 48.54L491.31 48.59L493.05 50.2L490.68 50.25L492.42 51.86L490.05 51.91L491.79 53.52L489.42 53.57L491.16 55.18M506.49 25.61L508.83 25.73L506.99 27.19L509.34 27.3L507.5 28.76L509.85 28.88L508.01 30.34L510.35 30.45M504.14 24.78L506.46 25.38L504.43 26.64L506.74 27.23L504.71 28.5L507.03 29.09L505 30.36L507.32 30.95M530.45 118.08L532.08 116.36L532.08 118.73L533.71 117.02L533.71 119.38L535.34 117.67L535.33 120.04L536.97 118.32L536.96 120.69L538.6 118.98M532.27 111.51L532.64 113.85L530.75 112.42L531.12 114.76L529.23 113.33L529.61 115.67L527.71 114.24L528.09 116.58L526.2 115.15L526.57 117.49M526.7 115.7L529.05 115.62L527.34 117.24L529.7 117.16L527.99 118.77L530.34 118.69M538.28 92.35L539.76 90.56L539.67 92.88L541.15 91.09L541.05 93.41L542.53 91.63L542.44 93.95M512.54 37.37L514.33 35.83L514.08 38.18L515.87 36.63L515.62 38.99L517.41 37.44L517.17 39.79L518.96 38.25M517.16 27.79L519.08 29.11L516.75 29.31L518.68 30.64L516.35 30.84L518.27 32.17L515.94 32.37L517.87 33.7M534.64 112.71L535.45 114.97L533.24 114.02L534.06 116.28L531.85 115.34L532.67 117.59L530.46 116.65L531.28 118.9L529.07 117.96M512.03 70.86L514.14 71.85L511.88 72.43L514 73.43L511.73 74.01L513.85 75L511.58 75.58M508.97 53.99L508.6 56.35L507.16 54.44L506.79 56.8L505.36 54.89L504.99 57.25L503.55 55.34L503.18 57.7L501.75 55.79M525.49 102.47L526.96 100.63L527.06 102.98L528.53 101.14L528.63 103.48L530.1 101.65M512.89 69.74L514.13 71.74L511.89 71.02L513.13 73.01L510.9 72.3L512.13 74.29M538.01 58.15L540.37 58.03L538.71 59.72L541.07 59.6L539.41 61.28L541.77 61.17L540.11 62.85L542.47 62.74L540.81 64.42L543.17 64.3M544.99 31.3L545.09 33.65L543.47 31.95L543.57 34.3L541.95 32.59L542.05 34.94L540.43 33.24L540.53 35.59L538.91 33.88M532.64 83.77L534.62 82.53L533.89 84.75L535.88 83.52L535.15 85.74L537.13 84.5L536.4 86.72M516.6 86.46L517.9 84.48L518.32 86.81L519.63 84.83L520.05 87.16L521.35 85.18L521.77 87.52L523.07 85.54M521.34 36.36L522.34 38.52L520.1 37.69L521.1 39.85L518.87 39.02L519.87 41.18L517.64 40.36L518.64 42.52L516.41 41.69M528.97 106.74L531.27 107.35L529.19 108.51L531.48 109.12L529.41 110.27L531.7 110.88L529.63 112.04L531.92 112.65L529.85 113.8L532.14 114.42L530.07 115.57M535.43 107.38L537.8 107.13L536.32 109L538.69 108.75L537.2 110.61L539.58 110.37L538.09 112.23L540.47 111.99L538.98 113.85L541.35 113.6M511.07 99.95L512.12 97.81L512.91 100.06L513.96 97.91L514.75 100.16L515.8 98.02L516.59 100.27L517.63 98.12L518.43 100.37M528.75 121.3L529.91 123.39L527.6 122.77L528.76 124.86L526.45 124.25L527.6 126.34L525.29 125.72L526.45 127.81L524.14 127.2L525.3 129.29M517.59 54.95L519.64 56.18L517.33 56.78L519.38 58.01L517.07 58.61L519.11 59.84L516.81 60.44L518.85 61.67L516.54 62.27L518.59 63.5M505.9 48.29L505.31 50.57L504.24 48.47L503.66 50.75L502.59 48.65L502 50.93L500.94 48.83M501.03 96.03L502.3 98.07L499.94 97.61L501.21 99.66L498.85 99.2L500.11 101.24L497.76 100.78L499.02 102.82L496.67 102.36M538.51 112.7L539.38 114.9L537.26 113.87L538.12 116.06L536 115.03L536.87 117.22L534.74 116.19M524.11 82.39L523.67 84.7L522.45 82.69L522.02 85L520.79 82.99L520.36 85.3L519.14 83.29L518.7 85.61M513.22 47.74L515.57 47.31L514.27 49.32L516.63 48.9L515.32 50.91L517.68 50.48L516.38 52.49L518.73 52.07L517.43 54.08L519.79 53.65M539.69 25.94L541.79 24.83L541.07 27.09L543.18 25.99L542.46 28.25L544.56 27.15L543.84 29.41L545.94 28.31L545.22 30.57L547.33 29.46M521.7 33.28L523.86 34.13L521.64 34.8L523.8 35.65L521.58 36.32L523.74 37.17L521.52 37.84M522.89 67.51L523.35 69.84L521.41 68.48L521.87 70.8L519.92 69.44L520.38 71.77L518.44 70.41L518.9 72.74L516.95 71.37M533.2 51.94L535.58 52L533.85 53.63L536.23 53.69L534.51 55.33L536.89 55.39L535.16 57.03L537.54 57.08L535.81 58.72L538.19 58.78M540.96 37.43L543.32 37.06L541.94 39.01L544.3 38.64L542.92 40.59L545.28 40.22L543.91 42.17L546.27 41.8L544.89 43.76M500.28 50.34L502.37 49.24L501.59 51.47L503.69 50.37L502.91 52.6L505.01 51.51L504.23 53.74M511.9 35.52L513.62 37.15L511.26 37.11L512.97 38.73L510.61 38.69L512.32 40.31L509.97 40.27L511.68 41.89L509.32 41.85M500.85 40.8L502.24 42.69L499.95 42.18L501.34 44.07L499.05 43.57L500.45 45.46L498.15 44.95L499.55 46.84M507.38 119.24L508.54 121.32L506.24 120.7L507.4 122.79L505.09 122.17L506.25 124.25L503.95 123.63L505.11 125.72M519.35 134.3L521.69 134.6L519.78 136L522.13 136.3L520.22 137.7L522.56 138L520.65 139.39L523 139.7L521.09 141.09M493.02 72.53L495.32 73.02L493.26 74.16L495.56 74.66L493.51 75.8L495.8 76.3L493.75 77.44L496.05 77.93L493.99 79.07M508.36 65.61L510.71 65.54L508.98 67.14L511.33 67.08L509.6 68.67L511.95 68.61L510.23 70.2L512.58 70.14L510.85 71.74M520.4 22.3L521 24.61L518.92 23.43L519.53 25.75L517.45 24.57L518.05 26.88L515.97 25.71L516.58 28.02L514.5 26.84L515.1 29.15M492.45 47.8L494.55 48.84L492.27 49.39L494.37 50.43L492.09 50.98L494.19 52.02L491.91 52.57M507.95 41.04L510.13 41.98L507.92 42.85L510.11 43.79L507.9 44.67L510.09 45.6L507.87 46.48L510.06 47.41L507.85 48.29L510.04 49.22M541.17 85.39L542.28 87.46L540.08 86.63L541.18 88.71L538.99 87.88L540.09 89.95L537.89 89.12M507.09 78.61L508.87 80.17L506.51 80.26L508.29 81.82L505.93 81.91L507.71 83.46M528.05 104.76L529.98 106.1L527.65 106.39L529.58 107.73L527.25 108.01L529.18 109.35L526.84 109.63L528.78 110.97M525.48 54.65L527.73 53.85L526.72 56.02L528.97 55.22L527.96 57.39L530.21 56.59L529.21 58.75L531.46 57.96L530.45 60.12M505.79 38.79L505.04 41.02L504.12 38.86L503.37 41.09L502.44 38.93L501.7 41.16M510.7 57.2L511.82 55.12L512.42 57.4L513.54 55.32L514.14 57.61L515.26 55.52L515.86 57.81L516.98 55.73L517.58 58.01M532.29 77.61L533.93 79.28L531.61 79.02L533.24 80.68L530.92 80.43L532.56 82.09L530.24 81.83M513.53 68.19L515.91 68.19L514.24 69.89L516.62 69.89L514.95 71.59L517.34 71.59L515.67 73.29L518.05 73.29L516.38 74.99M531.08 95.9L533.38 95.32L532.11 97.32L534.41 96.74L533.14 98.75L535.44 98.17L534.17 100.17L536.47 99.59L535.2 101.59M530.87 78.19L532.42 79.98L530.07 79.72L531.62 81.5L529.27 81.24L530.82 83.02L528.47 82.76L530.02 84.54L527.67 84.28L529.22 86.06M525.09 75.64L526.94 74.15L526.67 76.51L528.52 75.02L528.25 77.38L530.1 75.89L529.83 78.25L531.68 76.76" stroke="#6269a3" stroke-width="1.7"/>
<path d="M539.74 37.68L541.63 39.1L539.28 39.37L541.18 40.79L538.83 41.07L540.72 42.48L538.37 42.76L540.27 44.18L537.91 44.46L539.81 45.87M516.1 109.25L518.32 108.38L517.35 110.56L519.57 109.7L518.6 111.87L520.82 111.01L519.85 113.18L522.07 112.32L521.1 114.49M492.78 75.63L494.64 74.18L494.24 76.51L496.1 75.06L495.7 77.38L497.57 75.93L497.16 78.26L499.03 76.81L498.63 79.13M510.37 99.09L511.42 101.23L509.15 100.49L510.21 102.63L507.94 101.88L509 104.02L506.73 103.27L507.78 105.41L505.52 104.67L506.57 106.81M505.66 58.84L507.63 57.52L507.13 59.84L509.1 58.52L508.61 60.84L510.58 59.52L510.08 61.84L512.05 60.52L511.55 62.84L513.53 61.52M526.98 118.75L528.82 120.22L526.47 120.35L528.31 121.82L525.96 121.95L527.8 123.42L525.44 123.55L527.28 125.02M529.09 49.44L531.09 48.11L530.69 50.47L532.69 49.14L532.29 51.51L534.29 50.17L533.89 52.54L535.89 51.21L535.5 53.57L537.49 52.24M522.42 76.07L523.66 74.07L524.07 76.39L525.32 74.39L525.73 76.71L526.97 74.7L527.38 77.02M502.5 80.41L504.85 80.42L503.1 81.99L505.45 82L503.7 83.57L506.05 83.58L504.3 85.15L506.65 85.16L504.89 86.73M517.64 69.42L519.31 71.15L516.91 71.2L518.57 72.92L516.17 72.97L517.84 74.7L515.44 74.75L517.1 76.47L514.7 76.52M501.66 83.95L503.15 82.07L503.51 84.45L505 82.57L505.36 84.94L506.85 83.06L507.21 85.43L508.7 83.55L509.05 85.92M509.92 72.18L509.72 74.57L508.11 72.79L507.9 75.18L506.3 73.4L506.09 75.8L504.48 74.02L504.28 76.41L502.67 74.63L502.46 77.02M527.75 34.33L530.09 34.81L528.12 36.16L530.47 36.63L528.5 37.99L530.84 38.46L528.87 39.81L531.21 40.29L529.24 41.64M521.66 39.37L523.88 40.26L521.7 41.27L523.93 42.16L521.75 43.17L523.98 44.06L521.8 45.07L524.02 45.96L521.85 46.97L524.07 47.87M529.55 46.38L530.97 44.47L531.31 46.82L532.73 44.91L533.07 47.27L534.49 45.35L534.83 47.71L536.25 45.79L536.6 48.15L538.01 46.24M530.2 93.21L531.01 95.39L529.02 94.18L529.82 96.37L527.83 95.16L528.63 97.35L526.64 96.13M537.19 37.39L539.53 37.7L537.59 39.04L539.93 39.36L537.99 40.7L540.32 41.01M507 101.92L508.17 103.97L505.92 103.25L507.09 105.3L504.84 104.57L506.01 106.63L503.76 105.9L504.93 107.95M513.2 37.03L515.42 36.23L514.34 38.33L516.56 37.52L515.49 39.63L517.71 38.82L516.63 40.92L518.85 40.11L517.78 42.22M529.95 74.49L531.32 76.42L529 75.95L530.37 77.88L528.05 77.41L529.42 79.34L527.1 78.87L528.47 80.8M499.3 91.64L501.67 91.82L499.85 93.34L502.22 93.52L500.4 95.05L502.77 95.23L500.95 96.75L503.32 96.93L501.5 98.46L503.87 98.63L502.05 100.16M537.06 118.6L538.36 120.59L536.04 120.07L537.34 122.06L535.02 121.54L536.31 123.54L534 123.02L535.29 125.01L532.97 124.49L534.27 126.48L531.95 125.96M500.32 110.48L502.35 109.26L501.68 111.53L503.71 110.32L503.04 112.58L505.07 111.37L504.4 113.63L506.43 112.42M528.05 59.06L529.27 57.01L529.89 59.31L531.11 57.26L531.73 59.56L532.95 57.5L533.57 59.81L534.79 57.75L535.41 60.06M500.34 27.88L500.6 30.23L498.79 28.71L499.06 31.06L497.25 29.53L497.51 31.89L495.7 30.36M509.12 75.46L511.49 75.37L509.83 77.07L512.2 76.98L510.55 78.68L512.92 78.59L511.26 80.29L513.63 80.2L511.98 81.89L514.35 81.8L512.69 83.5M548.34 50.35L550.7 50.39L548.95 51.97L551.31 52.01L549.55 53.59L551.91 53.62L550.15 55.2M515 92.08L516.37 90.13L516.8 92.47L518.16 90.52L518.59 92.86L519.96 90.9L520.39 93.25L521.75 91.29L522.19 93.64L523.55 91.68M517.75 27.86L519.96 27.06L518.81 29.12L521.02 28.32L519.88 30.37L522.09 29.58L520.95 31.63M529 62.43L530.64 60.72L530.64 63.09L532.28 61.37L532.29 63.75L533.93 62.03L533.93 64.4L535.57 62.69L535.58 65.06L537.22 63.35M509.86 115.83L511.26 117.74L508.93 117.31L510.33 119.22L508 118.79L509.4 120.7L507.07 120.27L508.47 122.18L506.14 121.74M538.72 71.19L541.1 71.23L539.38 72.87L541.75 72.9L540.04 74.54L542.41 74.58L540.7 76.22L543.07 76.25M521.34 82.1L520.81 84.4L519.67 82.34L519.14 84.63L518 82.57L517.47 84.86L516.33 82.8L515.8 85.09M515.75 111.34L517.86 110.27L517.05 112.5L519.16 111.43L518.35 113.65L520.46 112.58L519.65 114.8L521.76 113.73L520.95 115.95L523.06 114.88M519.61 60.66L521.74 59.69L520.76 61.82L522.9 60.85L521.91 62.98L524.05 62.01L523.06 64.14M547.33 38.76L547.33 41.11L545.77 39.35L545.77 41.71L544.21 39.95L544.22 42.3L542.65 40.54L542.66 42.89M508.71 71.71L508.61 74.08L507.08 72.27L506.98 74.64L505.45 72.83L505.35 75.19L503.82 73.39M520.97 95.02L520.63 97.38L519.2 95.47L518.85 97.83L517.42 95.92L517.08 98.28L515.65 96.37L515.3 98.73L513.87 96.82L513.53 99.18M524.54 87.32L525.3 89.57L523.19 88.5L523.95 90.75L521.83 89.67L522.59 91.92L520.48 90.84L521.24 93.09L519.12 92.02M521.02 128.83L522.59 127.08L522.59 129.43L524.17 127.68L524.17 130.03L525.75 128.28L525.75 130.64L527.32 128.88M531.59 95.58L533.72 96.65L531.46 97.38L533.58 98.45L531.32 99.19L533.45 100.26L531.18 100.99L533.31 102.06L531.05 102.79L533.17 103.86M519.1 28.5L520.24 26.42L520.86 28.71L522 26.64L522.62 28.93L523.76 26.85L524.38 29.14L525.52 27.06L526.14 29.35M506.9 58.48L508.99 59.68L506.69 60.42L508.78 61.62L506.49 62.35L508.57 63.55L506.28 64.29L508.36 65.49L506.07 66.22L508.16 67.43M509.95 81.25L511.81 82.72L509.45 82.98L511.31 84.46L508.95 84.72L510.81 86.2L508.45 86.46L510.31 87.94M531.51 111.6L531.54 113.99L529.81 112.35L529.83 114.74L528.1 113.09L528.12 115.48L526.39 113.84L526.42 116.23L524.68 114.59L524.71 116.97M526.12 25.62L528.51 25.5L526.94 27.3L529.33 27.18L527.75 28.98L530.14 28.86L528.57 30.66L530.95 30.54L529.38 32.34M530.38 69.07L532.3 67.68L531.87 70.01L533.79 68.63L533.36 70.96L535.28 69.57L534.85 71.9L536.77 70.52M520.65 65.19L521 67.53L519.14 66.07L519.49 68.41L517.63 66.95L517.98 69.29L516.12 67.83L516.47 70.17M544.08 74.6L544.97 76.77L542.88 75.71L543.77 77.88L541.68 76.82L542.57 78.99L540.48 77.93L541.38 80.1M508.68 119.29L511.03 118.94L509.59 120.83L511.94 120.48L510.49 122.37L512.84 122.02L511.4 123.91L513.75 123.56L512.31 125.45L514.66 125.1M495.17 52.52L497.45 53.25L495.34 54.37L497.62 55.1L495.51 56.23L497.79 56.96L495.68 58.08L497.95 58.81L495.85 59.94M508.75 62.18L509.62 64.38L507.48 63.38L508.34 65.58L506.2 64.58L507.06 66.79L504.92 65.78M501.98 98.48L504.12 97.57L503.02 99.62L505.16 98.71L504.06 100.76L506.21 99.85L505.1 101.9M541.93 128.26L542.27 130.59L540.44 129.09L540.78 131.43L538.96 129.93L539.29 132.27L537.47 130.77L537.81 133.1M503.31 40.36L505.52 39.5L504.51 41.65L506.72 40.79L505.71 42.94L507.92 42.08L506.92 44.23L509.12 43.37M541.65 54.51L542.91 52.5L543.38 54.83L544.64 52.82L545.11 55.14L546.37 53.14L546.84 55.46L548.1 53.46L548.57 55.78M521.77 105.36L522.78 103.24L523.42 105.5L524.43 103.38L525.07 105.64L526.08 103.52M533.84 65.21L534.96 67.31L532.68 66.61L533.8 68.71L531.53 68.02L532.65 70.12L530.37 69.42L531.49 71.52L529.22 70.82L530.34 72.92M534.77 27.64L535.35 29.93L533.37 28.64L533.94 30.93L531.96 29.65L532.54 31.94L530.56 30.65L531.13 32.94L529.15 31.65L529.73 33.94M532.06 90.57L533.5 88.71L533.67 91.06L535.11 89.19L535.28 91.54L536.72 89.67L536.9 92.02L538.33 90.15L538.51 92.5M502.08 73.04L503.98 71.63L503.6 73.97L505.5 72.55L505.12 74.89L507.02 73.48L506.64 75.82L508.55 74.4L508.17 76.74L510.07 75.33L509.69 77.67M523.59 89.72L524.79 91.76L522.52 91.08L523.71 93.12L521.45 92.44L522.64 94.48L520.38 93.8L521.57 95.85L519.31 95.17L520.5 97.21M524.86 105.74L526.57 104.09L526.53 106.47L528.25 104.82L528.21 107.2L529.92 105.55L529.88 107.93L531.6 106.28L531.55 108.66M491.94 46.93L493.68 48.54L491.31 48.59L493.05 50.2L490.68 50.25L492.42 51.86L490.05 51.91L491.79 53.52L489.42 53.57L491.16 55.18M506.49 25.61L508.83 25.73L506.99 27.19L509.34 27.3L507.5 28.76L509.85 28.88L508.01 30.34L510.35 30.45M504.14 24.78L506.46 25.38L504.43 26.64L506.74 27.23L504.71 28.5L507.03 29.09L505 30.36L507.32 30.95M530.45 118.08L532.08 116.36L532.08 118.73L533.71 117.02L533.71 119.38L535.34 117.67L535.33 120.04L536.97 118.32L536.96 120.69L538.6 118.98M532.27 111.51L532.64 113.85L530.75 112.42L531.12 114.76L529.23 113.33L529.61 115.67L527.71 114.24L528.09 116.58L526.2 115.15L526.57 117.49M526.7 115.7L529.05 115.62L527.34 117.24L529.7 117.16L527.99 118.77L530.34 118.69M538.28 92.35L539.76 90.56L539.67 92.88L541.15 91.09L541.05 93.41L542.53 91.63L542.44 93.95M512.54 37.37L514.33 35.83L514.08 38.18L515.87 36.63L515.62 38.99L517.41 37.44L517.17 39.79L518.96 38.25M517.16 27.79L519.08 29.11L516.75 29.31L518.68 30.64L516.35 30.84L518.27 32.17L515.94 32.37L517.87 33.7M534.64 112.71L535.45 114.97L533.24 114.02L534.06 116.28L531.85 115.34L532.67 117.59L530.46 116.65L531.28 118.9L529.07 117.96M512.03 70.86L514.14 71.85L511.88 72.43L514 73.43L511.73 74.01L513.85 75L511.58 75.58M508.97 53.99L508.6 56.35L507.16 54.44L506.79 56.8L505.36 54.89L504.99 57.25L503.55 55.34L503.18 57.7L501.75 55.79M525.49 102.47L526.96 100.63L527.06 102.98L528.53 101.14L528.63 103.48L530.1 101.65M512.89 69.74L514.13 71.74L511.89 71.02L513.13 73.01L510.9 72.3L512.13 74.29M538.01 58.15L540.37 58.03L538.71 59.72L541.07 59.6L539.41 61.28L541.77 61.17L540.11 62.85L542.47 62.74L540.81 64.42L543.17 64.3M544.99 31.3L545.09 33.65L543.47 31.95L543.57 34.3L541.95 32.59L542.05 34.94L540.43 33.24L540.53 35.59L538.91 33.88M532.64 83.77L534.62 82.53L533.89 84.75L535.88 83.52L535.15 85.74L537.13 84.5L536.4 86.72M516.6 86.46L517.9 84.48L518.32 86.81L519.63 84.83L520.05 87.16L521.35 85.18L521.77 87.52L523.07 85.54M521.34 36.36L522.34 38.52L520.1 37.69L521.1 39.85L518.87 39.02L519.87 41.18L517.64 40.36L518.64 42.52L516.41 41.69M528.97 106.74L531.27 107.35L529.19 108.51L531.48 109.12L529.41 110.27L531.7 110.88L529.63 112.04L531.92 112.65L529.85 113.8L532.14 114.42L530.07 115.57M535.43 107.38L537.8 107.13L536.32 109L538.69 108.75L537.2 110.61L539.58 110.37L538.09 112.23L540.47 111.99L538.98 113.85L541.35 113.6M511.07 99.95L512.12 97.81L512.91 100.06L513.96 97.91L514.75 100.16L515.8 98.02L516.59 100.27L517.63 98.12L518.43 100.37M528.75 121.3L529.91 123.39L527.6 122.77L528.76 124.86L526.45 124.25L527.6 126.34L525.29 125.72L526.45 127.81L524.14 127.2L525.3 129.29M517.59 54.95L519.64 56.18L517.33 56.78L519.38 58.01L517.07 58.61L519.11 59.84L516.81 60.44L518.85 61.67L516.54 62.27L518.59 63.5M505.9 48.29L505.31 50.57L504.24 48.47L503.66 50.75L502.59 48.65L502 50.93L500.94 48.83M501.03 96.03L502.3 98.07L499.94 97.61L501.21 99.66L498.85 99.2L500.11 101.24L497.76 100.78L499.02 102.82L496.67 102.36M538.51 112.7L539.38 114.9L537.26 113.87L538.12 116.06L536 115.03L536.87 117.22L534.74 116.19M524.11 82.39L523.67 84.7L522.45 82.69L522.02 85L520.79 82.99L520.36 85.3L519.14 83.29L518.7 85.61M513.22 47.74L515.57 47.31L514.27 49.32L516.63 48.9L515.32 50.91L517.68 50.48L516.38 52.49L518.73 52.07L517.43 54.08L519.79 53.65M539.69 25.94L541.79 24.83L541.07 27.09L543.18 25.99L542.46 28.25L544.56 27.15L543.84 29.41L545.94 28.31L545.22 30.57L547.33 29.46M521.7 33.28L523.86 34.13L521.64 34.8L523.8 35.65L521.58 36.32L523.74 37.17L521.52 37.84M522.89 67.51L523.35 69.84L521.41 68.48L521.87 70.8L519.92 69.44L520.38 71.77L518.44 70.41L518.9 72.74L516.95 71.37M533.2 51.94L535.58 52L533.85 53.63L536.23 53.69L534.51 55.33L536.89 55.39L535.16 57.03L537.54 57.08L535.81 58.72L538.19 58.78M540.96 37.43L543.32 37.06L541.94 39.01L544.3 38.64L542.92 40.59L545.28 40.22L543.91 42.17L546.27 41.8L544.89 43.76M500.28 50.34L502.37 49.24L501.59 51.47L503.69 50.37L502.91 52.6L505.01 51.51L504.23 53.74M511.9 35.52L513.62 37.15L511.26 37.11L512.97 38.73L510.61 38.69L512.32 40.31L509.97 40.27L511.68 41.89L509.32 41.85M500.85 40.8L502.24 42.69L499.95 42.18L501.34 44.07L499.05 43.57L500.45 45.46L498.15 44.95L499.55 46.84M507.38 119.24L508.54 121.32L506.24 120.7L507.4 122.79L505.09 122.17L506.25 124.25L503.95 123.63L505.11 125.72M519.35 134.3L521.69 134.6L519.78 136L522.13 136.3L520.22 137.7L522.56 138L520.65 139.39L523 139.7L521.09 141.09M493.02 72.53L495.32 73.02L493.26 74.16L495.56 74.66L493.51 75.8L495.8 76.3L493.75 77.44L496.05 77.93L493.99 79.07M508.36 65.61L510.71 65.54L508.98 67.14L511.33 67.08L509.6 68.67L511.95 68.61L510.23 70.2L512.58 70.14L510.85 71.74M520.4 22.3L521 24.61L518.92 23.43L519.53 25.75L517.45 24.57L518.05 26.88L515.97 25.71L516.58 28.02L514.5 26.84L515.1 29.15M492.45 47.8L494.55 48.84L492.27 49.39L494.37 50.43L492.09 50.98L494.19 52.02L491.91 52.57M507.95 41.04L510.13 41.98L507.92 42.85L510.11 43.79L507.9 44.67L510.09 45.6L507.87 46.48L510.06 47.41L507.85 48.29L510.04 49.22M541.17 85.39L542.28 87.46L540.08 86.63L541.18 88.71L538.99 87.88L540.09 89.95L537.89 89.12M507.09 78.61L508.87 80.17L506.51 80.26L508.29 81.82L505.93 81.91L507.71 83.46M528.05 104.76L529.98 106.1L527.65 106.39L529.58 107.73L527.25 108.01L529.18 109.35L526.84 109.63L528.78 110.97M525.48 54.65L527.73 53.85L526.72 56.02L528.97 55.22L527.96 57.39L530.21 56.59L529.21 58.75L531.46 57.96L530.45 60.12M505.79 38.79L505.04 41.02L504.12 38.86L503.37 41.09L502.44 38.93L501.7 41.16M510.7 57.2L511.82 55.12L512.42 57.4L513.54 55.32L514.14 57.61L515.26 55.52L515.86 57.81L516.98 55.73L517.58 58.01M532.29 77.61L533.93 79.28L531.61 79.02L533.24 80.68L530.92 80.43L532.56 82.09L530.24 81.83M513.53 68.19L515.91 68.19L514.24 69.89L516.62 69.89L514.95 71.59L517.34 71.59L515.67 73.29L518.05 73.29L516.38 74.99M531.08 95.9L533.38 95.32L532.11 97.32L534.41 96.74L533.14 98.75L535.44 98.17L534.17 100.17L536.47 99.59L535.2 101.59M530.87 78.19L532.42 79.98L530.07 79.72L531.62 81.5L529.27 81.24L530.82 83.02L528.47 82.76L530.02 84.54L527.67 84.28L529.22 86.06M525.09 75.64L526.94 74.15L526.67 76.51L528.52 75.02L528.25 77.38L530.1 75.89L529.83 78.25L531.68 76.76" stroke="#a6abd6" stroke-width="0.9"/>
</g>
<clipPath id="cpH"><path d="M612.32 25 L609.88 27 L607.57 29 L606.62 31 L604.83 33 L608.29 35 L606.66 37 L606.66 39 L605.21 41 L607.66 43 L607.13 45 L605.59 47 L604.86 49 L604.97 51 L604.26 53 L605.2 55 L604.23 57 L605.66 59 L604.3 61 L604.17 63 L606.5 65 L602.92 67 L601.2 69 L603.08 71 L599.9 73 L602.94 75 L603.88 77 L602.76 79 L603.05 81 L600.74 83 L604.5 85 L604.83 87 L603.58 89 L608.38 91 L605.09 93 L605.19 95 L605.64 97 L608.88 99 L610.39 101 L611.62 103 L611.71 105 L612.19 107 L615.45 109 L614.16 111 L614.62 113 L618.88 115 L618.15 117 L619.39 119 L620.45 121 L619.76 123 L621.73 125 L625.18 127 L625.47 129 L628.64 131 L630.01 133 L630.11 135 L634.26 137 L645.98 137 L644.62 135 L647.62 133 L649.25 131 L652.1 129 L650.29 127 L650.54 125 L653.66 123 L650.84 121 L650.99 119 L652.68 117 L652.57 115 L649.67 113 L650.46 111 L652 109 L650.85 107 L649.01 105 L652.68 103 L652.44 101 L654.29 99 L653.7 97 L654.92 95 L658.03 93 L661.76 91 L661.09 89 L657.78 87 L661.1 85 L666.01 83 L664.59 81 L665.93 79 L664.96 77 L666.67 75 L666.23 73 L669.28 71 L664.35 69 L660.13 67 L663.63 65 L661.05 63 L661.8 61 L663.97 59 L662.08 57 L662.82 55 L661.69 53 L659.8 51 L664.14 49 L662.59 47 L661.13 45 L661.34 43 L661.9 41 L660.84 39 L660.2 37 L659.13 35 L657.88 33 L660.49 31 L657.49 29 L655.3 27 L616.32 25Z"/></clipPath>
<path d="M612.32 25 L609.88 27 L607.57 29 L606.62 31 L604.83 33 L608.29 35 L606.66 37 L606.66 39 L605.21 41 L607.66 43 L607.13 45 L605.59 47 L604.86 49 L604.97 51 L604.26 53 L605.2 55 L604.23 57 L605.66 59 L604.3 61 L604.17 63 L606.5 65 L602.92 67 L601.2 69 L603.08 71 L599.9 73 L602.94 75 L603.88 77 L602.76 79 L603.05 81 L600.74 83 L604.5 85 L604.83 87 L603.58 89 L608.38 91 L605.09 93 L605.19 95 L605.64 97 L608.88 99 L610.39 101 L611.62 103 L611.71 105 L612.19 107 L615.45 109 L614.16 111 L614.62 113 L618.88 115 L618.15 117 L619.39 119 L620.45 121 L619.76 123 L621.73 125 L625.18 127 L625.47 129 L628.64 131 L630.01 133 L630.11 135 L634.26 137 L645.98 137 L644.62 135 L647.62 133 L649.25 131 L652.1 129 L650.29 127 L650.54 125 L653.66 123 L650.84 121 L650.99 119 L652.68 117 L652.57 115 L649.67 113 L650.46 111 L652 109 L650.85 107 L649.01 105 L652.68 103 L652.44 101 L654.29 99 L653.7 97 L654.92 95 L658.03 93 L661.76 91 L661.09 89 L657.78 87 L661.1 85 L666.01 83 L664.59 81 L665.93 79 L664.96 77 L666.67 75 L666.23 73 L669.28 71 L664.35 69 L660.13 67 L663.63 65 L661.05 63 L661.8 61 L663.97 59 L662.08 57 L662.82 55 L661.69 53 L659.8 51 L664.14 49 L662.59 47 L661.13 45 L661.34 43 L661.9 41 L660.84 39 L660.2 37 L659.13 35 L657.88 33 L660.49 31 L657.49 29 L655.3 27 L616.32 25Z" fill="#fdf7ef" stroke="none"/>
<g clip-path="url(#cpH)" fill="none" stroke-linecap="round" stroke-linejoin="round">
<path d="M616.46 56.16L622 56.23M617.67 70.79L624.31 72.8M631.15 91.42L623.6 94.44M638.42 37.69L630.28 39.79M636.42 122.06L630.86 125.45M633.79 100.52L640.45 106.01M623.52 52.73L619.85 60.51M646.75 105.11L647.2 113.67M608.66 79.81L613.26 80.4M657.4 39.99L653.45 42.78M636.32 83.6L629.95 86.92M637.59 110.16L640.06 117.69M626.82 24.93L631.25 26.62M647.18 89.46L647.19 93.49M629.66 36.83L630.52 41.58M615.21 83.76L612.85 90.99M657.22 61.84L649.12 64.68M642.15 124.12L637.7 130.38M657.71 76.2L656.75 82.41M612.33 73.08L615.59 75.65M639.75 113.68L638.45 119M632.52 65.75L624.93 68.85M631.38 131.16L631.15 135.59M644.56 61.43L639.91 63.25M652.41 28.8L658.49 29.21M624.49 120.41L617.97 122.09M648.2 61.48L647.07 68.65M647.59 109.59L651.64 114.31M624.8 79.17L624.53 85.03M635.81 89.29L642.75 91.6M657.68 41.32L659.86 47.4M647.71 29.94L648.83 34.04M642.63 38.6L641.61 44.74M615.26 108L621.13 109.11M640.92 96.26L647.59 99.85M631.05 30.23L635.29 34.99M622.88 25.35L626.19 33.46M616.25 87.83L611.05 89.92M633.54 105.68L635.86 110.83M630.46 102.16L638.13 103.37M643.54 54.71L647.9 54.94M635.07 48.04L638.88 49.53M646.11 113.01L648.95 117.77M626.62 41.52L618.28 44.03M647.17 43.69L648.16 49.2M630.58 49.65L634.58 53.16M608.86 79.1L614.34 79.51M642.45 122.33L638.36 122.86M643.84 46.66L640.19 48.57M653.73 85.21L659.31 86.04M641.68 82.92L649.86 84.23M653.3 83.62L649.37 84.88M634.42 112.9L629.76 119.16M605.61 81.03L612.83 83.58M619.62 102.12L617.77 108.06M611.89 105.03L619.22 105.46M616.66 40.28L622.5 44.53M634.99 105.13L632.79 108.89M610.5 86.03L605.23 91.4M620.49 33.14L619.79 37.88M644.81 55.57L642.82 62.37M624.85 29.17L630.91 35.64M614.43 60.63L612.71 68.54M641.06 35.78L643.29 41.92M624.6 94.26L623.1 99.24M652.93 46.16L647.98 48.73M631.53 74.27L635.16 77.23M644.99 134.05L642.5 137.29M648.24 133.45L640.13 136.39M641.12 113.89L649.68 114.4M639.88 83.61L645.22 85.17M643.05 30.01L651.73 31.23M624.66 72.09L631.68 76.11M662.84 74.28L660.83 79.57M659.65 81.18L666.86 81.45M649.96 36.87L650.43 41.72M604.07 44.82L611.89 45.52M641.69 112.84L648.84 116.78M624.24 101.49L626.01 107.81M653.29 92.69L648.48 95.78M614.3 57.78L622.17 60.21M651.93 86.02L649.07 93.73M632.22 114.47L626.26 120.49M641.08 127.95L647.63 131.58M660.47 48.04L665.66 49.5" stroke="#a87e52" stroke-width="2.2"/>
<path d="M616.46 56.16L622 56.23M617.67 70.79L624.31 72.8M631.15 91.42L623.6 94.44M638.42 37.69L630.28 39.79M636.42 122.06L630.86 125.45M633.79 100.52L640.45 106.01M623.52 52.73L619.85 60.51M646.75 105.11L647.2 113.67M608.66 79.81L613.26 80.4M657.4 39.99L653.45 42.78M636.32 83.6L629.95 86.92M637.59 110.16L640.06 117.69M626.82 24.93L631.25 26.62M647.18 89.46L647.19 93.49M629.66 36.83L630.52 41.58M615.21 83.76L612.85 90.99M657.22 61.84L649.12 64.68M642.15 124.12L637.7 130.38M657.71 76.2L656.75 82.41M612.33 73.08L615.59 75.65M639.75 113.68L638.45 119M632.52 65.75L624.93 68.85M631.38 131.16L631.15 135.59M644.56 61.43L639.91 63.25M652.41 28.8L658.49 29.21M624.49 120.41L617.97 122.09M648.2 61.48L647.07 68.65M647.59 109.59L651.64 114.31M624.8 79.17L624.53 85.03M635.81 89.29L642.75 91.6M657.68 41.32L659.86 47.4M647.71 29.94L648.83 34.04M642.63 38.6L641.61 44.74M615.26 108L621.13 109.11M640.92 96.26L647.59 99.85M631.05 30.23L635.29 34.99M622.88 25.35L626.19 33.46M616.25 87.83L611.05 89.92M633.54 105.68L635.86 110.83M630.46 102.16L638.13 103.37M643.54 54.71L647.9 54.94M635.07 48.04L638.88 49.53M646.11 113.01L648.95 117.77M626.62 41.52L618.28 44.03M647.17 43.69L648.16 49.2M630.58 49.65L634.58 53.16M608.86 79.1L614.34 79.51M642.45 122.33L638.36 122.86M643.84 46.66L640.19 48.57M653.73 85.21L659.31 86.04M641.68 82.92L649.86 84.23M653.3 83.62L649.37 84.88M634.42 112.9L629.76 119.16M605.61 81.03L612.83 83.58M619.62 102.12L617.77 108.06M611.89 105.03L619.22 105.46M616.66 40.28L622.5 44.53M634.99 105.13L632.79 108.89M610.5 86.03L605.23 91.4M620.49 33.14L619.79 37.88M644.81 55.57L642.82 62.37M624.85 29.17L630.91 35.64M614.43 60.63L612.71 68.54M641.06 35.78L643.29 41.92M624.6 94.26L623.1 99.24M652.93 46.16L647.98 48.73M631.53 74.27L635.16 77.23M644.99 134.05L642.5 137.29M648.24 133.45L640.13 136.39M641.12 113.89L649.68 114.4M639.88 83.61L645.22 85.17M643.05 30.01L651.73 31.23M624.66 72.09L631.68 76.11M662.84 74.28L660.83 79.57M659.65 81.18L666.86 81.45M649.96 36.87L650.43 41.72M604.07 44.82L611.89 45.52M641.69 112.84L648.84 116.78M624.24 101.49L626.01 107.81M653.29 92.69L648.48 95.78M614.3 57.78L622.17 60.21M651.93 86.02L649.07 93.73M632.22 114.47L626.26 120.49M641.08 127.95L647.63 131.58M660.47 48.04L665.66 49.5" stroke="#e6c596" stroke-width="1.5"/>
<path d="M638.14 75.68Q630.79 80.17 635.91 83.07M604.6 84.04Q604.05 87.3 606.7 86.73M641.79 113.78Q638.07 114.45 637.6 115.72M648.36 96.25Q647.3 97.37 644.97 101.34M648.76 55.05Q645.48 59.1 645.33 58.42M650.92 119.72Q647.89 118.76 652.6 127.3M638.24 84.88Q633.09 86.38 632.03 85.64M626.14 32.61Q634 37.74 628.02 35.66M640.82 117.72Q642.7 114.82 640.52 121.22M640.19 80.27Q637.47 79.24 647.46 80.34M632.33 37.93Q638.3 34.61 632.68 44.69M656.84 73.08Q659.47 77.46 660.82 74.36M636.86 130.39Q633.74 133.1 637.16 137.46M629.75 43.39Q626.27 43.92 628.1 46.65M626.76 53.7Q621.35 61.28 625.37 60.55M624.27 51.66Q624 53.74 620.61 53.04M608.82 51.03Q609.18 49.88 602.77 55.54M636.65 102.27Q641.06 99.5 636.07 105.26M634.67 91.76Q634.42 88.61 641.84 94.13M635.17 88.78Q634.79 86.76 634.2 93.62M655.97 44.56Q658.17 45.24 652.63 45.51M617 44.29Q617.52 47.11 614.18 48.24M643.57 25.8Q639.71 23.13 640.37 28.05M630.08 111.82Q623.94 115.06 629.12 115.87M651.47 57.64Q648.09 59.71 654.34 61.13M630.08 116.8Q627.24 114.24 626.47 118.47M607.18 37.97Q614.89 43.2 609.88 41.58M637.03 82.74Q634.64 83.76 632.8 83.17M645.32 73.5Q645 82.54 641.81 76.92M628.19 51.22Q628.5 55.31 628.42 55.7M635.31 34.38Q638.11 34.96 636.5 41.17M630.47 116.38Q629.61 112.82 627.67 118.94M626.62 97.08Q625.91 99.86 623.47 104.41M634.76 110.54Q640.45 106.73 640.08 115.01M609.34 79.92Q607.86 83.16 612.18 81.6M618.17 52.45Q615.11 55.1 614.97 59.41M661.23 59.35Q654.98 63.44 655.27 62.8M663.03 46.63Q655.17 48.17 659.58 47.95M631.34 112.95Q630.58 116.88 626.8 113.14M612.63 32.42Q609.92 36.72 609.8 35.72M631.88 99.7Q637.52 99.5 638.57 101.21M651.96 118.12Q648.09 121.57 645.33 122.5M624.6 54.92Q625.9 52.98 625.89 59.91M658.73 40.25Q657.77 42.81 659.37 44.02M632.68 121.91Q629.31 119.95 625.3 123.67M636.41 66.98Q642.12 65.92 640.81 67.7M611.35 27.53Q611.97 28.25 607.63 27.57M635.52 67.22Q632.37 68.07 630.43 68.87M608.7 50.36Q610.46 54.54 615.13 53.17M644.37 30.68Q647.6 31.36 641.7 33.17M649.75 107Q650.23 111.7 651.7 112.04M649.84 114.96Q647.26 113.36 652.04 119.6M612.59 60.29Q609.88 63.9 611.33 63.59M640.92 60.4Q641.71 63.69 635.14 65.38M663.02 67.85Q659.48 72.55 660.39 73.62M633.39 85.57Q634.9 86.77 638.57 85.66M633.68 87.23Q636.76 92.11 630.35 91.95M621.99 61.85Q622.67 61.65 623.57 64.65M621.78 72.28Q629.88 67.49 625.72 73.01M638.09 97.83Q637.97 100.66 639.61 104.48M618.26 75.46Q618.46 75.06 613.2 77.49M607.9 51.82Q604.97 53.62 603.17 56.68M639.06 35.56Q636.96 35.44 635.23 36.77M610.56 92.99Q610.35 98.71 612.62 100.7M606.56 40.07Q605.45 42 608.08 43.09M629.28 40.72Q622.67 44.88 621.81 42.4M625.65 94.21Q628.1 100.77 625.12 101.7M614.33 31.29Q611.45 37.64 610.49 32.44M637.92 94.83Q636.34 92.03 641.52 97.73M619.61 36.5Q619.08 36.61 623.18 38.31M644.1 57.38Q647.35 60.8 646.25 60.26M640.25 34.79Q639.26 35.73 642.86 42.26M660.94 64.39Q657.96 61.54 659.15 66.86M631.23 129.03Q635.04 133.04 634.01 132.87M652.75 35.81Q656.25 34.46 657.56 39.46M608.05 48.54Q615.47 47.13 611.66 50.69M622.84 92.06Q626.55 94.07 624.95 96.82M621.82 63.23Q620.27 65.66 621.53 71.08M649.38 50.78Q647.28 48.33 645.24 50.92M604.16 82.48Q605.05 80.12 605.47 85.52M623.28 93.2Q624.72 94.6 624.57 97.95M637.11 127.74Q636.62 135.14 635.5 134.58M623.95 95.96Q624.67 91.2 617 98.75M638.22 113.28Q636.95 116.25 634.27 116.75M626.34 71.33Q624.19 71.99 629.55 72.89M651.85 55.2Q648.35 54.75 655 55.67M646 34.19Q652.83 34.48 642.26 34.44M655.34 74.07Q661.22 75.73 656.59 80.58M629.56 92.68Q632.96 90.83 628.74 95.95M643.74 44.69Q644.37 47.64 642.82 48.78M633.02 99.62Q629.03 98.5 632.93 105.88M632.26 25.22Q628.38 20.4 632.2 28.25M608.86 75.77Q608.61 70.77 615.02 76.49M656.04 60.5Q646.75 61.83 648.66 61.29M628.91 68.77Q627.64 74.06 629.1 74.26M644.37 100.64Q647.82 103.11 650.31 105.41M623.44 68.16Q622.32 71.16 622.27 71.13M645.64 115.41Q650.23 120.45 649.88 119.86M637.22 23.73Q641.25 23.91 639.83 29.61M658.42 32.78Q655.14 32.26 650.72 33.23M656.04 36.69Q656.38 38.45 661.39 37.17M615.63 101.08Q606.99 99.15 611.71 106.32M617.08 34.73Q613.19 34.29 613.22 35.41M623.86 112.91Q622.41 115.42 621.77 119.44M603.81 46.62Q608.53 49.75 607.66 51.09M653.12 64.82Q656.58 69.46 655.72 70.38M619.34 39.04Q620.55 39.99 618.25 43.22M623.41 110.7Q620.29 110.56 624.93 114.71M654.22 49.64Q651.26 52.23 651.63 51.38M642.54 63.83Q641.96 62.95 640.01 68.7M643.1 87.95Q648.49 91.29 646.37 91.05" stroke="#a87e52" stroke-width="0.7"/>
<path d="M647.66 27.26L647.96 29.61L646.14 28.1L646.44 30.45L644.62 28.94L644.93 31.29L643.1 29.78L643.41 32.12L641.59 30.62M613.64 106.45L616 106.76L614.09 108.18L616.44 108.49L614.53 109.91L616.89 110.23L614.98 111.64L617.33 111.96M607.9 61.01L609.94 62.2L607.63 62.69L609.67 63.88L607.36 64.37L609.4 65.56M628.66 84.87L631.04 84.63L629.55 86.5L631.93 86.27L630.44 88.14L632.82 87.91L631.33 89.78L633.71 89.55M644.61 39.52L644.86 41.88L643.03 40.37L643.28 42.73L641.45 41.21L641.71 43.58L639.87 42.06L640.13 44.43M611.79 95.94L614.06 95.24L612.93 97.33L615.2 96.63L614.07 98.72L616.34 98.02L615.2 100.11L617.47 99.41L616.34 101.49L618.61 100.79L617.48 102.88M614.57 105.2L616.64 104.05L615.93 106.3L618 105.16L617.28 107.41L619.35 106.26L618.63 108.52L620.7 107.37L619.98 109.63L622.05 108.48M608.57 56.94L608.82 59.28L607.05 57.72L607.31 60.07L605.54 58.51L605.79 60.85L604.02 59.29M619.61 114.63L621.51 113.21L621.12 115.55L623.02 114.13L622.62 116.47L624.52 115.05L624.12 117.39L626.02 115.97M609.76 54.04L611.65 55.53L609.28 55.91L611.16 57.39L608.79 57.77L610.68 59.26L608.31 59.64L610.2 61.12L607.83 61.5L609.72 62.99M633.37 56.61L634.63 54.58L635.2 56.9L636.46 54.87L637.03 57.19L638.28 55.16L638.86 57.47L640.11 55.44L640.68 57.76M613.45 28.38L615.56 29.42L613.29 30.01L615.39 31.04L613.12 31.63L615.23 32.67L612.96 33.26L615.06 34.3M638.69 79.48L638.9 81.84L637.14 80.25L637.36 82.61L635.6 81.03L635.81 83.38L634.05 81.8L634.27 84.15M643.62 131.52L644.77 133.62L642.44 133.04L643.59 135.14L641.26 134.56L642.42 136.66L640.09 136.08L641.24 138.18L638.91 137.6L640.07 139.7M624.86 101.77L627.22 102.1L625.32 103.54L627.68 103.87L625.78 105.31L628.14 105.64L626.24 107.07M618.75 71.52L618.89 73.86L617.24 72.19L617.39 74.54L615.74 72.86L615.89 75.21M640.58 98.72L642.56 100.02L640.23 100.43L642.2 101.72L639.87 102.13L641.85 103.43L639.52 103.84L641.5 105.14L639.17 105.54L641.15 106.84M618.05 39.85L617.39 42.14L616.21 40.06L615.55 42.36L614.37 40.28L613.71 42.57L612.54 40.5L611.88 42.79M648.23 69.4L650.35 70.44L648.09 71.11L650.21 72.15L647.94 72.82L650.06 73.86L647.8 74.53L649.92 75.57L647.65 76.24L649.77 77.28M640.77 32.2L641.22 34.54L639.23 33.22L639.68 35.57L637.69 34.25L638.14 36.59L636.15 35.27L636.6 37.61L634.61 36.29L635.06 38.64M634.81 52.03L635.99 54.05L633.78 53.27L634.96 55.3L632.75 54.52L633.93 56.54M631.17 35L633.39 34.2L632.28 36.28L634.49 35.47L633.39 37.55L635.6 36.75L634.49 38.83L636.71 38.02L635.6 40.1M654.57 32.7L655.94 30.84L655.96 33.16L657.34 31.29L657.36 33.61L658.74 31.74L658.76 34.06M609.5 95.75L611.45 97.11L609.11 97.52L611.06 98.88L608.72 99.3L610.67 100.66L608.33 101.07L610.28 102.43L607.94 102.85M648.51 43.68L650.84 43.78L648.97 45.18L651.31 45.29L649.43 46.69L651.77 46.79L649.9 48.19L652.23 48.3M629.68 108.55L631.87 107.76L630.66 109.75L632.85 108.96L631.63 110.95L633.83 110.15L632.61 112.14M634.28 55.3L636.47 54.45L635.38 56.53L637.57 55.67L636.48 57.75L638.67 56.89L637.58 58.97M651.54 75.93L650.86 78.21L649.74 76.11L649.06 78.39L647.93 76.3L647.25 78.58L646.13 76.48L645.45 78.77L644.32 76.67L643.64 78.95M643.74 45.71L645.75 46.95L643.44 47.4L645.45 48.63L643.13 49.09L645.14 50.32L642.83 50.77L644.84 52.01L642.52 52.46L644.53 53.7M616.94 71.39L619.24 70.88L617.85 72.78L620.15 72.27L618.76 74.17L621.06 73.67L619.67 75.57L621.97 75.06M633.71 26.97L634.51 29.17L632.49 27.99L633.29 30.19L631.27 29L632.07 31.2L630.06 30.02L630.86 32.21M617.45 94.56L618.99 92.75L619.17 95.12L620.7 93.31L620.88 95.68L622.42 93.87L622.59 96.24L624.13 94.43L624.3 96.8L625.84 94.99M645.75 116.13L645.55 118.47L644.15 116.59L643.95 118.93L642.55 117.04L642.36 119.39L640.96 117.5L640.76 119.84M654.93 34.27L655.21 36.6L653.46 35.03L653.74 37.36L651.99 35.79L652.27 38.12L650.52 36.55L650.8 38.89L649.06 37.31M648.94 26.76L650.64 25.07L650.72 27.47L652.42 25.78L652.5 28.17L654.2 26.48L654.28 28.88L655.99 27.19L656.07 29.59M619.86 69.63L620.44 71.95L618.4 70.72L618.97 73.03L616.93 71.81L617.5 74.12L615.46 72.89L616.03 75.21M671.31 69.61L670.68 71.93L669.41 69.89L668.78 72.21L667.51 70.17L666.89 72.49L665.62 70.45L664.99 72.77L663.72 70.73M614.03 86.06L616.36 85.91L614.66 87.52L617 87.37L615.3 88.97L617.63 88.82L615.93 90.43L618.26 90.28M629.56 92.36L631.91 92.53L630.06 94L632.41 94.17L630.56 95.63L632.92 95.8L631.06 97.27L633.42 97.44M632.21 87.12L633.93 85.51L633.72 87.85L635.43 86.24L635.23 88.58L636.94 86.97L636.74 89.31L638.45 87.7M652.5 64.48L651.83 66.73L650.86 64.59L650.2 66.85L649.23 64.71L648.56 66.96L647.59 64.82L646.93 67.07M609.85 106.16L611.9 104.94L611.32 107.25L613.37 106.03L612.79 108.35L614.84 107.13L614.26 109.44L616.3 108.22L615.73 110.53M642.51 97.49L644.64 98.47L642.39 99.12L644.52 100.11L642.26 100.75L644.39 101.74L642.14 102.39L644.27 103.37M646.89 35.2L649.21 34.91L647.6 36.61L649.92 36.32L648.31 38.01L650.63 37.72L649.03 39.42M614.89 88.55L617.25 88.66L615.46 90.21L617.82 90.32L616.03 91.87L618.39 91.98L616.6 93.52L618.96 93.64L617.17 95.18M651.79 89.24L651.4 91.58L650.05 89.63L649.66 91.97L648.32 90.02L647.93 92.36L646.58 90.4L646.19 92.75L644.84 90.79L644.46 93.13M650.35 37.88L651.82 36.01L652.11 38.38L653.58 36.5L653.86 38.87L655.33 37L655.62 39.36L657.09 37.49M642.26 85.64L644.59 86.01L642.64 87.34L644.97 87.71L643.02 89.04L645.36 89.41L643.4 90.74L645.74 91.11L643.78 92.44L646.12 92.81M622.26 85.97L623.41 83.88L624.09 86.17L625.24 84.08L625.92 86.37L627.07 84.28L627.75 86.57L628.9 84.48L629.58 86.76M629.32 96.1L630.86 97.93L628.47 97.76L630 99.59L627.62 99.42L629.15 101.25L626.77 101.08L628.3 102.91L625.91 102.74M625.05 49.51L627.38 49.96L625.4 51.27L627.73 51.72L625.75 53.03L628.08 53.49L626.1 54.8L628.43 55.25L626.45 56.56L628.78 57.01L626.8 58.32M652.3 118.04L651.71 120.3L650.74 118.18L650.15 120.44L649.18 118.31L648.59 120.57L647.62 118.45M625.55 54.88L626.77 52.84L627.32 55.15L628.53 53.11L629.08 55.42L630.3 53.38L630.85 55.68L632.06 53.64L632.61 55.95L633.83 53.91M613.66 93.29L615.99 93.11L614.33 94.76L616.67 94.58L615.01 96.23L617.34 96.05L615.68 97.7M613.79 65.5L614.35 67.81L612.34 66.55L612.9 68.85L610.89 67.59L611.45 69.9L609.44 68.63M615.96 59.66L617.69 58.11L617.28 60.4L619.02 58.85L618.6 61.14L620.34 59.59L619.93 61.88M665.14 73.04L666.01 75.23L663.9 74.18L664.77 76.37L662.66 75.32L663.53 77.51L661.42 76.46L662.29 78.65L660.18 77.6M609.5 30.17L611.15 31.91L608.75 31.9L610.4 33.64L608 33.63L609.65 35.37L607.26 35.37L608.9 37.1L606.51 37.1M637.46 115.45L638.79 117.4L636.48 116.89L637.81 118.85L635.5 118.34L636.83 120.3M631.74 110.64L632.44 112.9L630.4 111.71L631.09 113.97L629.05 112.78L629.75 115.04L627.71 113.85L628.4 116.11L626.36 114.92L627.06 117.18M608.34 78.7L608.56 81.07L606.76 79.51L606.98 81.88L605.19 80.32L605.4 82.69L603.61 81.14L603.83 83.5L602.03 81.95L602.25 84.31L600.45 82.76M649.21 98.63L648.6 100.95L647.34 98.91L646.73 101.23L645.47 99.19L644.86 101.51L643.6 99.47L642.99 101.79L641.73 99.75M628.24 91.54L629.75 89.74L629.79 92.09L631.3 90.29L631.35 92.64L632.85 90.84L632.9 93.18M626.2 119.88L627.36 117.79L628.04 120.08L629.21 118L629.89 120.29L631.06 118.2L631.74 120.49L632.9 118.41L633.59 120.7M643.99 124.02L646.27 124.74L644.16 125.85L646.43 126.57L644.33 127.69L646.6 128.41L644.5 129.53L646.77 130.25L644.66 131.37M628.74 85.38L630.95 84.53L629.96 86.68L632.18 85.83L631.19 87.99L633.41 87.13L632.42 89.29L634.63 88.44L633.64 90.6L635.86 89.74L634.87 91.9M617.53 42.08L618.92 40.13L619.38 42.48L620.77 40.53L621.23 42.88L622.62 40.93L623.08 43.28L624.47 41.33L624.93 43.68M645.71 129.75L647.61 131.2L645.25 131.58L647.15 133.03L644.79 133.41L646.69 134.86L644.33 135.25L646.23 136.7L643.87 137.08M644.12 60.94L646.04 59.5L645.78 61.88L647.7 60.45L647.43 62.83L649.35 61.4L649.08 63.78L651 62.34L650.73 64.72M646.64 112.98L648.51 114.42L646.16 114.67L648.04 116.11L645.68 116.36L647.56 117.8L645.2 118.05L647.08 119.49L644.73 119.74L646.6 121.18M638.42 102.82L640.35 101.42L639.99 103.78L641.92 102.38L641.55 104.74L643.48 103.34L643.12 105.69L645.05 104.29L644.68 106.65L646.61 105.25M644.7 83.48L647.03 83.81L645.08 85.13L647.41 85.46L645.46 86.78L647.8 87.11L645.84 88.43L648.18 88.76M599.74 83L601.33 81.26L601.31 83.61L602.9 81.88L602.87 84.23L604.46 82.5L604.43 84.85L606.02 83.11M616.48 39.76L618.64 40.76L616.4 41.6L618.57 42.61L616.33 43.45L618.5 44.46L616.26 45.3L618.42 46.3L616.19 47.14L618.35 48.15M633.34 35.93L635.59 35.15L634.55 37.29L636.8 36.51L635.76 38.65L638.01 37.87L636.97 40.01L639.22 39.23L638.18 41.37M604.27 72.74L605.6 70.8L605.89 73.13L607.22 71.19L607.51 73.53L608.84 71.58L609.14 73.92M616.71 95.98L618.19 97.82L615.87 97.44L617.35 99.27L615.02 98.9L616.5 100.73L614.18 100.36M604.03 42.91L606.34 42.3L605.17 44.39L607.48 43.79L606.31 45.87L608.63 45.27L607.46 47.35L609.77 46.75L608.6 48.83M622.86 59.98L625.22 59.77L623.66 61.55L626.02 61.34L624.45 63.12L626.81 62.91L625.25 64.69M646.22 40.5L647.05 42.71L644.93 41.65L645.76 43.86L643.65 42.8L644.47 45.02L642.36 43.95L643.18 46.17L641.07 45.11M620.94 30.53L623.17 29.7L622.13 31.83L624.35 31.01L623.31 33.14L625.53 32.31L624.49 34.44L626.71 33.62L625.68 35.75L627.9 34.93L626.86 37.06M662.86 73.44L663.91 75.56L661.69 74.73L662.75 76.85L660.53 76.03L661.58 78.15L659.36 77.33L660.41 79.45M639.13 116.45L640.47 114.53L640.71 116.86L642.04 114.94L642.28 117.27L643.62 115.35L643.85 117.68L645.19 115.75M640.26 99.53L641.68 97.65L641.85 100L643.27 98.12L643.43 100.47L644.85 98.6L645.02 100.94L646.44 99.07L646.6 101.41M610.72 57.74L612.01 59.72L609.7 59.19L611 61.18L608.69 60.65L609.99 62.63L607.68 62.1L608.98 64.08L606.66 63.55M634.54 53.74L635.2 56.01L633.16 54.81L633.82 57.08L631.78 55.88L632.44 58.16L630.4 56.96L631.06 59.23L629.01 58.03M618.07 62.46L620.37 61.85L619.16 63.9L621.46 63.3L620.26 65.35L622.56 64.74L621.36 66.79M622.21 39.2L624.48 39.74L622.38 40.77L624.66 41.31L622.56 42.33L624.83 42.87L622.73 43.9L625.01 44.44M623.78 44.22L625.45 42.54L625.38 44.91L627.05 43.23L626.99 45.6L628.66 43.92L628.59 46.28L630.26 44.6L630.2 46.97M604.08 66.07L606.42 66.48L604.47 67.84L606.81 68.25L604.86 69.6L607.2 70.01L605.25 71.37L607.59 71.78L605.63 73.14L607.98 73.54M602.97 94.63L605.21 93.78L604.31 96L606.56 95.15L605.66 97.38L607.9 96.53L607 98.76L609.25 97.91L608.35 100.13L610.6 99.29M649.15 113.75L649.78 116.03L647.75 114.81L648.38 117.09L646.35 115.87L646.97 118.15L644.95 116.93L645.57 119.22L643.54 117.99L644.17 120.28M655.1 59.4L656.08 61.55L653.91 60.63L654.89 62.78L652.72 61.86L653.7 64.01L651.52 63.09L652.51 65.24L650.33 64.32L651.32 66.46M617.39 85.76L619.23 87.27L616.86 87.53L618.7 89.04L616.33 89.3L618.18 90.81L615.8 91.07L617.65 92.58L615.28 92.84M637.5 49.03L639.84 48.65L638.44 50.57L640.78 50.19L639.38 52.1L641.72 51.73L640.31 53.64M617.65 60.81L616.99 63.09L615.87 60.99L615.21 63.27L614.09 61.17L613.42 63.45L612.31 61.36L611.64 63.64M625.37 85.17L627.18 83.64L626.92 85.99L628.73 84.46L628.47 86.82L630.28 85.29L630.02 87.64L631.83 86.12L631.57 88.47L633.38 86.94M618.59 87.5L620.81 86.63L619.89 88.83L622.11 87.97L621.19 90.17L623.42 89.3L622.49 91.51L624.72 90.64M631.48 36.74L630.92 39.04L629.77 36.97L629.21 39.27L628.06 37.2L627.5 39.5L626.35 37.43L625.79 39.72L624.65 37.66M641.32 64.64L643.44 63.57L642.66 65.81L644.78 64.75L643.99 66.99L646.11 65.92L645.32 68.16M654.88 53.52L657.23 53.95L655.29 55.34L657.64 55.78L655.69 57.16L658.04 57.6L656.1 58.99L658.45 59.42L656.5 60.81M623.77 112.68L625.05 114.66L622.77 114.04L624.05 116.03L621.77 115.41L623.05 117.39M606.01 54.39L608.35 54.23L606.71 55.91L609.05 55.74L607.41 57.42L609.75 57.26L608.11 58.94M650.47 29.99L650.27 32.32L648.94 30.39L648.73 32.72L647.41 30.8L647.2 33.12L645.88 31.2L645.67 33.52M629.97 27.25L632.14 26.3L631.23 28.48L633.4 27.53L632.49 29.72L634.66 28.77L633.75 30.96L635.92 30.01L635 32.19L637.18 31.24M641.77 109.52L640.96 111.75L640 109.58L639.19 111.81L638.23 109.65L637.42 111.88L636.46 109.71M615.93 36.37L616.43 38.69L614.46 37.37L614.96 39.68L612.99 38.36L613.49 40.68L611.53 39.35L612.03 41.67L610.06 40.35M621.65 79.47L622.84 77.44L623.3 79.75L624.49 77.72L624.95 80.02L626.14 77.99L626.6 80.3L627.79 78.27L628.25 80.58M643.73 72.42L646.07 72.64L644.15 73.99L646.48 74.22L644.56 75.57L646.9 75.8L644.98 77.14L647.31 77.37M644.73 40.05L646.34 41.8L643.96 41.72L645.57 43.48L643.19 43.4L644.8 45.16L642.42 45.08L644.03 46.83L641.65 46.75L643.26 48.51M644.89 61.26L646.95 60.16L646.09 62.33L648.16 61.23L647.29 63.41L649.36 62.3M633.95 51.56L633.17 53.81L632.14 51.66L631.37 53.91L630.34 51.77L629.56 54.02L628.54 51.87L627.76 54.12L626.73 51.97M623.72 41.49L623.95 43.81L622.31 42.15L622.54 44.48L620.9 42.82L621.13 45.14L619.49 43.48M626.59 42.7L628.46 44.17L626.1 44.43L627.96 45.9L625.6 46.15L627.46 47.63L625.1 47.88" stroke="#a87e52" stroke-width="1.7"/>
<path d="M647.66 27.26L647.96 29.61L646.14 28.1L646.44 30.45L644.62 28.94L644.93 31.29L643.1 29.78L643.41 32.12L641.59 30.62M613.64 106.45L616 106.76L614.09 108.18L616.44 108.49L614.53 109.91L616.89 110.23L614.98 111.64L617.33 111.96M607.9 61.01L609.94 62.2L607.63 62.69L609.67 63.88L607.36 64.37L609.4 65.56M628.66 84.87L631.04 84.63L629.55 86.5L631.93 86.27L630.44 88.14L632.82 87.91L631.33 89.78L633.71 89.55M644.61 39.52L644.86 41.88L643.03 40.37L643.28 42.73L641.45 41.21L641.71 43.58L639.87 42.06L640.13 44.43M611.79 95.94L614.06 95.24L612.93 97.33L615.2 96.63L614.07 98.72L616.34 98.02L615.2 100.11L617.47 99.41L616.34 101.49L618.61 100.79L617.48 102.88M614.57 105.2L616.64 104.05L615.93 106.3L618 105.16L617.28 107.41L619.35 106.26L618.63 108.52L620.7 107.37L619.98 109.63L622.05 108.48M608.57 56.94L608.82 59.28L607.05 57.72L607.31 60.07L605.54 58.51L605.79 60.85L604.02 59.29M619.61 114.63L621.51 113.21L621.12 115.55L623.02 114.13L622.62 116.47L624.52 115.05L624.12 117.39L626.02 115.97M609.76 54.04L611.65 55.53L609.28 55.91L611.16 57.39L608.79 57.77L610.68 59.26L608.31 59.64L610.2 61.12L607.83 61.5L609.72 62.99M633.37 56.61L634.63 54.58L635.2 56.9L636.46 54.87L637.03 57.19L638.28 55.16L638.86 57.47L640.11 55.44L640.68 57.76M613.45 28.38L615.56 29.42L613.29 30.01L615.39 31.04L613.12 31.63L615.23 32.67L612.96 33.26L615.06 34.3M638.69 79.48L638.9 81.84L637.14 80.25L637.36 82.61L635.6 81.03L635.81 83.38L634.05 81.8L634.27 84.15M643.62 131.52L644.77 133.62L642.44 133.04L643.59 135.14L641.26 134.56L642.42 136.66L640.09 136.08L641.24 138.18L638.91 137.6L640.07 139.7M624.86 101.77L627.22 102.1L625.32 103.54L627.68 103.87L625.78 105.31L628.14 105.64L626.24 107.07M618.75 71.52L618.89 73.86L617.24 72.19L617.39 74.54L615.74 72.86L615.89 75.21M640.58 98.72L642.56 100.02L640.23 100.43L642.2 101.72L639.87 102.13L641.85 103.43L639.52 103.84L641.5 105.14L639.17 105.54L641.15 106.84M618.05 39.85L617.39 42.14L616.21 40.06L615.55 42.36L614.37 40.28L613.71 42.57L612.54 40.5L611.88 42.79M648.23 69.4L650.35 70.44L648.09 71.11L650.21 72.15L647.94 72.82L650.06 73.86L647.8 74.53L649.92 75.57L647.65 76.24L649.77 77.28M640.77 32.2L641.22 34.54L639.23 33.22L639.68 35.57L637.69 34.25L638.14 36.59L636.15 35.27L636.6 37.61L634.61 36.29L635.06 38.64M634.81 52.03L635.99 54.05L633.78 53.27L634.96 55.3L632.75 54.52L633.93 56.54M631.17 35L633.39 34.2L632.28 36.28L634.49 35.47L633.39 37.55L635.6 36.75L634.49 38.83L636.71 38.02L635.6 40.1M654.57 32.7L655.94 30.84L655.96 33.16L657.34 31.29L657.36 33.61L658.74 31.74L658.76 34.06M609.5 95.75L611.45 97.11L609.11 97.52L611.06 98.88L608.72 99.3L610.67 100.66L608.33 101.07L610.28 102.43L607.94 102.85M648.51 43.68L650.84 43.78L648.97 45.18L651.31 45.29L649.43 46.69L651.77 46.79L649.9 48.19L652.23 48.3M629.68 108.55L631.87 107.76L630.66 109.75L632.85 108.96L631.63 110.95L633.83 110.15L632.61 112.14M634.28 55.3L636.47 54.45L635.38 56.53L637.57 55.67L636.48 57.75L638.67 56.89L637.58 58.97M651.54 75.93L650.86 78.21L649.74 76.11L649.06 78.39L647.93 76.3L647.25 78.58L646.13 76.48L645.45 78.77L644.32 76.67L643.64 78.95M643.74 45.71L645.75 46.95L643.44 47.4L645.45 48.63L643.13 49.09L645.14 50.32L642.83 50.77L644.84 52.01L642.52 52.46L644.53 53.7M616.94 71.39L619.24 70.88L617.85 72.78L620.15 72.27L618.76 74.17L621.06 73.67L619.67 75.57L621.97 75.06M633.71 26.97L634.51 29.17L632.49 27.99L633.29 30.19L631.27 29L632.07 31.2L630.06 30.02L630.86 32.21M617.45 94.56L618.99 92.75L619.17 95.12L620.7 93.31L620.88 95.68L622.42 93.87L622.59 96.24L624.13 94.43L624.3 96.8L625.84 94.99M645.75 116.13L645.55 118.47L644.15 116.59L643.95 118.93L642.55 117.04L642.36 119.39L640.96 117.5L640.76 119.84M654.93 34.27L655.21 36.6L653.46 35.03L653.74 37.36L651.99 35.79L652.27 38.12L650.52 36.55L650.8 38.89L649.06 37.31M648.94 26.76L650.64 25.07L650.72 27.47L652.42 25.78L652.5 28.17L654.2 26.48L654.28 28.88L655.99 27.19L656.07 29.59M619.86 69.63L620.44 71.95L618.4 70.72L618.97 73.03L616.93 71.81L617.5 74.12L615.46 72.89L616.03 75.21M671.31 69.61L670.68 71.93L669.41 69.89L668.78 72.21L667.51 70.17L666.89 72.49L665.62 70.45L664.99 72.77L663.72 70.73M614.03 86.06L616.36 85.91L614.66 87.52L617 87.37L615.3 88.97L617.63 88.82L615.93 90.43L618.26 90.28M629.56 92.36L631.91 92.53L630.06 94L632.41 94.17L630.56 95.63L632.92 95.8L631.06 97.27L633.42 97.44M632.21 87.12L633.93 85.51L633.72 87.85L635.43 86.24L635.23 88.58L636.94 86.97L636.74 89.31L638.45 87.7M652.5 64.48L651.83 66.73L650.86 64.59L650.2 66.85L649.23 64.71L648.56 66.96L647.59 64.82L646.93 67.07M609.85 106.16L611.9 104.94L611.32 107.25L613.37 106.03L612.79 108.35L614.84 107.13L614.26 109.44L616.3 108.22L615.73 110.53M642.51 97.49L644.64 98.47L642.39 99.12L644.52 100.11L642.26 100.75L644.39 101.74L642.14 102.39L644.27 103.37M646.89 35.2L649.21 34.91L647.6 36.61L649.92 36.32L648.31 38.01L650.63 37.72L649.03 39.42M614.89 88.55L617.25 88.66L615.46 90.21L617.82 90.32L616.03 91.87L618.39 91.98L616.6 93.52L618.96 93.64L617.17 95.18M651.79 89.24L651.4 91.58L650.05 89.63L649.66 91.97L648.32 90.02L647.93 92.36L646.58 90.4L646.19 92.75L644.84 90.79L644.46 93.13M650.35 37.88L651.82 36.01L652.11 38.38L653.58 36.5L653.86 38.87L655.33 37L655.62 39.36L657.09 37.49M642.26 85.64L644.59 86.01L642.64 87.34L644.97 87.71L643.02 89.04L645.36 89.41L643.4 90.74L645.74 91.11L643.78 92.44L646.12 92.81M622.26 85.97L623.41 83.88L624.09 86.17L625.24 84.08L625.92 86.37L627.07 84.28L627.75 86.57L628.9 84.48L629.58 86.76M629.32 96.1L630.86 97.93L628.47 97.76L630 99.59L627.62 99.42L629.15 101.25L626.77 101.08L628.3 102.91L625.91 102.74M625.05 49.51L627.38 49.96L625.4 51.27L627.73 51.72L625.75 53.03L628.08 53.49L626.1 54.8L628.43 55.25L626.45 56.56L628.78 57.01L626.8 58.32M652.3 118.04L651.71 120.3L650.74 118.18L650.15 120.44L649.18 118.31L648.59 120.57L647.62 118.45M625.55 54.88L626.77 52.84L627.32 55.15L628.53 53.11L629.08 55.42L630.3 53.38L630.85 55.68L632.06 53.64L632.61 55.95L633.83 53.91M613.66 93.29L615.99 93.11L614.33 94.76L616.67 94.58L615.01 96.23L617.34 96.05L615.68 97.7M613.79 65.5L614.35 67.81L612.34 66.55L612.9 68.85L610.89 67.59L611.45 69.9L609.44 68.63M615.96 59.66L617.69 58.11L617.28 60.4L619.02 58.85L618.6 61.14L620.34 59.59L619.93 61.88M665.14 73.04L666.01 75.23L663.9 74.18L664.77 76.37L662.66 75.32L663.53 77.51L661.42 76.46L662.29 78.65L660.18 77.6M609.5 30.17L611.15 31.91L608.75 31.9L610.4 33.64L608 33.63L609.65 35.37L607.26 35.37L608.9 37.1L606.51 37.1M637.46 115.45L638.79 117.4L636.48 116.89L637.81 118.85L635.5 118.34L636.83 120.3M631.74 110.64L632.44 112.9L630.4 111.71L631.09 113.97L629.05 112.78L629.75 115.04L627.71 113.85L628.4 116.11L626.36 114.92L627.06 117.18M608.34 78.7L608.56 81.07L606.76 79.51L606.98 81.88L605.19 80.32L605.4 82.69L603.61 81.14L603.83 83.5L602.03 81.95L602.25 84.31L600.45 82.76M649.21 98.63L648.6 100.95L647.34 98.91L646.73 101.23L645.47 99.19L644.86 101.51L643.6 99.47L642.99 101.79L641.73 99.75M628.24 91.54L629.75 89.74L629.79 92.09L631.3 90.29L631.35 92.64L632.85 90.84L632.9 93.18M626.2 119.88L627.36 117.79L628.04 120.08L629.21 118L629.89 120.29L631.06 118.2L631.74 120.49L632.9 118.41L633.59 120.7M643.99 124.02L646.27 124.74L644.16 125.85L646.43 126.57L644.33 127.69L646.6 128.41L644.5 129.53L646.77 130.25L644.66 131.37M628.74 85.38L630.95 84.53L629.96 86.68L632.18 85.83L631.19 87.99L633.41 87.13L632.42 89.29L634.63 88.44L633.64 90.6L635.86 89.74L634.87 91.9M617.53 42.08L618.92 40.13L619.38 42.48L620.77 40.53L621.23 42.88L622.62 40.93L623.08 43.28L624.47 41.33L624.93 43.68M645.71 129.75L647.61 131.2L645.25 131.58L647.15 133.03L644.79 133.41L646.69 134.86L644.33 135.25L646.23 136.7L643.87 137.08M644.12 60.94L646.04 59.5L645.78 61.88L647.7 60.45L647.43 62.83L649.35 61.4L649.08 63.78L651 62.34L650.73 64.72M646.64 112.98L648.51 114.42L646.16 114.67L648.04 116.11L645.68 116.36L647.56 117.8L645.2 118.05L647.08 119.49L644.73 119.74L646.6 121.18M638.42 102.82L640.35 101.42L639.99 103.78L641.92 102.38L641.55 104.74L643.48 103.34L643.12 105.69L645.05 104.29L644.68 106.65L646.61 105.25M644.7 83.48L647.03 83.81L645.08 85.13L647.41 85.46L645.46 86.78L647.8 87.11L645.84 88.43L648.18 88.76M599.74 83L601.33 81.26L601.31 83.61L602.9 81.88L602.87 84.23L604.46 82.5L604.43 84.85L606.02 83.11M616.48 39.76L618.64 40.76L616.4 41.6L618.57 42.61L616.33 43.45L618.5 44.46L616.26 45.3L618.42 46.3L616.19 47.14L618.35 48.15M633.34 35.93L635.59 35.15L634.55 37.29L636.8 36.51L635.76 38.65L638.01 37.87L636.97 40.01L639.22 39.23L638.18 41.37M604.27 72.74L605.6 70.8L605.89 73.13L607.22 71.19L607.51 73.53L608.84 71.58L609.14 73.92M616.71 95.98L618.19 97.82L615.87 97.44L617.35 99.27L615.02 98.9L616.5 100.73L614.18 100.36M604.03 42.91L606.34 42.3L605.17 44.39L607.48 43.79L606.31 45.87L608.63 45.27L607.46 47.35L609.77 46.75L608.6 48.83M622.86 59.98L625.22 59.77L623.66 61.55L626.02 61.34L624.45 63.12L626.81 62.91L625.25 64.69M646.22 40.5L647.05 42.71L644.93 41.65L645.76 43.86L643.65 42.8L644.47 45.02L642.36 43.95L643.18 46.17L641.07 45.11M620.94 30.53L623.17 29.7L622.13 31.83L624.35 31.01L623.31 33.14L625.53 32.31L624.49 34.44L626.71 33.62L625.68 35.75L627.9 34.93L626.86 37.06M662.86 73.44L663.91 75.56L661.69 74.73L662.75 76.85L660.53 76.03L661.58 78.15L659.36 77.33L660.41 79.45M639.13 116.45L640.47 114.53L640.71 116.86L642.04 114.94L642.28 117.27L643.62 115.35L643.85 117.68L645.19 115.75M640.26 99.53L641.68 97.65L641.85 100L643.27 98.12L643.43 100.47L644.85 98.6L645.02 100.94L646.44 99.07L646.6 101.41M610.72 57.74L612.01 59.72L609.7 59.19L611 61.18L608.69 60.65L609.99 62.63L607.68 62.1L608.98 64.08L606.66 63.55M634.54 53.74L635.2 56.01L633.16 54.81L633.82 57.08L631.78 55.88L632.44 58.16L630.4 56.96L631.06 59.23L629.01 58.03M618.07 62.46L620.37 61.85L619.16 63.9L621.46 63.3L620.26 65.35L622.56 64.74L621.36 66.79M622.21 39.2L624.48 39.74L622.38 40.77L624.66 41.31L622.56 42.33L624.83 42.87L622.73 43.9L625.01 44.44M623.78 44.22L625.45 42.54L625.38 44.91L627.05 43.23L626.99 45.6L628.66 43.92L628.59 46.28L630.26 44.6L630.2 46.97M604.08 66.07L606.42 66.48L604.47 67.84L606.81 68.25L604.86 69.6L607.2 70.01L605.25 71.37L607.59 71.78L605.63 73.14L607.98 73.54M602.97 94.63L605.21 93.78L604.31 96L606.56 95.15L605.66 97.38L607.9 96.53L607 98.76L609.25 97.91L608.35 100.13L610.6 99.29M649.15 113.75L649.78 116.03L647.75 114.81L648.38 117.09L646.35 115.87L646.97 118.15L644.95 116.93L645.57 119.22L643.54 117.99L644.17 120.28M655.1 59.4L656.08 61.55L653.91 60.63L654.89 62.78L652.72 61.86L653.7 64.01L651.52 63.09L652.51 65.24L650.33 64.32L651.32 66.46M617.39 85.76L619.23 87.27L616.86 87.53L618.7 89.04L616.33 89.3L618.18 90.81L615.8 91.07L617.65 92.58L615.28 92.84M637.5 49.03L639.84 48.65L638.44 50.57L640.78 50.19L639.38 52.1L641.72 51.73L640.31 53.64M617.65 60.81L616.99 63.09L615.87 60.99L615.21 63.27L614.09 61.17L613.42 63.45L612.31 61.36L611.64 63.64M625.37 85.17L627.18 83.64L626.92 85.99L628.73 84.46L628.47 86.82L630.28 85.29L630.02 87.64L631.83 86.12L631.57 88.47L633.38 86.94M618.59 87.5L620.81 86.63L619.89 88.83L622.11 87.97L621.19 90.17L623.42 89.3L622.49 91.51L624.72 90.64M631.48 36.74L630.92 39.04L629.77 36.97L629.21 39.27L628.06 37.2L627.5 39.5L626.35 37.43L625.79 39.72L624.65 37.66M641.32 64.64L643.44 63.57L642.66 65.81L644.78 64.75L643.99 66.99L646.11 65.92L645.32 68.16M654.88 53.52L657.23 53.95L655.29 55.34L657.64 55.78L655.69 57.16L658.04 57.6L656.1 58.99L658.45 59.42L656.5 60.81M623.77 112.68L625.05 114.66L622.77 114.04L624.05 116.03L621.77 115.41L623.05 117.39M606.01 54.39L608.35 54.23L606.71 55.91L609.05 55.74L607.41 57.42L609.75 57.26L608.11 58.94M650.47 29.99L650.27 32.32L648.94 30.39L648.73 32.72L647.41 30.8L647.2 33.12L645.88 31.2L645.67 33.52M629.97 27.25L632.14 26.3L631.23 28.48L633.4 27.53L632.49 29.72L634.66 28.77L633.75 30.96L635.92 30.01L635 32.19L637.18 31.24M641.77 109.52L640.96 111.75L640 109.58L639.19 111.81L638.23 109.65L637.42 111.88L636.46 109.71M615.93 36.37L616.43 38.69L614.46 37.37L614.96 39.68L612.99 38.36L613.49 40.68L611.53 39.35L612.03 41.67L610.06 40.35M621.65 79.47L622.84 77.44L623.3 79.75L624.49 77.72L624.95 80.02L626.14 77.99L626.6 80.3L627.79 78.27L628.25 80.58M643.73 72.42L646.07 72.64L644.15 73.99L646.48 74.22L644.56 75.57L646.9 75.8L644.98 77.14L647.31 77.37M644.73 40.05L646.34 41.8L643.96 41.72L645.57 43.48L643.19 43.4L644.8 45.16L642.42 45.08L644.03 46.83L641.65 46.75L643.26 48.51M644.89 61.26L646.95 60.16L646.09 62.33L648.16 61.23L647.29 63.41L649.36 62.3M633.95 51.56L633.17 53.81L632.14 51.66L631.37 53.91L630.34 51.77L629.56 54.02L628.54 51.87L627.76 54.12L626.73 51.97M623.72 41.49L623.95 43.81L622.31 42.15L622.54 44.48L620.9 42.82L621.13 45.14L619.49 43.48M626.59 42.7L628.46 44.17L626.1 44.43L627.96 45.9L625.6 46.15L627.46 47.63L625.1 47.88" stroke="#e6c596" stroke-width="0.9"/>
</g>
<path d="M623.5 24 L633 37 L642.5 24Z" fill="#fff"/>
<radialGradient id="rgyg" cx="0.4" cy="0.35" r="0.72"><stop offset="0" stop-color="#a3dc9e"/><stop offset="0.6" stop-color="#76c57c"/><stop offset="1" stop-color="#52a65c"/></radialGradient>
<path d="M482.5 36.4C484.2 36.53 486.18 37.28 487.6 38.5C489.02 39.72 490 41.57 491 43.7C492 45.83 492.73 48.88 493.6 51.3C494.47 53.72 496.35 55.78 496.2 58.2C496.05 60.62 493.98 63.97 492.7 65.8C491.42 67.63 490.33 68.55 488.5 69.2C486.67 69.85 483.83 70.27 481.7 69.7C479.57 69.13 477.42 67.72 475.7 65.8C473.98 63.88 472.18 60.9 471.4 58.2C470.62 55.5 470.72 52.32 471 49.6C471.28 46.88 472.03 43.88 473.1 41.9C474.17 39.92 475.83 38.62 477.4 37.7C478.97 36.78 480.8 36.27 482.5 36.4Z" fill="url(#rgyg)" stroke="none"/>
<radialGradient id="rgyr" cx="0.55" cy="0.35" r="0.72"><stop offset="0" stop-color="#f0998c"/><stop offset="0.6" stop-color="#e0554a"/><stop offset="1" stop-color="#c0332f"/></radialGradient>
<path d="M560.5 33.8C562.57 33.8 565 35.33 566.7 36.9C568.4 38.47 569.73 40.82 570.7 43.2C571.67 45.58 572.35 48.68 572.5 51.2C572.65 53.72 572.27 56.08 571.6 58.3C570.93 60.52 570.2 62.78 568.5 64.5C566.8 66.22 563.62 67.85 561.4 68.6C559.18 69.35 556.98 69.53 555.2 69C553.42 68.47 551.9 67.18 550.7 65.4C549.5 63.62 548.6 60.67 548 58.3C547.4 55.93 546.8 53.72 547.1 51.2C547.4 48.68 548.6 45.58 549.8 43.2C551 40.82 552.52 38.47 554.3 36.9C556.08 35.33 558.43 33.8 560.5 33.8Z" fill="url(#rgyr)" stroke="none"/>
<radialGradient id="rghg" cx="0.4" cy="0.35" r="0.72"><stop offset="0" stop-color="#a3dc9e"/><stop offset="0.6" stop-color="#76c57c"/><stop offset="1" stop-color="#52a65c"/></radialGradient>
<path d="M596.2 32.2C598.25 31.97 601.3 32.4 602.8 33.1C604.3 33.8 604.95 35.05 605.2 36.4C605.45 37.75 604.22 39.47 604.3 41.2C604.38 42.93 605 44.92 605.7 46.8C606.4 48.68 607.8 50.6 608.5 52.5C609.2 54.4 610.05 55.98 609.9 58.2C609.75 60.42 609.1 63.83 607.6 65.8C606.1 67.77 602.95 69.45 600.9 70C598.85 70.55 597.35 70.12 595.3 69.1C593.25 68.08 590.35 66.03 588.6 63.9C586.85 61.77 585.45 58.98 584.8 56.3C584.15 53.62 584.38 50.63 584.7 47.8C585.02 44.97 585.73 41.52 586.7 39.3C587.67 37.08 588.92 35.68 590.5 34.5C592.08 33.32 594.15 32.43 596.2 32.2Z" fill="url(#rghg)" stroke="none"/>
<radialGradient id="rghr" cx="0.55" cy="0.35" r="0.72"><stop offset="0" stop-color="#f0998c"/><stop offset="0.6" stop-color="#e0554a"/><stop offset="1" stop-color="#c0332f"/></radialGradient>
<path d="M663.7 30.4C665.33 29.72 668.3 29.65 670.6 29.9C672.9 30.15 675.53 30.58 677.5 31.9C679.47 33.22 681.25 35.02 682.4 37.8C683.55 40.58 684.23 45.17 684.4 48.6C684.57 52.03 684.05 55.62 683.4 58.4C682.75 61.18 682.13 63.42 680.5 65.3C678.87 67.18 676.07 69.05 673.6 69.7C671.13 70.35 668 70.1 665.7 69.2C663.4 68.3 661.43 66.27 659.8 64.3C658.17 62.33 656.38 59.7 655.9 57.4C655.42 55.1 656.08 52.78 656.9 50.5C657.72 48.22 659.95 45.62 660.8 43.7C661.65 41.78 662 40.62 662 39C662 37.38 660.52 35.43 660.8 34C661.08 32.57 662.07 31.08 663.7 30.4Z" fill="url(#rghr)" stroke="none"/>
<line x1="490" y1="52.7" x2="555" y2="52.7" stroke="#111" stroke-width="0.8" stroke-dasharray="2.2 1.3"/>
<line x1="602" y1="47.5" x2="612" y2="48.4" stroke="#111" stroke-width="0.8" stroke-dasharray="2 1.3"/>
<line x1="612" y1="48.4" x2="655" y2="52.2" stroke="#111" stroke-width="0.7"/>
<line x1="655" y1="52.2" x2="668.6" y2="53.3" stroke="#111" stroke-width="0.8" stroke-dasharray="2 1.3"/>
</svg>
</body></html>
